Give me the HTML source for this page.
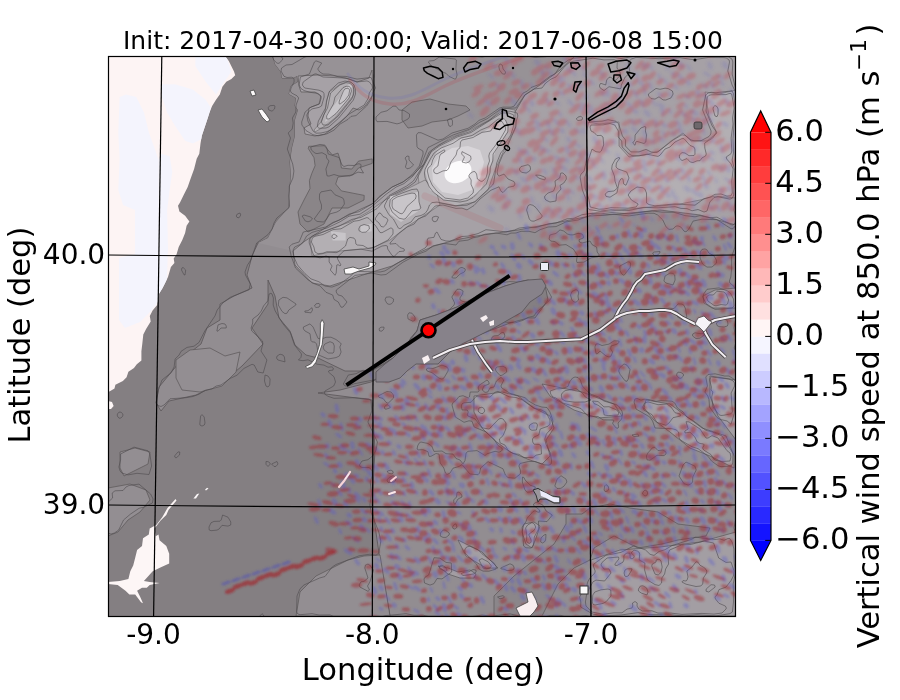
<!DOCTYPE html>
<html><head><meta charset="utf-8"><style>
html,body{margin:0;padding:0;background:#fff;width:900px;height:700px;overflow:hidden}
svg{display:block}
text{font-family:"DejaVu Sans","Liberation Sans",sans-serif;fill:#000}
</style></head><body>
<svg width="900" height="700" viewBox="0 0 900 700">
<rect x="0" y="0" width="900" height="700" fill="#fff"/>
<defs><filter id="blur12" x="-50" y="-50" width="1000" height="800" filterUnits="userSpaceOnUse"><feGaussianBlur stdDeviation="12"/></filter>
<mask id="mSp" maskUnits="userSpaceOnUse" x="0" y="0" width="900" height="700"><rect x="0" y="0" width="900" height="700" fill="#000"/><g filter="url(#blur12)"><polygon points="540,225 736,215 736,530 600,520 540,430" fill="rgb(255,255,255)"/><polygon points="372,380 540,300 600,400 600,616 372,616" fill="rgb(230,230,230)"/><polygon points="320,410 480,400 470,520 380,560 320,520" fill="rgb(255,255,255)"/><polygon points="590,500 736,500 736,545 590,555" fill="rgb(255,255,255)"/><polygon points="590,555 736,545 736,616 590,616" fill="rgb(153,153,153)"/><polygon points="420,256 540,230 560,300 420,330" fill="rgb(153,153,153)"/><polygon points="480,56 736,56 736,220 540,230 470,200" fill="rgb(115,115,115)"/><polygon points="425,150 450,130 490,112 512,106 515,125 500,160 485,195 460,205 430,200 418,180" fill="rgb(0,0,0)"/></g></mask>
<filter id="sb" x="0" y="0" width="900" height="700" filterUnits="userSpaceOnUse"><feGaussianBlur stdDeviation="0.9"/></filter>
<filter id="sb2" x="0" y="0" width="900" height="700" filterUnits="userSpaceOnUse"><feGaussianBlur stdDeviation="1.4"/></filter>
<clipPath id="cpOc"><polygon points="108,56 225,56 228.8,61.1 234,71.4 235.2,75.3 231.4,79.1 226.3,81.7 222.4,86.8 219.8,94.6 216,99.7 212.1,106.1 209.5,112.6 207,120.3 204.4,128 201.8,135.7 200.5,143.4 199.3,153.7 196.7,158.8 194.1,169.1 190.3,179.4 187.7,187.1 183.8,194.8 180,202.5 178,205.7 179.4,211.4 185.1,215.7 189.4,221.4 186.6,225.7 185.1,232.9 182.3,240 178.7,247.1 176.6,254.3 173.7,258.6 174.4,262.9 170.9,267.1 168,277.1 165.1,282.9 162.3,288.6 159,293.7 157.2,304.9 152.6,310.4 149.8,316 150.7,321.6 146.1,329 143.3,334.6 142.3,343.8 141.4,351.3 141.4,360.6 136.8,364.3 134,368 128.4,371.7 126.6,377.3 122.9,381 115.4,384.7 114.5,388.4 109.9,391.2 108,392.1"/></clipPath>
<clipPath id="cpAx"><rect x="108" y="56" width="628" height="560"/></clipPath></defs>
<g id="map" clip-path="url(#cpAx)">
<rect x="108" y="56" width="628" height="560" fill="#847f82"/>
<polygon points="273,56 275,64 281,72 282,78 293,78 297,76 298,82 291,86 289,94 296,98 295,106 298,110 295,120 295,136 292,148 290,162 291,176 289,196 290,206 276,222 268,238 258,243 252,256 247,275 252,288 234,296 220,304 220,320 207,328 201,344 183,358 159,387 156,403 161,411 169,401 196,395 223,382 242,366 263,344 252,328 268,304 268,280 275,296 279,318 290,331 295,345 306,355 318,358 345,371 371,371 393,358 406,345 417,331 420,320 436,315 457,307 478,296 505,286 528,280 545,285 548,300 535,318 528,318 510,323 489,331 468,339 446,350 420,361 398,369 371,382 340,390 318,393 372,400 375,450 372,505 380,560 390,616 736,616 736,56" fill="#928d91" stroke="#5a5658" stroke-width="0.8"/>
<polygon points="273,56 575,56 560,70 540,85 525,95 515,112 501,122 487,126 473,131 459,136 445,147 434,157 424,164 413,175 403,182 392,187 382,195 372,204 361,209 347,216 333,223 319,232 305,241 293,251 258,243 268,238 276,222 290,206 289,196 291,176 290,162 292,148 295,136 295,120 298,110 295,106 296,98 289,94 291,86 298,82 297,76 293,78 282,78 281,72 275,64" fill="#979296"/>
<polygon points="308.8,146.3 324.3,145.7 332.3,154.9 338,153.1 340.2,160 341.4,168 351.7,169.1 358.5,161.1 372.2,158.9 372.2,163.4 358.5,168 352.8,174.9 338,177.1 335.7,184 341.4,190.9 364.2,195.4 364,200 356,204 348,208 332,208 324,224 308,232 300,224 298,212 304,200 310,188.6 309.4,180.6 311.7,173.7 315.1,165.7 314,157.7 308.3,148.6" fill="#8a8588" stroke="#5a5658" stroke-width="0.7"/>
<polygon points="402,110 412,102 430,99 448,104 466,106 470,110 458,116 448,120 432,122 422,126 408,128 402,120" fill="#8c878b" stroke="#5a5658" stroke-width="0.7"/>
<polygon points="298,76 317,75 335,76 349,79 357,82 369,78 372,70 373,95 365,106 359,110 353,108 347,116 341,122 333,128 325,134 315,136 305,134 304,128 311,124 308,116 309,108 319,104 321,96 315,92 301,92 299,86" fill="#a6a1a6" stroke="#5a5658" stroke-width="0.7"/>
<polygon points="293,251 305,241 319,232 333,223 347,216 361,209 372,204 382,195 392,187 403,182 413,175 424,164 434,157 445,147 459,136 473,131 487,126 501,122 515,112 525,95 540,85 560,70 575,56 736,56 736,225 700,215 660,210 620,214 590,216 560,222 539,226 518,230 497,233 476,236 455,240 434,246 413,255 392,266 372,272 351,279 330,286 312,283 295,265" fill="#a6a1a6" stroke="#5a5658" stroke-width="0.7"/>
<polygon points="418,175 432,150 450,138 470,130 490,120 503,108 515,110 515,128 505,148 495,170 488,190 475,202 455,206 435,202 420,192" fill="#b3afb3" stroke="#6a6668" stroke-width="0.6"/>
<polygon points="587,122 599,124 619,122 619,146 629,157 645,155 659,151 671,141 683,133 691,141 707,141 717,133 709,116 705,92 719,94 736,90 736,198 715,196 700,200 680,204 660,206 640,208 620,210 600,212 587,214" fill="#b3afb3" stroke="#6a6668" stroke-width="0.6"/>
<polygon points="329,92 341,84 349,81 354,85 353,96 345,106 335,118 325,126 315,132 314,130 321,122 325,112 327,100" fill="#b3afb3" stroke="#6a6668" stroke-width="0.6"/>
<polygon points="310,238 330,229 350,222 368,212 385,200 405,190 425,180 436,190 440,205 425,215 408,226 390,240 372,248 350,250 330,252 312,256" fill="#b3afb3" stroke="#6a6668" stroke-width="0.6"/>
<polygon points="425,170 438,150 455,140 478,135 495,125 505,118 508,130 496,150 488,172 480,192 465,200 445,200 430,190" fill="#c8c5c9"/>
<polygon points="343,90 349,84 352,86 350,96 341,108 331,118 325,122 327,114 335,104 341,96" fill="#c8c5c9"/>
<polygon points="330.8,231.3 345.7,233.1 345.7,240.6 332.7,240.6" fill="#c8c5c9"/>
<polygon points="360.6,225.7 371.7,223.8 371.7,231.3 360.6,233.1" fill="#c8c5c9"/>
<polygon points="390,196 418,192 420,210 401,222 390,214" fill="#c8c5c9"/>
<polygon points="432,168 440,155 452,148 468,146 480,150 484,162 480,178 472,190 458,195 442,192 433,182" fill="#d9d6da"/>
<ellipse cx="458" cy="172" rx="14" ry="10.5" transform="rotate(-25 458 172)" fill="#fcfbfc"/>
<polygon points="296,616 300,592 316,576 332,568 348,560 364,556 380,555 390,616" fill="#938e92" stroke="#5a5658" stroke-width="0.7"/>
<polygon points="176,360 190,350 210,348 225,356 240,352 236,372 222,386 200,392 182,390 176,378" fill="#938e92" stroke="#5a5658" stroke-width="0.7"/>
<polygon points="108,488 130,484 146,490 150,500 140,512 128,520 118,532 108,536" fill="#938e92" stroke="#5a5658" stroke-width="0.7"/>
<polygon points="120,452 135,448 150,452 148,464 136,470 124,476 120,468" fill="#938e92" stroke="#5a5658" stroke-width="0.7"/>
<polygon points="494,596 514,576 534,560 554,544 566,524 566,514 582,514 590,508 610,504 630,508 658,512 678,524 710,528 706,536 678,540 662,544 638,548 614,536 594,548 590,560 574,568 558,584 550,600 542,616 494,616" fill="#8b868a" stroke="#5a5658" stroke-width="0.7"/>
<polygon points="474,396 502,392 518,396 534,408 550,416 554,428 546,440 550,456 542,464 530,460 510,452 494,440 482,428 474,412" fill="#a39ea3" stroke="#5a5658" stroke-width="0.7"/>
<polygon points="542,384 582,392 614,404 622,416 598,418 574,410 550,396" fill="#a39ea3" stroke="#5a5658" stroke-width="0.7"/>
<polygon points="646,400 670,404 686,416 702,428 726,436 734,456 734,468 710,456 690,448 670,432 654,420 644,408" fill="#a39ea3" stroke="#5a5658" stroke-width="0.7"/>
<polygon points="458,540 482,552 498,568 486,568 466,556" fill="#a39ea3" stroke="#5a5658" stroke-width="0.7"/>
<polygon points="710,376 736,380 736,440 718,416 710,396" fill="#a39ea3" stroke="#5a5658" stroke-width="0.7"/>
<polygon points="703,296 715,290 736,288 736,308 712,308 704,303" fill="#a39ea3" stroke="#5a5658" stroke-width="0.7"/>
<polygon points="591,560 620,550 660,547 700,542 736,532 736,616 591,616" fill="#a39ea3" stroke="#5a5658" stroke-width="0.7"/>
<polygon points="438,566 448,568 458,572 470,570 476,574 474,578 460,578 448,574" fill="#a39ea3" stroke="#5a5658" stroke-width="0.7"/>
<polygon points="524,524 534,522 540,526 536,538 532,548 526,544 522,532" fill="#a39ea3" stroke="#5a5658" stroke-width="0.7"/>
<path d="M132.1,0.0 125.4,4.0 126.0,6.2 130.0,7.3 131.0,9.0 127.2,14.0 126.0,14.8 121.0,14.3 118.4,15.0 114.0,20.2 112.0,19.0 107.4,9.0 107.1,4.0 105.7,0.0M222.9,0.0 218.5,8.0 216.0,9.3 213.0,7.8 210.4,0.0M289.0,0.0 288.6,7.0 293.3,10.0 294.3,13.0 291.7,19.0 289.0,20.2 278.6,15.0 276.0,12.0 275.8,10.0 278.3,5.0 278.7,0.0M418.7,0.0 417.8,2.0 415.0,2.9 411.0,0.8 408.0,1.2 406.7,0.0M468.5,0.0 469.9,6.0 467.2,11.0 465.0,11.9 460.0,9.2 457.9,7.0 457.3,4.0 459.8,0.0M537.2,0.0 534.6,5.0 538.8,9.0 534.0,10.4 530.7,7.0 530.3,0.0M647.0,0.0 645.8,3.0 641.0,4.2 638.0,6.0 628.0,4.7 624.0,5.3 618.0,3.6 610.0,7.2 608.0,6.3 606.0,3.8 604.7,0.0M740.5,0.0 739.5,7.0 737.9,10.0 735.0,11.6 728.0,12.5 726.6,15.0 726.2,19.0 724.0,19.9 720.9,19.0 715.4,11.0 716.2,0.0M823.5,0.0 821.0,3.0 816.0,2.6 811.0,4.4 803.0,1.7 801.8,0.0M572.0,28.2 567.0,28.6 562.0,25.8 557.0,28.0 551.0,27.4 550.1,26.0 550.6,19.0 549.3,13.0 553.0,12.6 556.0,13.6 562.6,18.0 565.0,21.8 567.0,21.6 571.0,19.0 576.9,21.0 578.5,23.0 577.6,25.0 575.0,27.3 572.0,28.2M393.0,39.4 391.0,38.6 390.4,36.0 392.9,34.0 396.0,33.3 396.9,34.0 396.7,36.0 393.0,39.4M368.0,47.2 365.0,47.0 356.7,41.0 356.5,39.0 359.0,35.9 367.0,34.4 369.0,35.8 370.6,39.0 369.2,46.0 368.0,47.2M376.0,636.4 373.0,636.4 367.0,631.6 361.0,632.8 360.0,631.0 360.8,627.0 360.0,624.7 350.8,619.0 336.0,617.6 330.0,614.9 319.1,615.0 312.0,613.7 300.0,614.7 297.9,614.0 296.6,612.0 297.0,596.0 300.0,588.8 303.9,585.0 319.6,578.0 325.0,576.5 332.2,567.0 336.0,564.5 359.0,555.8 370.0,554.2 376.0,555.2 378.9,553.0 380.8,541.0 378.8,532.0 371.3,513.0 369.9,505.0 371.4,494.0 370.3,482.0 372.1,476.0 372.0,471.4 371.0,469.1 369.0,467.5 362.0,467.5 360.0,466.6 359.4,465.0 362.0,461.0 368.0,459.7 373.0,455.7 376.1,450.0 377.4,442.0 367.9,422.0 371.8,411.0 371.0,400.5 369.0,399.0 355.0,397.7 334.0,398.3 328.0,396.3 325.0,394.3 324.4,393.0 325.0,391.0 333.7,386.0 335.5,382.0 334.0,376.8 328.4,372.0 329.0,370.6 333.0,370.1 333.3,368.0 332.0,366.8 328.0,367.2 324.0,365.1 317.0,364.2 308.0,359.8 303.0,360.7 298.4,360.0 301.0,357.3 301.5,354.0 294.5,345.0 290.5,333.0 283.0,323.9 275.2,311.0 273.2,305.0 273.4,298.0 272.0,294.0 271.0,293.2 269.1,294.0 268.0,300.6 263.5,306.0 261.3,311.0 258.1,315.0 252.7,319.0 252.7,323.0 251.1,328.0 251.8,331.0 262.5,341.0 262.8,344.0 261.0,351.0 266.9,360.0 263.2,373.0 257.8,372.0 254.2,365.0 252.0,364.3 244.0,368.4 237.0,375.2 230.0,378.5 221.0,385.0 216.0,386.1 212.0,388.9 205.0,390.3 199.0,394.2 193.0,396.5 186.0,397.7 170.0,398.8 164.0,405.0 161.0,406.5 158.0,405.5 156.1,403.0 158.4,390.0 162.0,380.0 171.0,372.8 174.1,367.0 175.1,359.0 179.1,355.0 181.0,351.4 187.0,347.4 194.0,346.2 199.0,342.4 204.8,331.0 215.0,315.9 217.2,310.0 222.8,303.0 230.0,297.4 249.0,289.8 250.3,284.0 245.5,275.0 245.0,272.0 247.5,265.0 250.8,260.0 256.7,243.0 268.0,234.6 272.1,229.0 274.0,223.0 276.9,218.0 288.9,208.0 289.3,186.0 292.9,178.0 293.9,171.0 292.7,164.0 287.3,149.0 290.5,138.0 288.2,133.0 292.2,129.0 293.2,123.0 292.4,118.0 295.8,112.0 296.1,105.0 298.7,98.0 297.0,95.8 291.6,93.0 290.4,91.0 291.0,88.0 294.1,82.0 294.0,78.5 292.0,77.2 287.0,77.5 284.0,76.3 281.0,71.0 281.6,68.0 286.0,65.0 292.0,64.5 305.0,56.9 315.0,54.5 331.0,56.2 347.0,52.7 357.0,54.0 363.0,51.2 367.0,53.2 378.0,55.6 385.0,54.8 392.0,52.2 408.0,55.8 416.0,53.8 423.0,55.1 426.1,54.0 428.1,52.0 424.9,45.0 419.0,43.0 420.0,39.0 423.0,37.1 427.6,39.0 428.3,43.0 432.0,47.7 441.4,52.0 447.0,53.2 458.0,52.4 464.0,54.8 482.0,57.1 494.0,54.6 504.0,55.5 509.0,54.8 515.0,56.8 530.0,56.6 535.0,57.5 546.0,56.7 551.0,55.0 563.0,53.5 589.0,53.3 601.0,51.5 609.0,53.7 621.0,54.5 636.0,52.4 648.0,52.4 659.0,53.7 673.0,53.0 683.0,51.5 691.0,53.2 710.0,53.0 720.0,51.7 727.0,52.5 734.0,54.6 736.0,56.4 736.9,59.0 736.4,74.0 740.7,106.0 738.4,140.0 738.1,161.0 740.8,175.0 740.9,183.0 738.8,200.0 739.5,210.0 742.4,215.0 743.0,218.0 739.6,231.0 735.2,240.0 734.9,247.0 731.6,257.0 731.6,269.0 730.8,277.0 729.4,281.0 729.8,283.0 734.0,286.4 735.6,289.0 737.7,296.0 739.1,306.0 739.1,311.0 735.2,321.0 734.1,328.0 736.0,342.0 734.2,348.0 737.0,354.0 735.0,370.0 735.9,374.0 743.2,386.0 740.0,391.1 737.8,397.0 738.3,408.0 735.7,442.0 737.9,456.0 735.3,485.0 736.0,488.3 738.5,492.0 739.1,500.0 737.7,507.0 738.3,514.0 735.3,521.0 734.0,528.0 738.2,542.0 738.4,567.0 739.6,575.0 737.8,583.0 738.9,607.0 737.0,614.1 733.0,617.4 724.0,619.4 714.0,620.4 708.0,618.9 696.0,618.0 680.0,621.6 672.0,618.8 663.0,619.0 657.0,620.7 638.0,616.7 617.0,619.4 605.0,619.9 586.0,615.6 567.0,617.6 561.0,615.4 550.0,615.4 545.0,616.9 537.0,616.5 528.0,618.1 510.0,613.9 491.0,616.2 482.0,615.1 460.0,618.4 449.0,617.1 440.0,620.6 435.0,618.1 423.0,615.2 414.0,615.3 406.0,613.7 385.0,615.7 379.0,618.0 372.0,619.3 370.3,622.0 371.0,625.5 373.0,627.2 377.5,628.0 376.0,632.0 376.6,636.0 376.0,636.4M73.0,46.4 68.8,41.0 69.6,39.0 71.0,38.2 73.1,39.0 73.8,45.0 73.0,46.4M9.0,46.3 6.9,46.0 5.4,44.0 5.8,41.0 7.0,40.2 10.4,43.0 10.4,45.0 9.0,46.3M33.0,61.0 30.0,60.6 28.2,58.0 28.4,54.0 30.0,51.8 32.0,52.0 33.7,54.0 34.0,59.0 33.0,61.0M279.0,63.3 277.0,63.2 273.8,60.0 272.5,57.0 273.0,54.0 277.0,54.4 282.8,58.0 282.4,60.0 279.0,63.3M84.0,86.4 79.0,85.3 73.0,80.7 73.0,79.4 76.9,77.0 79.0,73.2 81.7,75.0 85.1,83.0 85.2,85.0 84.0,86.4M843.0,88.2 839.0,89.0 836.0,88.4 832.3,84.0 832.2,83.0 838.0,76.7 843.0,77.9 847.0,77.4 849.0,79.6 849.2,83.0 848.0,86.3 843.0,88.2M25.0,115.1 22.0,115.5 19.6,114.0 19.0,112.0 22.2,107.0 22.0,105.0 15.2,101.0 19.0,95.7 23.5,92.0 25.9,86.0 28.0,85.4 31.3,88.0 29.8,91.0 29.5,95.0 33.4,99.0 33.9,101.0 32.0,104.4 27.0,105.2 25.1,107.0 24.8,109.0 26.6,113.0 25.0,115.1M0.0,90.4 5.0,91.0 9.4,98.0 6.3,105.0 7.0,108.0 5.0,108.9 2.0,108.4 0.0,109.7M272.0,111.2 268.8,110.0 268.0,107.6 270.0,105.7 274.0,105.4 275.0,106.1 274.5,109.0 272.0,111.2M34.0,127.3 32.0,127.6 26.9,126.0 25.5,124.0 26.0,120.8 28.0,119.5 34.0,118.6 35.6,124.0 35.3,126.0 34.0,127.3M879.0,127.2 877.0,127.2 874.0,125.2 870.0,125.1 869.5,124.0 874.0,120.7 877.0,119.9 881.1,124.0 880.5,126.0 879.0,127.2M349.8,176.0 358.0,172.1 363.5,173.0 360.6,168.0 361.1,165.0 360.4,164.0 358.0,163.8 354.0,165.5 348.0,165.3 344.0,166.5 342.0,165.0 339.0,157.5 328.2,154.0 326.8,148.0 325.0,145.2 320.0,144.4 310.7,147.0 311.3,150.0 315.0,153.1 317.0,153.6 322.0,152.7 326.3,155.0 326.6,158.0 329.0,161.0 325.9,169.0 327.0,175.8 329.0,176.1 334.0,174.5 339.0,176.0 349.8,176.0M88.0,155.5 86.7,155.0 86.3,153.0 89.1,147.0 92.0,145.9 96.1,147.0 97.7,150.0 97.0,152.0 91.0,152.3 88.0,155.5M410.1,168.0 413.6,165.0 409.0,160.0 409.0,156.4 407.0,156.0 405.1,158.0 406.9,162.0 405.4,167.0 407.0,168.8 410.1,168.0M30.0,203.2 27.0,202.7 24.2,200.0 21.1,187.0 15.5,180.0 15.7,173.0 18.0,170.2 21.0,169.9 28.0,172.2 29.7,174.0 33.0,182.4 37.8,185.0 35.6,189.0 36.6,191.0 40.0,194.0 40.1,196.0 35.0,198.1 30.0,203.2M834.0,183.1 832.0,182.6 829.9,180.0 830.0,176.0 834.3,181.0 834.0,183.1M895.0,186.7 889.0,186.5 887.9,186.0 887.8,184.0 890.0,182.2 894.2,183.0 895.9,185.0 895.0,186.7M69.0,208.3 62.0,208.9 61.0,208.7 60.3,207.0 61.8,202.0 60.9,192.0 62.8,189.0 65.0,187.7 68.0,188.9 71.6,193.0 71.7,199.0 69.0,208.3M323.3,222.0 325.9,220.0 330.0,213.9 336.9,212.0 340.3,210.0 344.4,204.0 343.9,200.0 342.8,198.0 335.0,194.8 331.0,190.0 321.0,191.9 319.6,194.0 319.4,199.0 321.5,205.0 321.4,209.0 314.2,219.0 317.0,221.4 323.3,222.0M853.0,221.6 851.4,221.0 851.6,213.0 853.0,210.7 855.0,210.0 856.0,212.0 854.5,219.0 853.0,221.6M239.0,217.8 237.0,217.4 236.2,216.0 237.3,214.0 240.0,213.0 240.8,215.0 239.0,217.8M310.3,221.0 312.5,219.0 310.8,217.0 304.0,215.0 302.1,216.0 305.3,221.0 308.0,221.8 310.3,221.0M185.0,275.0 184.0,274.8 181.5,270.0 181.9,268.0 183.0,267.4 185.7,270.0 185.0,275.0M673.0,285.0 675.1,280.0 674.7,275.0 673.0,273.4 670.0,273.0 665.0,276.1 663.9,281.0 665.9,283.0 673.0,285.0M348.8,386.0 354.0,383.8 374.0,379.9 383.0,376.0 391.0,374.7 407.0,363.9 416.1,362.0 429.0,357.5 438.0,349.0 450.0,347.0 461.0,342.3 481.0,331.4 486.8,330.0 495.0,323.1 492.9,315.0 497.0,307.3 504.3,307.0 505.3,316.0 503.8,320.0 504.4,322.0 515.0,322.9 523.0,320.3 528.0,317.4 534.0,316.0 536.6,312.0 545.7,304.0 550.6,299.0 551.5,297.0 546.7,288.0 544.7,286.0 540.4,284.0 526.0,280.3 518.0,282.1 510.0,281.6 503.0,282.4 491.0,292.6 477.0,295.7 470.0,301.0 467.0,302.0 463.0,301.5 460.1,300.0 459.9,298.0 462.5,294.0 463.1,291.0 460.0,289.2 457.0,289.3 451.8,297.0 454.7,303.0 454.0,305.2 447.8,311.0 438.0,318.1 431.0,321.3 423.0,322.5 419.4,328.0 411.0,337.4 408.1,343.0 397.1,357.0 390.0,359.8 383.0,364.8 371.0,371.2 368.0,371.7 363.0,370.2 356.0,373.7 348.3,375.0 343.3,384.0 345.2,386.0 348.8,386.0M0.0,283.3 2.0,283.6 3.5,285.0 6.2,294.0 4.9,297.0 0.0,298.1M806.0,297.4 799.7,297.0 798.0,292.6 794.0,288.3 795.0,285.0 800.0,284.2 800.9,285.0 802.0,289.8 805.0,293.2 806.0,297.4M391.1,304.0 393.2,302.0 393.6,299.0 390.0,296.9 386.0,297.2 385.0,299.9 387.0,303.5 389.0,304.4 391.1,304.0M767.0,308.1 765.0,308.2 762.8,306.0 762.3,303.0 764.0,300.6 769.0,301.6 770.8,303.0 770.2,305.0 767.0,308.1M727.4,326.0 728.0,324.0 727.4,321.0 725.0,318.4 722.0,318.7 716.4,323.0 717.0,325.5 719.0,326.6 724.0,327.0 727.4,326.0M107.0,349.6 104.0,349.5 103.1,348.0 104.1,346.0 107.0,344.6 107.0,349.6M28.0,357.1 26.0,357.6 25.0,356.1 22.4,350.0 22.2,347.0 23.0,346.4 28.0,346.2 30.4,348.0 30.6,352.0 28.0,357.1M102.0,358.2 100.0,358.5 98.6,357.0 101.0,352.2 103.6,356.0 102.0,358.2M285.0,361.9 277.9,360.0 276.5,358.0 277.1,356.0 280.0,354.2 283.0,355.0 284.4,357.0 285.0,361.9M74.0,376.2 69.6,375.0 68.7,374.0 69.0,372.1 72.0,372.1 74.0,376.2M268.0,387.0 266.0,386.1 264.5,381.0 265.0,375.0 268.0,376.0 270.1,379.0 269.7,385.0 268.0,387.0M774.0,399.4 771.0,398.7 769.5,396.0 768.4,387.0 770.0,384.0 775.0,384.4 782.6,388.0 777.0,393.8 775.7,398.0 774.0,399.4M822.0,418.2 819.0,417.6 816.4,415.0 821.3,410.0 824.0,405.2 827.0,403.7 828.9,404.0 830.0,406.9 829.4,409.0 824.7,412.0 824.0,416.0 822.0,418.2M121.0,418.0 119.0,418.2 117.3,416.0 117.4,414.0 119.0,412.1 121.0,412.2 122.9,414.0 122.8,416.0 121.0,418.0M63.0,429.3 61.0,429.4 47.0,424.6 42.3,419.0 42.5,418.0 56.0,413.8 61.0,414.0 60.9,419.0 65.1,425.0 64.7,428.0 63.0,429.3M202.0,426.1 200.0,425.1 199.8,424.0 200.6,416.0 202.0,414.6 204.2,417.0 205.0,423.0 204.3,425.0 202.0,426.1M0.0,439.0 6.0,441.3 7.2,444.0 5.8,446.0 0.0,449.2M149.0,474.5 137.0,473.3 128.0,474.9 121.8,473.0 120.1,471.0 118.9,467.0 120.6,460.0 120.6,454.0 134.0,447.1 148.0,450.8 149.9,454.0 151.6,466.0 149.0,474.5M176.0,458.0 174.7,457.0 175.0,455.4 178.0,451.9 179.8,452.0 179.5,455.0 176.0,458.0M268.0,466.5 266.0,464.3 266.0,461.5 268.0,461.6 270.0,463.0 270.3,464.0 268.0,466.5M276.0,466.4 274.0,466.5 271.6,464.0 277.0,461.5 278.0,464.0 276.0,466.4M688.1,485.0 690.8,484.0 692.6,482.0 692.8,477.0 696.2,470.0 694.8,466.0 686.0,462.1 683.0,465.0 679.0,476.0 684.0,483.7 688.1,485.0M393.2,473.0 392.7,471.0 391.0,470.1 387.5,471.0 387.3,472.0 389.0,473.4 392.0,473.9 393.2,473.0M394.1,482.0 395.4,481.0 395.8,479.0 395.0,477.0 393.0,475.6 389.0,477.6 386.9,480.0 388.0,482.4 394.1,482.0M875.0,486.3 872.0,486.4 868.3,485.0 866.8,479.0 873.0,476.2 877.0,476.5 877.9,478.0 877.3,484.0 875.0,486.3M111.0,534.0 109.0,533.5 108.0,532.1 100.8,515.0 106.0,507.7 108.3,502.0 112.6,498.0 112.2,493.0 115.0,490.8 123.0,490.5 126.0,487.0 129.0,485.5 139.0,484.1 150.6,494.0 153.1,499.0 152.4,503.0 144.0,507.1 139.0,508.3 130.6,514.0 123.5,520.0 118.7,530.0 114.4,533.0 111.0,534.0M78.0,516.5 74.0,516.5 66.0,511.0 60.7,510.0 57.0,503.0 62.0,495.3 74.0,492.9 78.0,495.2 83.6,501.0 84.1,503.0 83.3,507.0 79.6,515.0 78.0,516.5M851.0,516.1 848.0,516.2 847.2,515.0 846.4,508.0 848.0,506.5 852.0,506.6 855.2,510.0 854.5,513.0 851.0,516.1M822.0,519.6 818.0,519.4 816.0,518.3 815.3,515.0 816.0,512.2 819.0,511.8 821.4,513.0 822.7,517.0 822.0,519.6M217.0,530.1 211.0,530.7 209.2,530.0 209.0,527.0 211.0,522.8 214.0,521.4 220.0,521.2 221.2,520.0 222.6,515.0 228.0,517.2 230.8,522.0 230.7,525.0 228.0,526.1 222.0,525.3 219.1,529.0 217.0,530.1M800.0,538.2 798.3,538.0 800.2,530.0 803.0,527.4 805.0,527.5 806.3,530.0 803.0,536.1 800.0,538.2M542.4,543.0 544.4,542.0 545.6,540.0 546.0,534.4 544.0,535.0 541.0,538.0 540.7,542.0 542.4,543.0M0.0,537.3 3.0,537.5 8.0,539.7 10.1,542.0 9.0,544.4 3.0,548.1 0.0,548.7M784.0,616.2 781.0,615.9 778.5,614.0 778.1,610.0 785.0,604.3 792.0,605.1 794.3,609.0 794.0,611.3 792.0,613.4 784.0,616.2M263.0,625.3 261.0,625.9 259.0,625.1 256.8,621.0 257.9,618.0 262.0,613.7 263.5,615.0 264.9,622.0 263.0,625.3M0.0,618.3 2.9,620.0 7.9,627.0 7.4,632.0 0.0,637.3M685.0,635.2 683.0,635.8 679.0,635.3 675.8,633.0 675.5,629.0 679.0,623.1 680.0,622.8 684.0,625.7 686.0,628.6 686.9,632.0 685.0,635.2M294.0,644.3 291.0,644.2 289.2,642.0 290.0,639.4 292.0,637.8 295.0,638.0 296.2,640.0 296.0,642.0 294.0,644.3M590.0,645.5 588.0,645.4 586.5,644.0 586.5,642.0 588.0,640.2 590.0,640.6 591.1,642.0 591.3,644.0 590.0,645.5M388.0,650.4 385.5,650.0 384.5,647.0 385.0,645.6 388.9,648.0 388.0,650.4M301.0,656.3 297.4,652.0 297.3,650.0 299.0,648.4 301.0,648.4 303.3,652.0 303.1,655.0 301.0,656.3M775.0,661.6 770.0,658.4 764.0,659.2 759.0,656.7 755.0,656.5 753.7,655.0 754.0,653.2 755.0,652.0 757.0,652.0 760.0,654.8 774.0,656.8 776.1,660.0 775.0,661.6M430.0,669.1 429.0,669.4 428.0,668.3 426.3,663.0 421.7,660.0 425.0,659.4 427.6,662.0 431.0,663.6 431.8,666.0 430.0,669.1M479.0,687.1 477.2,686.0 474.9,680.0 469.7,677.0 467.5,671.0 468.0,669.4 478.0,668.6 481.0,667.2 488.5,674.0 490.6,679.0 489.8,682.0 479.0,687.1M677.0,686.2 672.0,685.9 669.0,682.0 676.0,675.3 679.0,674.5 682.3,675.0 683.3,676.0 682.9,677.0 679.0,684.9 677.0,686.2M861.0,686.1 856.0,686.0 855.4,680.0 856.6,678.0 858.1,678.0 862.8,682.0 862.7,685.0 861.0,686.1M90.0,693.4 88.0,693.7 83.7,689.0 83.4,682.0 85.0,679.8 87.0,680.1 95.4,685.0 94.0,689.1 90.0,693.4M163.0,684.1 161.6,684.0 154.8,682.0 162.2,680.0 164.4,682.0 163.0,684.1M146.0,690.6 144.0,690.4 143.1,689.0 142.9,686.0 144.0,685.0 149.3,686.0 148.7,688.0 146.0,690.6M180.4,699.0 182.7,694.0 181.9,691.0 183.0,689.9 184.4,691.0 184.6,694.0 186.0,695.4 188.0,695.9 192.0,694.4 192.0,699.0M488.7,699.0 488.4,691.0 491.0,689.3 495.0,690.7 500.0,690.0 503.0,690.7 506.0,694.3 506.9,699.0M175.5,699.0 174.1,695.0 175.0,692.6 176.7,694.0 177.4,699.0M47.3,699.0 48.0,696.6 50.0,694.6 57.0,693.3 59.8,695.0 60.5,699.0M82.8,699.0 84.0,696.2 89.0,694.1 91.8,699.0M343.0,307.1 341.0,307.2 338.3,302.0 334.0,299.4 332.7,295.0 326.0,292.3 320.0,285.9 314.0,283.6 308.0,279.9 295.5,268.0 291.2,256.0 289.2,247.0 292.0,244.2 299.1,242.0 303.3,232.0 325.7,227.0 333.0,222.4 339.0,220.4 349.0,214.1 359.0,211.7 372.0,204.0 376.0,200.7 379.0,196.7 392.4,187.0 403.0,182.0 412.0,174.8 419.3,166.0 423.1,154.0 422.9,151.0 418.0,148.2 417.0,146.7 416.4,135.0 418.0,132.7 421.0,132.7 438.0,140.2 443.0,139.0 452.0,133.0 468.0,128.3 475.0,124.0 479.0,120.4 485.1,118.0 499.6,108.0 503.0,107.1 511.0,107.2 514.0,106.2 523.0,93.1 527.5,91.0 531.0,87.5 539.0,84.6 550.0,76.3 554.9,74.0 559.0,68.1 564.0,63.2 568.5,60.0 574.0,58.1 594.0,56.5 614.0,57.3 621.0,58.6 638.0,55.7 660.0,57.1 681.0,56.2 693.0,57.1 724.0,56.0 728.7,57.0 732.0,59.1 732.8,62.0 732.2,74.0 736.0,91.0 737.8,107.0 735.9,161.0 737.2,170.0 737.3,184.0 735.8,210.0 737.4,220.0 736.0,225.0 733.0,228.7 731.0,228.7 717.0,219.7 702.0,219.2 693.0,221.1 688.9,229.0 686.0,231.8 684.0,231.2 681.0,227.1 678.0,225.9 676.0,226.1 672.9,229.0 669.0,229.4 666.1,227.0 662.8,220.0 657.7,215.0 654.0,213.3 648.0,213.2 629.0,215.9 613.0,214.2 601.0,215.3 592.0,214.7 578.0,220.0 566.0,221.9 556.0,226.6 548.0,227.0 540.0,229.7 535.0,232.7 529.0,231.3 521.0,231.3 516.0,233.0 511.0,233.1 507.0,234.8 496.0,233.0 485.0,234.2 478.0,236.9 473.0,237.7 468.0,240.1 459.0,241.2 456.0,245.0 444.0,243.4 433.0,245.8 426.0,251.2 418.0,254.2 403.3,262.0 386.0,274.5 381.0,275.0 372.0,273.1 355.0,275.4 336.3,290.0 336.2,292.0 338.0,294.9 342.0,296.0 347.0,302.0 343.0,307.1M455.0,79.2 449.0,76.4 446.0,73.3 442.0,71.9 431.0,65.5 428.3,62.0 429.4,61.0 434.0,60.5 439.0,57.2 455.1,59.0 456.4,60.0 455.9,69.0 457.1,75.0 456.0,78.6 455.0,79.2M322.0,135.0 318.0,135.8 313.0,134.7 306.0,130.6 301.9,125.0 301.7,122.0 305.1,112.0 311.1,107.0 319.5,104.0 321.2,98.0 320.8,96.0 318.0,93.4 310.0,92.3 304.0,90.5 301.0,88.5 299.1,85.0 300.4,77.0 309.4,74.0 314.4,62.0 316.0,60.8 321.7,63.0 317.7,69.0 319.8,72.0 323.0,74.0 329.0,74.2 337.0,76.2 346.0,76.4 357.0,79.1 371.0,77.4 375.5,88.0 372.7,93.0 371.3,99.0 366.6,106.0 356.0,115.6 351.0,116.4 348.0,119.4 340.2,124.0 334.0,130.1 327.0,133.8 322.0,135.0M505.0,74.1 502.5,74.0 499.5,70.0 498.8,66.0 500.0,63.9 502.2,65.0 503.1,69.0 505.6,72.0 505.0,74.1M400.0,123.1 397.0,123.9 387.0,121.4 377.0,121.7 376.0,119.9 376.0,117.0 381.0,112.3 387.0,110.8 393.0,106.2 396.0,106.2 399.1,110.0 404.0,110.5 409.5,114.0 409.5,117.0 408.0,119.0 400.0,123.1M451.0,126.4 449.0,126.0 447.4,120.0 450.0,118.7 452.0,119.5 452.5,121.0 452.4,125.0 451.0,126.4M584.0,262.1 577.0,262.5 576.5,261.0 577.3,255.0 573.3,249.0 566.0,244.6 559.0,245.2 555.0,241.6 550.6,241.0 549.1,239.0 549.9,235.0 556.0,233.4 560.0,229.9 563.7,231.0 567.5,234.0 570.0,234.8 573.0,234.9 578.0,233.3 582.0,234.0 583.3,236.0 583.3,238.0 579.0,239.7 579.4,242.0 582.0,243.0 590.0,241.0 592.0,244.6 596.6,247.0 597.2,252.0 599.3,255.0 598.0,256.8 591.0,257.8 584.0,262.1M712.0,267.0 707.0,267.1 702.5,264.0 700.1,258.0 700.3,252.0 702.0,249.4 705.0,248.9 707.0,249.9 708.8,253.0 714.0,255.9 716.4,260.0 716.6,263.0 712.0,267.0M657.0,255.5 654.0,255.5 652.6,253.0 654.0,252.0 660.0,251.5 659.8,253.0 657.0,255.5M624.0,275.3 622.0,274.2 620.1,271.0 619.8,266.0 628.0,261.8 629.8,262.0 630.7,264.0 630.0,267.6 624.0,275.3M456.0,278.0 452.5,278.0 451.8,277.0 459.6,268.0 462.0,267.4 465.0,268.8 465.4,270.0 464.3,272.0 460.1,274.0 456.0,278.0M724.0,309.0 715.0,309.4 706.0,303.5 702.8,297.0 703.6,294.0 707.0,289.3 719.0,287.9 727.7,291.0 730.4,293.0 733.5,299.0 734.0,306.1 732.0,308.0 724.0,309.0M576.0,302.2 574.0,302.0 572.0,300.3 570.5,295.0 572.0,291.4 576.0,289.6 578.0,290.6 578.7,293.0 578.0,296.0 578.6,300.0 576.0,302.2M287.0,313.2 285.0,313.7 282.0,311.4 278.3,305.0 278.9,300.0 283.0,297.3 287.0,297.9 296.0,304.0 295.8,305.0 288.8,310.0 287.0,313.2M319.0,307.1 316.0,307.5 314.4,306.0 316.0,303.8 319.0,303.4 320.2,305.0 319.0,307.1M685.0,319.6 682.0,319.7 677.4,317.0 678.6,313.0 676.0,310.8 671.0,311.9 664.5,310.0 669.0,308.2 674.0,308.6 678.0,303.9 682.0,304.1 684.0,305.4 685.6,309.0 686.8,317.0 685.0,319.6M311.0,312.8 305.0,312.2 304.8,311.0 308.0,310.7 312.0,307.7 312.5,310.0 311.0,312.8M413.0,321.3 408.0,318.9 407.6,315.0 409.0,312.8 412.0,313.2 415.0,317.1 415.0,319.9 413.0,321.3M218.0,331.2 216.9,331.0 218.0,324.9 222.0,323.5 225.0,324.0 226.3,326.0 226.2,328.0 221.0,328.0 218.0,331.2M328.0,359.0 318.7,355.0 316.5,344.0 315.0,342.2 312.0,341.8 311.0,340.7 310.0,333.7 305.0,331.0 303.4,329.0 303.4,327.0 310.0,323.9 313.1,327.0 318.0,338.3 321.0,339.3 326.0,337.3 331.0,337.2 336.0,339.5 340.6,343.0 341.2,344.0 339.8,347.0 341.1,352.0 339.4,356.0 336.0,357.6 328.0,359.0M382.0,331.1 379.6,331.0 379.0,328.7 381.0,327.2 384.0,327.1 383.9,329.0 382.0,331.1M498.0,341.3 492.0,341.7 491.3,340.0 492.0,337.3 494.0,335.9 498.0,335.6 502.0,332.4 504.0,332.8 504.9,336.0 504.0,337.9 498.0,341.3M700.0,338.2 696.0,338.6 692.6,336.0 692.7,334.0 695.0,332.8 701.0,333.8 704.0,333.1 704.0,335.1 700.0,338.2M611.0,356.1 609.0,357.0 606.0,355.9 600.0,351.0 597.1,354.0 596.0,353.5 594.9,347.0 596.0,344.0 598.0,343.8 602.0,345.5 609.0,344.1 614.0,340.8 618.8,341.0 619.2,342.0 617.5,344.0 611.0,346.0 610.7,349.0 612.6,352.0 611.0,356.1M627.0,381.3 625.0,380.8 620.0,374.2 618.7,371.0 619.4,368.0 624.0,363.9 627.0,365.2 630.0,369.6 628.3,379.0 627.0,381.3M442.0,379.2 439.0,378.2 432.0,372.6 427.1,371.0 426.3,369.0 428.0,368.1 433.0,368.5 442.0,365.1 447.0,367.1 448.3,369.0 448.0,371.1 444.0,377.9 442.0,379.2M502.0,375.3 500.0,375.5 495.9,371.0 495.4,369.0 496.8,367.0 503.0,366.3 506.0,367.9 506.7,372.0 502.0,375.3M681.0,378.3 679.0,378.1 676.8,376.0 676.7,374.0 678.0,372.1 681.0,372.5 683.3,374.0 683.4,376.0 681.0,378.3M731.0,424.3 727.1,421.0 720.0,419.4 717.0,417.5 709.5,407.0 709.0,399.5 707.8,396.0 704.9,392.0 707.4,386.0 705.8,377.0 708.0,374.5 715.0,373.8 724.6,376.0 729.0,376.0 734.0,379.2 735.9,382.0 736.3,386.0 734.3,394.0 734.4,413.0 731.0,424.3M618.0,428.2 616.1,428.0 612.9,424.0 612.6,423.0 614.0,421.0 613.5,420.0 603.0,419.9 598.0,416.5 588.0,416.2 581.0,408.5 562.9,403.0 556.0,398.1 552.9,397.0 550.7,394.0 550.1,391.0 556.0,388.9 562.0,388.6 568.0,386.5 569.5,382.0 572.6,378.0 575.0,377.0 578.0,377.5 580.4,380.0 582.3,386.0 590.0,393.9 599.0,397.2 604.0,401.1 616.0,404.5 618.5,406.0 621.9,411.0 622.6,414.0 621.6,419.0 618.0,423.0 618.7,427.0 618.0,428.2M515.0,478.2 508.0,477.6 505.4,475.0 503.0,468.8 488.0,461.7 480.6,468.0 479.6,473.0 478.0,474.7 470.0,474.0 462.0,464.6 459.0,466.5 453.0,468.2 450.0,473.1 447.0,474.5 445.4,473.0 443.8,468.0 440.3,463.0 439.0,454.1 436.0,453.5 431.0,456.3 429.0,456.3 428.0,451.7 423.0,449.7 418.0,449.9 417.1,449.0 417.6,446.0 419.0,443.2 420.9,442.0 428.0,443.5 431.7,446.0 434.0,451.4 442.0,451.0 446.0,453.7 453.0,454.1 456.0,458.5 460.0,460.0 463.0,463.9 465.0,460.5 466.0,453.1 468.0,451.3 477.0,450.6 485.0,455.5 487.0,453.8 495.0,451.3 499.0,452.2 501.0,451.4 502.2,450.0 502.0,448.0 498.0,445.5 494.0,439.0 486.0,431.9 474.2,427.0 472.0,421.2 469.0,420.8 464.0,422.3 455.3,417.0 452.0,405.0 453.0,402.4 456.0,400.3 459.0,396.5 463.0,395.7 468.3,398.0 469.4,397.0 470.2,392.0 478.0,392.0 479.2,391.0 478.2,388.0 479.0,385.4 487.0,380.0 488.9,382.0 489.1,384.0 483.9,386.0 482.2,390.0 485.0,392.4 487.8,392.0 490.0,387.9 494.0,387.0 496.4,381.0 501.0,377.4 503.8,380.0 500.9,386.0 501.8,388.0 510.0,393.3 525.0,397.7 528.6,401.0 535.4,405.0 542.0,407.1 547.0,407.5 550.1,412.0 552.9,421.0 551.8,428.0 546.4,434.0 544.8,439.0 545.8,444.0 550.3,453.0 551.6,461.0 551.1,464.0 549.0,465.1 544.0,464.8 535.0,461.4 528.0,461.6 520.0,463.5 518.9,466.0 520.6,471.0 520.3,474.0 515.0,478.2M388.0,403.4 386.0,402.3 383.0,398.4 379.0,397.4 378.0,396.0 387.0,391.5 391.1,392.0 393.4,395.0 393.6,398.0 388.0,403.4M730.0,466.1 721.0,466.7 718.0,465.7 711.5,461.0 708.0,456.2 698.0,448.6 692.0,446.8 681.0,440.4 679.1,438.0 678.6,432.0 676.0,429.8 672.0,428.7 655.0,428.0 652.6,421.0 649.8,417.0 636.0,409.0 634.1,402.0 634.9,399.0 637.0,398.4 641.0,400.2 644.0,399.2 649.0,399.6 656.0,401.4 661.0,400.6 672.0,401.2 674.8,403.0 677.4,408.0 683.0,411.9 686.9,417.0 693.0,420.5 706.0,430.4 712.0,431.9 722.0,435.9 733.0,453.2 732.7,463.0 732.0,465.1 730.0,466.1M386.0,409.2 384.9,409.0 384.4,407.0 386.0,405.1 388.0,404.7 390.3,407.0 389.8,408.0 386.0,409.2M639.0,436.1 634.0,436.6 632.0,435.0 637.8,434.0 639.0,436.1M650.0,460.2 647.0,459.8 646.4,456.0 648.0,452.8 653.0,447.2 655.0,447.4 658.0,450.6 663.0,450.0 666.0,452.0 666.0,454.0 664.0,455.6 657.0,455.3 650.0,460.2M561.0,488.3 557.0,488.5 554.8,486.0 557.0,479.3 561.0,475.7 566.0,479.1 566.9,482.0 564.0,486.1 561.0,488.3M530.0,492.0 527.0,492.2 525.0,490.0 522.3,482.0 522.5,477.0 524.0,477.5 525.1,480.0 530.0,485.1 535.4,487.0 533.5,491.0 530.0,492.0M607.0,491.3 605.0,491.5 604.1,490.0 604.6,486.0 606.0,484.6 608.0,486.0 608.7,488.0 608.5,490.0 607.0,491.3M645.0,496.0 642.5,494.0 643.0,491.9 645.0,490.0 646.9,491.0 647.7,493.0 647.0,495.1 645.0,496.0M455.0,504.4 453.8,503.0 453.7,500.0 456.5,497.0 457.0,492.4 459.0,492.1 461.7,495.0 462.0,497.0 458.0,499.0 455.0,504.4M531.0,548.0 526.0,547.8 523.6,546.0 522.1,527.0 525.8,522.0 527.3,518.0 533.0,511.6 535.0,510.7 538.0,512.2 539.9,512.0 539.5,510.0 533.2,505.0 534.7,503.0 537.0,502.2 543.0,505.2 546.1,511.0 552.3,515.0 547.0,521.6 538.5,521.0 538.6,529.0 534.3,537.0 533.5,545.0 531.0,548.0M455.0,529.2 453.0,528.4 452.5,527.0 454.0,524.6 456.0,523.8 457.0,527.0 455.0,529.2M446.0,537.4 443.0,537.4 440.2,536.0 440.5,533.0 443.0,530.1 445.1,530.0 449.3,533.0 449.1,535.0 446.0,537.4M684.0,616.0 671.0,614.8 650.0,614.6 638.0,612.6 621.0,615.0 604.0,615.8 593.0,614.2 580.7,607.0 580.8,602.0 579.6,597.0 583.0,591.0 586.3,588.0 587.7,582.0 589.9,578.0 594.8,573.0 595.2,571.0 593.3,566.0 593.8,564.0 606.0,555.3 621.0,552.4 634.0,545.8 645.6,550.0 650.0,554.3 654.0,555.4 659.0,551.5 665.0,549.7 672.0,545.6 692.0,539.2 695.0,537.1 715.0,539.5 720.0,538.9 724.0,540.3 728.0,538.5 730.0,538.7 732.5,543.0 733.9,549.0 734.2,563.0 735.6,572.0 733.2,584.0 733.5,602.0 732.4,612.0 730.0,613.6 716.0,615.9 697.0,614.8 684.0,616.0M489.0,571.2 483.0,571.1 479.0,569.0 476.4,564.0 465.0,553.0 464.7,550.0 466.6,547.0 470.0,546.2 478.0,549.7 482.0,553.8 493.9,563.0 496.4,567.0 496.0,569.0 489.0,571.2M430.0,585.1 424.5,583.0 424.0,579.0 425.0,577.2 428.7,575.0 434.0,557.7 440.0,558.2 446.0,562.4 451.3,563.0 451.7,572.0 442.0,578.9 437.0,578.5 434.0,583.6 430.0,585.1M658.2,575.0 661.0,572.3 662.2,567.0 661.0,561.0 659.0,559.2 656.1,560.0 656.0,562.0 652.3,564.0 651.7,566.0 655.0,574.1 658.2,575.0M512.0,570.2 507.0,570.6 504.0,569.1 501.3,569.0 500.7,568.0 510.0,563.8 512.8,565.0 514.0,567.0 514.0,569.0 512.0,570.2M368.0,591.3 360.0,587.1 359.1,585.0 361.0,581.8 364.0,581.4 368.0,578.0 364.8,568.0 365.5,565.0 368.0,564.1 369.7,565.0 373.5,570.0 369.9,582.0 367.5,586.0 369.5,590.0 368.0,591.3M466.0,575.2 463.0,575.5 461.3,574.0 463.0,572.3 469.0,571.7 473.0,569.5 476.0,570.1 476.1,572.0 474.0,573.9 466.0,575.2M503.0,598.1 500.0,598.8 497.5,597.0 503.0,595.6 504.5,597.0 503.0,598.1M332.0,287.1 325.0,286.1 319.0,281.8 311.0,278.9 305.0,273.7 297.5,265.0 293.9,257.0 293.1,250.0 294.7,247.0 301.1,244.0 303.9,241.0 306.6,236.0 312.0,232.4 327.0,228.0 340.0,221.8 349.0,216.2 360.0,214.2 371.0,207.1 386.0,194.3 396.2,187.0 404.0,183.6 413.0,176.1 420.6,166.0 428.0,147.6 453.0,135.0 469.0,129.4 480.0,122.1 487.0,118.8 501.0,108.9 516.0,107.9 524.8,95.0 534.3,89.0 542.0,88.0 545.7,83.0 551.0,79.1 556.0,76.9 565.1,66.0 569.0,62.8 573.0,61.3 593.0,58.2 604.0,59.9 614.0,59.7 617.3,61.0 617.0,68.0 620.0,72.0 620.3,75.0 616.0,80.2 613.8,80.0 611.0,77.3 609.0,77.3 606.7,80.0 605.7,85.0 601.0,83.4 600.0,83.9 599.4,86.0 600.0,87.8 604.0,90.6 609.0,86.7 620.0,88.8 621.0,88.2 621.3,85.0 625.2,77.0 630.0,73.0 628.2,62.0 631.5,59.0 636.0,57.4 659.0,58.7 680.0,57.7 694.0,59.8 708.0,57.5 724.0,57.6 726.3,58.0 729.1,60.0 729.5,62.0 727.8,71.0 732.1,85.0 735.1,91.0 736.9,107.0 735.0,160.0 736.4,170.0 736.4,185.0 734.1,210.0 735.8,219.0 735.0,223.0 733.0,225.0 731.0,224.7 717.0,217.2 710.0,217.7 700.0,215.6 695.0,216.8 685.0,215.6 674.0,212.3 662.0,212.2 652.0,210.9 629.0,213.9 612.0,212.6 601.0,213.8 592.0,213.4 582.0,214.7 574.0,218.3 567.0,218.8 556.0,223.0 549.0,223.6 536.0,227.5 528.0,227.0 519.0,228.1 514.6,230.0 506.0,231.9 486.0,229.7 478.0,233.6 468.0,236.1 462.0,236.5 450.0,241.1 446.0,241.0 441.0,239.4 437.0,232.0 435.5,233.0 434.0,237.3 428.0,238.2 427.2,240.0 427.5,245.0 425.1,248.0 400.0,261.5 385.0,270.9 380.0,272.0 357.0,271.4 354.0,272.8 349.6,277.0 339.0,284.5 332.0,287.1M321.0,133.0 316.0,133.2 313.0,131.0 307.9,121.0 306.8,115.0 308.3,112.0 312.0,108.9 319.0,107.4 321.5,106.0 324.1,97.0 324.0,93.6 323.0,91.9 319.0,90.2 304.7,88.0 302.3,85.0 303.2,82.0 314.0,74.2 316.0,73.8 323.0,77.0 346.0,78.1 357.0,82.0 367.0,80.9 369.5,82.0 372.0,85.6 372.5,88.0 369.3,93.0 368.4,98.0 364.2,105.0 349.0,114.1 331.0,129.6 327.0,131.6 321.0,133.0M665.8,100.0 671.0,97.9 673.1,94.0 672.4,91.0 668.0,88.5 665.0,88.2 660.0,89.3 656.0,88.4 648.4,94.0 648.6,96.0 651.0,98.6 655.0,99.1 659.0,96.8 663.0,99.9 665.8,100.0M581.9,120.0 582.7,118.0 581.0,116.2 578.0,117.1 576.2,119.0 578.0,120.6 581.9,120.0M526.2,173.0 529.6,171.0 530.6,169.0 530.0,166.1 528.0,164.7 521.0,166.6 519.3,169.0 520.1,171.0 522.0,172.4 526.2,173.0M544.7,180.0 545.5,178.0 544.5,177.0 540.0,175.3 535.6,175.0 538.5,178.0 544.7,180.0M436.8,221.0 438.6,217.0 436.0,216.2 432.8,217.0 432.1,219.0 433.0,221.1 435.0,221.8 436.8,221.0M726.0,305.1 721.0,304.5 716.0,305.8 714.0,305.4 707.9,301.0 706.4,297.0 709.0,294.9 713.3,295.0 717.0,291.2 723.9,292.0 726.2,294.0 728.6,300.0 727.5,304.0 726.0,305.1M333.0,353.1 328.3,353.0 324.0,349.9 323.2,347.0 324.8,344.0 330.0,341.7 333.2,343.0 334.3,346.0 333.9,352.0 333.0,353.1M724.0,415.2 721.0,415.5 719.0,414.7 713.0,407.0 711.7,397.0 712.8,392.0 711.1,390.0 711.4,387.0 709.7,380.0 710.2,378.0 711.6,377.0 729.0,379.1 733.0,380.8 734.6,383.0 734.6,386.0 731.1,393.0 732.4,412.0 731.0,413.8 724.0,415.2M585.0,402.0 575.0,402.2 565.0,400.9 562.0,399.0 561.3,395.0 562.2,393.0 565.0,390.7 576.0,388.6 582.4,393.0 585.3,397.0 591.0,400.0 585.0,402.0M533.0,457.6 524.0,457.5 519.0,454.3 513.0,453.5 508.0,450.2 505.0,445.1 500.0,442.8 499.4,439.0 503.0,435.7 505.8,429.0 506.0,423.0 503.1,419.0 501.0,418.4 498.8,419.0 489.1,429.0 483.0,428.0 481.0,426.7 475.0,418.8 468.0,416.0 467.2,415.0 468.3,412.0 467.2,410.0 462.0,409.9 461.3,406.0 462.0,403.8 464.0,402.8 471.0,402.3 476.0,396.6 490.0,397.1 495.0,392.3 498.0,391.3 509.0,396.8 516.0,397.5 522.0,399.7 534.0,408.3 541.0,409.8 546.0,412.4 550.0,419.9 550.0,424.1 548.0,426.2 540.2,429.0 538.8,435.0 534.0,437.0 532.5,439.0 532.7,442.0 534.0,444.2 539.0,444.4 541.0,445.8 541.5,454.0 536.0,455.2 533.0,457.6M618.0,415.1 608.0,415.6 604.2,415.0 603.0,408.8 598.0,405.2 594.0,403.6 592.6,401.0 598.0,401.5 604.0,406.9 609.0,406.7 616.9,410.0 618.9,413.0 618.0,415.1M666.0,425.3 657.0,422.5 652.0,414.7 644.0,410.1 642.8,407.0 644.6,403.0 648.0,401.9 658.0,404.7 667.0,404.0 671.0,407.0 675.0,412.7 680.1,414.0 680.4,416.0 673.0,417.7 669.0,423.0 666.0,425.3M730.0,461.0 722.0,461.5 716.0,460.4 713.9,459.0 711.0,454.6 703.7,450.0 702.6,448.0 704.2,445.0 703.6,444.0 700.0,443.5 697.2,442.0 694.9,437.0 690.0,432.2 685.0,433.0 684.8,431.0 688.2,429.0 686.0,421.7 689.0,421.9 700.0,429.0 706.0,438.0 708.0,438.1 712.0,435.6 718.0,438.0 727.0,450.7 730.1,453.0 730.9,457.0 730.0,461.0M536.4,430.0 537.5,425.0 536.4,423.0 533.1,423.0 529.8,425.0 529.1,427.0 530.0,429.3 532.0,430.3 536.4,430.0M530.0,543.3 528.0,543.0 526.6,541.0 526.8,535.0 525.6,528.0 527.6,525.0 532.0,522.5 534.4,524.0 535.7,527.0 534.4,530.0 529.1,534.0 528.8,535.0 531.1,540.0 531.1,542.0 530.0,543.3M714.0,614.1 702.0,613.4 682.0,614.4 671.0,613.1 658.0,613.1 652.0,610.8 642.6,611.0 638.8,609.0 637.0,606.0 637.2,603.0 635.0,601.5 632.5,603.0 632.8,606.0 632.0,608.0 627.0,609.1 622.0,612.8 614.0,612.8 603.0,614.3 591.8,612.0 586.0,606.0 585.4,602.0 586.8,593.0 593.0,581.8 596.0,580.1 604.6,581.0 611.0,573.0 609.0,568.9 604.0,569.1 600.9,565.0 602.0,562.5 607.1,558.0 618.6,557.0 618.9,559.0 614.9,564.0 615.0,565.2 617.0,565.5 623.0,562.1 623.9,560.0 623.9,556.0 625.1,554.0 627.1,553.0 630.0,553.2 630.1,558.0 632.0,558.9 633.6,558.0 634.3,556.0 631.3,553.0 631.8,552.0 634.0,550.2 637.3,551.0 638.9,552.0 639.7,554.0 639.2,560.0 644.9,563.0 644.6,570.0 647.5,580.0 655.0,584.6 659.0,585.5 661.6,583.0 661.8,578.0 664.6,574.0 665.6,569.0 668.6,564.0 667.9,554.0 669.6,550.0 681.4,545.0 691.0,544.4 704.0,541.1 713.6,543.0 718.7,558.0 726.0,562.4 731.0,562.0 734.1,571.0 733.4,576.0 731.0,580.6 726.0,587.1 719.0,589.6 717.0,594.8 714.9,597.0 715.5,599.0 719.0,603.3 725.3,606.0 726.4,608.0 726.0,609.0 722.0,613.0 714.0,614.1M490.0,568.0 486.0,568.8 483.0,567.9 479.0,560.0 482.0,558.6 488.4,562.0 491.4,566.0 490.0,568.0M700.8,586.0 702.7,584.0 703.4,578.0 706.6,573.0 706.8,571.0 704.8,568.0 700.0,565.2 697.7,562.0 696.0,561.8 692.0,567.0 686.9,571.0 688.0,577.0 687.0,580.2 686.0,581.0 683.0,580.6 681.9,582.0 686.0,584.2 696.0,586.5 700.8,586.0M446.0,571.4 440.1,569.0 439.2,567.0 439.7,566.0 442.0,565.2 445.3,567.0 447.1,570.0 446.0,571.4M628.2,576.0 631.8,570.0 632.0,568.8 627.0,568.8 625.0,570.0 624.1,573.0 624.8,576.0 626.0,576.7 628.2,576.0M708.8,592.0 715.2,587.0 714.5,585.0 711.0,584.7 706.2,589.0 706.0,591.2 708.8,592.0M326.0,128.0 319.0,128.3 317.6,127.0 317.5,125.0 318.4,121.0 325.6,108.0 326.5,101.0 329.6,91.0 338.3,83.0 345.0,81.0 351.0,82.2 354.0,85.0 355.4,89.0 355.5,94.0 353.4,100.0 338.8,118.0 329.0,126.8 326.0,128.0M707.0,211.0 704.0,212.0 698.0,209.5 692.0,210.8 687.0,208.6 681.0,208.4 675.0,206.7 658.0,207.8 644.0,207.3 629.0,210.5 611.0,209.7 600.0,211.2 589.0,209.6 586.6,206.0 585.9,199.0 582.4,190.0 580.1,177.0 581.0,174.1 584.1,171.0 587.6,155.0 586.6,134.0 588.1,123.0 590.0,121.8 602.0,121.2 608.0,119.7 616.0,121.3 618.7,124.0 622.4,136.0 625.6,140.0 625.4,146.0 631.0,151.9 639.0,151.9 646.0,149.4 651.1,152.0 657.0,152.5 673.2,140.0 682.0,134.8 685.0,135.3 691.0,139.9 694.0,140.8 701.0,140.7 709.0,136.5 710.8,134.0 711.1,131.0 702.6,110.0 705.7,95.0 708.0,93.1 711.0,92.3 716.0,92.7 732.0,90.9 733.6,94.0 735.2,107.0 733.0,139.0 733.5,153.0 732.1,160.0 734.6,170.0 733.7,195.0 732.5,198.0 730.0,199.1 718.0,196.8 714.0,197.5 709.8,202.0 707.0,211.0M335.0,275.3 330.3,270.0 332.1,266.0 329.1,262.0 329.2,257.0 326.0,256.0 320.0,257.9 315.0,256.4 313.5,255.0 309.2,243.0 309.3,240.0 311.1,237.0 314.0,235.1 339.0,226.2 352.0,219.4 361.0,217.4 377.0,208.6 389.0,195.6 406.7,186.0 413.4,181.0 423.4,165.0 429.2,152.0 438.9,145.0 456.8,136.0 470.0,131.6 488.0,121.0 502.0,111.1 510.0,111.2 517.2,113.0 517.8,116.0 516.3,121.0 515.8,127.0 508.3,144.0 507.3,149.0 502.6,155.0 498.9,164.0 497.1,172.0 497.8,175.0 499.0,176.1 504.0,174.1 508.0,179.0 514.0,181.6 515.0,184.0 514.0,186.1 508.0,187.3 503.0,192.6 501.0,191.2 499.0,186.8 491.0,190.2 480.0,199.0 474.0,205.5 467.0,209.9 462.0,208.1 456.0,208.4 443.0,205.0 435.2,206.0 426.0,215.8 418.0,218.9 414.2,224.0 407.0,227.1 398.2,234.0 390.1,243.0 390.0,244.1 396.0,243.5 400.0,247.5 404.0,248.9 404.5,250.0 404.0,251.1 399.0,251.6 394.0,256.6 392.0,255.4 387.7,249.0 387.3,246.0 386.0,245.5 382.0,246.0 372.0,251.2 361.0,249.2 344.0,250.8 337.5,257.0 337.6,259.0 341.0,265.0 340.0,266.0 338.0,264.6 336.8,265.0 336.2,273.0 335.0,275.3M635.0,145.3 632.7,143.0 634.9,140.0 635.1,135.0 640.9,128.0 645.0,126.4 645.8,127.0 645.4,131.0 646.5,135.0 645.8,142.0 644.0,143.5 637.0,141.4 635.8,142.0 635.0,145.3M550.0,202.0 545.8,200.0 544.6,198.0 544.8,196.0 548.0,193.0 553.6,191.0 555.5,186.0 555.0,181.0 559.7,178.0 560.8,173.0 563.0,173.0 566.0,176.0 566.4,179.0 563.8,183.0 560.0,185.4 561.0,189.0 556.6,194.0 556.0,201.0 550.0,202.0M534.0,221.2 531.2,221.0 529.3,219.0 526.6,210.0 528.0,205.7 530.0,204.5 533.0,205.3 536.0,207.7 542.3,216.0 541.0,218.1 534.0,221.2M383.3,227.0 385.7,225.0 388.0,220.0 386.5,218.0 383.0,216.5 381.0,213.5 379.0,212.9 375.5,218.0 375.4,220.0 379.0,223.0 381.0,226.4 383.3,227.0M483.0,413.5 481.0,413.5 478.6,412.0 478.1,410.0 479.0,407.9 482.0,407.2 484.0,408.6 484.8,411.0 483.0,413.5M647.0,595.0 641.2,593.0 638.5,591.0 638.4,589.0 640.5,586.0 643.0,585.8 646.6,588.0 648.0,592.0 647.0,595.0M595.0,605.0 593.0,604.4 592.3,602.0 592.8,595.0 594.8,592.0 601.0,589.8 608.0,589.0 610.8,590.0 611.0,596.0 606.0,601.8 603.0,603.4 595.0,605.0M328.0,125.0 323.0,125.0 321.4,122.0 323.7,115.0 327.5,108.0 330.6,93.0 339.7,85.0 346.0,82.7 350.0,83.2 352.8,86.0 354.0,90.0 353.6,94.0 351.7,99.0 338.0,116.1 328.0,125.0M604.0,209.0 599.0,209.2 590.2,207.0 588.8,199.0 585.1,188.0 584.9,177.0 587.2,170.0 588.0,161.1 592.0,149.1 596.0,151.7 600.0,152.2 601.3,151.0 603.7,145.0 603.0,137.0 601.0,135.4 597.0,135.6 594.0,132.4 591.0,131.0 590.0,127.0 591.0,125.0 603.0,124.9 610.0,123.5 614.8,125.0 618.3,131.0 618.2,137.0 621.7,141.0 622.2,147.0 629.1,154.0 632.0,155.6 639.0,155.8 647.0,154.2 658.0,156.4 660.0,155.2 665.0,149.0 670.0,147.0 675.0,142.0 682.0,138.6 684.0,138.7 690.0,145.4 694.0,147.1 694.9,149.0 695.0,154.2 694.0,155.5 689.0,155.7 685.0,153.0 682.0,152.6 679.3,155.0 679.4,158.0 682.0,160.6 687.0,158.6 690.2,162.0 693.0,162.5 697.0,160.8 700.0,160.7 702.0,157.9 705.6,156.0 706.3,154.0 704.8,148.0 704.7,143.0 712.7,138.0 716.2,133.0 715.8,131.0 712.2,126.0 706.0,111.0 707.3,97.0 709.0,95.3 711.0,94.8 726.0,94.6 730.0,93.3 731.7,94.0 734.2,108.0 732.5,118.0 733.0,124.0 731.1,138.0 731.8,151.0 731.0,153.7 726.2,157.0 726.7,159.0 731.0,163.9 733.2,169.0 731.8,181.0 732.3,193.0 731.0,195.8 727.0,196.1 721.0,194.0 715.0,194.3 710.0,197.1 704.0,198.7 695.0,205.2 675.0,203.9 655.0,205.8 649.0,204.6 646.6,203.0 646.5,193.0 644.8,189.0 643.0,187.8 637.0,187.0 630.9,191.0 628.1,195.0 631.4,200.0 638.2,204.0 636.1,207.0 628.0,208.2 611.0,207.7 604.0,209.0M401.0,228.2 399.0,228.7 398.3,228.0 393.4,219.0 389.0,214.8 384.5,207.0 384.7,205.0 388.3,198.0 390.4,196.0 408.0,187.2 415.2,182.0 431.0,152.0 440.0,145.7 457.2,137.0 471.0,132.5 502.0,112.9 509.0,113.0 513.8,115.0 513.3,127.0 510.7,135.0 505.7,143.0 504.1,149.0 500.7,153.0 496.7,163.0 493.7,183.0 492.6,185.0 475.0,201.5 467.0,205.2 456.0,205.8 437.0,202.1 432.0,202.6 429.5,205.0 427.6,210.0 425.0,213.5 421.0,215.5 415.0,216.8 411.1,222.0 404.0,225.3 401.0,228.2M323.0,253.2 318.0,253.7 315.0,252.0 313.9,247.0 311.4,242.0 312.3,238.0 315.0,236.3 323.0,234.5 333.0,229.6 341.0,228.8 354.0,221.2 359.0,220.5 367.0,217.5 369.0,218.5 375.8,226.0 380.0,232.5 382.0,232.7 391.0,227.8 393.0,229.3 393.0,234.0 388.1,240.0 374.0,247.3 368.0,248.5 363.0,245.5 357.2,245.0 355.9,244.0 355.4,240.0 354.0,238.1 350.0,237.4 347.7,239.0 345.5,246.0 338.0,252.0 336.0,252.7 327.0,251.7 323.0,253.2M329.0,119.0 326.8,119.0 326.6,116.0 333.4,104.0 335.0,97.0 343.0,87.6 346.0,86.3 349.0,86.3 350.8,88.0 351.4,91.0 349.1,98.0 336.0,113.5 329.0,119.0M717.0,116.7 715.0,116.0 713.0,109.0 713.4,107.0 715.0,105.5 717.0,106.6 718.1,109.0 718.0,114.3 717.0,116.7M460.0,202.0 443.5,200.0 433.2,192.0 429.4,187.0 425.1,178.0 424.4,173.0 425.2,169.0 430.9,158.0 434.1,153.0 441.2,148.0 453.0,143.3 461.0,138.0 472.0,135.5 480.8,130.0 489.0,126.6 498.0,119.1 504.0,118.7 505.5,120.0 508.1,126.0 507.8,132.0 493.1,154.0 492.8,161.0 490.4,167.0 489.9,173.0 486.4,184.0 473.0,197.5 467.0,200.7 460.0,202.0M610.0,197.2 606.0,196.4 605.1,194.0 608.0,191.6 614.0,191.0 617.4,188.0 615.0,181.1 614.4,176.0 611.7,169.0 612.2,165.0 615.5,159.0 619.0,157.4 619.9,158.0 616.4,163.0 616.0,167.0 618.0,169.0 626.7,172.0 629.0,178.0 626.0,185.3 623.7,184.0 623.0,179.2 622.0,178.5 620.8,179.0 619.1,182.0 617.0,192.8 610.0,197.2M404.0,219.3 399.0,218.2 392.0,211.8 389.6,206.0 390.2,200.0 393.0,197.0 403.0,192.7 412.0,189.5 417.0,189.0 418.5,192.0 419.0,202.0 420.9,208.0 419.0,209.8 412.0,210.8 406.0,218.1 404.0,219.3M366.0,232.1 362.0,232.4 359.3,231.0 358.7,229.0 360.1,226.0 364.0,224.5 369.0,225.8 369.4,229.0 366.0,232.1M335.0,238.4 333.0,238.4 331.9,237.0 332.4,235.0 334.0,234.0 337.3,236.0 335.0,238.4M340.0,104.1 339.0,103.6 339.3,101.0 343.4,91.0 345.0,88.8 348.0,88.1 349.7,90.0 348.8,95.0 345.0,100.3 340.0,104.1M460.0,200.0 445.0,198.1 436.8,191.0 432.1,185.0 429.0,178.0 427.3,171.0 428.0,168.2 431.4,165.0 432.7,160.0 435.4,155.0 444.0,149.8 445.0,150.5 444.5,152.0 441.0,153.9 439.7,156.0 437.9,166.0 434.1,169.0 433.6,171.0 434.5,173.0 437.0,173.8 443.0,170.9 447.0,170.4 448.9,168.0 450.9,162.0 456.1,155.0 457.3,150.0 460.0,147.8 460.5,142.0 462.0,140.0 473.0,137.5 482.0,132.4 490.7,131.0 495.1,124.0 499.0,121.6 502.0,121.5 505.4,127.0 505.5,130.0 500.3,139.0 489.6,153.0 488.8,156.0 489.5,161.0 487.7,166.0 487.4,173.0 486.0,177.5 483.0,181.0 481.0,181.4 477.4,179.0 476.6,174.0 475.0,171.6 473.0,171.7 470.0,173.6 468.7,176.0 471.2,180.0 471.0,184.2 473.5,190.0 473.1,193.0 467.7,198.0 460.0,200.0M469.0,162.0 471.1,159.0 470.6,156.0 462.0,151.6 461.6,154.0 464.5,157.0 462.1,162.0 466.0,163.0 469.0,162.0M402.0,213.8 400.0,213.4 393.2,209.0 392.0,206.0 392.3,200.0 397.0,197.0 407.0,194.1 412.0,193.1 415.0,193.5 416.2,196.0 415.4,199.0 407.0,206.4 404.0,211.9 402.0,213.8" fill="none" stroke="#4e4a4d" stroke-width="0.8" opacity="0.75"/>
<g filter="url(#sb)"><path fill="#5858cc" opacity="0.36" d="M618.6,217.0a4.0,1.4 42 1,0 6.0,5.4a4.0,1.4 42 1,0 -6.0,-5.4zM640.6,211.4a4.9,2.4 64 1,0 4.3,8.8a4.9,2.4 64 1,0 -4.3,-8.8zM722.1,217.7a4.1,1.6 38 1,0 6.4,5.0a4.1,1.6 38 1,0 -6.4,-5.0zM525.2,224.0a4.2,2.4 71 1,0 2.8,7.9a4.2,2.4 71 1,0 -2.8,-7.9zM564.8,221.4a3.9,2.3 58 1,0 4.1,6.6a3.9,2.3 58 1,0 -4.1,-6.6zM595.8,225.7a4.4,1.5 64 1,0 3.9,7.8a4.4,1.5 64 1,0 -3.9,-7.8zM643.7,227.2a2.9,2.1 72 1,0 1.8,5.4a2.9,2.1 72 1,0 -1.8,-5.4zM706.9,224.2a3.2,1.9 62 1,0 3.0,5.6a3.2,1.9 62 1,0 -3.0,-5.6zM718.7,222.1a3.8,1.9 39 1,0 6.0,4.8a3.8,1.9 39 1,0 -6.0,-4.8zM744.4,225.6a3.9,1.4 52 1,0 4.8,6.2a3.9,1.4 52 1,0 -4.8,-6.2zM517.2,232.3a4.3,1.7 65 1,0 3.7,7.8a4.3,1.7 65 1,0 -3.7,-7.8zM570.0,231.8a4.5,1.5 73 1,0 2.5,8.6a4.5,1.5 73 1,0 -2.5,-8.6zM581.9,232.1a3.8,1.9 72 1,0 2.3,7.2a3.8,1.9 72 1,0 -2.3,-7.2zM599.6,235.0a3.9,1.8 65 1,0 3.2,7.0a3.9,1.8 65 1,0 -3.2,-7.0zM616.9,233.6a2.9,2.0 78 1,0 1.2,5.7a2.9,2.0 78 1,0 -1.2,-5.7zM627.5,229.4a4.8,1.8 66 1,0 3.9,8.9a4.8,1.8 66 1,0 -3.9,-8.9zM639.6,231.1a4.0,2.3 74 1,0 2.2,7.6a4.0,2.3 74 1,0 -2.2,-7.6zM656.5,234.5a3.2,2.2 65 1,0 2.7,5.8a3.2,2.2 65 1,0 -2.7,-5.8zM663.0,233.8a4.7,1.7 48 1,0 6.2,7.0a4.7,1.7 48 1,0 -6.2,-7.0zM676.0,233.8a4.6,1.5 76 1,0 2.2,8.9a4.6,1.5 76 1,0 -2.2,-8.9zM701.2,235.9a2.8,2.3 77 1,0 1.3,5.5a2.8,2.3 77 1,0 -1.3,-5.5zM712.6,235.1a3.6,1.5 56 1,0 4.0,5.9a3.6,1.5 56 1,0 -4.0,-5.9zM729.5,232.8a3.3,2.1 77 1,0 1.5,6.4a3.3,2.1 77 1,0 -1.5,-6.4zM735.2,231.4a4.0,2.0 67 1,0 3.1,7.4a4.0,2.0 67 1,0 -3.1,-7.4zM749.9,236.7a3.1,1.5 42 1,0 4.6,4.1a3.1,1.5 42 1,0 -4.6,-4.1zM443.5,245.0a3.0,1.9 76 1,0 1.5,5.7a3.0,1.9 76 1,0 -1.5,-5.7zM489.7,245.4a3.0,1.9 34 1,0 5.0,3.3a3.0,1.9 34 1,0 -5.0,-3.3zM501.2,245.1a3.1,1.9 36 1,0 5.0,3.6a3.1,1.9 36 1,0 -5.0,-3.6zM511.7,242.1a4.1,2.2 80 1,0 1.4,8.0a4.1,2.2 80 1,0 -1.4,-8.0zM528.3,242.5a3.3,1.8 45 1,0 4.7,4.7a3.3,1.8 45 1,0 -4.7,-4.7zM539.3,243.5a3.1,2.0 52 1,0 3.8,4.9a3.1,2.0 52 1,0 -3.8,-4.9zM573.7,244.3a2.9,1.5 56 1,0 3.2,4.8a2.9,1.5 56 1,0 -3.2,-4.8zM583.1,243.3a2.9,1.9 47 1,0 3.9,4.2a2.9,1.9 47 1,0 -3.9,-4.2zM600.2,242.0a2.9,1.3 44 1,0 4.1,4.0a2.9,1.3 44 1,0 -4.1,-4.0zM623.5,245.0a3.7,1.8 75 1,0 2.0,7.2a3.7,1.8 75 1,0 -2.0,-7.2zM637.2,245.7a3.3,1.6 43 1,0 4.8,4.4a3.3,1.6 43 1,0 -4.8,-4.4zM650.3,240.1a4.2,2.1 60 1,0 4.2,7.3a4.2,2.1 60 1,0 -4.2,-7.3zM653.6,243.8a4.7,2.2 40 1,0 7.2,6.1a4.7,2.2 40 1,0 -7.2,-6.1zM671.9,245.3a4.6,1.7 51 1,0 5.9,7.2a4.6,1.7 51 1,0 -5.9,-7.2zM682.4,246.5a4.1,1.9 56 1,0 4.6,6.9a4.1,1.9 56 1,0 -4.6,-6.9zM692.3,239.9a4.9,2.3 35 1,0 8.1,5.6a4.9,2.3 35 1,0 -8.1,-5.6zM702.0,240.9a3.3,1.4 62 1,0 3.1,5.9a3.3,1.4 62 1,0 -3.1,-5.9zM723.3,243.5a4.2,1.4 68 1,0 3.2,7.7a4.2,1.4 68 1,0 -3.2,-7.7zM727.1,241.9a4.2,1.9 55 1,0 4.9,6.9a4.2,1.9 55 1,0 -4.9,-6.9zM428.6,254.3a2.9,1.5 80 1,0 1.0,5.6a2.9,1.5 80 1,0 -1.0,-5.6zM439.5,251.4a3.4,2.1 40 1,0 5.2,4.4a3.4,2.1 40 1,0 -5.2,-4.4zM445.4,250.0a3.0,2.3 43 1,0 4.4,4.1a3.0,2.3 43 1,0 -4.4,-4.1zM493.9,250.3a3.4,1.5 50 1,0 4.3,5.2a3.4,1.5 50 1,0 -4.3,-5.2zM511.0,253.5a4.6,1.7 59 1,0 4.7,7.8a4.6,1.7 59 1,0 -4.7,-7.8zM521.8,254.5a2.9,1.5 57 1,0 3.1,4.8a2.9,1.5 57 1,0 -3.1,-4.8zM557.1,249.7a4.3,2.3 72 1,0 2.6,8.1a4.3,2.3 72 1,0 -2.6,-8.1zM567.6,253.7a3.5,2.0 33 1,0 5.9,3.8a3.5,2.0 33 1,0 -5.9,-3.8zM580.9,250.1a4.5,1.5 52 1,0 5.6,7.2a4.5,1.5 52 1,0 -5.6,-7.2zM587.7,253.2a3.0,2.1 40 1,0 4.6,3.8a3.0,2.1 40 1,0 -4.6,-3.8zM605.2,253.0a4.1,1.4 30 1,0 7.1,4.1a4.1,1.4 30 1,0 -7.1,-4.1zM618.8,252.1a4.9,1.6 62 1,0 4.7,8.7a4.9,1.6 62 1,0 -4.7,-8.7zM626.7,248.9a4.7,1.4 71 1,0 3.0,8.8a4.7,1.4 71 1,0 -3.0,-8.8zM634.9,252.0a4.9,2.2 32 1,0 8.4,5.2a4.9,2.2 32 1,0 -8.4,-5.2zM656.1,252.9a3.6,2.0 75 1,0 1.9,7.0a3.6,2.0 75 1,0 -1.9,-7.0zM668.6,253.7a4.7,2.3 56 1,0 5.3,7.8a4.7,2.3 56 1,0 -5.3,-7.8zM681.4,254.8a4.1,2.0 75 1,0 2.1,7.9a4.1,2.0 75 1,0 -2.1,-7.9zM688.1,251.5a3.8,1.5 50 1,0 5.0,5.8a3.8,1.5 50 1,0 -5.0,-5.8zM696.5,249.5a4.5,1.7 48 1,0 6.0,6.7a4.5,1.7 48 1,0 -6.0,-6.7zM708.6,251.4a3.5,2.2 45 1,0 5.0,4.9a3.5,2.2 45 1,0 -5.0,-4.9zM722.9,254.9a3.8,2.2 43 1,0 5.6,5.2a3.8,2.2 43 1,0 -5.6,-5.2zM736.1,252.1a4.6,2.3 54 1,0 5.4,7.5a4.6,2.3 54 1,0 -5.4,-7.5zM429.5,263.3a3.7,1.6 43 1,0 5.5,5.0a3.7,1.6 43 1,0 -5.5,-5.0zM442.9,256.5a5.0,1.8 72 1,0 3.1,9.5a5.0,1.8 72 1,0 -3.1,-9.5zM452.3,261.3a3.2,2.4 72 1,0 2.0,6.1a3.2,2.4 72 1,0 -2.0,-6.1zM473.1,265.1a5.0,1.5 37 1,0 8.0,5.9a5.0,1.5 37 1,0 -8.0,-5.9zM500.8,262.5a3.8,1.8 58 1,0 4.1,6.5a3.8,1.8 58 1,0 -4.1,-6.5zM516.9,263.0a3.5,2.4 55 1,0 4.0,5.7a3.5,2.4 55 1,0 -4.0,-5.7zM527.9,259.2a4.0,2.2 46 1,0 5.7,5.8a4.0,2.2 46 1,0 -5.7,-5.8zM539.3,265.4a3.1,1.5 36 1,0 5.0,3.7a3.1,1.5 36 1,0 -5.0,-3.7zM548.5,261.5a3.6,2.3 38 1,0 5.6,4.4a3.6,2.3 38 1,0 -5.6,-4.4zM561.3,262.8a3.6,1.7 44 1,0 5.2,5.0a3.6,1.7 44 1,0 -5.2,-5.0zM572.2,262.8a3.4,1.5 69 1,0 2.4,6.4a3.4,1.5 69 1,0 -2.4,-6.4zM585.2,261.9a3.5,1.7 47 1,0 4.7,5.1a3.5,1.7 47 1,0 -4.7,-5.1zM596.8,262.5a4.8,1.5 65 1,0 4.0,8.7a4.8,1.5 65 1,0 -4.0,-8.7zM614.7,258.8a4.7,1.7 62 1,0 4.4,8.4a4.7,1.7 62 1,0 -4.4,-8.4zM623.8,261.4a4.0,1.3 79 1,0 1.6,7.9a4.0,1.3 79 1,0 -1.6,-7.9zM647.2,262.6a3.2,1.7 70 1,0 2.3,6.1a3.2,1.7 70 1,0 -2.3,-6.1zM659.8,258.3a3.9,1.5 43 1,0 5.6,5.3a3.9,1.5 43 1,0 -5.6,-5.3zM665.6,260.8a2.9,2.1 36 1,0 4.7,3.4a2.9,2.1 36 1,0 -4.7,-3.4zM679.9,260.0a3.2,2.3 34 1,0 5.2,3.6a3.2,2.3 34 1,0 -5.2,-3.6zM695.3,263.3a4.7,2.0 44 1,0 6.7,6.4a4.7,2.0 44 1,0 -6.7,-6.4zM705.1,260.3a3.4,1.6 34 1,0 5.7,3.8a3.4,1.6 34 1,0 -5.7,-3.8zM723.0,258.7a3.2,1.9 70 1,0 2.2,6.0a3.2,1.9 70 1,0 -2.2,-6.0zM741.7,260.8a3.2,1.9 42 1,0 4.8,4.3a3.2,1.9 42 1,0 -4.8,-4.3zM461.2,268.0a4.6,2.1 76 1,0 2.1,8.9a4.6,2.1 76 1,0 -2.1,-8.9zM475.3,267.5a3.2,2.3 74 1,0 1.8,6.1a3.2,2.3 74 1,0 -1.8,-6.1zM482.5,267.3a3.7,2.0 77 1,0 1.7,7.3a3.7,2.0 77 1,0 -1.7,-7.3zM506.9,269.7a3.8,2.0 57 1,0 4.2,6.4a3.8,2.0 57 1,0 -4.2,-6.4zM518.7,273.6a4.3,2.0 78 1,0 1.9,8.4a4.3,2.0 78 1,0 -1.9,-8.4zM552.3,271.0a4.4,1.8 39 1,0 6.9,5.6a4.4,1.8 39 1,0 -6.9,-5.6zM572.3,273.3a3.2,1.8 44 1,0 4.6,4.5a3.2,1.8 44 1,0 -4.6,-4.5zM579.7,270.4a4.2,1.5 44 1,0 6.1,5.9a4.2,1.5 44 1,0 -6.1,-5.9zM596.2,267.9a4.1,2.3 79 1,0 1.6,8.1a4.1,2.3 79 1,0 -1.6,-8.1zM603.3,272.6a4.1,2.1 40 1,0 6.2,5.2a4.1,2.1 40 1,0 -6.2,-5.2zM614.2,271.0a3.0,2.2 46 1,0 4.2,4.3a3.0,2.2 46 1,0 -4.2,-4.3zM627.8,266.1a4.8,2.3 70 1,0 3.3,9.0a4.8,2.3 70 1,0 -3.3,-9.0zM643.7,270.1a4.2,2.3 51 1,0 5.3,6.6a4.2,2.3 51 1,0 -5.3,-6.6zM653.3,270.5a3.8,2.4 50 1,0 4.8,5.8a3.8,2.4 50 1,0 -4.8,-5.8zM660.4,268.1a4.8,2.1 62 1,0 4.5,8.5a4.8,2.1 62 1,0 -4.5,-8.5zM679.4,268.2a3.7,2.2 77 1,0 1.6,7.1a3.7,2.2 77 1,0 -1.6,-7.1zM684.4,272.1a4.6,2.2 45 1,0 6.5,6.6a4.6,2.2 45 1,0 -6.5,-6.6zM717.1,270.1a4.2,2.0 69 1,0 3.1,7.9a4.2,2.0 69 1,0 -3.1,-7.9zM719.5,273.5a3.0,2.1 32 1,0 5.0,3.1a3.0,2.1 32 1,0 -5.0,-3.1zM450.4,278.8a3.1,2.2 56 1,0 3.5,5.2a3.1,2.2 56 1,0 -3.5,-5.2zM469.0,281.0a3.6,1.5 44 1,0 5.2,5.0a3.6,1.5 44 1,0 -5.2,-5.0zM475.6,281.3a4.8,1.7 40 1,0 7.5,6.2a4.8,1.7 40 1,0 -7.5,-6.2zM485.1,284.6a4.7,1.5 37 1,0 7.5,5.6a4.7,1.5 37 1,0 -7.5,-5.6zM502.4,278.1a3.9,2.2 76 1,0 1.9,7.6a3.9,2.2 76 1,0 -1.9,-7.6zM517.4,280.1a3.1,1.4 62 1,0 3.0,5.5a3.1,1.4 62 1,0 -3.0,-5.5zM530.0,281.9a4.3,1.5 78 1,0 1.9,8.5a4.3,1.5 78 1,0 -1.9,-8.5zM532.9,285.4a4.3,2.2 36 1,0 6.9,5.0a4.3,2.2 36 1,0 -6.9,-5.0zM547.2,279.9a3.9,2.2 48 1,0 5.2,5.7a3.9,2.2 48 1,0 -5.2,-5.7zM573.4,282.3a3.6,1.3 61 1,0 3.5,6.4a3.6,1.3 61 1,0 -3.5,-6.4zM586.1,280.9a3.4,1.5 66 1,0 2.8,6.2a3.4,1.5 66 1,0 -2.8,-6.2zM596.2,281.5a4.5,1.7 48 1,0 6.1,6.7a4.5,1.7 48 1,0 -6.1,-6.7zM607.6,280.4a2.8,2.2 68 1,0 2.1,5.3a2.8,2.2 68 1,0 -2.1,-5.3zM618.7,278.8a3.8,2.1 35 1,0 6.3,4.4a3.8,2.1 35 1,0 -6.3,-4.4zM630.8,282.5a3.0,1.6 51 1,0 3.8,4.7a3.0,1.6 51 1,0 -3.8,-4.7zM649.8,277.2a4.0,2.1 79 1,0 1.5,7.9a4.0,2.1 79 1,0 -1.5,-7.9zM660.0,284.7a3.5,2.2 45 1,0 5.0,4.9a3.5,2.2 45 1,0 -5.0,-4.9zM669.5,284.9a3.9,1.8 40 1,0 6.1,5.0a3.9,1.8 40 1,0 -6.1,-5.0zM685.6,280.6a4.7,2.1 63 1,0 4.2,8.3a4.7,2.1 63 1,0 -4.2,-8.3zM693.1,278.6a4.4,2.2 41 1,0 6.6,5.7a4.4,2.2 41 1,0 -6.6,-5.7zM701.7,278.7a4.9,2.4 66 1,0 4.0,8.9a4.9,2.4 66 1,0 -4.0,-8.9zM718.3,282.4a3.0,2.3 40 1,0 4.6,3.8a3.0,2.3 40 1,0 -4.6,-3.8zM729.3,283.3a4.0,1.3 42 1,0 6.0,5.4a4.0,1.3 42 1,0 -6.0,-5.4zM433.9,287.8a4.4,2.2 42 1,0 6.6,5.9a4.4,2.2 42 1,0 -6.6,-5.9zM460.0,291.1a2.9,1.6 56 1,0 3.3,4.8a2.9,1.6 56 1,0 -3.3,-4.8zM495.9,294.4a3.3,2.2 43 1,0 4.8,4.5a3.3,2.2 43 1,0 -4.8,-4.5zM513.0,293.9a3.2,1.5 69 1,0 2.3,5.9a3.2,1.5 69 1,0 -2.3,-5.9zM521.2,286.9a5.0,2.3 72 1,0 3.1,9.5a5.0,2.3 72 1,0 -3.1,-9.5zM566.8,290.2a4.4,1.5 47 1,0 6.0,6.4a4.4,1.5 47 1,0 -6.0,-6.4zM576.0,287.7a4.7,1.7 46 1,0 6.5,6.8a4.7,1.7 46 1,0 -6.5,-6.8zM591.6,292.2a4.6,2.3 35 1,0 7.5,5.2a4.6,2.3 35 1,0 -7.5,-5.2zM604.4,292.4a4.9,1.7 68 1,0 3.6,9.1a4.9,1.7 68 1,0 -3.6,-9.1zM629.0,290.8a3.2,1.4 57 1,0 3.5,5.4a3.2,1.4 57 1,0 -3.5,-5.4zM636.8,288.1a3.3,2.4 47 1,0 4.6,4.9a3.3,2.4 47 1,0 -4.6,-4.9zM650.2,295.0a3.5,1.4 51 1,0 4.4,5.4a3.5,1.4 51 1,0 -4.4,-5.4zM665.9,288.3a4.6,2.3 53 1,0 5.5,7.3a4.6,2.3 53 1,0 -5.5,-7.3zM678.6,285.7a4.9,1.4 74 1,0 2.8,9.5a4.9,1.4 74 1,0 -2.8,-9.5zM682.2,290.0a4.8,2.2 35 1,0 7.9,5.5a4.8,2.2 35 1,0 -7.9,-5.5zM699.2,287.1a3.7,2.1 74 1,0 2.0,7.2a3.7,2.1 74 1,0 -2.0,-7.2zM706.7,293.2a4.8,1.9 46 1,0 6.6,6.8a4.8,1.9 46 1,0 -6.6,-6.8zM724.4,292.3a3.4,2.0 38 1,0 5.3,4.1a3.4,2.0 38 1,0 -5.3,-4.1zM735.1,291.3a2.8,2.1 66 1,0 2.3,5.1a2.8,2.1 66 1,0 -2.3,-5.1zM432.3,303.2a3.2,2.0 70 1,0 2.2,6.0a3.2,2.0 70 1,0 -2.2,-6.0zM454.7,297.9a4.7,2.3 57 1,0 5.2,7.8a4.7,2.3 57 1,0 -5.2,-7.8zM486.8,300.0a3.0,1.8 43 1,0 4.3,4.1a3.0,1.8 43 1,0 -4.3,-4.1zM503.4,300.6a2.9,1.8 40 1,0 4.4,3.7a2.9,1.8 40 1,0 -4.4,-3.7zM538.7,296.5a3.8,2.3 77 1,0 1.7,7.4a3.8,2.3 77 1,0 -1.7,-7.4zM549.6,298.3a4.5,2.1 47 1,0 6.1,6.7a4.5,2.1 47 1,0 -6.1,-6.7zM563.4,297.3a4.2,2.3 52 1,0 5.2,6.6a4.2,2.3 52 1,0 -5.2,-6.6zM572.5,301.5a3.9,1.8 38 1,0 6.1,4.8a3.9,1.8 38 1,0 -6.1,-4.8zM601.1,298.0a3.4,2.1 70 1,0 2.3,6.4a3.4,2.1 70 1,0 -2.3,-6.4zM605.9,299.6a5.0,2.2 65 1,0 4.2,9.0a5.0,2.2 65 1,0 -4.2,-9.0zM621.6,301.6a3.5,1.7 65 1,0 3.0,6.3a3.5,1.7 65 1,0 -3.0,-6.3zM632.8,299.3a4.9,2.3 40 1,0 7.5,6.4a4.9,2.3 40 1,0 -7.5,-6.4zM648.0,300.4a3.3,2.0 41 1,0 5.0,4.4a3.3,2.0 41 1,0 -5.0,-4.4zM660.3,297.6a4.0,1.9 53 1,0 4.9,6.5a4.0,1.9 53 1,0 -4.9,-6.5zM674.0,302.5a3.5,1.7 79 1,0 1.3,6.9a3.5,1.7 79 1,0 -1.3,-6.9zM684.9,301.6a3.0,1.4 42 1,0 4.5,4.1a3.0,1.4 42 1,0 -4.5,-4.1zM691.6,300.6a4.2,1.9 34 1,0 7.0,4.7a4.2,1.9 34 1,0 -7.0,-4.7zM705.4,297.7a3.5,2.3 53 1,0 4.2,5.6a3.5,2.3 53 1,0 -4.2,-5.6zM721.8,296.7a4.7,1.8 66 1,0 3.8,8.5a4.7,1.8 66 1,0 -3.8,-8.5zM729.0,300.5a4.9,2.0 67 1,0 3.8,8.9a4.9,2.0 67 1,0 -3.8,-8.9zM741.6,301.7a2.9,1.9 51 1,0 3.6,4.4a2.9,1.9 51 1,0 -3.6,-4.4zM438.4,308.6a3.4,1.4 79 1,0 1.3,6.8a3.4,1.4 79 1,0 -1.3,-6.8zM459.7,309.0a3.1,2.3 54 1,0 3.6,5.1a3.1,2.3 54 1,0 -3.6,-5.1zM521.7,311.9a3.8,1.9 62 1,0 3.5,6.7a3.8,1.9 62 1,0 -3.5,-6.7zM533.9,307.1a4.9,2.1 61 1,0 4.7,8.6a4.9,2.1 61 1,0 -4.7,-8.6zM551.6,307.4a4.2,2.3 64 1,0 3.6,7.5a4.2,2.3 64 1,0 -3.6,-7.5zM579.8,310.8a3.0,2.3 49 1,0 4.0,4.5a3.0,2.3 49 1,0 -4.0,-4.5zM594.2,310.6a4.5,1.4 69 1,0 3.2,8.4a4.5,1.4 69 1,0 -3.2,-8.4zM602.6,310.4a3.4,1.5 32 1,0 5.9,3.6a3.4,1.5 32 1,0 -5.9,-3.6zM611.7,308.2a3.3,2.0 44 1,0 4.8,4.6a3.3,2.0 44 1,0 -4.8,-4.6zM625.7,309.3a2.9,1.4 41 1,0 4.4,3.9a2.9,1.4 41 1,0 -4.4,-3.9zM640.2,308.0a3.5,1.9 80 1,0 1.2,7.0a3.5,1.9 80 1,0 -1.2,-7.0zM647.8,309.7a4.0,1.6 45 1,0 5.6,5.7a4.0,1.6 45 1,0 -5.6,-5.7zM667.8,312.2a4.8,1.3 53 1,0 5.7,7.6a4.8,1.3 53 1,0 -5.7,-7.6zM674.8,307.3a3.0,1.8 59 1,0 3.1,5.2a3.0,1.8 59 1,0 -3.1,-5.2zM693.5,308.2a3.2,1.4 69 1,0 2.3,6.0a3.2,1.4 69 1,0 -2.3,-6.0zM700.6,311.3a3.9,1.7 41 1,0 6.0,5.1a3.9,1.7 41 1,0 -6.0,-5.1zM708.7,312.1a3.9,2.1 43 1,0 5.7,5.4a3.9,2.1 43 1,0 -5.7,-5.4zM727.6,307.8a3.1,2.1 51 1,0 4.0,4.8a3.1,2.1 51 1,0 -4.0,-4.8zM734.1,313.0a3.5,2.2 31 1,0 6.1,3.7a3.5,2.2 31 1,0 -6.1,-3.7zM433.9,317.3a3.8,1.4 47 1,0 5.2,5.5a3.8,1.4 47 1,0 -5.2,-5.5zM463.8,319.7a4.1,2.1 60 1,0 4.0,7.1a4.1,2.1 60 1,0 -4.0,-7.1zM474.6,319.3a3.1,2.4 46 1,0 4.3,4.5a3.1,2.4 46 1,0 -4.3,-4.5zM492.0,321.3a4.0,2.1 68 1,0 2.9,7.4a4.0,2.1 68 1,0 -2.9,-7.4zM499.0,319.3a4.8,1.6 47 1,0 6.7,7.0a4.8,1.6 47 1,0 -6.7,-7.0zM515.6,321.6a3.2,2.1 39 1,0 5.0,4.1a3.2,2.1 39 1,0 -5.0,-4.1zM526.3,318.0a3.0,1.6 64 1,0 2.7,5.5a3.0,1.6 64 1,0 -2.7,-5.5zM535.1,317.3a4.4,2.3 61 1,0 4.3,7.7a4.4,2.3 61 1,0 -4.3,-7.7zM551.5,320.2a3.0,1.9 51 1,0 3.8,4.7a3.0,1.9 51 1,0 -3.8,-4.7zM557.9,321.4a3.3,2.0 31 1,0 5.7,3.4a3.3,2.0 31 1,0 -5.7,-3.4zM577.7,317.9a3.7,1.6 46 1,0 5.1,5.3a3.7,1.6 46 1,0 -5.1,-5.3zM584.0,320.4a3.6,1.9 62 1,0 3.4,6.3a3.6,1.9 62 1,0 -3.4,-6.3zM615.1,321.3a2.9,1.7 47 1,0 3.9,4.3a2.9,1.7 47 1,0 -3.9,-4.3zM620.1,317.1a3.2,1.5 73 1,0 1.9,6.2a3.2,1.5 73 1,0 -1.9,-6.2zM636.8,325.0a2.9,1.8 35 1,0 4.7,3.3a2.9,1.8 35 1,0 -4.7,-3.3zM650.9,322.7a3.0,1.9 76 1,0 1.5,5.8a3.0,1.9 76 1,0 -1.5,-5.8zM665.3,320.4a3.8,1.5 38 1,0 6.0,4.7a3.8,1.5 38 1,0 -6.0,-4.7zM681.4,321.0a3.3,1.9 30 1,0 5.7,3.3a3.3,1.9 30 1,0 -5.7,-3.3zM695.8,321.0a3.0,1.5 40 1,0 4.6,3.8a3.0,1.5 40 1,0 -4.6,-3.8zM704.1,317.5a4.1,1.5 55 1,0 4.7,6.6a4.1,1.5 55 1,0 -4.7,-6.6zM713.6,317.8a5.0,2.4 36 1,0 8.1,5.8a5.0,2.4 36 1,0 -8.1,-5.8zM469.7,328.3a2.9,2.3 37 1,0 4.6,3.5a2.9,2.3 37 1,0 -4.6,-3.5zM483.2,328.2a3.9,2.2 50 1,0 5.0,6.1a3.9,2.2 50 1,0 -5.0,-6.1zM516.5,330.0a2.9,1.4 38 1,0 4.6,3.6a2.9,1.4 38 1,0 -4.6,-3.6zM530.3,332.7a3.5,2.3 50 1,0 4.6,5.4a3.5,2.3 50 1,0 -4.6,-5.4zM559.6,330.8a4.2,1.8 51 1,0 5.4,6.6a4.2,1.8 51 1,0 -5.4,-6.6zM570.7,326.8a3.0,1.6 54 1,0 3.5,4.9a3.0,1.6 54 1,0 -3.5,-4.9zM595.1,331.4a3.6,1.4 73 1,0 2.1,6.8a3.6,1.4 73 1,0 -2.1,-6.8zM598.4,329.4a4.9,1.6 42 1,0 7.3,6.5a4.9,1.6 42 1,0 -7.3,-6.5zM614.2,325.4a4.9,1.9 34 1,0 8.1,5.4a4.9,1.9 34 1,0 -8.1,-5.4zM624.9,330.0a4.1,1.7 59 1,0 4.2,7.0a4.1,1.7 59 1,0 -4.2,-7.0zM643.9,329.3a4.7,1.4 76 1,0 2.3,9.0a4.7,1.4 76 1,0 -2.3,-9.0zM654.8,326.7a4.8,1.5 78 1,0 2.0,9.3a4.8,1.5 78 1,0 -2.0,-9.3zM664.0,330.2a3.0,1.4 32 1,0 5.1,3.1a3.0,1.4 32 1,0 -5.1,-3.1zM672.1,328.2a3.5,2.3 53 1,0 4.2,5.7a3.5,2.3 53 1,0 -4.2,-5.7zM686.5,328.5a3.6,2.1 79 1,0 1.4,7.1a3.6,2.1 79 1,0 -1.4,-7.1zM702.9,330.5a4.6,2.1 70 1,0 3.2,8.5a4.6,2.1 70 1,0 -3.2,-8.5zM709.0,328.1a4.4,1.8 73 1,0 2.6,8.3a4.4,1.8 73 1,0 -2.6,-8.3zM744.7,332.0a3.8,1.8 76 1,0 1.8,7.5a3.8,1.8 76 1,0 -1.8,-7.5zM455.8,334.3a3.8,1.8 45 1,0 5.4,5.4a3.8,1.8 45 1,0 -5.4,-5.4zM475.8,335.2a4.0,1.3 39 1,0 6.2,5.0a4.0,1.3 39 1,0 -6.2,-5.0zM490.0,338.5a4.5,1.7 32 1,0 7.6,4.7a4.5,1.7 32 1,0 -7.6,-4.7zM500.2,337.0a3.2,1.5 41 1,0 4.8,4.2a3.2,1.5 41 1,0 -4.8,-4.2zM511.1,335.4a4.6,1.6 45 1,0 6.5,6.5a4.6,1.6 45 1,0 -6.5,-6.5zM534.6,342.1a3.0,1.8 40 1,0 4.7,3.9a3.0,1.8 40 1,0 -4.7,-3.9zM559.2,338.9a3.8,1.7 42 1,0 5.6,5.1a3.8,1.7 42 1,0 -5.6,-5.1zM573.6,333.7a4.7,1.9 44 1,0 6.8,6.6a4.7,1.9 44 1,0 -6.8,-6.6zM584.3,338.2a2.9,2.1 47 1,0 4.0,4.3a2.9,2.1 47 1,0 -4.0,-4.3zM597.1,341.0a3.4,1.7 75 1,0 1.7,6.6a3.4,1.7 75 1,0 -1.7,-6.6zM608.7,335.9a3.1,1.6 69 1,0 2.2,5.8a3.1,1.6 69 1,0 -2.2,-5.8zM618.8,337.8a5.0,1.5 73 1,0 2.9,9.5a5.0,1.5 73 1,0 -2.9,-9.5zM633.7,335.6a4.9,1.8 68 1,0 3.7,9.1a4.9,1.8 68 1,0 -3.7,-9.1zM643.5,336.2a3.8,2.3 77 1,0 1.7,7.4a3.8,2.3 77 1,0 -1.7,-7.4zM656.5,341.2a4.7,1.3 40 1,0 7.2,6.1a4.7,1.3 40 1,0 -7.2,-6.1zM683.0,340.2a3.7,2.1 50 1,0 4.8,5.7a3.7,2.1 50 1,0 -4.8,-5.7zM688.4,338.7a4.7,1.6 34 1,0 7.7,5.2a4.7,1.6 34 1,0 -7.7,-5.2zM701.0,340.4a4.0,2.3 30 1,0 6.9,4.0a4.0,2.3 30 1,0 -6.9,-4.0zM719.8,337.0a3.9,1.4 31 1,0 6.7,4.1a3.9,1.4 31 1,0 -6.7,-4.1zM727.2,333.7a4.4,1.8 61 1,0 4.3,7.8a4.4,1.8 61 1,0 -4.3,-7.8zM738.6,337.1a4.9,1.8 33 1,0 8.1,5.3a4.9,1.8 33 1,0 -8.1,-5.3zM435.6,349.4a4.1,2.4 52 1,0 5.0,6.5a4.1,2.4 52 1,0 -5.0,-6.5zM472.5,346.2a4.9,1.9 79 1,0 1.9,9.6a4.9,1.9 79 1,0 -1.9,-9.6zM496.4,343.9a4.9,1.9 58 1,0 5.2,8.2a4.9,1.9 58 1,0 -5.2,-8.2zM519.7,346.1a4.5,1.9 43 1,0 6.5,6.0a4.5,1.9 43 1,0 -6.5,-6.0zM546.4,346.7a4.5,1.4 34 1,0 7.5,5.0a4.5,1.4 34 1,0 -7.5,-5.0zM554.8,350.6a2.9,1.9 56 1,0 3.3,4.8a2.9,1.9 56 1,0 -3.3,-4.8zM569.0,346.8a3.8,2.4 77 1,0 1.7,7.3a3.8,2.4 77 1,0 -1.7,-7.3zM579.9,346.4a3.4,1.7 46 1,0 4.7,4.9a3.4,1.7 46 1,0 -4.7,-4.9zM591.2,350.2a3.5,1.8 71 1,0 2.3,6.5a3.5,1.8 71 1,0 -2.3,-6.5zM602.7,347.9a4.0,1.6 71 1,0 2.6,7.6a4.0,1.6 71 1,0 -2.6,-7.6zM616.5,347.7a2.9,1.9 65 1,0 2.4,5.2a2.9,1.9 65 1,0 -2.4,-5.2zM627.6,348.7a4.7,1.9 67 1,0 3.7,8.7a4.7,1.9 67 1,0 -3.7,-8.7zM640.7,347.4a2.9,2.4 74 1,0 1.6,5.5a2.9,2.4 74 1,0 -1.6,-5.5zM654.0,346.3a4.9,2.0 59 1,0 5.0,8.4a4.9,2.0 59 1,0 -5.0,-8.4zM665.2,348.3a2.9,2.2 31 1,0 5.0,3.0a2.9,2.2 31 1,0 -5.0,-3.0zM677.8,345.2a4.2,1.3 73 1,0 2.4,8.0a4.2,1.3 73 1,0 -2.4,-8.0zM688.9,347.5a3.6,1.4 72 1,0 2.3,6.9a3.6,1.4 72 1,0 -2.3,-6.9zM698.3,343.9a3.4,1.6 49 1,0 4.4,5.2a3.4,1.6 49 1,0 -4.4,-5.2zM706.7,349.2a4.5,1.5 55 1,0 5.1,7.3a4.5,1.5 55 1,0 -5.1,-7.3zM719.7,347.3a4.1,1.6 47 1,0 5.6,6.0a4.1,1.6 47 1,0 -5.6,-6.0zM732.4,348.9a4.9,1.7 67 1,0 3.9,9.1a4.9,1.7 67 1,0 -3.9,-9.1zM421.6,358.5a3.2,2.0 41 1,0 4.8,4.2a3.2,2.0 41 1,0 -4.8,-4.2zM427.1,358.9a4.0,2.4 46 1,0 5.7,5.8a4.0,2.4 46 1,0 -5.7,-5.8zM438.6,359.1a4.7,1.5 37 1,0 7.5,5.6a4.7,1.5 37 1,0 -7.5,-5.6zM451.3,359.8a2.9,2.2 62 1,0 2.7,5.1a2.9,2.2 62 1,0 -2.7,-5.1zM464.8,354.3a4.1,2.2 73 1,0 2.5,7.9a4.1,2.2 73 1,0 -2.5,-7.9zM478.3,354.9a3.3,1.9 64 1,0 2.9,6.0a3.3,1.9 64 1,0 -2.9,-6.0zM489.8,359.8a4.1,2.3 63 1,0 3.7,7.4a4.1,2.3 63 1,0 -3.7,-7.4zM500.3,359.5a4.3,1.4 65 1,0 3.6,7.8a4.3,1.4 65 1,0 -3.6,-7.8zM516.9,357.7a2.8,2.2 57 1,0 3.1,4.8a2.8,2.2 57 1,0 -3.1,-4.8zM528.7,358.6a2.9,1.6 36 1,0 4.7,3.4a2.9,1.6 36 1,0 -4.7,-3.4zM535.3,354.4a3.8,2.4 43 1,0 5.6,5.1a3.8,2.4 43 1,0 -5.6,-5.1zM544.6,357.9a4.4,2.3 46 1,0 6.1,6.3a4.4,2.3 46 1,0 -6.1,-6.3zM576.5,356.9a3.7,2.1 64 1,0 3.2,6.7a3.7,2.1 64 1,0 -3.2,-6.7zM581.9,358.1a3.3,2.2 49 1,0 4.4,5.0a3.3,2.2 49 1,0 -4.4,-5.0zM599.0,358.9a4.4,2.0 33 1,0 7.4,4.8a4.4,2.0 33 1,0 -7.4,-4.8zM612.0,353.1a4.8,2.4 77 1,0 2.2,9.4a4.8,2.4 77 1,0 -2.2,-9.4zM618.8,359.1a4.0,1.8 79 1,0 1.5,7.8a4.0,1.8 79 1,0 -1.5,-7.8zM633.6,356.2a3.6,1.5 71 1,0 2.3,6.8a3.6,1.5 71 1,0 -2.3,-6.8zM648.6,358.9a4.0,2.1 39 1,0 6.2,5.0a4.0,2.1 39 1,0 -6.2,-5.0zM659.8,354.7a4.0,1.7 46 1,0 5.6,5.8a4.0,1.7 46 1,0 -5.6,-5.8zM673.6,353.9a3.6,1.7 56 1,0 4.0,6.0a3.6,1.7 56 1,0 -4.0,-6.0zM676.9,354.1a4.9,1.6 54 1,0 5.8,7.9a4.9,1.6 54 1,0 -5.8,-7.9zM693.6,357.0a4.4,1.5 77 1,0 2.0,8.6a4.4,1.5 77 1,0 -2.0,-8.6zM707.8,357.9a4.2,1.5 66 1,0 3.4,7.8a4.2,1.5 66 1,0 -3.4,-7.8zM717.5,360.2a3.3,2.3 73 1,0 2.0,6.3a3.3,2.3 73 1,0 -2.0,-6.3zM732.6,358.7a4.5,2.2 39 1,0 6.9,5.7a4.5,2.2 39 1,0 -6.9,-5.7zM740.9,361.0a3.0,2.2 57 1,0 3.3,5.1a3.0,2.2 57 1,0 -3.3,-5.1zM389.1,366.9a4.1,1.9 40 1,0 6.3,5.3a4.1,1.9 40 1,0 -6.3,-5.3zM400.1,370.8a3.3,1.3 41 1,0 5.1,4.3a3.3,1.3 41 1,0 -5.1,-4.3zM408.3,364.5a4.0,2.0 32 1,0 6.7,4.2a4.0,2.0 32 1,0 -6.7,-4.2zM425.5,363.1a4.0,2.1 54 1,0 4.7,6.5a4.0,2.1 54 1,0 -4.7,-6.5zM447.7,363.1a4.6,2.4 73 1,0 2.7,8.9a4.6,2.4 73 1,0 -2.7,-8.9zM461.0,367.9a3.0,2.1 51 1,0 3.8,4.6a3.0,2.1 51 1,0 -3.8,-4.6zM489.7,364.7a3.8,2.0 77 1,0 1.7,7.5a3.8,2.0 77 1,0 -1.7,-7.5zM494.3,363.3a4.0,1.3 72 1,0 2.5,7.7a4.0,1.3 72 1,0 -2.5,-7.7zM509.2,364.3a3.6,2.1 62 1,0 3.3,6.3a3.6,2.1 62 1,0 -3.3,-6.3zM516.5,362.5a4.3,1.9 60 1,0 4.3,7.3a4.3,1.9 60 1,0 -4.3,-7.3zM530.8,367.6a3.9,2.4 39 1,0 6.1,4.8a3.9,2.4 39 1,0 -6.1,-4.8zM542.1,368.2a4.9,1.9 61 1,0 4.7,8.6a4.9,1.9 61 1,0 -4.7,-8.6zM557.1,368.5a3.7,1.3 38 1,0 5.9,4.5a3.7,1.3 38 1,0 -5.9,-4.5zM564.7,364.9a4.9,2.4 71 1,0 3.2,9.2a4.9,2.4 71 1,0 -3.2,-9.2zM583.1,367.8a2.9,1.6 61 1,0 2.8,5.1a2.9,1.6 61 1,0 -2.8,-5.1zM588.5,364.1a3.6,1.8 67 1,0 2.8,6.6a3.6,1.8 67 1,0 -2.8,-6.6zM602.6,363.0a4.3,2.0 75 1,0 2.3,8.4a4.3,2.0 75 1,0 -2.3,-8.4zM616.7,365.3a4.1,2.1 67 1,0 3.2,7.6a4.1,2.1 67 1,0 -3.2,-7.6zM624.7,363.1a4.4,1.6 40 1,0 6.8,5.6a4.4,1.6 40 1,0 -6.8,-5.6zM639.0,370.3a4.9,1.3 48 1,0 6.7,7.3a4.9,1.3 48 1,0 -6.7,-7.3zM654.4,369.0a3.7,1.7 67 1,0 2.9,6.8a3.7,1.7 67 1,0 -2.9,-6.8zM664.6,365.7a4.5,1.8 45 1,0 6.5,6.4a4.5,1.8 45 1,0 -6.5,-6.4zM690.6,365.7a2.9,2.0 74 1,0 1.6,5.6a2.9,2.0 74 1,0 -1.6,-5.6zM707.1,368.6a4.5,1.4 50 1,0 5.8,7.0a4.5,1.4 50 1,0 -5.8,-7.0zM726.8,367.6a3.7,1.9 65 1,0 3.1,6.8a3.7,1.9 65 1,0 -3.1,-6.8zM744.3,363.1a3.0,1.8 46 1,0 4.2,4.3a3.0,1.8 46 1,0 -4.2,-4.3zM370.0,371.2a4.3,1.5 72 1,0 2.7,8.1a4.3,1.5 72 1,0 -2.7,-8.1zM400.9,378.8a3.9,1.7 48 1,0 5.3,5.8a3.9,1.7 48 1,0 -5.3,-5.8zM422.2,374.4a3.4,2.4 60 1,0 3.4,5.8a3.4,2.4 60 1,0 -3.4,-5.8zM432.1,374.2a4.9,2.2 51 1,0 6.1,7.5a4.9,2.2 51 1,0 -6.1,-7.5zM445.2,379.3a3.1,1.9 36 1,0 5.0,3.6a3.1,1.9 36 1,0 -5.0,-3.6zM451.5,374.8a3.7,1.3 50 1,0 4.8,5.7a3.7,1.3 50 1,0 -4.8,-5.7zM463.5,375.4a4.2,1.8 57 1,0 4.6,7.0a4.2,1.8 57 1,0 -4.6,-7.0zM478.5,372.7a3.6,2.0 55 1,0 4.1,5.9a3.6,2.0 55 1,0 -4.1,-5.9zM493.4,372.2a2.9,1.6 55 1,0 3.4,4.8a2.9,1.6 55 1,0 -3.4,-4.8zM503.1,376.1a4.7,2.1 38 1,0 7.4,5.7a4.7,2.1 38 1,0 -7.4,-5.7zM514.5,378.0a4.3,2.0 39 1,0 6.7,5.4a4.3,2.0 39 1,0 -6.7,-5.4zM522.9,379.0a4.4,2.0 34 1,0 7.4,4.9a4.4,2.0 34 1,0 -7.4,-4.9zM532.4,377.5a4.2,1.3 32 1,0 7.2,4.5a4.2,1.3 32 1,0 -7.2,-4.5zM559.6,376.3a3.6,2.1 49 1,0 4.8,5.4a3.6,2.1 49 1,0 -4.8,-5.4zM571.5,380.2a3.5,2.1 45 1,0 5.0,4.9a3.5,2.1 45 1,0 -5.0,-4.9zM585.9,376.0a3.8,1.8 48 1,0 5.1,5.6a3.8,1.8 48 1,0 -5.1,-5.6zM596.9,375.1a3.4,1.7 42 1,0 5.0,4.5a3.4,1.7 42 1,0 -5.0,-4.5zM608.4,374.8a3.0,2.2 50 1,0 3.9,4.6a3.0,2.2 50 1,0 -3.9,-4.6zM617.3,375.1a3.0,2.2 59 1,0 3.1,5.1a3.0,2.2 59 1,0 -3.1,-5.1zM635.3,372.9a4.6,1.7 58 1,0 4.8,7.8a4.6,1.7 58 1,0 -4.8,-7.8zM643.0,379.2a3.0,1.3 40 1,0 4.7,3.9a3.0,1.3 40 1,0 -4.7,-3.9zM658.6,373.2a4.2,2.2 31 1,0 7.2,4.3a4.2,2.2 31 1,0 -7.2,-4.3zM672.5,377.1a3.2,2.3 38 1,0 5.1,4.0a3.2,2.3 38 1,0 -5.1,-4.0zM677.9,375.4a3.4,1.9 52 1,0 4.2,5.4a3.4,1.9 52 1,0 -4.2,-5.4zM697.1,377.2a4.8,2.1 76 1,0 2.4,9.3a4.8,2.1 76 1,0 -2.4,-9.3zM703.5,377.7a4.6,2.4 71 1,0 3.0,8.8a4.6,2.4 71 1,0 -3.0,-8.8zM718.5,377.5a3.5,2.3 36 1,0 5.7,4.1a3.5,2.3 36 1,0 -5.7,-4.1zM742.9,377.7a4.4,1.6 60 1,0 4.3,7.6a4.4,1.6 60 1,0 -4.3,-7.6zM354.1,387.1a4.2,2.2 69 1,0 3.1,7.8a4.2,2.2 69 1,0 -3.1,-7.8zM389.4,388.5a3.8,1.5 35 1,0 6.3,4.4a3.8,1.5 35 1,0 -6.3,-4.4zM399.7,382.8a3.1,2.0 50 1,0 4.0,4.8a3.1,2.0 50 1,0 -4.0,-4.8zM413.9,382.9a4.9,2.2 51 1,0 6.2,7.6a4.9,2.2 51 1,0 -6.2,-7.6zM426.9,387.5a4.0,1.4 52 1,0 5.0,6.4a4.0,1.4 52 1,0 -5.0,-6.4zM438.4,383.4a4.0,2.3 74 1,0 2.2,7.6a4.0,2.3 74 1,0 -2.2,-7.6zM450.8,387.7a3.2,1.5 32 1,0 5.5,3.4a3.2,1.5 32 1,0 -5.5,-3.4zM459.4,385.6a4.4,2.0 31 1,0 7.5,4.5a4.4,2.0 31 1,0 -7.5,-4.5zM473.8,381.6a4.0,2.2 36 1,0 6.4,4.6a4.0,2.2 36 1,0 -6.4,-4.6zM483.3,384.3a3.6,1.7 42 1,0 5.4,4.9a3.6,1.7 42 1,0 -5.4,-4.9zM495.2,383.5a4.0,2.1 53 1,0 4.8,6.4a4.0,2.1 53 1,0 -4.8,-6.4zM510.0,386.2a4.9,2.1 72 1,0 3.0,9.3a4.9,2.1 72 1,0 -3.0,-9.3zM515.3,383.5a4.7,1.5 35 1,0 7.8,5.5a4.7,1.5 35 1,0 -7.8,-5.5zM535.1,388.9a3.6,2.1 50 1,0 4.6,5.5a3.6,2.1 50 1,0 -4.6,-5.5zM541.9,386.6a3.9,1.6 36 1,0 6.3,4.6a3.9,1.6 36 1,0 -6.3,-4.6zM555.7,381.9a5.0,2.0 64 1,0 4.4,9.0a5.0,2.0 64 1,0 -4.4,-9.0zM567.2,384.0a4.4,1.7 47 1,0 6.0,6.4a4.4,1.7 47 1,0 -6.0,-6.4zM579.4,384.9a2.8,1.9 44 1,0 4.1,3.9a2.8,1.9 44 1,0 -4.1,-3.9zM589.5,386.2a3.4,1.6 55 1,0 3.9,5.6a3.4,1.6 55 1,0 -3.9,-5.6zM599.6,385.1a4.2,2.3 62 1,0 3.9,7.4a4.2,2.3 62 1,0 -3.9,-7.4zM613.2,384.0a3.2,1.7 47 1,0 4.4,4.7a3.2,1.7 47 1,0 -4.4,-4.7zM625.5,383.2a3.5,1.5 60 1,0 3.5,6.0a3.5,1.5 60 1,0 -3.5,-6.0zM636.4,383.5a4.4,2.3 63 1,0 4.1,7.8a4.4,2.3 63 1,0 -4.1,-7.8zM648.2,382.2a4.5,1.4 65 1,0 3.9,8.2a4.5,1.4 65 1,0 -3.9,-8.2zM662.0,388.4a4.6,2.1 49 1,0 6.1,7.0a4.6,2.1 49 1,0 -6.1,-7.0zM678.8,382.2a4.1,2.2 63 1,0 3.8,7.3a4.1,2.2 63 1,0 -3.8,-7.3zM682.9,383.6a4.3,2.3 43 1,0 6.2,5.8a4.3,2.3 43 1,0 -6.2,-5.8zM693.9,387.4a5.0,1.6 35 1,0 8.2,5.7a5.0,1.6 35 1,0 -8.2,-5.7zM709.9,389.6a3.2,2.2 42 1,0 4.8,4.3a3.2,2.2 42 1,0 -4.8,-4.3zM725.1,382.2a3.8,2.2 59 1,0 3.9,6.6a3.8,2.2 59 1,0 -3.9,-6.6zM737.0,384.1a2.8,1.5 65 1,0 2.4,5.1a2.8,1.5 65 1,0 -2.4,-5.1zM379.1,393.5a3.9,2.0 49 1,0 5.2,5.9a3.9,2.0 49 1,0 -5.2,-5.9zM394.3,388.9a5.0,2.1 74 1,0 2.7,9.6a5.0,2.1 74 1,0 -2.7,-9.6zM405.5,397.7a4.3,2.3 72 1,0 2.6,8.1a4.3,2.3 72 1,0 -2.6,-8.1zM427.9,394.8a3.0,1.5 37 1,0 4.8,3.6a3.0,1.5 37 1,0 -4.8,-3.6zM441.8,396.1a4.6,1.7 52 1,0 5.7,7.3a4.6,1.7 52 1,0 -5.7,-7.3zM454.0,396.7a4.5,1.4 62 1,0 4.2,8.0a4.5,1.4 62 1,0 -4.2,-8.0zM467.0,397.9a4.5,1.6 40 1,0 6.9,5.7a4.5,1.6 40 1,0 -6.9,-5.7zM477.9,396.8a4.0,1.6 33 1,0 6.6,4.3a4.0,1.6 33 1,0 -6.6,-4.3zM487.9,394.9a4.4,2.0 40 1,0 6.7,5.6a4.4,2.0 40 1,0 -6.7,-5.6zM499.2,397.4a5.0,1.5 39 1,0 7.7,6.2a5.0,1.5 39 1,0 -7.7,-6.2zM522.6,398.0a3.2,1.7 31 1,0 5.5,3.3a3.2,1.7 31 1,0 -5.5,-3.3zM537.7,396.1a4.3,1.3 36 1,0 6.9,5.0a4.3,1.3 36 1,0 -6.9,-5.0zM552.5,398.4a3.8,2.1 33 1,0 6.3,4.1a3.8,2.1 33 1,0 -6.3,-4.1zM562.1,397.0a3.2,2.0 50 1,0 4.0,4.8a3.2,2.0 50 1,0 -4.0,-4.8zM569.4,393.9a3.5,1.4 62 1,0 3.3,6.2a3.5,1.4 62 1,0 -3.3,-6.2zM586.6,393.4a4.0,1.6 46 1,0 5.5,5.7a4.0,1.6 46 1,0 -5.5,-5.7zM598.7,395.3a3.4,1.5 32 1,0 5.7,3.6a3.4,1.5 32 1,0 -5.7,-3.6zM606.5,394.0a4.5,1.5 45 1,0 6.3,6.2a4.5,1.5 45 1,0 -6.3,-6.2zM618.5,397.0a3.8,1.5 32 1,0 6.4,4.0a3.8,1.5 32 1,0 -6.4,-4.0zM632.2,395.2a4.2,2.1 50 1,0 5.3,6.4a4.2,2.1 50 1,0 -5.3,-6.4zM645.4,398.0a3.5,2.0 65 1,0 3.0,6.4a3.5,2.0 65 1,0 -3.0,-6.4zM667.6,396.2a3.4,1.9 43 1,0 5.0,4.6a3.4,1.9 43 1,0 -5.0,-4.6zM684.7,398.5a3.0,1.9 48 1,0 4.1,4.5a3.0,1.9 48 1,0 -4.1,-4.5zM692.4,392.8a3.3,2.1 39 1,0 5.1,4.1a3.3,2.1 39 1,0 -5.1,-4.1zM704.2,393.7a4.6,2.2 31 1,0 7.8,4.8a4.6,2.2 31 1,0 -7.8,-4.8zM721.6,395.4a3.7,1.7 66 1,0 3.0,6.7a3.7,1.7 66 1,0 -3.0,-6.7zM729.1,396.6a3.7,1.5 32 1,0 6.2,3.9a3.7,1.5 32 1,0 -6.2,-3.9zM336.0,403.6a4.8,2.1 80 1,0 1.8,9.5a4.8,2.1 80 1,0 -1.8,-9.5zM378.5,403.7a3.7,1.5 58 1,0 3.9,6.2a3.7,1.5 58 1,0 -3.9,-6.2zM389.4,402.8a3.1,1.6 76 1,0 1.5,6.0a3.1,1.6 76 1,0 -1.5,-6.0zM401.9,403.0a4.2,2.4 78 1,0 1.7,8.2a4.2,2.4 78 1,0 -1.7,-8.2zM416.2,402.3a2.8,2.0 62 1,0 2.7,5.0a2.8,2.0 62 1,0 -2.7,-5.0zM424.5,403.3a4.6,1.8 57 1,0 5.0,7.8a4.6,1.8 57 1,0 -5.0,-7.8zM437.3,403.8a3.2,2.4 72 1,0 1.9,6.1a3.2,2.4 72 1,0 -1.9,-6.1zM446.4,407.0a4.1,1.8 79 1,0 1.6,8.1a4.1,1.8 79 1,0 -1.6,-8.1zM464.2,403.6a3.7,1.6 60 1,0 3.7,6.4a3.7,1.6 60 1,0 -3.7,-6.4zM472.3,403.0a4.3,2.0 53 1,0 5.2,6.8a4.3,2.0 53 1,0 -5.2,-6.8zM495.9,403.4a4.7,2.0 55 1,0 5.4,7.7a4.7,2.0 55 1,0 -5.4,-7.7zM509.4,407.3a4.1,1.8 58 1,0 4.4,7.0a4.1,1.8 58 1,0 -4.4,-7.0zM522.0,401.5a4.1,1.3 58 1,0 4.3,7.0a4.1,1.3 58 1,0 -4.3,-7.0zM535.6,404.7a2.9,1.5 75 1,0 1.5,5.6a2.9,1.5 75 1,0 -1.5,-5.6zM542.2,408.5a3.6,2.1 66 1,0 2.9,6.6a3.6,2.1 66 1,0 -2.9,-6.6zM554.0,403.2a4.1,2.1 51 1,0 5.2,6.4a4.1,2.1 51 1,0 -5.2,-6.4zM566.2,401.6a3.6,1.7 63 1,0 3.3,6.5a3.6,1.7 63 1,0 -3.3,-6.5zM581.8,401.2a4.8,1.9 72 1,0 3.0,9.2a4.8,1.9 72 1,0 -3.0,-9.2zM593.7,401.3a4.0,1.8 74 1,0 2.2,7.7a4.0,1.8 74 1,0 -2.2,-7.7zM600.9,408.2a5.0,2.0 44 1,0 7.2,6.9a5.0,2.0 44 1,0 -7.2,-6.9zM617.9,402.5a4.3,2.1 43 1,0 6.4,5.9a4.3,2.1 43 1,0 -6.4,-5.9zM627.6,405.9a3.4,1.7 67 1,0 2.6,6.3a3.4,1.7 67 1,0 -2.6,-6.3zM638.1,403.2a3.6,2.2 54 1,0 4.2,5.8a3.6,2.2 54 1,0 -4.2,-5.8zM648.5,404.4a2.8,1.7 56 1,0 3.2,4.7a2.8,1.7 56 1,0 -3.2,-4.7zM663.2,406.5a4.2,1.7 51 1,0 5.2,6.5a4.2,1.7 51 1,0 -5.2,-6.5zM675.7,399.9a3.9,1.8 60 1,0 3.8,6.8a3.9,1.8 60 1,0 -3.8,-6.8zM686.0,403.1a3.6,2.4 31 1,0 6.2,3.8a3.6,2.4 31 1,0 -6.2,-3.8zM701.5,400.7a3.2,2.2 60 1,0 3.1,5.5a3.2,2.2 60 1,0 -3.1,-5.5zM713.7,406.0a4.7,2.2 55 1,0 5.4,7.6a4.7,2.2 55 1,0 -5.4,-7.6zM719.7,405.5a3.6,1.7 32 1,0 6.0,3.8a3.6,1.7 32 1,0 -6.0,-3.8zM737.7,404.8a4.7,1.7 63 1,0 4.3,8.4a4.7,1.7 63 1,0 -4.3,-8.4zM321.0,412.8a3.0,1.8 45 1,0 4.2,4.2a3.0,1.8 45 1,0 -4.2,-4.2zM358.6,416.8a3.0,2.2 65 1,0 2.6,5.5a3.0,2.2 65 1,0 -2.6,-5.5zM373.7,414.1a4.9,1.5 78 1,0 2.0,9.6a4.9,1.5 78 1,0 -2.0,-9.6zM377.6,417.0a3.1,1.9 32 1,0 5.4,3.3a3.1,1.9 32 1,0 -5.4,-3.3zM394.3,415.1a4.2,1.6 47 1,0 5.7,6.2a4.2,1.6 47 1,0 -5.7,-6.2zM406.0,415.7a3.1,1.9 47 1,0 4.2,4.5a3.1,1.9 47 1,0 -4.2,-4.5zM413.7,413.9a4.4,1.4 61 1,0 4.3,7.8a4.4,1.4 61 1,0 -4.3,-7.8zM442.5,414.9a3.5,2.2 53 1,0 4.2,5.6a3.5,2.2 53 1,0 -4.2,-5.6zM454.1,412.7a3.2,1.3 74 1,0 1.8,6.1a3.2,1.3 74 1,0 -1.8,-6.1zM468.1,412.7a3.6,2.3 53 1,0 4.3,5.7a3.6,2.3 53 1,0 -4.3,-5.7zM477.7,415.8a4.5,2.3 40 1,0 6.8,5.8a4.5,2.3 40 1,0 -6.8,-5.8zM486.3,417.0a3.3,1.7 58 1,0 3.5,5.5a3.3,1.7 58 1,0 -3.5,-5.5zM519.5,415.7a3.7,1.4 64 1,0 3.2,6.6a3.7,1.4 64 1,0 -3.2,-6.6zM526.9,414.6a3.0,1.5 64 1,0 2.6,5.3a3.0,1.5 64 1,0 -2.6,-5.3zM543.0,411.7a3.4,1.5 77 1,0 1.6,6.7a3.4,1.5 77 1,0 -1.6,-6.7zM550.2,414.0a3.9,2.3 65 1,0 3.2,7.1a3.9,2.3 65 1,0 -3.2,-7.1zM576.7,412.1a3.4,1.5 38 1,0 5.3,4.1a3.4,1.5 38 1,0 -5.3,-4.1zM589.9,413.5a2.9,1.4 80 1,0 1.0,5.7a2.9,1.4 80 1,0 -1.0,-5.7zM612.5,414.1a4.5,2.0 36 1,0 7.3,5.2a4.5,2.0 36 1,0 -7.3,-5.2zM621.2,413.4a4.7,2.2 74 1,0 2.6,9.0a4.7,2.2 74 1,0 -2.6,-9.0zM632.1,413.0a2.9,2.2 53 1,0 3.4,4.6a2.9,2.2 53 1,0 -3.4,-4.6zM642.5,414.2a4.1,2.1 54 1,0 4.9,6.7a4.1,2.1 54 1,0 -4.9,-6.7zM659.0,413.7a4.1,1.6 70 1,0 2.8,7.7a4.1,1.6 70 1,0 -2.8,-7.7zM666.7,414.3a3.4,1.9 62 1,0 3.2,6.1a3.4,1.9 62 1,0 -3.2,-6.1zM684.9,410.7a3.1,1.7 74 1,0 1.7,6.0a3.1,1.7 74 1,0 -1.7,-6.0zM694.8,415.3a3.4,2.2 48 1,0 4.6,5.1a3.4,2.2 48 1,0 -4.6,-5.1zM709.7,411.6a3.2,1.5 71 1,0 2.1,6.1a3.2,1.5 71 1,0 -2.1,-6.1zM717.3,417.1a3.2,1.6 73 1,0 1.8,6.1a3.2,1.6 73 1,0 -1.8,-6.1zM328.4,419.0a4.5,2.2 71 1,0 2.9,8.5a4.5,2.2 71 1,0 -2.9,-8.5zM340.4,422.1a4.8,1.7 75 1,0 2.4,9.3a4.8,1.7 75 1,0 -2.4,-9.3zM355.1,421.6a4.4,1.5 53 1,0 5.3,7.0a4.4,1.5 53 1,0 -5.3,-7.0zM378.3,421.6a4.0,2.4 67 1,0 3.1,7.3a4.0,2.4 67 1,0 -3.1,-7.3zM388.4,427.2a4.2,1.9 40 1,0 6.5,5.4a4.2,1.9 40 1,0 -6.5,-5.4zM401.5,422.5a2.9,1.4 39 1,0 4.5,3.6a2.9,1.4 39 1,0 -4.5,-3.6zM415.5,425.9a3.2,1.8 78 1,0 1.3,6.3a3.2,1.8 78 1,0 -1.3,-6.3zM420.4,424.7a4.8,1.9 41 1,0 7.2,6.2a4.8,1.9 41 1,0 -7.2,-6.2zM437.0,424.3a3.6,1.9 35 1,0 5.8,4.1a3.6,1.9 35 1,0 -5.8,-4.1zM444.4,426.1a4.1,1.7 42 1,0 6.1,5.5a4.1,1.7 42 1,0 -6.1,-5.5zM463.5,427.4a3.3,1.6 39 1,0 5.2,4.1a3.3,1.6 39 1,0 -5.2,-4.1zM469.4,426.3a4.2,1.3 39 1,0 6.4,5.3a4.2,1.3 39 1,0 -6.4,-5.3zM481.0,420.5a4.0,1.9 72 1,0 2.5,7.6a4.0,1.9 72 1,0 -2.5,-7.6zM493.0,423.8a4.8,2.1 43 1,0 7.1,6.5a4.8,2.1 43 1,0 -7.1,-6.5zM518.8,426.4a4.9,1.5 34 1,0 8.1,5.5a4.9,1.5 34 1,0 -8.1,-5.5zM530.1,423.8a3.2,2.1 48 1,0 4.3,4.7a3.2,2.1 48 1,0 -4.3,-4.7zM546.4,421.4a4.7,1.3 46 1,0 6.6,6.7a4.7,1.3 46 1,0 -6.6,-6.7zM556.0,422.6a4.9,1.5 77 1,0 2.1,9.6a4.9,1.5 77 1,0 -2.1,-9.6zM571.9,421.8a3.6,2.2 74 1,0 2.0,7.0a3.6,2.2 74 1,0 -2.0,-7.0zM575.5,423.0a4.9,2.1 61 1,0 4.7,8.5a4.9,2.1 61 1,0 -4.7,-8.5zM589.8,426.5a4.4,1.5 34 1,0 7.3,4.9a4.4,1.5 34 1,0 -7.3,-4.9zM614.2,424.9a4.9,1.4 73 1,0 2.9,9.5a4.9,1.4 73 1,0 -2.9,-9.5zM628.4,422.5a3.9,1.5 51 1,0 4.9,6.1a3.9,1.5 51 1,0 -4.9,-6.1zM638.1,420.0a3.6,1.7 68 1,0 2.7,6.7a3.6,1.7 68 1,0 -2.7,-6.7zM652.2,425.9a3.5,2.0 76 1,0 1.7,6.7a3.5,2.0 76 1,0 -1.7,-6.7zM665.3,422.1a4.8,1.5 34 1,0 8.0,5.4a4.8,1.5 34 1,0 -8.0,-5.4zM672.8,427.1a3.2,1.6 47 1,0 4.3,4.7a3.2,1.6 47 1,0 -4.3,-4.7zM686.5,424.6a3.5,2.4 59 1,0 3.6,6.0a3.5,2.4 59 1,0 -3.6,-6.0zM696.9,429.1a2.9,1.4 34 1,0 4.7,3.2a2.9,1.4 34 1,0 -4.7,-3.2zM714.0,421.0a4.3,1.5 54 1,0 5.1,6.9a4.3,1.5 54 1,0 -5.1,-6.9zM721.8,421.7a4.0,1.9 58 1,0 4.3,6.8a4.0,1.9 58 1,0 -4.3,-6.8zM335.4,433.1a4.1,1.6 36 1,0 6.6,4.8a4.1,1.6 36 1,0 -6.6,-4.8zM372.1,431.5a4.2,2.0 42 1,0 6.2,5.7a4.2,2.0 42 1,0 -6.2,-5.7zM377.7,433.6a4.0,2.2 51 1,0 5.0,6.1a4.0,2.2 51 1,0 -5.0,-6.1zM393.0,428.8a4.0,1.9 65 1,0 3.5,7.3a4.0,1.9 65 1,0 -3.5,-7.3zM404.8,432.0a3.8,1.7 38 1,0 6.0,4.8a3.8,1.7 38 1,0 -6.0,-4.8zM421.8,433.0a4.4,2.0 70 1,0 3.0,8.3a4.4,2.0 70 1,0 -3.0,-8.3zM424.9,430.7a4.6,2.2 33 1,0 7.8,5.0a4.6,2.2 33 1,0 -7.8,-5.0zM437.6,429.6a4.7,2.3 63 1,0 4.3,8.3a4.7,2.3 63 1,0 -4.3,-8.3zM457.5,432.3a3.7,1.5 67 1,0 2.9,6.8a3.7,1.5 67 1,0 -2.9,-6.8zM461.9,430.4a3.4,1.9 51 1,0 4.3,5.4a3.4,1.9 51 1,0 -4.3,-5.4zM475.6,433.6a4.8,2.2 38 1,0 7.5,5.9a4.8,2.2 38 1,0 -7.5,-5.9zM490.3,430.6a4.4,2.2 58 1,0 4.6,7.4a4.4,2.2 58 1,0 -4.6,-7.4zM499.4,431.7a2.9,2.1 35 1,0 4.8,3.3a2.9,2.1 35 1,0 -4.8,-3.3zM511.2,436.3a2.9,2.0 45 1,0 4.2,4.1a2.9,2.0 45 1,0 -4.2,-4.1zM523.3,429.0a3.4,1.4 70 1,0 2.4,6.5a3.4,1.4 70 1,0 -2.4,-6.5zM540.7,431.9a4.4,2.0 45 1,0 6.2,6.2a4.4,2.0 45 1,0 -6.2,-6.2zM551.6,435.4a2.9,1.9 51 1,0 3.7,4.6a2.9,1.9 51 1,0 -3.7,-4.6zM560.1,430.3a4.9,1.5 74 1,0 2.7,9.5a4.9,1.5 74 1,0 -2.7,-9.5zM574.1,436.5a3.5,2.4 41 1,0 5.2,4.6a3.5,2.4 41 1,0 -5.2,-4.6zM586.1,433.4a4.5,2.1 35 1,0 7.4,5.2a4.5,2.1 35 1,0 -7.4,-5.2zM593.9,435.1a4.9,1.5 46 1,0 6.9,7.0a4.9,1.5 46 1,0 -6.9,-7.0zM613.4,436.4a3.4,1.9 74 1,0 1.8,6.5a3.4,1.9 74 1,0 -1.8,-6.5zM623.3,436.0a4.7,2.1 41 1,0 7.2,6.2a4.7,2.1 41 1,0 -7.2,-6.2zM632.9,438.2a3.9,1.8 30 1,0 6.7,3.9a3.9,1.8 30 1,0 -6.7,-3.9zM642.9,431.8a4.6,1.5 45 1,0 6.5,6.5a4.6,1.5 45 1,0 -6.5,-6.5zM667.9,435.6a4.1,1.3 46 1,0 5.8,5.9a4.1,1.3 46 1,0 -5.8,-5.9zM683.9,431.1a4.8,1.5 79 1,0 1.8,9.4a4.8,1.5 79 1,0 -1.8,-9.4zM692.1,431.6a4.3,2.3 42 1,0 6.4,5.8a4.3,2.3 42 1,0 -6.4,-5.8zM708.4,430.8a4.5,1.8 34 1,0 7.4,5.0a4.5,1.8 34 1,0 -7.4,-5.0zM720.7,430.5a3.2,1.4 57 1,0 3.5,5.5a3.2,1.4 57 1,0 -3.5,-5.5zM725.3,436.5a4.6,1.5 33 1,0 7.8,5.0a4.6,1.5 33 1,0 -7.8,-5.0zM738.0,432.0a4.8,1.4 52 1,0 5.9,7.6a4.8,1.4 52 1,0 -5.9,-7.6zM326.7,443.3a2.8,2.1 76 1,0 1.4,5.4a2.8,2.1 76 1,0 -1.4,-5.4zM338.7,444.4a4.4,2.3 38 1,0 6.9,5.4a4.4,2.3 38 1,0 -6.9,-5.4zM351.5,441.2a4.2,2.2 78 1,0 1.8,8.2a4.2,2.2 78 1,0 -1.8,-8.2zM365.3,442.8a4.5,1.8 32 1,0 7.6,4.7a4.5,1.8 32 1,0 -7.6,-4.7zM374.7,447.0a3.2,1.7 47 1,0 4.4,4.7a3.2,1.7 47 1,0 -4.4,-4.7zM387.0,440.7a3.1,1.8 39 1,0 4.8,3.9a3.1,1.8 39 1,0 -4.8,-3.9zM396.8,444.6a2.9,2.0 42 1,0 4.3,3.9a2.9,2.0 42 1,0 -4.3,-3.9zM433.7,441.7a4.1,1.7 44 1,0 5.9,5.7a4.1,1.7 44 1,0 -5.9,-5.7zM451.6,445.6a2.8,2.0 66 1,0 2.3,5.2a2.8,2.0 66 1,0 -2.3,-5.2zM456.6,446.9a3.5,1.8 51 1,0 4.4,5.4a3.5,1.8 51 1,0 -4.4,-5.4zM469.0,442.4a4.9,1.8 71 1,0 3.2,9.4a4.9,1.8 71 1,0 -3.2,-9.4zM487.5,442.5a4.0,2.4 59 1,0 4.1,6.9a4.0,2.4 59 1,0 -4.1,-6.9zM495.5,443.1a3.8,2.2 74 1,0 2.1,7.4a3.8,2.2 74 1,0 -2.1,-7.4zM504.5,447.1a3.0,1.9 34 1,0 5.0,3.4a3.0,1.9 34 1,0 -5.0,-3.4zM518.4,436.9a4.8,1.9 59 1,0 5.0,8.2a4.8,1.9 59 1,0 -5.0,-8.2zM531.0,444.1a3.0,2.3 72 1,0 1.9,5.8a3.0,2.3 72 1,0 -1.9,-5.8zM542.4,442.8a3.3,2.1 67 1,0 2.6,6.1a3.3,2.1 67 1,0 -2.6,-6.1zM550.7,441.9a4.8,2.3 33 1,0 8.2,5.2a4.8,2.3 33 1,0 -8.2,-5.2zM569.7,443.5a3.0,2.3 64 1,0 2.6,5.3a3.0,2.3 64 1,0 -2.6,-5.3zM576.7,440.8a3.6,2.3 43 1,0 5.2,4.9a3.6,2.3 43 1,0 -5.2,-4.9zM595.2,442.0a3.0,2.1 45 1,0 4.3,4.3a3.0,2.1 45 1,0 -4.3,-4.3zM602.4,438.6a4.3,1.4 72 1,0 2.7,8.1a4.3,1.4 72 1,0 -2.7,-8.1zM613.8,439.8a3.3,1.7 71 1,0 2.2,6.3a3.3,1.7 71 1,0 -2.2,-6.3zM629.1,440.6a3.1,1.3 60 1,0 3.1,5.5a3.1,1.3 60 1,0 -3.1,-5.5zM640.0,442.7a3.8,1.8 55 1,0 4.3,6.2a3.8,1.8 55 1,0 -4.3,-6.2zM657.0,444.6a3.0,1.5 58 1,0 3.2,5.1a3.0,1.5 58 1,0 -3.2,-5.1zM665.9,441.8a3.0,1.8 65 1,0 2.5,5.4a3.0,1.8 65 1,0 -2.5,-5.4zM678.1,445.4a2.9,1.5 55 1,0 3.3,4.7a2.9,1.5 55 1,0 -3.3,-4.7zM690.8,446.8a3.7,1.7 50 1,0 4.7,5.6a3.7,1.7 50 1,0 -4.7,-5.6zM694.6,440.6a4.8,1.8 50 1,0 6.1,7.4a4.8,1.8 50 1,0 -6.1,-7.4zM709.4,443.9a3.0,2.2 42 1,0 4.4,3.9a3.0,2.2 42 1,0 -4.4,-3.9zM724.7,439.6a4.2,2.3 72 1,0 2.5,7.9a4.2,2.3 72 1,0 -2.5,-7.9zM733.6,438.6a4.9,2.3 76 1,0 2.3,9.6a4.9,2.3 76 1,0 -2.3,-9.6zM324.8,453.1a3.2,1.7 57 1,0 3.5,5.4a3.2,1.7 57 1,0 -3.5,-5.4zM346.0,449.8a3.5,1.4 30 1,0 6.1,3.6a3.5,1.4 30 1,0 -6.1,-3.6zM357.8,447.6a4.9,1.3 58 1,0 5.1,8.4a4.9,1.3 58 1,0 -5.1,-8.4zM381.1,449.9a3.0,1.8 59 1,0 3.1,5.2a3.0,1.8 59 1,0 -3.1,-5.2zM392.4,450.0a3.4,1.4 60 1,0 3.3,5.8a3.4,1.4 60 1,0 -3.3,-5.8zM405.8,453.0a4.4,1.3 70 1,0 3.1,8.3a4.4,1.3 70 1,0 -3.1,-8.3zM416.4,449.8a4.8,1.6 67 1,0 3.8,8.8a4.8,1.6 67 1,0 -3.8,-8.8zM427.2,447.6a4.7,1.5 56 1,0 5.3,7.7a4.7,1.5 56 1,0 -5.3,-7.7zM443.8,455.0a3.8,1.7 31 1,0 6.5,3.9a3.8,1.7 31 1,0 -6.5,-3.9zM457.2,451.7a3.0,2.1 65 1,0 2.5,5.5a3.0,2.1 65 1,0 -2.5,-5.5zM462.9,451.8a3.6,2.4 58 1,0 3.8,6.0a3.6,2.4 58 1,0 -3.8,-6.0zM479.5,451.2a3.9,2.3 65 1,0 3.3,7.1a3.9,2.3 65 1,0 -3.3,-7.1zM492.8,451.5a3.4,2.1 71 1,0 2.2,6.4a3.4,2.1 71 1,0 -2.2,-6.4zM503.0,453.2a4.4,2.2 42 1,0 6.6,5.8a4.4,2.2 42 1,0 -6.6,-5.8zM513.2,450.8a3.7,1.6 68 1,0 2.8,6.9a3.7,1.6 68 1,0 -2.8,-6.9zM529.8,449.5a3.6,2.3 78 1,0 1.5,7.0a3.6,2.3 78 1,0 -1.5,-7.0zM532.6,455.2a3.7,2.1 33 1,0 6.3,4.0a3.7,2.1 33 1,0 -6.3,-4.0zM549.1,454.0a4.6,2.2 32 1,0 7.7,4.9a4.6,2.2 32 1,0 -7.7,-4.9zM558.7,448.7a4.6,2.3 66 1,0 3.7,8.4a4.6,2.3 66 1,0 -3.7,-8.4zM571.8,452.3a3.6,1.6 55 1,0 4.1,5.9a3.6,1.6 55 1,0 -4.1,-5.9zM586.6,450.1a3.0,1.9 65 1,0 2.6,5.5a3.0,1.9 65 1,0 -2.6,-5.5zM600.7,453.4a3.2,1.7 41 1,0 4.9,4.2a3.2,1.7 41 1,0 -4.9,-4.2zM609.4,455.7a3.0,2.1 42 1,0 4.4,4.0a3.0,2.1 42 1,0 -4.4,-4.0zM620.1,449.0a3.7,1.9 75 1,0 1.9,7.2a3.7,1.9 75 1,0 -1.9,-7.2zM637.7,449.2a4.2,1.3 68 1,0 3.1,7.9a4.2,1.3 68 1,0 -3.1,-7.9zM647.3,455.3a3.7,1.8 35 1,0 6.1,4.2a3.7,1.8 35 1,0 -6.1,-4.2zM655.3,454.2a4.4,2.1 66 1,0 3.6,7.9a4.4,2.1 66 1,0 -3.6,-7.9zM663.8,449.6a3.7,2.1 35 1,0 6.1,4.2a3.7,2.1 35 1,0 -6.1,-4.2zM678.9,449.4a3.5,1.5 76 1,0 1.7,6.9a3.5,1.5 76 1,0 -1.7,-6.9zM693.3,453.1a4.4,2.0 74 1,0 2.5,8.4a4.4,2.0 74 1,0 -2.5,-8.4zM701.9,453.5a4.8,1.5 56 1,0 5.4,7.9a4.8,1.5 56 1,0 -5.4,-7.9zM717.5,455.8a4.7,1.7 36 1,0 7.6,5.4a4.7,1.7 36 1,0 -7.6,-5.4zM730.9,447.2a4.7,1.6 60 1,0 4.7,8.2a4.7,1.6 60 1,0 -4.7,-8.2zM323.3,462.1a3.9,1.5 35 1,0 6.5,4.5a3.9,1.5 35 1,0 -6.5,-4.5zM337.9,462.0a3.4,2.3 56 1,0 3.8,5.6a3.4,2.3 56 1,0 -3.8,-5.6zM355.3,459.2a3.8,1.9 54 1,0 4.6,6.2a3.8,1.9 54 1,0 -4.6,-6.2zM361.5,466.3a3.3,2.2 35 1,0 5.4,3.8a3.3,2.2 35 1,0 -5.4,-3.8zM372.4,464.5a4.4,2.1 44 1,0 6.2,6.1a4.4,2.1 44 1,0 -6.2,-6.1zM383.9,462.3a4.9,2.3 57 1,0 5.4,8.2a4.9,2.3 57 1,0 -5.4,-8.2zM403.0,460.2a3.8,1.8 42 1,0 5.7,5.0a3.8,1.8 42 1,0 -5.7,-5.0zM413.8,457.8a4.7,1.3 51 1,0 6.0,7.3a4.7,1.3 51 1,0 -6.0,-7.3zM423.2,459.3a3.8,1.4 63 1,0 3.5,6.7a3.8,1.4 63 1,0 -3.5,-6.7zM447.0,457.6a4.9,1.3 48 1,0 6.6,7.4a4.9,1.3 48 1,0 -6.6,-7.4zM462.8,463.4a3.5,1.7 58 1,0 3.7,5.9a3.5,1.7 58 1,0 -3.7,-5.9zM471.4,463.9a3.8,2.4 47 1,0 5.2,5.6a3.8,2.4 47 1,0 -5.2,-5.6zM482.7,464.6a3.9,2.1 51 1,0 4.9,6.0a3.9,2.1 51 1,0 -4.9,-6.0zM492.4,459.5a3.6,2.2 51 1,0 4.6,5.7a3.6,2.2 51 1,0 -4.6,-5.7zM515.4,459.5a4.1,2.2 43 1,0 6.1,5.7a4.1,2.2 43 1,0 -6.1,-5.7zM545.7,462.6a4.5,1.7 41 1,0 6.9,5.9a4.5,1.7 41 1,0 -6.9,-5.9zM556.4,459.7a3.5,1.8 65 1,0 3.0,6.4a3.5,1.8 65 1,0 -3.0,-6.4zM570.3,462.5a3.8,1.7 79 1,0 1.5,7.4a3.8,1.7 79 1,0 -1.5,-7.4zM590.3,460.0a5.0,1.7 67 1,0 3.9,9.1a5.0,1.7 67 1,0 -3.9,-9.1zM605.0,463.6a4.2,2.4 66 1,0 3.4,7.7a4.2,2.4 66 1,0 -3.4,-7.7zM617.2,457.3a4.9,1.4 57 1,0 5.4,8.3a4.9,1.4 57 1,0 -5.4,-8.3zM631.3,460.6a3.1,1.6 41 1,0 4.7,4.1a3.1,1.6 41 1,0 -4.7,-4.1zM642.4,464.2a4.7,1.9 30 1,0 8.2,4.7a4.7,1.9 30 1,0 -8.2,-4.7zM649.0,466.0a4.1,1.8 34 1,0 6.7,4.6a4.1,1.8 34 1,0 -6.7,-4.6zM661.6,460.6a2.9,1.7 37 1,0 4.5,3.5a2.9,1.7 37 1,0 -4.5,-3.5zM677.9,459.8a3.2,1.6 52 1,0 3.9,5.1a3.2,1.6 52 1,0 -3.9,-5.1zM688.1,461.8a2.9,2.2 78 1,0 1.2,5.7a2.9,2.2 78 1,0 -1.2,-5.7zM699.8,464.9a2.8,1.9 41 1,0 4.2,3.7a2.8,1.9 41 1,0 -4.2,-3.7zM707.6,461.5a3.5,2.3 42 1,0 5.2,4.7a3.5,2.3 42 1,0 -5.2,-4.7zM333.5,468.8a2.8,2.0 55 1,0 3.2,4.6a2.8,2.0 55 1,0 -3.2,-4.6zM345.6,471.9a3.9,2.4 71 1,0 2.5,7.4a3.9,2.4 71 1,0 -2.5,-7.4zM354.2,473.8a3.2,1.8 37 1,0 5.2,3.8a3.2,1.8 37 1,0 -5.2,-3.8zM366.9,469.5a4.7,2.2 53 1,0 5.7,7.6a4.7,2.2 53 1,0 -5.7,-7.6zM382.4,473.0a3.8,1.9 58 1,0 4.0,6.5a3.8,1.9 58 1,0 -4.0,-6.5zM394.6,475.5a3.0,1.3 61 1,0 2.9,5.3a3.0,1.3 61 1,0 -2.9,-5.3zM403.4,472.0a3.3,1.8 32 1,0 5.6,3.5a3.3,1.8 32 1,0 -5.6,-3.5zM421.8,472.9a3.6,1.9 63 1,0 3.2,6.4a3.6,1.9 63 1,0 -3.2,-6.4zM427.6,468.6a4.9,1.6 68 1,0 3.6,9.2a4.9,1.6 68 1,0 -3.6,-9.2zM443.4,473.4a4.0,2.4 61 1,0 4.0,7.0a4.0,2.4 61 1,0 -4.0,-7.0zM451.6,470.3a4.8,1.7 67 1,0 3.8,8.9a4.8,1.7 67 1,0 -3.8,-8.9zM467.9,474.3a4.1,1.5 35 1,0 6.7,4.7a4.1,1.5 35 1,0 -6.7,-4.7zM472.9,468.6a4.9,1.5 48 1,0 6.6,7.2a4.9,1.5 48 1,0 -6.6,-7.2zM488.4,468.4a3.8,1.6 61 1,0 3.8,6.7a3.8,1.6 61 1,0 -3.8,-6.7zM499.2,472.9a4.7,1.7 32 1,0 7.9,5.0a4.7,1.7 32 1,0 -7.9,-5.0zM517.4,473.8a3.6,2.1 65 1,0 3.1,6.5a3.6,2.1 65 1,0 -3.1,-6.5zM528.0,470.1a3.1,1.4 64 1,0 2.7,5.6a3.1,1.4 64 1,0 -2.7,-5.6zM534.6,473.4a3.2,1.5 39 1,0 5.0,4.1a3.2,1.5 39 1,0 -5.0,-4.1zM563.4,468.4a2.9,1.6 66 1,0 2.3,5.2a2.9,1.6 66 1,0 -2.3,-5.2zM586.9,472.3a3.0,2.0 32 1,0 5.1,3.2a3.0,2.0 32 1,0 -5.1,-3.2zM597.1,471.9a4.3,1.4 39 1,0 6.7,5.5a4.3,1.4 39 1,0 -6.7,-5.5zM605.1,473.2a4.6,2.0 32 1,0 7.7,4.9a4.6,2.0 32 1,0 -7.7,-4.9zM621.9,474.4a3.6,1.6 48 1,0 4.9,5.4a3.6,1.6 48 1,0 -4.9,-5.4zM643.0,470.3a4.1,2.1 58 1,0 4.4,7.0a4.1,2.1 58 1,0 -4.4,-7.0zM661.7,473.4a3.0,1.9 76 1,0 1.4,5.8a3.0,1.9 76 1,0 -1.4,-5.8zM670.7,472.6a3.5,1.8 33 1,0 5.9,3.8a3.5,1.8 33 1,0 -5.9,-3.8zM681.9,471.2a3.3,2.0 51 1,0 4.1,5.1a3.3,2.0 51 1,0 -4.1,-5.1zM690.4,472.4a3.9,2.2 42 1,0 5.8,5.3a3.9,2.2 42 1,0 -5.8,-5.3zM705.1,471.1a3.1,1.4 55 1,0 3.6,5.1a3.1,1.4 55 1,0 -3.6,-5.1zM715.4,469.4a3.9,1.7 62 1,0 3.6,7.0a3.9,1.7 62 1,0 -3.6,-7.0zM733.3,467.4a3.3,1.3 58 1,0 3.5,5.6a3.3,1.3 58 1,0 -3.5,-5.6zM746.3,471.4a4.9,1.5 75 1,0 2.5,9.4a4.9,1.5 75 1,0 -2.5,-9.4zM318.8,483.1a3.2,1.4 58 1,0 3.3,5.3a3.2,1.4 58 1,0 -3.3,-5.3zM330.0,482.8a3.2,1.3 30 1,0 5.6,3.3a3.2,1.3 30 1,0 -5.6,-3.3zM342.0,480.6a4.9,2.3 75 1,0 2.4,9.4a4.9,2.3 75 1,0 -2.4,-9.4zM350.2,477.0a4.0,2.2 58 1,0 4.3,6.8a4.0,2.2 58 1,0 -4.3,-6.8zM366.0,476.3a2.9,2.1 77 1,0 1.3,5.7a2.9,2.1 77 1,0 -1.3,-5.7zM375.4,477.5a3.2,1.4 58 1,0 3.4,5.5a3.2,1.4 58 1,0 -3.4,-5.5zM389.7,476.5a4.9,2.2 61 1,0 4.7,8.5a4.9,2.2 61 1,0 -4.7,-8.5zM401.8,476.7a4.0,1.8 54 1,0 4.7,6.5a4.0,1.8 54 1,0 -4.7,-6.5zM410.9,481.6a3.9,2.3 74 1,0 2.1,7.5a3.9,2.3 74 1,0 -2.1,-7.5zM425.2,477.8a2.8,2.2 61 1,0 2.8,4.9a2.8,2.2 61 1,0 -2.8,-4.9zM447.0,479.2a3.4,2.4 78 1,0 1.5,6.6a3.4,2.4 78 1,0 -1.5,-6.6zM459.3,483.0a3.5,2.4 41 1,0 5.2,4.6a3.5,2.4 41 1,0 -5.2,-4.6zM486.3,477.6a4.4,1.4 71 1,0 2.9,8.3a4.4,1.4 71 1,0 -2.9,-8.3zM498.2,481.6a4.2,1.7 37 1,0 6.8,5.1a4.2,1.7 37 1,0 -6.8,-5.1zM509.2,479.0a5.0,2.1 76 1,0 2.3,9.7a5.0,2.1 76 1,0 -2.3,-9.7zM522.7,484.2a2.8,1.9 57 1,0 3.1,4.8a2.8,1.9 57 1,0 -3.1,-4.8zM532.5,482.4a2.9,1.3 72 1,0 1.8,5.5a2.9,1.3 72 1,0 -1.8,-5.5zM555.3,476.9a4.4,2.1 41 1,0 6.6,5.7a4.4,2.1 41 1,0 -6.6,-5.7zM581.2,481.8a4.0,1.6 51 1,0 5.0,6.1a4.0,1.6 51 1,0 -5.0,-6.1zM603.4,482.1a4.1,2.0 48 1,0 5.5,6.1a4.1,2.0 48 1,0 -5.5,-6.1zM618.1,477.1a3.6,1.4 73 1,0 2.2,7.0a3.6,1.4 73 1,0 -2.2,-7.0zM628.5,478.4a4.8,2.4 73 1,0 2.8,9.2a4.8,2.4 73 1,0 -2.8,-9.2zM640.6,482.2a4.1,1.9 55 1,0 4.8,6.8a4.1,1.9 55 1,0 -4.8,-6.8zM650.4,484.0a4.4,2.0 39 1,0 6.8,5.5a4.4,2.0 39 1,0 -6.8,-5.5zM661.2,482.1a3.8,1.7 49 1,0 5.1,5.7a3.8,1.7 49 1,0 -5.1,-5.7zM679.2,480.2a4.0,1.4 38 1,0 6.4,5.0a4.0,1.4 38 1,0 -6.4,-5.0zM688.5,480.0a4.4,2.3 65 1,0 3.6,7.9a4.4,2.3 65 1,0 -3.6,-7.9zM703.9,479.4a4.4,1.7 78 1,0 1.9,8.5a4.4,1.7 78 1,0 -1.9,-8.5zM714.2,476.7a4.9,1.5 53 1,0 5.9,7.9a4.9,1.5 53 1,0 -5.9,-7.9zM721.7,479.7a4.8,1.5 46 1,0 6.7,7.0a4.8,1.5 46 1,0 -6.7,-7.0zM731.1,484.5a3.8,1.4 35 1,0 6.3,4.4a3.8,1.4 35 1,0 -6.3,-4.4zM746.3,476.5a4.8,1.5 64 1,0 4.2,8.7a4.8,1.5 64 1,0 -4.2,-8.7zM337.5,490.2a4.0,1.6 52 1,0 4.9,6.3a4.0,1.6 52 1,0 -4.9,-6.3zM348.9,487.0a3.3,1.5 77 1,0 1.5,6.4a3.3,1.5 77 1,0 -1.5,-6.4zM354.4,492.0a4.8,2.3 49 1,0 6.3,7.3a4.8,2.3 49 1,0 -6.3,-7.3zM373.0,491.4a4.8,1.5 75 1,0 2.5,9.3a4.8,1.5 75 1,0 -2.5,-9.3zM377.8,489.4a3.5,1.5 55 1,0 4.0,5.7a3.5,1.5 55 1,0 -4.0,-5.7zM389.7,492.5a2.8,2.0 43 1,0 4.1,3.8a2.8,2.0 43 1,0 -4.1,-3.8zM403.1,490.6a3.1,1.8 71 1,0 2.0,5.9a3.1,1.8 71 1,0 -2.0,-5.9zM414.4,490.1a2.9,1.8 51 1,0 3.7,4.5a2.9,1.8 51 1,0 -3.7,-4.5zM428.8,489.6a4.0,2.2 49 1,0 5.3,6.1a4.0,2.2 49 1,0 -5.3,-6.1zM445.8,486.8a4.8,2.4 74 1,0 2.6,9.3a4.8,2.4 74 1,0 -2.6,-9.3zM453.0,487.6a4.5,2.2 71 1,0 3.0,8.6a4.5,2.2 71 1,0 -3.0,-8.6zM464.5,490.4a4.5,1.7 62 1,0 4.3,8.0a4.5,1.7 62 1,0 -4.3,-8.0zM479.0,489.6a3.3,1.4 59 1,0 3.4,5.7a3.3,1.4 59 1,0 -3.4,-5.7zM512.0,492.3a3.6,1.4 48 1,0 4.8,5.4a3.6,1.4 48 1,0 -4.8,-5.4zM525.9,486.8a3.1,1.6 31 1,0 5.3,3.2a3.1,1.6 31 1,0 -5.3,-3.2zM534.3,487.9a3.6,2.3 79 1,0 1.4,7.1a3.6,2.3 79 1,0 -1.4,-7.1zM554.2,488.0a4.7,1.7 71 1,0 3.1,8.8a4.7,1.7 71 1,0 -3.1,-8.8zM562.2,488.8a2.9,2.1 67 1,0 2.3,5.4a2.9,2.1 67 1,0 -2.3,-5.4zM570.1,490.7a3.3,1.8 44 1,0 4.8,4.5a3.3,1.8 44 1,0 -4.8,-4.5zM600.5,491.5a4.8,2.1 50 1,0 6.2,7.5a4.8,2.1 50 1,0 -6.2,-7.5zM612.2,486.9a3.1,1.6 55 1,0 3.5,5.1a3.1,1.6 55 1,0 -3.5,-5.1zM622.6,490.4a4.0,1.3 49 1,0 5.2,6.1a4.0,1.3 49 1,0 -5.2,-6.1zM630.3,493.5a4.0,1.8 34 1,0 6.6,4.4a4.0,1.8 34 1,0 -6.6,-4.4zM650.1,489.6a2.9,1.7 68 1,0 2.2,5.4a2.9,1.7 68 1,0 -2.2,-5.4zM659.7,489.2a3.0,2.2 60 1,0 2.9,5.1a3.0,2.2 60 1,0 -2.9,-5.1zM683.3,489.1a4.3,1.3 62 1,0 4.1,7.7a4.3,1.3 62 1,0 -4.1,-7.7zM694.8,488.9a3.6,1.6 53 1,0 4.3,5.7a3.6,1.6 53 1,0 -4.3,-5.7zM705.6,488.9a3.2,1.6 61 1,0 3.1,5.6a3.2,1.6 61 1,0 -3.1,-5.6zM716.0,488.4a3.7,2.4 70 1,0 2.5,7.0a3.7,2.4 70 1,0 -2.5,-7.0zM727.6,492.6a4.5,1.5 55 1,0 5.1,7.5a4.5,1.5 55 1,0 -5.1,-7.5zM742.0,487.7a4.4,2.4 51 1,0 5.5,6.8a4.4,2.4 51 1,0 -5.5,-6.8zM317.9,498.7a5.0,1.4 71 1,0 3.2,9.4a5.0,1.4 71 1,0 -3.2,-9.4zM332.9,498.5a4.0,2.2 61 1,0 3.8,6.9a4.0,2.2 61 1,0 -3.8,-6.9zM343.3,501.4a4.1,1.6 52 1,0 5.0,6.4a4.1,1.6 52 1,0 -5.0,-6.4zM354.2,496.0a4.6,1.6 49 1,0 6.0,6.9a4.6,1.6 49 1,0 -6.0,-6.9zM362.6,497.3a3.0,1.5 60 1,0 2.9,5.1a3.0,1.5 60 1,0 -2.9,-5.1zM375.3,497.6a4.2,1.5 48 1,0 5.6,6.3a4.2,1.5 48 1,0 -5.6,-6.3zM390.2,501.0a4.8,1.8 35 1,0 7.9,5.4a4.8,1.8 35 1,0 -7.9,-5.4zM400.7,500.3a4.9,1.4 47 1,0 6.8,7.2a4.9,1.4 47 1,0 -6.8,-7.2zM408.9,500.8a3.9,1.8 77 1,0 1.8,7.6a3.9,1.8 77 1,0 -1.8,-7.6zM434.8,498.6a3.9,2.3 44 1,0 5.6,5.4a3.9,2.3 44 1,0 -5.6,-5.4zM445.8,500.8a4.2,1.4 34 1,0 6.9,4.7a4.2,1.4 34 1,0 -6.9,-4.7zM456.9,501.3a3.1,1.9 69 1,0 2.2,5.7a3.1,1.9 69 1,0 -2.2,-5.7zM470.4,498.2a3.1,1.5 50 1,0 4.0,4.7a3.1,1.5 50 1,0 -4.0,-4.7zM483.3,499.2a3.5,2.4 47 1,0 4.7,5.1a3.5,2.4 47 1,0 -4.7,-5.1zM509.2,498.3a4.8,1.5 55 1,0 5.5,7.8a4.8,1.5 55 1,0 -5.5,-7.8zM519.1,497.7a4.5,1.3 62 1,0 4.2,7.9a4.5,1.3 62 1,0 -4.2,-7.9zM542.9,497.0a4.6,1.8 52 1,0 5.6,7.3a4.6,1.8 52 1,0 -5.6,-7.3zM560.5,499.8a3.9,2.1 79 1,0 1.4,7.6a3.9,2.1 79 1,0 -1.4,-7.6zM582.9,496.0a4.0,1.3 65 1,0 3.4,7.3a4.0,1.3 65 1,0 -3.4,-7.3zM592.7,498.4a4.9,1.8 64 1,0 4.2,8.8a4.9,1.8 64 1,0 -4.2,-8.8zM607.3,497.7a2.8,1.5 35 1,0 4.6,3.3a2.8,1.5 35 1,0 -4.6,-3.3zM616.0,500.5a4.1,1.9 53 1,0 4.9,6.5a4.1,1.9 53 1,0 -4.9,-6.5zM631.8,496.7a4.0,1.5 74 1,0 2.1,7.6a4.0,1.5 74 1,0 -2.1,-7.6zM637.8,500.2a3.7,2.2 65 1,0 3.2,6.8a3.7,2.2 65 1,0 -3.2,-6.8zM652.3,499.3a4.4,1.9 33 1,0 7.4,4.8a4.4,1.9 33 1,0 -7.4,-4.8zM661.4,498.5a3.5,1.9 35 1,0 5.8,4.0a3.5,1.9 35 1,0 -5.8,-4.0zM686.1,500.2a4.7,1.9 77 1,0 2.1,9.1a4.7,1.9 77 1,0 -2.1,-9.1zM700.3,499.4a3.0,1.5 42 1,0 4.4,4.0a3.0,1.5 42 1,0 -4.4,-4.0zM713.4,500.7a3.6,1.9 31 1,0 6.2,3.7a3.6,1.9 31 1,0 -6.2,-3.7zM720.2,501.8a4.8,1.3 31 1,0 8.2,4.9a4.8,1.3 31 1,0 -8.2,-4.9zM746.0,497.9a4.4,2.2 50 1,0 5.7,6.8a4.4,2.2 50 1,0 -5.7,-6.8zM328.4,508.9a4.7,2.3 33 1,0 7.9,5.1a4.7,2.3 33 1,0 -7.9,-5.1zM347.0,513.4a3.0,2.0 41 1,0 4.5,3.9a3.0,2.0 41 1,0 -4.5,-3.9zM360.3,508.8a4.4,1.7 38 1,0 7.0,5.4a4.4,1.7 38 1,0 -7.0,-5.4zM373.5,507.7a4.3,1.5 49 1,0 5.7,6.5a4.3,1.5 49 1,0 -5.7,-6.5zM378.1,511.6a3.5,2.3 36 1,0 5.7,4.1a3.5,2.3 36 1,0 -5.7,-4.1zM395.6,511.5a4.5,1.9 35 1,0 7.3,5.1a4.5,1.9 35 1,0 -7.3,-5.1zM405.8,513.2a4.3,1.4 39 1,0 6.7,5.4a4.3,1.4 39 1,0 -6.7,-5.4zM420.6,509.0a4.9,2.2 49 1,0 6.4,7.5a4.9,2.2 49 1,0 -6.4,-7.5zM426.9,506.9a3.7,2.3 64 1,0 3.3,6.8a3.7,2.3 64 1,0 -3.3,-6.8zM442.7,509.7a4.6,2.0 77 1,0 2.0,9.0a4.6,2.0 77 1,0 -2.0,-9.0zM456.4,511.2a3.0,1.4 30 1,0 5.2,3.0a3.0,1.4 30 1,0 -5.2,-3.0zM472.1,510.2a3.2,1.4 68 1,0 2.5,6.0a3.2,1.4 68 1,0 -2.5,-6.0zM498.7,505.4a3.9,2.4 68 1,0 2.9,7.2a3.9,2.4 68 1,0 -2.9,-7.2zM512.9,505.2a4.5,2.2 56 1,0 5.1,7.5a4.5,2.2 56 1,0 -5.1,-7.5zM526.0,506.3a3.8,2.1 75 1,0 2.0,7.4a3.8,2.1 75 1,0 -2.0,-7.4zM538.5,508.1a4.5,1.4 70 1,0 3.1,8.5a4.5,1.4 70 1,0 -3.1,-8.5zM548.7,510.8a4.7,1.9 56 1,0 5.3,7.8a4.7,1.9 56 1,0 -5.3,-7.8zM566.8,507.9a3.3,1.8 79 1,0 1.2,6.4a3.3,1.8 79 1,0 -1.2,-6.4zM572.6,505.7a4.3,2.0 72 1,0 2.7,8.2a4.3,2.0 72 1,0 -2.7,-8.2zM587.3,507.0a2.8,1.7 50 1,0 3.6,4.3a2.8,1.7 50 1,0 -3.6,-4.3zM593.7,508.5a4.7,1.3 53 1,0 5.7,7.5a4.7,1.3 53 1,0 -5.7,-7.5zM609.9,510.6a4.8,1.7 74 1,0 2.7,9.1a4.8,1.7 74 1,0 -2.7,-9.1zM618.9,507.8a4.1,1.5 42 1,0 6.0,5.5a4.1,1.5 42 1,0 -6.0,-5.5zM631.8,509.5a3.9,2.4 39 1,0 6.1,4.9a3.9,2.4 39 1,0 -6.1,-4.9zM644.5,512.0a3.2,1.4 63 1,0 2.9,5.6a3.2,1.4 63 1,0 -2.9,-5.6zM657.8,511.4a4.1,2.2 65 1,0 3.5,7.4a4.1,2.2 65 1,0 -3.5,-7.4zM667.6,510.5a2.8,1.9 50 1,0 3.6,4.3a2.8,1.9 50 1,0 -3.6,-4.3zM682.8,507.1a4.9,2.3 40 1,0 7.5,6.4a4.9,2.3 40 1,0 -7.5,-6.4zM698.2,508.2a3.4,1.4 36 1,0 5.5,3.9a3.4,1.4 36 1,0 -5.5,-3.9zM718.0,504.2a3.9,2.2 64 1,0 3.4,7.0a3.9,2.2 64 1,0 -3.4,-7.0zM314.4,516.3a4.4,1.6 63 1,0 3.9,7.8a4.4,1.6 63 1,0 -3.9,-7.8zM345.6,520.5a4.3,2.2 38 1,0 6.8,5.3a4.3,2.2 38 1,0 -6.8,-5.3zM362.2,517.8a2.9,2.1 44 1,0 4.1,4.0a2.9,2.1 44 1,0 -4.1,-4.0zM378.5,515.6a3.8,1.5 77 1,0 1.7,7.4a3.8,1.5 77 1,0 -1.7,-7.4zM384.9,516.8a4.7,1.6 54 1,0 5.5,7.6a4.7,1.6 54 1,0 -5.5,-7.6zM397.7,518.1a3.4,2.3 31 1,0 5.9,3.5a3.4,2.3 31 1,0 -5.9,-3.5zM426.0,522.3a4.6,1.8 32 1,0 7.8,4.9a4.6,1.8 32 1,0 -7.8,-4.9zM433.2,519.8a3.4,2.0 48 1,0 4.6,5.1a3.4,2.0 48 1,0 -4.6,-5.1zM459.2,522.5a4.3,2.1 43 1,0 6.3,5.9a4.3,2.1 43 1,0 -6.3,-5.9zM468.1,523.1a3.0,1.6 63 1,0 2.7,5.4a3.0,1.6 63 1,0 -2.7,-5.4zM484.4,516.8a4.2,1.7 47 1,0 5.7,6.1a4.2,1.7 47 1,0 -5.7,-6.1zM497.5,516.7a4.1,1.7 39 1,0 6.3,5.1a4.1,1.7 39 1,0 -6.3,-5.1zM508.5,516.1a3.7,2.0 64 1,0 3.2,6.6a3.7,2.0 64 1,0 -3.2,-6.6zM518.4,516.9a4.9,2.3 57 1,0 5.3,8.2a4.9,2.3 57 1,0 -5.3,-8.2zM539.0,516.7a3.7,2.0 40 1,0 5.6,4.8a3.7,2.0 40 1,0 -5.6,-4.8zM570.4,521.8a3.5,1.5 78 1,0 1.4,6.7a3.5,1.5 78 1,0 -1.4,-6.7zM575.1,518.7a4.7,2.2 31 1,0 8.1,4.9a4.7,2.2 31 1,0 -8.1,-4.9zM588.3,517.0a3.9,2.4 58 1,0 4.1,6.6a3.9,2.4 58 1,0 -4.1,-6.6zM607.5,520.1a3.4,2.3 75 1,0 1.8,6.6a3.4,2.3 75 1,0 -1.8,-6.6zM620.4,519.7a4.6,1.5 79 1,0 1.7,9.0a4.6,1.5 79 1,0 -1.7,-9.0zM625.6,515.7a4.6,1.4 69 1,0 3.3,8.5a4.6,1.4 69 1,0 -3.3,-8.5zM639.8,522.5a5.0,1.4 44 1,0 7.2,6.9a5.0,1.4 44 1,0 -7.2,-6.9zM650.7,519.0a3.2,2.2 39 1,0 5.0,4.1a3.2,2.2 39 1,0 -5.0,-4.1zM660.6,519.3a3.2,1.8 62 1,0 3.0,5.7a3.2,1.8 62 1,0 -3.0,-5.7zM674.6,515.0a4.7,2.0 59 1,0 4.9,8.0a4.7,2.0 59 1,0 -4.9,-8.0zM685.3,517.1a3.9,2.2 60 1,0 3.9,6.8a3.9,2.2 60 1,0 -3.9,-6.8zM700.6,516.5a4.6,2.2 58 1,0 4.8,7.7a4.6,2.2 58 1,0 -4.8,-7.7zM714.6,518.4a3.2,1.7 42 1,0 4.7,4.3a3.2,1.7 42 1,0 -4.7,-4.3zM726.9,519.6a4.2,1.8 66 1,0 3.4,7.7a4.2,1.8 66 1,0 -3.4,-7.7zM735.4,520.7a3.2,1.4 41 1,0 4.9,4.2a3.2,1.4 41 1,0 -4.9,-4.2zM338.8,528.0a3.4,1.6 67 1,0 2.7,6.3a3.4,1.6 67 1,0 -2.7,-6.3zM359.8,524.0a4.1,2.2 56 1,0 4.6,6.9a4.1,2.2 56 1,0 -4.6,-6.9zM365.9,527.4a3.6,1.4 52 1,0 4.4,5.8a3.6,1.4 52 1,0 -4.4,-5.8zM380.5,526.1a2.9,1.6 72 1,0 1.8,5.5a2.9,1.6 72 1,0 -1.8,-5.5zM391.0,528.0a3.2,2.0 58 1,0 3.4,5.4a3.2,2.0 58 1,0 -3.4,-5.4zM417.1,525.9a3.6,2.3 75 1,0 1.9,7.0a3.6,2.3 75 1,0 -1.9,-7.0zM426.3,533.0a3.0,1.4 36 1,0 4.8,3.5a3.0,1.4 36 1,0 -4.8,-3.5zM439.7,528.8a3.2,2.1 69 1,0 2.2,6.0a3.2,2.1 69 1,0 -2.2,-6.0zM467.1,526.5a3.0,2.3 42 1,0 4.6,4.0a3.0,2.3 42 1,0 -4.6,-4.0zM474.9,530.5a2.9,1.6 75 1,0 1.5,5.5a2.9,1.6 75 1,0 -1.5,-5.5zM489.8,527.4a2.8,2.0 49 1,0 3.7,4.3a2.8,2.0 49 1,0 -3.7,-4.3zM500.5,527.1a3.0,1.9 79 1,0 1.2,6.0a3.0,1.9 79 1,0 -1.2,-6.0zM510.7,530.3a3.1,1.8 38 1,0 5.0,3.8a3.1,1.8 38 1,0 -5.0,-3.8zM524.5,529.3a4.5,2.3 47 1,0 6.1,6.7a4.5,2.3 47 1,0 -6.1,-6.7zM536.4,526.6a4.3,1.8 57 1,0 4.6,7.2a4.3,1.8 57 1,0 -4.6,-7.2zM549.1,525.3a4.8,2.2 58 1,0 5.1,8.2a4.8,2.2 58 1,0 -5.1,-8.2zM565.2,524.9a4.2,2.3 67 1,0 3.3,7.7a4.2,2.3 67 1,0 -3.3,-7.7zM576.1,530.8a2.9,1.9 43 1,0 4.2,4.0a2.9,1.9 43 1,0 -4.2,-4.0zM583.3,524.9a4.8,1.8 67 1,0 3.8,8.9a4.8,1.8 67 1,0 -3.8,-8.9zM597.6,531.5a3.4,1.3 40 1,0 5.2,4.4a3.4,1.3 40 1,0 -5.2,-4.4zM610.1,524.7a4.1,1.4 68 1,0 3.0,7.5a4.1,1.4 68 1,0 -3.0,-7.5zM620.8,527.5a4.4,1.5 42 1,0 6.5,5.9a4.4,1.5 42 1,0 -6.5,-5.9zM629.7,525.4a4.5,1.8 61 1,0 4.3,7.8a4.5,1.8 61 1,0 -4.3,-7.8zM646.7,530.4a4.4,1.9 77 1,0 2.0,8.5a4.4,1.9 77 1,0 -2.0,-8.5zM659.9,529.7a3.6,1.5 47 1,0 4.9,5.3a3.6,1.5 47 1,0 -4.9,-5.3zM672.3,526.5a3.9,1.9 72 1,0 2.5,7.5a3.9,1.9 72 1,0 -2.5,-7.5zM685.7,525.8a5.0,1.4 67 1,0 3.8,9.2a5.0,1.4 67 1,0 -3.8,-9.2zM707.2,525.5a3.5,2.4 73 1,0 2.1,6.6a3.5,2.4 73 1,0 -2.1,-6.6zM718.1,528.0a4.1,1.7 31 1,0 7.0,4.2a4.1,1.7 31 1,0 -7.0,-4.2zM351.8,536.1a4.9,1.6 40 1,0 7.5,6.3a4.9,1.6 40 1,0 -7.5,-6.3zM378.8,536.6a3.9,1.9 63 1,0 3.5,6.9a3.9,1.9 63 1,0 -3.5,-6.9zM385.7,533.5a4.9,1.9 55 1,0 5.5,8.0a4.9,1.9 55 1,0 -5.5,-8.0zM402.6,537.4a3.0,1.5 54 1,0 3.5,4.8a3.0,1.5 54 1,0 -3.5,-4.8zM414.5,534.1a3.4,1.5 45 1,0 4.9,4.8a3.4,1.5 45 1,0 -4.9,-4.8zM423.7,537.0a3.1,2.4 41 1,0 4.6,4.0a3.1,2.4 41 1,0 -4.6,-4.0zM432.6,538.0a4.4,1.8 49 1,0 5.8,6.6a4.4,1.8 49 1,0 -5.8,-6.6zM446.5,539.6a4.2,1.6 31 1,0 7.1,4.3a4.2,1.6 31 1,0 -7.1,-4.3zM458.6,535.2a4.6,2.1 54 1,0 5.3,7.5a4.6,2.1 54 1,0 -5.3,-7.5zM473.0,536.6a4.6,1.6 68 1,0 3.4,8.5a4.6,1.6 68 1,0 -3.4,-8.5zM510.4,539.1a3.5,1.5 53 1,0 4.2,5.5a3.5,1.5 53 1,0 -4.2,-5.5zM530.6,535.2a4.4,1.4 72 1,0 2.7,8.3a4.4,1.4 72 1,0 -2.7,-8.3zM539.9,537.0a3.5,1.8 35 1,0 5.7,4.0a3.5,1.8 35 1,0 -5.7,-4.0zM562.7,534.8a4.2,2.1 80 1,0 1.5,8.2a4.2,2.1 80 1,0 -1.5,-8.2zM569.7,534.5a4.6,1.4 47 1,0 6.3,6.8a4.6,1.4 47 1,0 -6.3,-6.8zM582.7,539.6a4.8,1.8 44 1,0 6.9,6.6a4.8,1.8 44 1,0 -6.9,-6.6zM594.2,534.2a4.2,1.4 56 1,0 4.6,6.9a4.2,1.4 56 1,0 -4.6,-6.9zM601.6,539.9a4.4,1.7 62 1,0 4.2,7.8a4.4,1.7 62 1,0 -4.2,-7.8zM619.4,532.6a3.6,1.4 64 1,0 3.2,6.5a3.6,1.4 64 1,0 -3.2,-6.5zM628.9,540.4a2.9,1.4 57 1,0 3.2,4.8a2.9,1.4 57 1,0 -3.2,-4.8zM639.8,539.4a3.3,1.9 64 1,0 2.9,5.9a3.3,1.9 64 1,0 -2.9,-5.9zM663.7,539.7a4.7,1.6 59 1,0 4.8,8.1a4.7,1.6 59 1,0 -4.8,-8.1zM673.5,535.3a4.6,1.7 68 1,0 3.5,8.6a4.6,1.7 68 1,0 -3.5,-8.6zM689.3,537.4a3.1,2.0 52 1,0 3.8,4.8a3.1,2.0 52 1,0 -3.8,-4.8zM702.1,535.5a4.7,2.3 45 1,0 6.7,6.7a4.7,2.3 45 1,0 -6.7,-6.7zM710.1,535.6a3.3,1.8 65 1,0 2.8,6.1a3.3,1.8 65 1,0 -2.8,-6.1zM343.9,549.2a4.9,2.3 31 1,0 8.5,5.0a4.9,2.3 31 1,0 -8.5,-5.0zM395.4,543.4a3.5,1.9 61 1,0 3.4,6.2a3.5,1.9 61 1,0 -3.4,-6.2zM404.7,545.4a3.6,1.5 41 1,0 5.4,4.7a3.6,1.5 41 1,0 -5.4,-4.7zM432.5,545.7a4.3,1.7 72 1,0 2.7,8.1a4.3,1.7 72 1,0 -2.7,-8.1zM438.7,548.7a4.9,1.7 64 1,0 4.4,8.8a4.9,1.7 64 1,0 -4.4,-8.8zM452.4,543.2a4.7,1.7 78 1,0 1.9,9.3a4.7,1.7 78 1,0 -1.9,-9.3zM468.1,548.6a3.4,2.0 72 1,0 2.1,6.5a3.4,2.0 72 1,0 -2.1,-6.5zM478.2,545.2a4.7,1.7 42 1,0 7.1,6.3a4.7,1.7 42 1,0 -7.1,-6.3zM491.8,546.1a4.6,1.4 73 1,0 2.7,8.8a4.6,1.4 73 1,0 -2.7,-8.8zM502.5,547.0a3.0,1.5 37 1,0 4.8,3.6a3.0,1.5 37 1,0 -4.8,-3.6zM513.7,548.1a4.2,1.8 47 1,0 5.7,6.2a4.2,1.8 47 1,0 -5.7,-6.2zM522.8,548.2a3.8,1.9 32 1,0 6.4,4.0a3.8,1.9 32 1,0 -6.4,-4.0zM541.0,545.3a3.8,2.2 68 1,0 2.8,7.1a3.8,2.2 68 1,0 -2.8,-7.1zM550.3,546.6a5.0,1.8 34 1,0 8.3,5.6a5.0,1.8 34 1,0 -8.3,-5.6zM565.8,547.7a2.8,1.4 72 1,0 1.8,5.4a2.8,1.4 72 1,0 -1.8,-5.4zM575.3,546.9a4.8,1.4 50 1,0 6.1,7.4a4.8,1.4 50 1,0 -6.1,-7.4zM590.5,544.2a3.4,1.5 61 1,0 3.3,5.9a3.4,1.5 61 1,0 -3.3,-5.9zM601.8,549.5a3.1,1.6 73 1,0 1.8,6.0a3.1,1.6 73 1,0 -1.8,-6.0zM611.5,548.6a4.9,1.9 58 1,0 5.2,8.2a4.9,1.9 58 1,0 -5.2,-8.2zM620.2,549.0a4.1,2.0 30 1,0 7.1,4.2a4.1,2.0 30 1,0 -7.1,-4.2zM634.3,550.5a4.4,2.0 37 1,0 7.0,5.4a4.4,2.0 37 1,0 -7.0,-5.4zM649.1,543.3a4.9,1.7 49 1,0 6.4,7.5a4.9,1.7 49 1,0 -6.4,-7.5zM658.7,546.1a3.2,1.8 32 1,0 5.4,3.3a3.2,1.8 32 1,0 -5.4,-3.3zM666.2,548.0a4.9,2.3 66 1,0 3.9,9.0a4.9,2.3 66 1,0 -3.9,-9.0zM685.6,544.6a3.3,2.2 46 1,0 4.5,4.7a3.3,2.2 46 1,0 -4.5,-4.7zM696.2,547.2a3.8,1.8 79 1,0 1.4,7.5a3.8,1.8 79 1,0 -1.4,-7.5zM717.2,544.0a4.9,2.2 79 1,0 1.9,9.6a4.9,2.2 79 1,0 -1.9,-9.6zM354.6,558.8a4.2,1.7 52 1,0 5.1,6.6a4.2,1.7 52 1,0 -5.1,-6.6zM374.9,557.8a4.0,1.4 33 1,0 6.8,4.4a4.0,1.4 33 1,0 -6.8,-4.4zM390.8,552.4a4.2,1.6 75 1,0 2.2,8.0a4.2,1.6 75 1,0 -2.2,-8.0zM394.1,554.4a4.7,2.0 38 1,0 7.4,5.7a4.7,2.0 38 1,0 -7.4,-5.7zM413.8,557.6a4.2,2.2 40 1,0 6.4,5.3a4.2,2.2 40 1,0 -6.4,-5.3zM427.8,555.5a4.9,1.5 63 1,0 4.4,8.8a4.9,1.5 63 1,0 -4.4,-8.8zM438.2,559.4a4.2,2.0 63 1,0 3.8,7.4a4.2,2.0 63 1,0 -3.8,-7.4zM445.0,556.2a3.8,2.2 36 1,0 6.2,4.4a3.8,2.2 36 1,0 -6.2,-4.4zM456.7,555.0a4.8,1.6 46 1,0 6.7,6.9a4.8,1.6 46 1,0 -6.7,-6.9zM473.1,557.2a3.1,2.1 42 1,0 4.5,4.1a3.1,2.1 42 1,0 -4.5,-4.1zM493.3,554.7a3.0,1.7 32 1,0 5.1,3.1a3.0,1.7 32 1,0 -5.1,-3.1zM509.8,555.0a4.0,1.8 35 1,0 6.5,4.6a4.0,1.8 35 1,0 -6.5,-4.6zM521.6,553.6a4.5,2.2 69 1,0 3.2,8.3a4.5,2.2 69 1,0 -3.2,-8.3zM533.3,556.3a3.8,1.5 37 1,0 6.0,4.6a3.8,1.5 37 1,0 -6.0,-4.6zM540.9,559.1a3.4,1.5 41 1,0 5.2,4.5a3.4,1.5 41 1,0 -5.2,-4.5zM554.3,554.8a4.6,2.1 66 1,0 3.8,8.5a4.6,2.1 66 1,0 -3.8,-8.5zM567.2,558.2a3.7,1.3 58 1,0 3.9,6.3a3.7,1.3 58 1,0 -3.9,-6.3zM581.8,557.8a3.9,1.7 52 1,0 4.8,6.1a3.9,1.7 52 1,0 -4.8,-6.1zM595.9,553.4a4.8,1.6 72 1,0 3.0,9.2a4.8,1.6 72 1,0 -3.0,-9.2zM609.4,555.9a3.2,1.7 61 1,0 3.2,5.7a3.2,1.7 61 1,0 -3.2,-5.7zM617.8,561.6a2.8,1.7 52 1,0 3.5,4.4a2.8,1.7 52 1,0 -3.5,-4.4zM629.4,552.4a4.0,2.0 77 1,0 1.8,7.8a4.0,2.0 77 1,0 -1.8,-7.8zM638.6,557.8a4.3,2.3 34 1,0 7.1,4.8a4.3,2.3 34 1,0 -7.1,-4.8zM662.1,554.3a4.8,1.5 59 1,0 5.0,8.2a4.8,1.5 59 1,0 -5.0,-8.2zM672.7,552.6a4.4,2.2 59 1,0 4.5,7.5a4.4,2.2 59 1,0 -4.5,-7.5zM685.3,555.6a4.1,2.1 72 1,0 2.5,7.9a4.1,2.1 72 1,0 -2.5,-7.9zM708.3,558.2a4.8,2.1 51 1,0 6.1,7.4a4.8,2.1 51 1,0 -6.1,-7.4zM722.6,556.4a3.7,2.4 52 1,0 4.5,5.8a3.7,2.4 52 1,0 -4.5,-5.8zM734.7,554.7a4.3,2.1 61 1,0 4.2,7.6a4.3,2.1 61 1,0 -4.2,-7.6zM375.0,562.7a3.6,1.9 61 1,0 3.5,6.2a3.6,1.9 61 1,0 -3.5,-6.2zM383.0,568.2a4.1,2.0 39 1,0 6.4,5.2a4.1,2.0 39 1,0 -6.4,-5.2zM394.5,564.4a3.7,2.4 42 1,0 5.5,4.9a3.7,2.4 42 1,0 -5.5,-4.9zM407.4,566.2a4.4,1.7 56 1,0 5.0,7.3a4.4,1.7 56 1,0 -5.0,-7.3zM413.1,571.2a3.5,2.0 33 1,0 5.8,3.8a3.5,2.0 33 1,0 -5.8,-3.8zM443.2,568.2a2.9,1.5 46 1,0 4.0,4.1a2.9,1.5 46 1,0 -4.0,-4.1zM452.7,563.7a3.9,1.9 68 1,0 2.9,7.2a3.9,1.9 68 1,0 -2.9,-7.2zM465.3,567.5a4.8,1.7 76 1,0 2.3,9.4a4.8,1.7 76 1,0 -2.3,-9.4zM482.1,563.6a3.1,1.5 64 1,0 2.7,5.5a3.1,1.5 64 1,0 -2.7,-5.5zM491.7,561.8a4.8,1.7 71 1,0 3.2,9.1a4.8,1.7 71 1,0 -3.2,-9.1zM503.6,566.0a3.1,2.2 69 1,0 2.2,5.7a3.1,2.2 69 1,0 -2.2,-5.7zM516.8,567.7a4.7,2.3 72 1,0 2.9,8.9a4.7,2.3 72 1,0 -2.9,-8.9zM523.4,570.4a2.9,1.5 56 1,0 3.2,4.8a2.9,1.5 56 1,0 -3.2,-4.8zM553.3,564.8a4.6,2.3 37 1,0 7.4,5.5a4.6,2.3 37 1,0 -7.4,-5.5zM562.1,568.8a2.8,1.4 40 1,0 4.4,3.6a2.8,1.4 40 1,0 -4.4,-3.6zM601.3,563.6a3.5,2.1 69 1,0 2.5,6.5a3.5,2.1 69 1,0 -2.5,-6.5zM608.7,565.9a4.6,1.7 42 1,0 6.7,6.2a4.6,1.7 42 1,0 -6.7,-6.2zM624.0,566.2a4.4,1.6 77 1,0 2.1,8.6a4.4,1.6 77 1,0 -2.1,-8.6zM681.6,566.5a5.0,1.5 35 1,0 8.2,5.7a5.0,1.5 35 1,0 -8.2,-5.7zM730.9,567.5a4.9,2.1 55 1,0 5.7,8.0a4.9,2.1 55 1,0 -5.7,-8.0zM397.6,572.5a4.3,2.3 64 1,0 3.8,7.7a4.3,2.3 64 1,0 -3.8,-7.7zM410.5,572.3a3.0,1.4 47 1,0 4.0,4.4a3.0,1.4 47 1,0 -4.0,-4.4zM433.8,570.8a3.9,2.2 69 1,0 2.8,7.2a3.9,2.2 69 1,0 -2.8,-7.2zM445.5,573.0a4.7,1.9 69 1,0 3.4,8.8a4.7,1.9 69 1,0 -3.4,-8.8zM460.6,575.8a3.9,1.4 59 1,0 4.1,6.7a3.9,1.4 59 1,0 -4.1,-6.7zM472.6,573.7a3.5,2.0 50 1,0 4.5,5.5a3.5,2.0 50 1,0 -4.5,-5.5zM481.3,573.6a4.9,1.7 46 1,0 6.8,7.1a4.9,1.7 46 1,0 -6.8,-7.1zM493.3,578.8a4.7,1.8 48 1,0 6.3,6.9a4.7,1.8 48 1,0 -6.3,-6.9zM509.1,576.5a4.3,2.1 56 1,0 4.8,7.1a4.3,2.1 56 1,0 -4.8,-7.1zM517.3,577.7a4.7,2.2 65 1,0 3.9,8.6a4.7,2.2 65 1,0 -3.9,-8.6zM530.4,577.5a3.9,1.9 42 1,0 5.8,5.2a3.9,1.9 42 1,0 -5.8,-5.2zM542.8,574.4a3.4,1.5 69 1,0 2.5,6.3a3.4,1.5 69 1,0 -2.5,-6.3zM555.6,572.9a4.8,2.2 61 1,0 4.6,8.4a4.8,2.2 61 1,0 -4.6,-8.4zM563.9,575.7a4.6,1.5 38 1,0 7.2,5.6a4.6,1.5 38 1,0 -7.2,-5.6zM582.7,571.3a4.7,2.4 73 1,0 2.7,9.0a4.7,2.4 73 1,0 -2.7,-9.0zM594.5,573.0a3.3,1.7 73 1,0 1.9,6.3a3.3,1.7 73 1,0 -1.9,-6.3zM606.0,572.2a3.6,1.7 68 1,0 2.7,6.6a3.6,1.7 68 1,0 -2.7,-6.6zM619.6,579.2a3.1,1.7 39 1,0 4.8,3.9a3.1,1.7 39 1,0 -4.8,-3.9zM625.0,575.7a3.2,1.3 36 1,0 5.2,3.7a3.2,1.3 36 1,0 -5.2,-3.7zM640.8,573.3a4.0,2.2 76 1,0 1.9,7.7a4.0,2.2 76 1,0 -1.9,-7.7zM647.2,576.6a5.0,1.5 37 1,0 8.0,6.0a5.0,1.5 37 1,0 -8.0,-6.0zM675.0,574.2a3.7,2.0 35 1,0 6.0,4.2a3.7,2.0 35 1,0 -6.0,-4.2zM722.1,574.5a4.2,2.1 67 1,0 3.2,7.7a4.2,2.1 67 1,0 -3.2,-7.7zM739.3,574.5a3.4,2.3 78 1,0 1.4,6.6a3.4,2.3 78 1,0 -1.4,-6.6zM372.6,586.3a4.4,2.2 63 1,0 3.9,7.8a4.4,2.2 63 1,0 -3.9,-7.8zM379.2,585.0a3.6,2.2 57 1,0 3.9,6.0a3.6,2.2 57 1,0 -3.9,-6.0zM393.9,581.6a4.8,1.7 71 1,0 3.2,9.1a4.8,1.7 71 1,0 -3.2,-9.1zM407.0,584.6a4.3,1.3 36 1,0 7.0,5.0a4.3,1.3 36 1,0 -7.0,-5.0zM413.5,585.9a4.3,1.9 36 1,0 6.9,5.1a4.3,1.9 36 1,0 -6.9,-5.1zM430.0,586.6a3.4,1.4 66 1,0 2.8,6.3a3.4,1.4 66 1,0 -2.8,-6.3zM443.1,580.9a4.4,1.4 78 1,0 1.9,8.6a4.4,1.4 78 1,0 -1.9,-8.6zM457.5,586.3a3.5,2.0 43 1,0 5.2,4.8a3.5,2.0 43 1,0 -5.2,-4.8zM468.6,583.3a2.9,2.0 47 1,0 3.9,4.2a2.9,2.0 47 1,0 -3.9,-4.2zM504.4,583.0a4.7,1.8 71 1,0 3.0,8.8a4.7,1.8 71 1,0 -3.0,-8.8zM510.4,585.7a4.4,2.0 53 1,0 5.3,7.0a4.4,2.0 53 1,0 -5.3,-7.0zM524.5,588.6a3.3,2.3 53 1,0 4.0,5.3a3.3,2.3 53 1,0 -4.0,-5.3zM541.9,582.6a4.5,2.1 63 1,0 4.2,8.0a4.5,2.1 63 1,0 -4.2,-8.0zM553.4,583.7a3.4,2.3 64 1,0 2.9,6.1a3.4,2.3 64 1,0 -2.9,-6.1zM564.8,581.7a4.8,1.8 61 1,0 4.7,8.4a4.8,1.8 61 1,0 -4.7,-8.4zM571.5,587.6a3.3,2.2 38 1,0 5.2,4.0a3.3,2.2 38 1,0 -5.2,-4.0zM584.6,585.4a2.9,2.1 37 1,0 4.6,3.5a2.9,2.1 37 1,0 -4.6,-3.5zM595.8,582.5a4.9,2.2 45 1,0 6.9,7.0a4.9,2.2 45 1,0 -6.9,-7.0zM607.3,584.9a3.9,1.6 44 1,0 5.6,5.4a3.9,1.6 44 1,0 -5.6,-5.4zM648.4,585.9a4.6,1.8 36 1,0 7.6,5.4a4.6,1.8 36 1,0 -7.6,-5.4zM672.7,584.1a4.7,1.8 55 1,0 5.3,7.7a4.7,1.8 55 1,0 -5.3,-7.7zM694.3,589.0a2.9,1.4 55 1,0 3.4,4.8a2.9,1.4 55 1,0 -3.4,-4.8zM728.6,583.3a5.0,1.8 39 1,0 7.8,6.3a5.0,1.8 39 1,0 -7.8,-6.3zM741.8,583.0a3.0,1.7 70 1,0 2.1,5.6a3.0,1.7 70 1,0 -2.1,-5.6zM384.4,593.8a4.7,1.5 52 1,0 5.8,7.4a4.7,1.5 52 1,0 -5.8,-7.4zM428.0,596.9a2.8,1.6 79 1,0 1.1,5.5a2.8,1.6 79 1,0 -1.1,-5.5zM435.5,596.7a3.1,1.9 39 1,0 4.9,3.9a3.1,1.9 39 1,0 -4.9,-3.9zM447.5,595.5a4.3,1.3 64 1,0 3.8,7.7a4.3,1.3 64 1,0 -3.8,-7.7zM459.3,593.2a3.7,2.0 53 1,0 4.5,5.8a3.7,2.0 53 1,0 -4.5,-5.8zM480.6,595.7a4.6,2.1 67 1,0 3.6,8.5a4.6,2.1 67 1,0 -3.6,-8.5zM520.1,593.7a4.3,2.3 55 1,0 5.0,7.0a4.3,2.3 55 1,0 -5.0,-7.0zM533.2,596.2a3.3,1.8 77 1,0 1.4,6.4a3.3,1.8 77 1,0 -1.4,-6.4zM545.4,594.6a4.6,1.4 36 1,0 7.4,5.3a4.6,1.4 36 1,0 -7.4,-5.3zM556.6,597.9a3.9,2.1 52 1,0 4.8,6.2a3.9,2.1 52 1,0 -4.8,-6.2zM577.6,597.6a3.0,2.3 38 1,0 4.8,3.7a3.0,2.3 38 1,0 -4.8,-3.7zM593.5,599.0a3.1,2.0 33 1,0 5.2,3.3a3.1,2.0 33 1,0 -5.2,-3.3zM620.8,592.2a3.6,2.0 69 1,0 2.6,6.8a3.6,2.0 69 1,0 -2.6,-6.8zM664.3,591.8a4.2,1.8 46 1,0 5.9,6.1a4.2,1.8 46 1,0 -5.9,-6.1zM714.0,596.0a4.2,2.0 35 1,0 6.9,4.8a4.2,2.0 35 1,0 -6.9,-4.8zM723.1,593.9a3.7,1.6 30 1,0 6.4,3.7a3.7,1.6 30 1,0 -6.4,-3.7zM738.7,592.9a4.4,1.5 47 1,0 6.1,6.5a4.4,1.5 47 1,0 -6.1,-6.5zM378.9,606.9a2.8,1.6 40 1,0 4.3,3.7a2.8,1.6 40 1,0 -4.3,-3.7zM391.9,602.9a3.1,2.3 46 1,0 4.3,4.5a3.1,2.3 46 1,0 -4.3,-4.5zM413.1,609.0a3.8,1.6 32 1,0 6.6,4.0a3.8,1.6 32 1,0 -6.6,-4.0zM432.8,604.1a4.6,1.8 48 1,0 6.2,6.9a4.6,1.8 48 1,0 -6.2,-6.9zM443.3,602.9a5.0,2.2 78 1,0 2.1,9.7a5.0,2.2 78 1,0 -2.1,-9.7zM453.1,605.1a3.7,1.7 36 1,0 6.0,4.4a3.7,1.7 36 1,0 -6.0,-4.4zM503.0,607.3a3.3,2.0 31 1,0 5.7,3.4a3.3,2.0 31 1,0 -5.7,-3.4zM529.6,601.6a4.7,1.8 70 1,0 3.2,8.8a4.7,1.8 70 1,0 -3.2,-8.8zM555.0,600.4a4.1,1.7 75 1,0 2.1,8.0a4.1,1.7 75 1,0 -2.1,-8.0zM559.5,600.6a4.6,1.7 42 1,0 6.9,6.3a4.6,1.7 42 1,0 -6.9,-6.3zM582.8,604.0a4.8,1.7 54 1,0 5.6,7.7a4.8,1.7 54 1,0 -5.6,-7.7zM599.2,602.8a3.8,1.8 70 1,0 2.6,7.2a3.8,1.8 70 1,0 -2.6,-7.2zM610.5,600.9a3.7,1.5 34 1,0 6.1,4.1a3.7,1.5 34 1,0 -6.1,-4.1zM629.7,605.1a4.9,2.2 38 1,0 7.6,6.0a4.9,2.2 38 1,0 -7.6,-6.0zM653.6,601.5a4.9,1.6 34 1,0 8.1,5.4a4.9,1.6 34 1,0 -8.1,-5.4zM669.2,601.4a3.8,1.6 70 1,0 2.6,7.2a3.8,1.6 70 1,0 -2.6,-7.2zM683.9,603.4a3.0,2.3 46 1,0 4.2,4.4a3.0,2.3 46 1,0 -4.2,-4.4zM434.4,610.9a3.8,1.4 39 1,0 5.8,4.8a3.8,1.4 39 1,0 -5.8,-4.8zM445.9,613.8a5.0,2.1 75 1,0 2.6,9.6a5.0,2.1 75 1,0 -2.6,-9.6zM456.3,612.5a3.3,2.1 40 1,0 5.1,4.3a3.3,2.1 40 1,0 -5.1,-4.3zM482.2,615.0a4.2,1.5 32 1,0 7.2,4.5a4.2,1.5 32 1,0 -7.2,-4.5zM521.1,614.6a3.9,1.4 71 1,0 2.5,7.3a3.9,1.4 71 1,0 -2.5,-7.3zM544.0,615.8a4.8,2.3 46 1,0 6.7,6.8a4.8,2.3 46 1,0 -6.7,-6.8zM556.3,613.7a4.8,1.8 79 1,0 1.9,9.5a4.8,1.8 79 1,0 -1.9,-9.5zM602.9,611.9a3.3,1.9 54 1,0 3.8,5.3a3.3,1.9 54 1,0 -3.8,-5.3zM648.1,613.2a3.2,2.1 40 1,0 4.9,4.1a3.2,2.1 40 1,0 -4.9,-4.1zM660.1,613.0a4.7,1.6 60 1,0 4.7,8.1a4.7,1.6 60 1,0 -4.7,-8.1zM750.3,616.4a2.8,1.9 62 1,0 2.6,4.9a2.8,1.9 62 1,0 -2.6,-4.9z"/><path fill="#a02a34" opacity="0.5" d="M744.4,218.8a3.0,2.1 -10 1,0 5.9,-1.0a3.0,2.1 -10 1,0 -5.9,1.0zM564.6,226.6a4.0,2.7 18 1,0 7.6,2.5a4.0,2.7 18 1,0 -7.6,-2.5zM636.1,227.5a4.0,2.1 24 1,0 7.3,3.3a4.0,2.1 24 1,0 -7.3,-3.3zM686.0,226.8a4.1,2.2 25 1,0 7.5,3.5a4.1,2.2 25 1,0 -7.5,-3.5zM698.5,228.7a4.6,2.5 -3 1,0 9.3,-0.5a4.6,2.5 -3 1,0 -9.3,0.5zM713.8,226.0a3.1,2.2 -8 1,0 6.2,-0.9a3.1,2.2 -8 1,0 -6.2,0.9zM735.4,227.6a4.2,2.2 5 1,0 8.3,0.8a4.2,2.2 5 1,0 -8.3,-0.8zM455.6,240.2a3.8,1.5 -37 1,0 6.1,-4.6a3.8,1.5 -37 1,0 -6.1,4.6zM469.6,236.9a2.5,1.9 -17 1,0 4.8,-1.5a2.5,1.9 -17 1,0 -4.8,1.5zM560.8,237.5a3.7,2.1 1 1,0 7.3,0.1a3.7,2.1 1 1,0 -7.3,-0.1zM575.4,234.9a3.3,3.2 12 1,0 6.4,1.4a3.3,3.2 12 1,0 -6.4,-1.4zM594.1,241.1a3.2,3.3 -39 1,0 5.0,-4.0a3.2,3.3 -39 1,0 -5.0,4.0zM609.2,238.6a3.5,2.6 -13 1,0 6.8,-1.5a3.5,2.6 -13 1,0 -6.8,1.5zM621.6,235.9a3.5,3.0 -23 1,0 6.4,-2.7a3.5,3.0 -23 1,0 -6.4,2.7zM633.2,237.2a3.5,2.6 -38 1,0 5.5,-4.4a3.5,2.6 -38 1,0 -5.5,4.4zM648.6,238.0a3.2,2.5 -36 1,0 5.1,-3.7a3.2,2.5 -36 1,0 -5.1,3.7zM655.6,237.5a4.9,3.2 -16 1,0 9.5,-2.7a4.9,3.2 -16 1,0 -9.5,2.7zM667.4,240.1a4.1,2.9 -40 1,0 6.2,-5.2a4.1,2.9 -40 1,0 -6.2,5.2zM684.4,237.6a3.3,2.3 -5 1,0 6.7,-0.6a3.3,2.3 -5 1,0 -6.7,0.6zM691.8,239.7a3.0,3.3 -8 1,0 6.0,-0.8a3.0,3.3 -8 1,0 -6.0,0.8zM720.0,237.8a3.2,2.2 -20 1,0 5.9,-2.2a3.2,2.2 -20 1,0 -5.9,2.2zM727.2,236.4a2.9,2.5 -24 1,0 5.3,-2.4a2.9,2.5 -24 1,0 -5.3,2.4zM425.3,242.8a3.3,2.4 5 1,0 6.5,0.5a3.3,2.4 5 1,0 -6.5,-0.5zM538.5,247.8a4.6,2.7 13 1,0 8.9,2.1a4.6,2.7 13 1,0 -8.9,-2.1zM550.5,244.5a4.9,2.7 3 1,0 9.7,0.6a4.9,2.7 3 1,0 -9.7,-0.6zM577.3,247.0a3.1,2.4 -33 1,0 5.2,-3.4a3.1,2.4 -33 1,0 -5.2,3.4zM594.2,244.5a3.1,2.6 -8 1,0 6.1,-0.9a3.1,2.6 -8 1,0 -6.1,0.9zM600.8,244.0a4.3,2.8 6 1,0 8.5,0.9a4.3,2.8 6 1,0 -8.5,-0.9zM614.7,250.2a4.8,2.7 -37 1,0 7.6,-5.8a4.8,2.7 -37 1,0 -7.6,5.8zM628.9,248.5a4.6,3.2 -10 1,0 9.0,-1.6a4.6,3.2 -10 1,0 -9.0,1.6zM641.4,244.6a4.7,2.9 -20 1,0 8.9,-3.2a4.7,2.9 -20 1,0 -8.9,3.2zM646.7,246.4a3.8,3.4 23 1,0 7.0,3.0a3.8,3.4 23 1,0 -7.0,-3.0zM666.2,247.3a3.2,2.2 12 1,0 6.2,1.4a3.2,2.2 12 1,0 -6.2,-1.4zM676.0,249.2a3.5,2.3 -0 1,0 7.0,-0.0a3.5,2.3 -0 1,0 -7.0,0.0zM684.4,242.7a4.9,3.3 2 1,0 9.8,0.4a4.9,3.3 2 1,0 -9.8,-0.4zM694.1,243.2a4.3,2.4 -1 1,0 8.7,-0.2a4.3,2.4 -1 1,0 -8.7,0.2zM714.9,248.9a3.0,2.2 -2 1,0 5.9,-0.2a3.0,2.2 -2 1,0 -5.9,0.2zM408.4,254.2a2.4,1.9 1 1,0 4.8,0.1a2.4,1.9 1 1,0 -4.8,-0.1zM452.5,251.9a2.6,2.0 19 1,0 4.8,1.7a2.6,2.0 19 1,0 -4.8,-1.7zM475.1,258.9a3.1,2.4 -24 1,0 5.7,-2.5a3.1,2.4 -24 1,0 -5.7,2.5zM513.6,256.2a4.1,2.1 -6 1,0 8.2,-0.9a4.1,2.1 -6 1,0 -8.2,0.9zM533.6,256.4a3.7,3.0 -10 1,0 7.3,-1.2a3.7,3.0 -10 1,0 -7.3,1.2zM560.3,253.3a4.8,2.1 24 1,0 8.8,4.0a4.8,2.1 24 1,0 -8.8,-4.0zM574.8,255.2a4.7,3.0 -28 1,0 8.3,-4.4a4.7,3.0 -28 1,0 -8.3,4.4zM580.9,258.6a4.3,3.2 -28 1,0 7.6,-4.1a4.3,3.2 -28 1,0 -7.6,4.1zM600.0,257.5a3.7,2.2 -40 1,0 5.7,-4.8a3.7,2.2 -40 1,0 -5.7,4.8zM611.2,256.9a4.3,3.0 -26 1,0 7.8,-3.7a4.3,3.0 -26 1,0 -7.8,3.7zM629.1,255.4a5.1,2.5 -18 1,0 9.7,-3.2a5.1,2.5 -18 1,0 -9.7,3.2zM647.0,257.5a3.2,2.9 -2 1,0 6.5,-0.3a3.2,2.9 -2 1,0 -6.5,0.3zM660.5,260.3a4.2,2.6 -35 1,0 6.8,-4.7a4.2,2.6 -35 1,0 -6.8,4.7zM670.4,260.0a5.1,2.4 -16 1,0 9.8,-2.9a5.1,2.4 -16 1,0 -9.8,2.9zM679.1,256.5a5.1,2.9 -8 1,0 10.2,-1.4a5.1,2.9 -8 1,0 -10.2,1.4zM690.8,255.7a3.6,3.0 -33 1,0 5.9,-3.9a3.6,3.0 -33 1,0 -5.9,3.9zM700.7,255.7a4.0,2.8 -34 1,0 6.5,-4.4a4.0,2.8 -34 1,0 -6.5,4.4zM714.9,259.3a5.0,2.2 -23 1,0 9.3,-3.9a5.0,2.2 -23 1,0 -9.3,3.9zM728.3,257.9a3.4,2.4 -23 1,0 6.3,-2.6a3.4,2.4 -23 1,0 -6.3,2.6zM435.1,262.9a3.8,2.5 -5 1,0 7.5,-0.6a3.8,2.5 -5 1,0 -7.5,0.6zM444.3,264.8a3.8,2.4 -19 1,0 7.3,-2.5a3.8,2.4 -19 1,0 -7.3,2.5zM455.6,262.7a3.8,2.3 -13 1,0 7.4,-1.7a3.8,2.3 -13 1,0 -7.4,1.7zM467.3,268.0a3.2,2.8 -27 1,0 5.6,-2.9a3.2,2.8 -27 1,0 -5.6,2.9zM492.9,265.3a2.7,2.0 -21 1,0 5.1,-1.9a2.7,2.0 -21 1,0 -5.1,1.9zM532.3,267.1a3.3,2.5 -11 1,0 6.6,-1.3a3.3,2.5 -11 1,0 -6.6,1.3zM542.7,264.5a3.7,2.8 -22 1,0 6.9,-2.7a3.7,2.8 -22 1,0 -6.9,2.7zM553.4,264.5a3.1,2.6 9 1,0 6.1,0.9a3.1,2.6 9 1,0 -6.1,-0.9zM563.8,263.8a3.1,2.0 19 1,0 5.9,2.0a3.1,2.0 19 1,0 -5.9,-2.0zM576.9,266.8a4.0,2.3 -27 1,0 7.0,-3.7a4.0,2.3 -27 1,0 -7.0,3.7zM589.1,269.3a4.2,2.9 -18 1,0 8.0,-2.6a4.2,2.9 -18 1,0 -8.0,2.6zM606.2,264.8a3.8,3.3 -31 1,0 6.5,-3.9a3.8,3.3 -31 1,0 -6.5,3.9zM613.2,266.1a4.7,2.3 2 1,0 9.3,0.4a4.7,2.3 2 1,0 -9.3,-0.4zM627.1,262.2a4.2,3.1 16 1,0 8.1,2.3a4.2,3.1 16 1,0 -8.1,-2.3zM640.5,264.0a3.1,3.2 23 1,0 5.6,2.4a3.1,3.2 23 1,0 -5.6,-2.4zM653.1,263.2a4.5,2.2 -17 1,0 8.7,-2.7a4.5,2.2 -17 1,0 -8.7,2.7zM660.0,264.9a3.7,2.2 -28 1,0 6.6,-3.6a3.7,2.2 -28 1,0 -6.6,3.6zM688.2,266.6a3.9,2.5 2 1,0 7.8,0.3a3.9,2.5 2 1,0 -7.8,-0.3zM697.5,263.3a3.9,2.6 -1 1,0 7.8,-0.1a3.9,2.6 -1 1,0 -7.8,0.1zM713.0,262.6a5.0,2.8 -4 1,0 9.9,-0.8a5.0,2.8 -4 1,0 -9.9,0.8zM726.1,266.5a3.9,2.0 16 1,0 7.5,2.1a3.9,2.0 16 1,0 -7.5,-2.1zM734.4,264.5a2.7,2.5 -13 1,0 5.2,-1.2a2.7,2.5 -13 1,0 -5.2,1.2zM453.4,274.1a3.1,2.1 -28 1,0 5.5,-3.0a3.1,2.1 -28 1,0 -5.5,3.0zM497.9,271.6a4.4,2.5 -1 1,0 8.7,-0.2a4.4,2.5 -1 1,0 -8.7,0.2zM509.7,278.2a4.4,2.5 -15 1,0 8.6,-2.2a4.4,2.5 -15 1,0 -8.6,2.2zM539.7,276.0a3.2,2.7 11 1,0 6.3,1.2a3.2,2.7 11 1,0 -6.3,-1.2zM564.9,278.3a3.4,2.3 -36 1,0 5.5,-4.0a3.4,2.3 -36 1,0 -5.5,4.0zM573.9,275.5a4.9,3.0 -32 1,0 8.2,-5.2a4.9,3.0 -32 1,0 -8.2,5.2zM586.4,271.0a4.4,2.4 8 1,0 8.8,1.2a4.4,2.4 8 1,0 -8.8,-1.2zM597.4,275.0a3.9,3.0 -8 1,0 7.8,-1.2a3.9,3.0 -8 1,0 -7.8,1.2zM608.5,274.0a3.6,3.3 -33 1,0 6.0,-3.9a3.6,3.3 -33 1,0 -6.0,3.9zM618.7,273.6a4.5,2.7 -22 1,0 8.3,-3.4a4.5,2.7 -22 1,0 -8.3,3.4zM635.2,276.2a5.0,3.0 -33 1,0 8.4,-5.5a5.0,3.0 -33 1,0 -8.4,5.5zM647.0,275.1a3.3,2.3 -2 1,0 6.6,-0.2a3.3,2.3 -2 1,0 -6.6,0.2zM654.5,274.6a3.4,2.7 -16 1,0 6.5,-1.9a3.4,2.7 -16 1,0 -6.5,1.9zM668.4,273.1a4.5,2.6 -7 1,0 8.9,-1.2a4.5,2.6 -7 1,0 -8.9,1.2zM679.8,275.2a3.3,2.3 -18 1,0 6.2,-2.0a3.3,2.3 -18 1,0 -6.2,2.0zM691.0,277.0a3.8,3.0 5 1,0 7.6,0.6a3.8,3.0 5 1,0 -7.6,-0.6zM708.6,276.5a3.4,2.7 -23 1,0 6.3,-2.6a3.4,2.7 -23 1,0 -6.3,2.6zM713.5,275.9a3.7,2.5 -13 1,0 7.3,-1.7a3.7,2.5 -13 1,0 -7.3,1.7zM741.0,275.7a3.0,2.1 -29 1,0 5.2,-2.9a3.0,2.1 -29 1,0 -5.2,2.9zM422.8,285.6a3.1,1.8 4 1,0 6.3,0.4a3.1,1.8 4 1,0 -6.3,-0.4zM435.6,282.9a3.9,2.7 -27 1,0 7.0,-3.5a3.9,2.7 -27 1,0 -7.0,3.5zM442.6,281.1a3.9,2.9 10 1,0 7.7,1.3a3.9,2.9 10 1,0 -7.7,-1.3zM461.3,284.2a2.9,2.6 -7 1,0 5.7,-0.7a2.9,2.6 -7 1,0 -5.7,0.7zM467.7,284.1a4.3,2.2 -1 1,0 8.5,-0.1a4.3,2.2 -1 1,0 -8.5,0.1zM479.4,285.6a4.3,1.8 6 1,0 8.5,0.9a4.3,1.8 6 1,0 -8.5,-0.9zM495.2,281.7a3.3,1.8 -8 1,0 6.4,-0.9a3.3,1.8 -8 1,0 -6.4,0.9zM522.6,286.4a2.8,1.9 13 1,0 5.5,1.3a2.8,1.9 13 1,0 -5.5,-1.3zM526.8,285.5a3.6,2.1 20 1,0 6.8,2.4a3.6,2.1 20 1,0 -6.8,-2.4zM540.0,283.3a4.5,2.1 -15 1,0 8.7,-2.3a4.5,2.1 -15 1,0 -8.7,2.3zM563.1,283.2a4.8,2.4 13 1,0 9.4,2.2a4.8,2.4 13 1,0 -9.4,-2.2zM578.4,282.1a4.2,2.3 8 1,0 8.2,1.1a4.2,2.3 8 1,0 -8.2,-1.1zM589.4,288.2a4.6,3.2 -29 1,0 8.0,-4.5a4.6,3.2 -29 1,0 -8.0,4.5zM599.2,282.1a3.5,2.4 7 1,0 6.9,0.9a3.5,2.4 7 1,0 -6.9,-0.9zM612.9,281.3a3.1,2.9 -2 1,0 6.2,-0.2a3.1,2.9 -2 1,0 -6.2,0.2zM624.7,285.7a3.9,3.4 -26 1,0 6.9,-3.4a3.9,3.4 -26 1,0 -6.9,3.4zM641.6,279.9a4.1,3.0 25 1,0 7.4,3.4a4.1,3.0 25 1,0 -7.4,-3.4zM652.5,288.2a4.9,3.1 -29 1,0 8.6,-4.7a4.9,3.1 -29 1,0 -8.6,4.7zM663.5,285.2a4.3,2.2 15 1,0 8.3,2.3a4.3,2.2 15 1,0 -8.3,-2.3zM678.0,287.5a4.1,2.7 -34 1,0 6.7,-4.5a4.1,2.7 -34 1,0 -6.7,4.5zM687.7,284.4a3.6,2.7 -35 1,0 5.8,-4.1a3.6,2.7 -35 1,0 -5.8,4.1zM693.3,284.1a4.8,2.8 6 1,0 9.5,1.0a4.8,2.8 6 1,0 -9.5,-1.0zM722.2,287.4a4.2,3.0 -27 1,0 7.6,-3.8a4.2,3.0 -27 1,0 -7.6,3.8zM733.5,284.9a3.6,2.1 23 1,0 6.7,2.8a3.6,2.1 23 1,0 -6.7,-2.8zM427.9,292.6a3.4,2.6 -16 1,0 6.5,-1.9a3.4,2.6 -16 1,0 -6.5,1.9zM453.2,292.7a3.7,2.5 15 1,0 7.1,1.9a3.7,2.5 15 1,0 -7.1,-1.9zM504.1,296.9a3.0,2.4 -24 1,0 5.5,-2.5a3.0,2.4 -24 1,0 -5.5,2.5zM513.8,289.7a2.8,2.9 14 1,0 5.5,1.3a2.8,2.9 14 1,0 -5.5,-1.3zM552.3,290.7a2.8,2.3 17 1,0 5.4,1.6a2.8,2.3 17 1,0 -5.4,-1.6zM559.0,293.4a4.9,2.4 3 1,0 9.8,0.5a4.9,2.4 3 1,0 -9.8,-0.5zM570.0,293.2a4.6,2.5 -33 1,0 7.8,-5.0a4.6,2.5 -33 1,0 -7.8,5.0zM586.0,293.7a5.0,2.1 24 1,0 9.2,4.1a5.0,2.1 24 1,0 -9.2,-4.1zM596.9,298.6a4.9,2.2 -34 1,0 8.1,-5.6a4.9,2.2 -34 1,0 -8.1,5.6zM607.1,295.6a3.3,2.6 -38 1,0 5.2,-4.1a3.3,2.6 -38 1,0 -5.2,4.1zM621.7,294.9a4.1,2.8 -37 1,0 6.5,-4.9a4.1,2.8 -37 1,0 -6.5,4.9zM629.8,290.1a3.9,2.4 6 1,0 7.8,0.8a3.9,2.4 6 1,0 -7.8,-0.8zM643.7,295.4a4.0,3.4 14 1,0 7.9,2.0a4.0,3.4 14 1,0 -7.9,-2.0zM657.6,292.8a4.5,3.2 -2 1,0 9.0,-0.3a4.5,3.2 -2 1,0 -9.0,0.3zM669.2,292.9a5.0,2.1 -27 1,0 8.9,-4.6a5.0,2.1 -27 1,0 -8.9,4.6zM676.3,290.9a4.7,2.4 12 1,0 9.2,1.9a4.7,2.4 12 1,0 -9.2,-1.9zM691.4,290.1a4.2,3.2 8 1,0 8.2,1.2a4.2,3.2 8 1,0 -8.2,-1.2zM700.0,294.2a4.4,2.7 22 1,0 8.1,3.3a4.4,2.7 22 1,0 -8.1,-3.3zM718.0,295.8a3.3,2.9 -1 1,0 6.5,-0.1a3.3,2.9 -1 1,0 -6.5,0.1zM727.0,292.5a3.6,3.0 7 1,0 7.2,0.9a3.6,3.0 7 1,0 -7.2,-0.9zM415.7,301.8a2.7,2.1 -36 1,0 4.3,-3.1a2.7,2.1 -36 1,0 -4.3,3.1zM458.3,303.2a4.0,2.4 -3 1,0 7.9,-0.5a4.0,2.4 -3 1,0 -7.9,0.5zM467.2,302.4a3.8,2.1 10 1,0 7.4,1.3a3.8,2.1 10 1,0 -7.4,-1.3zM479.0,301.0a4.1,2.9 -4 1,0 8.2,-0.6a4.1,2.9 -4 1,0 -8.2,0.6zM495.7,300.2a3.6,2.3 15 1,0 7.0,1.9a3.6,2.3 15 1,0 -7.0,-1.9zM504.8,303.1a4.6,2.0 -21 1,0 8.5,-3.2a4.6,2.0 -21 1,0 -8.5,3.2zM544.6,303.6a3.7,2.9 -38 1,0 5.9,-4.6a3.7,2.9 -38 1,0 -5.9,4.6zM556.8,300.0a4.4,2.6 -1 1,0 8.7,-0.1a4.4,2.6 -1 1,0 -8.7,0.1zM566.9,303.6a4.0,3.1 -16 1,0 7.8,-2.2a4.0,3.1 -16 1,0 -7.8,2.2zM578.2,304.2a3.8,2.9 -35 1,0 6.2,-4.4a3.8,2.9 -35 1,0 -6.2,4.4zM593.9,298.7a3.1,3.2 23 1,0 5.7,2.4a3.1,3.2 23 1,0 -5.7,-2.4zM599.5,304.8a3.2,2.9 -38 1,0 5.0,-3.9a3.2,2.9 -38 1,0 -5.0,3.9zM612.6,306.2a5.1,2.9 -30 1,0 8.9,-5.2a5.1,2.9 -30 1,0 -8.9,5.2zM627.7,303.3a3.2,2.6 -6 1,0 6.4,-0.6a3.2,2.6 -6 1,0 -6.4,0.6zM640.8,302.8a4.2,3.3 -12 1,0 8.1,-1.7a4.2,3.3 -12 1,0 -8.1,1.7zM652.1,302.0a3.9,3.4 -33 1,0 6.4,-4.2a3.9,3.4 -33 1,0 -6.4,4.2zM663.7,307.3a4.1,2.2 -33 1,0 6.9,-4.5a4.1,2.2 -33 1,0 -6.9,4.5zM675.9,303.4a4.6,2.5 3 1,0 9.3,0.5a4.6,2.5 3 1,0 -9.3,-0.5zM686.1,304.7a3.4,2.7 -26 1,0 6.2,-3.0a3.4,2.7 -26 1,0 -6.2,3.0zM696.6,299.7a5.0,3.3 8 1,0 9.9,1.3a5.0,3.3 8 1,0 -9.9,-1.3zM713.3,304.1a4.5,2.6 -26 1,0 8.1,-3.9a4.5,2.6 -26 1,0 -8.1,3.9zM734.9,306.1a3.7,1.7 -21 1,0 7.0,-2.7a3.7,1.7 -21 1,0 -7.0,2.7zM440.3,313.4a3.2,2.8 -8 1,0 6.2,-0.9a3.2,2.8 -8 1,0 -6.2,0.9zM465.7,310.3a2.6,2.3 17 1,0 4.9,1.5a2.6,2.3 17 1,0 -4.9,-1.5zM477.1,316.5a3.2,1.7 -34 1,0 5.3,-3.6a3.2,1.7 -34 1,0 -5.3,3.6zM499.4,310.0a3.4,2.6 10 1,0 6.7,1.2a3.4,2.6 10 1,0 -6.7,-1.2zM514.3,316.3a3.1,2.1 -33 1,0 5.2,-3.4a3.1,2.1 -33 1,0 -5.2,3.4zM525.5,312.7a4.0,2.0 -10 1,0 7.9,-1.4a4.0,2.0 -10 1,0 -7.9,1.4zM537.0,312.8a3.8,2.0 -39 1,0 6.0,-4.8a3.8,2.0 -39 1,0 -6.0,4.8zM556.0,313.9a4.7,3.2 15 1,0 9.2,2.4a4.7,3.2 15 1,0 -9.2,-2.4zM570.2,313.2a4.3,3.2 3 1,0 8.6,0.4a4.3,3.2 3 1,0 -8.6,-0.4zM586.8,315.9a3.7,2.7 -14 1,0 7.2,-1.8a3.7,2.7 -14 1,0 -7.2,1.8zM595.7,315.1a5.0,2.9 -17 1,0 9.5,-2.9a5.0,2.9 -17 1,0 -9.5,2.9zM605.2,311.8a3.7,2.1 -30 1,0 6.4,-3.6a3.7,2.1 -30 1,0 -6.4,3.6zM629.2,310.2a4.7,2.5 18 1,0 8.9,3.0a4.7,2.5 18 1,0 -8.9,-3.0zM641.5,314.7a3.3,3.4 -19 1,0 6.2,-2.1a3.3,3.4 -19 1,0 -6.2,2.1zM658.7,314.3a4.5,2.6 10 1,0 8.8,1.5a4.5,2.6 10 1,0 -8.8,-1.5zM665.3,310.3a4.0,2.8 14 1,0 7.8,1.9a4.0,2.8 14 1,0 -7.8,-1.9zM684.6,311.8a3.3,3.0 -5 1,0 6.5,-0.5a3.3,3.0 -5 1,0 -6.5,0.5zM701.6,314.6a4.6,3.0 12 1,0 9.0,1.9a4.6,3.0 12 1,0 -9.0,-1.9zM720.2,311.2a3.3,2.1 -20 1,0 6.1,-2.2a3.3,2.1 -20 1,0 -6.1,2.2zM729.2,313.9a3.3,2.0 18 1,0 6.3,2.0a3.3,2.0 18 1,0 -6.3,-2.0zM410.0,317.8a3.8,2.5 18 1,0 7.3,2.4a3.8,2.5 18 1,0 -7.3,-2.4zM437.7,327.5a3.9,2.4 -37 1,0 6.3,-4.8a3.9,2.4 -37 1,0 -6.3,4.8zM493.8,324.9a3.6,2.4 -28 1,0 6.4,-3.4a3.6,2.4 -28 1,0 -6.4,3.4zM508.4,324.4a3.3,2.1 -31 1,0 5.7,-3.4a3.3,2.1 -31 1,0 -5.7,3.4zM527.6,321.9a3.5,2.3 -5 1,0 6.9,-0.6a3.5,2.3 -5 1,0 -6.9,0.6zM549.7,322.0a4.8,2.5 -4 1,0 9.5,-0.6a4.8,2.5 -4 1,0 -9.5,0.6zM569.6,321.1a4.2,2.3 -28 1,0 7.4,-4.0a4.2,2.3 -28 1,0 -7.4,4.0zM573.9,324.5a5.0,2.7 -1 1,0 10.0,-0.3a5.0,2.7 -1 1,0 -10.0,0.3zM592.1,318.8a3.9,3.4 22 1,0 7.3,3.0a3.9,3.4 22 1,0 -7.3,-3.0zM605.7,326.8a4.8,3.2 -29 1,0 8.3,-4.6a4.8,3.2 -29 1,0 -8.3,4.6zM613.5,318.9a3.1,2.7 21 1,0 5.7,2.2a3.1,2.7 21 1,0 -5.7,-2.2zM630.2,327.2a3.7,2.5 -33 1,0 6.3,-4.1a3.7,2.5 -33 1,0 -6.3,4.1zM640.8,325.8a5.1,2.8 -14 1,0 10.0,-2.5a5.1,2.8 -14 1,0 -10.0,2.5zM646.3,323.5a4.8,2.8 -34 1,0 8.0,-5.5a4.8,2.8 -34 1,0 -8.0,5.5zM659.2,322.8a4.5,2.6 15 1,0 8.6,2.3a4.5,2.6 15 1,0 -8.6,-2.3zM673.9,323.5a3.8,2.4 5 1,0 7.5,0.6a3.8,2.4 5 1,0 -7.5,-0.6zM689.5,325.3a3.8,2.5 -17 1,0 7.3,-2.2a3.8,2.5 -17 1,0 -7.3,2.2zM697.1,319.3a4.2,2.4 6 1,0 8.4,0.9a4.2,2.4 6 1,0 -8.4,-0.9zM706.4,321.6a4.1,2.0 -11 1,0 8.0,-1.6a4.1,2.0 -11 1,0 -8.0,1.6zM725.6,319.1a3.2,2.1 24 1,0 5.9,2.6a3.2,2.1 24 1,0 -5.9,-2.6zM733.4,325.3a4.1,2.7 -18 1,0 7.7,-2.5a4.1,2.7 -18 1,0 -7.7,2.5zM476.9,331.2a2.8,1.8 -24 1,0 5.2,-2.3a2.8,1.8 -24 1,0 -5.2,2.3zM491.5,328.4a3.5,2.4 24 1,0 6.4,2.8a3.5,2.4 24 1,0 -6.4,-2.8zM499.3,332.9a4.8,3.1 -35 1,0 7.8,-5.5a4.8,3.1 -35 1,0 -7.8,5.5zM509.1,330.9a3.7,2.2 -9 1,0 7.2,-1.1a3.7,2.2 -9 1,0 -7.2,1.1zM521.7,337.5a5.0,2.0 -37 1,0 8.0,-6.1a5.0,2.0 -37 1,0 -8.0,6.1zM537.2,334.1a3.6,2.2 -13 1,0 7.1,-1.6a3.6,2.2 -13 1,0 -7.1,1.6zM552.0,334.4a4.0,3.3 -7 1,0 7.9,-1.0a4.0,3.3 -7 1,0 -7.9,1.0zM567.2,335.2a5.1,2.4 -13 1,0 9.9,-2.2a5.1,2.4 -13 1,0 -9.9,2.2zM588.2,333.6a3.0,2.2 -5 1,0 6.1,-0.5a3.0,2.2 -5 1,0 -6.1,0.5zM593.0,331.9a4.8,2.3 23 1,0 8.9,3.7a4.8,2.3 23 1,0 -8.9,-3.7zM606.1,329.0a4.9,3.2 -7 1,0 9.6,-1.1a4.9,3.2 -7 1,0 -9.6,1.1zM618.2,332.3a3.3,3.1 15 1,0 6.4,1.7a3.3,3.1 15 1,0 -6.4,-1.7zM646.6,334.3a4.8,2.8 -37 1,0 7.6,-5.7a4.8,2.8 -37 1,0 -7.6,5.7zM654.5,332.7a4.7,2.3 2 1,0 9.3,0.4a4.7,2.3 2 1,0 -9.3,-0.4zM666.4,332.9a3.1,2.2 -38 1,0 4.9,-3.9a3.1,2.2 -38 1,0 -4.9,3.9zM677.0,334.9a5.0,2.1 -18 1,0 9.6,-3.0a5.0,2.1 -18 1,0 -9.6,3.0zM695.5,336.5a4.3,3.4 -38 1,0 6.8,-5.3a4.3,3.4 -38 1,0 -6.8,5.3zM701.2,331.9a3.1,3.2 18 1,0 5.8,1.9a3.1,3.2 18 1,0 -5.8,-1.9zM719.5,330.3a3.1,2.9 -13 1,0 6.1,-1.4a3.1,2.9 -13 1,0 -6.1,1.4zM732.2,333.9a3.2,1.7 -7 1,0 6.4,-0.8a3.2,1.7 -7 1,0 -6.4,0.8zM437.8,344.3a4.0,2.1 -38 1,0 6.4,-4.9a4.0,2.1 -38 1,0 -6.4,4.9zM460.6,344.0a3.1,2.4 -16 1,0 6.0,-1.7a3.1,2.4 -16 1,0 -6.0,1.7zM469.8,339.8a3.5,2.8 -16 1,0 6.7,-1.9a3.5,2.8 -16 1,0 -6.7,1.9zM491.9,338.3a4.7,2.3 -1 1,0 9.4,-0.2a4.7,2.3 -1 1,0 -9.4,0.2zM504.7,339.6a4.2,2.4 1 1,0 8.3,0.1a4.2,2.4 1 1,0 -8.3,-0.1zM515.3,341.8a3.7,2.8 -6 1,0 7.4,-0.8a3.7,2.8 -6 1,0 -7.4,0.8zM527.9,344.8a4.4,2.0 -20 1,0 8.2,-3.0a4.4,2.0 -20 1,0 -8.2,3.0zM543.6,343.2a4.2,3.2 -13 1,0 8.2,-1.9a4.2,3.2 -13 1,0 -8.2,1.9zM552.4,340.6a3.9,2.9 -2 1,0 7.8,-0.3a3.9,2.9 -2 1,0 -7.8,0.3zM568.1,337.2a4.0,3.1 12 1,0 7.9,1.7a4.0,3.1 12 1,0 -7.9,-1.7zM577.4,339.4a3.9,3.0 12 1,0 7.7,1.7a3.9,3.0 12 1,0 -7.7,-1.7zM588.7,341.8a4.9,2.0 19 1,0 9.3,3.3a4.9,2.0 19 1,0 -9.3,-3.3zM598.8,338.2a4.3,2.1 25 1,0 7.8,3.5a4.3,2.1 25 1,0 -7.8,-3.5zM610.6,344.0a3.9,2.9 -3 1,0 7.7,-0.4a3.9,2.9 -3 1,0 -7.7,0.4zM626.3,341.9a3.9,2.2 -14 1,0 7.6,-2.0a3.9,2.2 -14 1,0 -7.6,2.0zM633.3,338.4a5.1,2.6 17 1,0 9.8,2.9a5.1,2.6 17 1,0 -9.8,-2.9zM650.1,341.7a5.2,2.4 24 1,0 9.4,4.2a5.2,2.4 24 1,0 -9.4,-4.2zM659.4,340.6a3.3,2.9 -31 1,0 5.6,-3.3a3.3,2.9 -31 1,0 -5.6,3.3zM677.1,346.7a4.9,2.4 -39 1,0 7.6,-6.3a4.9,2.4 -39 1,0 -7.6,6.3zM683.7,340.0a3.1,2.6 7 1,0 6.1,0.7a3.1,2.6 7 1,0 -6.1,-0.7zM696.2,343.3a3.7,2.6 -8 1,0 7.4,-1.1a3.7,2.6 -8 1,0 -7.4,1.1zM713.5,341.0a3.0,2.3 -11 1,0 5.8,-1.1a3.0,2.3 -11 1,0 -5.8,1.1zM719.1,340.4a5.0,3.2 -24 1,0 9.1,-4.0a5.0,3.2 -24 1,0 -9.1,4.0zM734.9,341.2a3.3,2.3 -38 1,0 5.2,-4.0a3.3,2.3 -38 1,0 -5.2,4.0zM429.0,353.6a3.5,2.3 -8 1,0 6.9,-0.9a3.5,2.3 -8 1,0 -6.9,0.9zM439.4,348.6a3.6,2.4 -15 1,0 6.9,-1.8a3.6,2.4 -15 1,0 -6.9,1.8zM456.7,350.1a3.2,2.0 -8 1,0 6.3,-0.9a3.2,2.0 -8 1,0 -6.3,0.9zM463.6,350.8a3.6,2.7 12 1,0 7.0,1.5a3.6,2.7 12 1,0 -7.0,-1.5zM479.3,349.3a3.4,2.1 24 1,0 6.3,2.8a3.4,2.1 24 1,0 -6.3,-2.8zM489.3,346.8a4.2,2.2 19 1,0 7.9,2.8a4.2,2.2 19 1,0 -7.9,-2.8zM511.3,351.6a4.6,3.0 -17 1,0 8.8,-2.7a4.6,3.0 -17 1,0 -8.8,2.7zM523.4,349.9a3.1,2.7 -32 1,0 5.3,-3.3a3.1,2.7 -32 1,0 -5.3,3.3zM539.9,347.6a3.2,2.8 22 1,0 5.9,2.4a3.2,2.8 22 1,0 -5.9,-2.4zM545.3,351.9a3.9,3.1 4 1,0 7.7,0.6a3.9,3.1 4 1,0 -7.7,-0.6zM561.6,351.4a3.2,3.2 -9 1,0 6.2,-1.0a3.2,3.2 -9 1,0 -6.2,1.0zM573.1,348.5a4.7,2.9 9 1,0 9.3,1.5a4.7,2.9 9 1,0 -9.3,-1.5zM582.6,352.6a4.2,2.4 3 1,0 8.4,0.4a4.2,2.4 3 1,0 -8.4,-0.4zM593.4,351.1a3.5,2.9 -5 1,0 7.0,-0.6a3.5,2.9 -5 1,0 -7.0,0.6zM608.0,349.1a3.3,3.2 4 1,0 6.6,0.5a3.3,3.2 4 1,0 -6.6,-0.5zM619.1,352.5a3.4,2.9 12 1,0 6.6,1.4a3.4,2.9 12 1,0 -6.6,-1.4zM631.0,349.6a3.6,3.1 5 1,0 7.1,0.6a3.6,3.1 5 1,0 -7.1,-0.6zM645.0,352.1a5.0,2.3 -31 1,0 8.7,-5.2a5.0,2.3 -31 1,0 -8.7,5.2zM657.3,351.2a3.3,3.2 -9 1,0 6.5,-1.0a3.3,3.2 -9 1,0 -6.5,1.0zM667.9,349.4a4.9,3.1 -14 1,0 9.5,-2.4a4.9,3.1 -14 1,0 -9.5,2.4zM689.5,348.1a4.1,3.0 -2 1,0 8.1,-0.2a4.1,3.0 -2 1,0 -8.1,0.2zM701.3,352.9a3.2,2.8 2 1,0 6.4,0.3a3.2,2.8 2 1,0 -6.4,-0.3zM712.8,353.0a4.1,2.6 -34 1,0 6.7,-4.6a4.1,2.6 -34 1,0 -6.7,4.6zM742.2,352.6a3.1,1.6 14 1,0 5.9,1.5a3.1,1.6 14 1,0 -5.9,-1.5zM420.5,362.8a3.1,3.0 -1 1,0 6.2,-0.1a3.1,3.0 -1 1,0 -6.2,0.1zM481.6,363.8a4.8,2.4 -12 1,0 9.3,-2.1a4.8,2.4 -12 1,0 -9.3,2.1zM492.9,364.8a3.7,3.1 -32 1,0 6.3,-3.9a3.7,3.1 -32 1,0 -6.3,3.9zM509.9,358.2a3.6,2.4 11 1,0 7.1,1.4a3.6,2.4 11 1,0 -7.1,-1.4zM527.1,358.0a3.8,2.5 3 1,0 7.5,0.4a3.8,2.5 3 1,0 -7.5,-0.4zM539.4,360.0a3.3,3.1 2 1,0 6.6,0.2a3.3,3.1 2 1,0 -6.6,-0.2zM551.1,364.1a4.3,2.4 -28 1,0 7.6,-4.1a4.3,2.4 -28 1,0 -7.6,4.1zM566.4,359.5a4.7,2.8 21 1,0 8.7,3.3a4.7,2.8 21 1,0 -8.7,-3.3zM575.1,361.8a4.6,3.2 -19 1,0 8.7,-3.0a4.6,3.2 -19 1,0 -8.7,3.0zM592.4,360.4a3.3,2.3 -9 1,0 6.6,-1.1a3.3,2.3 -9 1,0 -6.6,1.1zM602.6,360.3a4.9,2.8 -36 1,0 7.9,-5.8a4.9,2.8 -36 1,0 -7.9,5.8zM611.9,364.1a3.0,3.0 -21 1,0 5.6,-2.1a3.0,3.0 -21 1,0 -5.6,2.1zM624.8,361.4a3.1,3.2 -29 1,0 5.4,-3.0a3.1,3.2 -29 1,0 -5.4,3.0zM641.7,361.6a3.2,3.1 -4 1,0 6.4,-0.5a3.2,3.1 -4 1,0 -6.4,0.5zM651.3,356.9a4.4,2.6 4 1,0 8.8,0.6a4.4,2.6 4 1,0 -8.8,-0.6zM666.4,358.3a3.6,3.1 -14 1,0 7.0,-1.8a3.6,3.1 -14 1,0 -7.0,1.8zM670.6,358.4a3.9,2.4 -20 1,0 7.3,-2.6a3.9,2.4 -20 1,0 -7.3,2.6zM683.7,363.2a4.5,3.1 -36 1,0 7.3,-5.3a4.5,3.1 -36 1,0 -7.3,5.3zM699.4,359.4a3.6,3.3 18 1,0 6.9,2.3a3.6,3.3 18 1,0 -6.9,-2.3zM731.3,362.2a4.0,2.3 5 1,0 8.0,0.7a4.0,2.3 5 1,0 -8.0,-0.7zM385.0,369.8a2.8,2.6 -20 1,0 5.2,-1.9a2.8,2.6 -20 1,0 -5.2,1.9zM393.9,372.5a3.9,2.2 -7 1,0 7.8,-1.0a3.9,2.2 -7 1,0 -7.8,1.0zM403.1,365.9a3.3,2.4 20 1,0 6.2,2.3a3.3,2.4 20 1,0 -6.2,-2.3zM418.3,367.4a3.5,2.3 -7 1,0 6.9,-0.8a3.5,2.3 -7 1,0 -6.9,0.8zM429.8,370.5a4.5,2.4 10 1,0 8.8,1.6a4.5,2.4 10 1,0 -8.8,-1.6zM438.7,366.3a4.7,2.8 5 1,0 9.4,0.8a4.7,2.8 5 1,0 -9.4,-0.8zM452.6,371.1a4.4,3.2 -13 1,0 8.5,-2.0a4.4,3.2 -13 1,0 -8.5,2.0zM480.3,367.0a3.1,2.1 20 1,0 5.8,2.1a3.1,2.1 20 1,0 -5.8,-2.1zM486.4,366.2a4.4,2.4 14 1,0 8.6,2.1a4.4,2.4 14 1,0 -8.6,-2.1zM499.1,367.5a4.8,3.2 15 1,0 9.2,2.5a4.8,3.2 15 1,0 -9.2,-2.5zM524.4,370.6a3.7,2.7 -10 1,0 7.4,-1.3a3.7,2.7 -10 1,0 -7.4,1.3zM536.0,373.9a4.1,2.9 -39 1,0 6.4,-5.1a4.1,2.9 -39 1,0 -6.4,5.1zM549.1,370.4a3.8,3.1 7 1,0 7.5,0.9a3.8,3.1 7 1,0 -7.5,-0.9zM556.4,372.9a5.0,2.7 -33 1,0 8.4,-5.5a5.0,2.7 -33 1,0 -8.4,5.5zM576.2,369.8a3.2,2.8 13 1,0 6.3,1.4a3.2,2.8 13 1,0 -6.3,-1.4zM582.2,367.9a3.0,2.6 -19 1,0 5.7,-2.0a3.0,2.6 -19 1,0 -5.7,2.0zM610.2,368.8a3.6,2.9 10 1,0 7.0,1.3a3.6,2.9 10 1,0 -7.0,-1.3zM617.3,366.1a4.3,2.0 15 1,0 8.3,2.2a4.3,2.0 15 1,0 -8.3,-2.2zM632.0,373.1a3.1,3.1 -8 1,0 6.2,-0.9a3.1,3.1 -8 1,0 -6.2,0.9zM646.2,370.3a5.0,3.3 10 1,0 9.9,1.8a5.0,3.3 10 1,0 -9.9,-1.8zM655.7,369.3a5.1,2.2 -10 1,0 10.1,-1.8a5.1,2.2 -10 1,0 -10.1,1.8zM667.2,373.8a3.1,2.3 -24 1,0 5.7,-2.5a3.1,2.3 -24 1,0 -5.7,2.5zM681.0,370.0a4.7,2.8 -6 1,0 9.3,-0.9a4.7,2.8 -6 1,0 -9.3,0.9zM689.8,370.0a3.5,2.5 -12 1,0 6.8,-1.4a3.5,2.5 -12 1,0 -6.8,1.4zM701.7,374.0a4.3,2.6 -35 1,0 7.1,-4.9a4.3,2.6 -35 1,0 -7.1,4.9zM719.3,372.0a4.1,3.2 -27 1,0 7.4,-3.7a4.1,3.2 -27 1,0 -7.4,3.7zM728.8,372.9a3.4,2.6 -15 1,0 6.6,-1.8a3.4,2.6 -15 1,0 -6.6,1.8zM384.1,381.2a3.4,2.9 -37 1,0 5.4,-4.0a3.4,2.9 -37 1,0 -5.4,4.0zM412.8,376.9a3.7,2.5 0 1,0 7.4,0.1a3.7,2.5 0 1,0 -7.4,-0.1zM425.1,376.0a4.2,2.3 20 1,0 7.9,2.8a4.2,2.3 20 1,0 -7.9,-2.8zM435.5,380.3a4.8,2.5 -4 1,0 9.6,-0.7a4.8,2.5 -4 1,0 -9.6,0.7zM457.0,379.2a3.7,2.0 -3 1,0 7.5,-0.4a3.7,2.0 -3 1,0 -7.5,0.4zM470.7,376.6a4.2,2.5 7 1,0 8.3,0.9a4.2,2.5 7 1,0 -8.3,-0.9zM484.7,377.7a3.8,2.8 -25 1,0 7.0,-3.2a3.8,2.8 -25 1,0 -7.0,3.2zM496.8,378.9a4.4,3.2 12 1,0 8.7,1.8a4.4,3.2 12 1,0 -8.7,-1.8zM516.8,381.9a3.6,3.1 -16 1,0 7.0,-2.0a3.6,3.1 -16 1,0 -7.0,2.0zM544.7,382.2a3.2,2.2 -11 1,0 6.3,-1.2a3.2,2.2 -11 1,0 -6.3,1.2zM553.2,381.1a3.9,2.5 -20 1,0 7.3,-2.7a3.9,2.5 -20 1,0 -7.3,2.7zM563.5,382.2a3.7,1.9 -1 1,0 7.3,-0.2a3.7,1.9 -1 1,0 -7.3,0.2zM578.0,378.4a4.2,3.0 24 1,0 7.6,3.4a4.2,3.0 24 1,0 -7.6,-3.4zM590.5,376.4a3.9,3.2 20 1,0 7.2,2.7a3.9,3.2 20 1,0 -7.2,-2.7zM600.4,376.9a3.5,3.1 -11 1,0 7.0,-1.3a3.5,3.1 -11 1,0 -7.0,1.3zM609.8,378.0a4.5,2.1 7 1,0 9.0,1.1a4.5,2.1 7 1,0 -9.0,-1.1zM628.6,376.4a3.0,2.2 -0 1,0 6.1,-0.0a3.0,2.2 -0 1,0 -6.1,0.0zM635.5,381.9a3.6,2.1 -6 1,0 7.2,-0.7a3.6,2.1 -6 1,0 -7.2,0.7zM650.8,375.2a4.1,3.4 19 1,0 7.8,2.7a4.1,3.4 19 1,0 -7.8,-2.7zM666.7,381.8a3.4,2.9 -30 1,0 5.8,-3.3a3.4,2.9 -30 1,0 -5.8,3.3zM670.1,378.1a4.6,3.3 4 1,0 9.2,0.6a4.6,3.3 4 1,0 -9.2,-0.6zM693.8,381.9a4.6,3.2 -2 1,0 9.3,-0.3a4.6,3.2 -2 1,0 -9.3,0.3zM711.2,379.6a3.2,2.5 11 1,0 6.3,1.2a3.2,2.5 11 1,0 -6.3,-1.2zM356.2,389.7a3.3,2.1 -8 1,0 6.5,-0.9a3.3,2.1 -8 1,0 -6.5,0.9zM393.4,385.4a3.7,2.4 20 1,0 6.9,2.5a3.7,2.4 20 1,0 -6.9,-2.5zM418.7,394.3a4.9,2.5 -35 1,0 7.9,-5.6a4.9,2.5 -35 1,0 -7.9,5.6zM430.3,388.2a3.8,2.9 -39 1,0 6.0,-4.9a3.8,2.9 -39 1,0 -6.0,4.9zM443.9,389.2a3.1,2.0 -11 1,0 6.1,-1.2a3.1,2.0 -11 1,0 -6.1,1.2zM452.4,387.6a3.6,2.3 -7 1,0 7.2,-0.9a3.6,2.3 -7 1,0 -7.2,0.9zM466.1,385.0a3.6,3.0 6 1,0 7.1,0.7a3.6,3.0 6 1,0 -7.1,-0.7zM476.7,388.0a4.5,2.7 -12 1,0 8.8,-1.9a4.5,2.7 -12 1,0 -8.8,1.9zM489.4,389.2a3.0,2.1 -40 1,0 4.6,-3.8a3.0,2.1 -40 1,0 -4.6,3.8zM501.6,390.4a3.1,2.7 14 1,0 6.1,1.5a3.1,2.7 14 1,0 -6.1,-1.5zM509.1,384.9a4.4,2.7 23 1,0 8.1,3.5a4.4,2.7 23 1,0 -8.1,-3.5zM527.9,392.1a3.8,2.3 -10 1,0 7.4,-1.3a3.8,2.3 -10 1,0 -7.4,1.3zM533.2,388.4a5.0,2.4 -4 1,0 10.1,-0.7a5.0,2.4 -4 1,0 -10.1,0.7zM546.4,387.3a4.9,3.1 -5 1,0 9.7,-0.9a4.9,3.1 -5 1,0 -9.7,0.9zM560.4,384.9a3.4,1.9 15 1,0 6.5,1.7a3.4,1.9 15 1,0 -6.5,-1.7zM570.9,386.9a3.6,2.4 12 1,0 7.0,1.5a3.6,2.4 12 1,0 -7.0,-1.5zM581.4,387.8a4.6,3.1 17 1,0 8.8,2.6a4.6,3.1 17 1,0 -8.8,-2.6zM605.6,386.5a4.2,2.6 12 1,0 8.2,1.7a4.2,2.6 12 1,0 -8.2,-1.7zM617.8,384.0a4.2,3.3 21 1,0 7.9,3.0a4.2,3.3 21 1,0 -7.9,-3.0zM631.2,390.2a3.0,2.6 -33 1,0 5.0,-3.3a3.0,2.6 -33 1,0 -5.0,3.3zM640.8,387.5a3.8,3.2 -3 1,0 7.5,-0.4a3.8,3.2 -3 1,0 -7.5,0.4zM654.2,393.3a4.5,2.2 -31 1,0 7.6,-4.7a4.5,2.2 -31 1,0 -7.6,4.7zM670.4,384.9a5.0,2.5 21 1,0 9.4,3.7a5.0,2.5 21 1,0 -9.4,-3.7zM677.8,384.8a3.3,3.1 9 1,0 6.5,1.0a3.3,3.1 9 1,0 -6.5,-1.0zM689.5,389.7a3.9,2.5 4 1,0 7.7,0.5a3.9,2.5 4 1,0 -7.7,-0.5zM702.2,391.5a3.4,3.0 -22 1,0 6.4,-2.6a3.4,3.0 -22 1,0 -6.4,2.6zM717.6,386.2a3.0,2.8 12 1,0 5.8,1.3a3.0,2.8 12 1,0 -5.8,-1.3zM362.3,401.2a4.1,1.6 -2 1,0 8.2,-0.2a4.1,1.6 -2 1,0 -8.2,0.2zM369.8,395.5a4.9,2.6 1 1,0 9.8,0.1a4.9,2.6 1 1,0 -9.8,-0.1zM383.9,393.4a5.5,2.3 18 1,0 10.4,3.4a5.5,2.3 18 1,0 -10.4,-3.4zM394.9,400.7a4.6,2.2 -6 1,0 9.2,-0.9a4.6,2.2 -6 1,0 -9.2,0.9zM405.6,397.0a6.4,2.0 13 1,0 12.5,2.9a6.4,2.0 13 1,0 -12.5,-2.9zM420.8,396.8a3.8,2.0 -25 1,0 6.9,-3.3a3.8,2.0 -25 1,0 -6.9,3.3zM433.5,401.7a5.1,3.0 -6 1,0 10.2,-1.1a5.1,3.0 -6 1,0 -10.2,1.1zM446.3,398.8a4.9,3.0 11 1,0 9.7,1.9a4.9,3.0 11 1,0 -9.7,-1.9zM461.0,403.2a4.2,2.4 -35 1,0 6.8,-4.9a4.2,2.4 -35 1,0 -6.8,4.9zM479.2,396.4a4.8,3.1 -0 1,0 9.7,-0.0a4.8,3.1 -0 1,0 -9.7,0.0zM492.3,403.2a4.5,2.1 -37 1,0 7.2,-5.4a4.5,2.1 -37 1,0 -7.2,5.4zM505.0,396.3a3.3,3.0 19 1,0 6.2,2.1a3.3,3.0 19 1,0 -6.2,-2.1zM516.6,398.4a2.9,2.0 23 1,0 5.4,2.3a2.9,2.0 23 1,0 -5.4,-2.3zM531.1,399.6a2.9,2.5 10 1,0 5.7,1.0a2.9,2.5 10 1,0 -5.7,-1.0zM543.3,401.4a5.0,2.2 -13 1,0 9.8,-2.2a5.0,2.2 -13 1,0 -9.8,2.2zM554.9,401.6a3.9,2.6 -10 1,0 7.7,-1.4a3.9,2.6 -10 1,0 -7.7,1.4zM563.0,397.5a3.6,2.6 -18 1,0 6.9,-2.3a3.6,2.6 -18 1,0 -6.9,2.3zM580.3,394.9a4.2,3.0 2 1,0 8.3,0.3a4.2,3.0 2 1,0 -8.3,-0.3zM589.5,396.9a5.0,2.2 -9 1,0 9.9,-1.5a5.0,2.2 -9 1,0 -9.9,1.5zM598.7,396.3a3.6,3.2 -5 1,0 7.2,-0.6a3.6,3.2 -5 1,0 -7.2,0.6zM611.8,400.1a3.0,2.5 -14 1,0 5.9,-1.5a3.0,2.5 -14 1,0 -5.9,1.5zM623.9,400.2a4.5,3.0 -12 1,0 8.8,-1.9a4.5,3.0 -12 1,0 -8.8,1.9zM634.6,400.5a5.2,2.8 -3 1,0 10.4,-0.5a5.2,2.8 -3 1,0 -10.4,0.5zM650.9,399.1a4.9,2.2 -32 1,0 8.3,-5.2a4.9,2.2 -32 1,0 -8.3,5.2zM658.6,398.5a5.0,2.9 -5 1,0 10.0,-0.9a5.0,2.9 -5 1,0 -10.0,0.9zM675.5,400.8a4.6,2.6 -17 1,0 8.9,-2.7a4.6,2.6 -17 1,0 -8.9,2.7zM683.5,399.5a5.2,2.1 -39 1,0 8.1,-6.5a5.2,2.1 -39 1,0 -8.1,6.5zM696.6,396.9a4.2,2.4 -7 1,0 8.3,-0.9a4.2,2.4 -7 1,0 -8.3,0.9zM713.5,397.6a4.1,2.4 8 1,0 8.1,1.2a4.1,2.4 8 1,0 -8.1,-1.2zM723.3,400.5a3.2,2.4 -38 1,0 5.0,-3.9a3.2,2.4 -38 1,0 -5.0,3.9zM380.6,406.0a4.2,2.3 -7 1,0 8.4,-1.0a4.2,2.3 -7 1,0 -8.4,1.0zM392.6,408.2a5.1,2.3 -5 1,0 10.2,-1.0a5.1,2.3 -5 1,0 -10.2,1.0zM404.8,403.5a5.8,1.8 11 1,0 11.4,2.2a5.8,1.8 11 1,0 -11.4,-2.2zM417.9,410.8a4.9,2.4 -26 1,0 8.8,-4.2a4.9,2.4 -26 1,0 -8.8,4.2zM428.0,410.0a4.7,2.3 -29 1,0 8.3,-4.5a4.7,2.3 -29 1,0 -8.3,4.5zM439.4,408.6a3.5,2.4 25 1,0 6.3,2.9a3.5,2.4 25 1,0 -6.3,-2.9zM456.5,407.3a3.7,2.8 -23 1,0 6.7,-2.9a3.7,2.8 -23 1,0 -6.7,2.9zM463.2,409.4a4.9,2.2 -20 1,0 9.1,-3.3a4.9,2.2 -20 1,0 -9.1,3.3zM473.8,407.7a3.4,2.1 4 1,0 6.7,0.5a3.4,2.1 4 1,0 -6.7,-0.5zM488.5,411.1a4.8,3.0 -38 1,0 7.5,-5.9a4.8,3.0 -38 1,0 -7.5,5.9zM501.2,412.9a4.0,2.3 -40 1,0 6.1,-5.1a4.0,2.3 -40 1,0 -6.1,5.1zM516.1,405.8a3.4,2.5 -3 1,0 6.7,-0.4a3.4,2.5 -3 1,0 -6.7,0.4zM528.4,408.6a3.5,2.9 -8 1,0 7.0,-0.9a3.5,2.9 -8 1,0 -7.0,0.9zM535.4,411.1a3.7,2.1 -6 1,0 7.3,-0.8a3.7,2.1 -6 1,0 -7.3,0.8zM548.4,406.0a3.3,2.8 17 1,0 6.4,1.9a3.3,2.8 17 1,0 -6.4,-1.9zM557.3,405.9a3.9,2.9 7 1,0 7.7,0.9a3.9,2.9 7 1,0 -7.7,-0.9zM571.8,404.4a4.4,2.2 1 1,0 8.8,0.2a4.4,2.2 1 1,0 -8.8,-0.2zM584.6,404.5a4.9,2.0 22 1,0 9.1,3.6a4.9,2.0 22 1,0 -9.1,-3.6zM595.2,412.3a3.0,2.0 -39 1,0 4.7,-3.8a3.0,2.0 -39 1,0 -4.7,3.8zM611.3,409.4a4.1,2.9 -39 1,0 6.4,-5.1a4.1,2.9 -39 1,0 -6.4,5.1zM617.0,408.1a4.7,2.1 2 1,0 9.4,0.3a4.7,2.1 2 1,0 -9.4,-0.3zM630.4,407.4a3.8,2.8 -13 1,0 7.4,-1.7a3.8,2.8 -13 1,0 -7.4,1.7zM641.6,409.8a3.0,2.5 -36 1,0 4.9,-3.5a3.0,2.5 -36 1,0 -4.9,3.5zM657.0,410.1a4.0,2.1 -27 1,0 7.2,-3.7a4.0,2.1 -27 1,0 -7.2,3.7zM667.5,404.2a3.5,2.2 7 1,0 6.9,0.8a3.5,2.2 7 1,0 -6.9,-0.8zM679.7,406.1a3.8,2.3 -13 1,0 7.3,-1.7a3.8,2.3 -13 1,0 -7.3,1.7zM692.5,406.3a3.6,3.1 -30 1,0 6.2,-3.6a3.6,3.1 -30 1,0 -6.2,3.6zM705.8,410.4a4.4,2.8 -15 1,0 8.4,-2.2a4.4,2.8 -15 1,0 -8.4,2.2zM713.2,405.7a3.2,2.3 10 1,0 6.3,1.1a3.2,2.3 10 1,0 -6.3,-1.1zM729.5,408.1a4.4,1.9 13 1,0 8.5,1.9a4.4,1.9 13 1,0 -8.5,-1.9zM327.9,415.9a5.3,2.2 3 1,0 10.6,0.6a5.3,2.2 3 1,0 -10.6,-0.6zM349.8,418.4a4.8,2.2 2 1,0 9.6,0.4a4.8,2.2 2 1,0 -9.6,-0.4zM363.0,418.2a5.0,2.0 -3 1,0 10.0,-0.5a5.0,2.0 -3 1,0 -10.0,0.5zM369.2,417.1a5.7,1.7 7 1,0 11.3,1.3a5.7,1.7 7 1,0 -11.3,-1.3zM387.6,418.9a4.8,2.0 9 1,0 9.4,1.4a4.8,2.0 9 1,0 -9.4,-1.4zM398.5,418.3a5.0,1.8 -2 1,0 10.1,-0.4a5.0,1.8 -2 1,0 -10.1,0.4zM405.2,417.3a5.7,2.6 -1 1,0 11.5,-0.1a5.7,2.6 -1 1,0 -11.5,0.1zM423.5,416.1a4.3,2.6 17 1,0 8.2,2.5a4.3,2.6 17 1,0 -8.2,-2.5zM434.3,418.8a4.7,2.8 -10 1,0 9.2,-1.7a4.7,2.8 -10 1,0 -9.2,1.7zM446.2,418.8a4.8,3.1 -35 1,0 7.9,-5.5a4.8,3.1 -35 1,0 -7.9,5.5zM461.6,416.9a3.7,3.1 -24 1,0 6.7,-3.0a3.7,3.1 -24 1,0 -6.7,3.0zM470.3,417.0a4.1,3.1 7 1,0 8.1,1.0a4.1,3.1 7 1,0 -8.1,-1.0zM478.3,421.7a5.0,3.2 -36 1,0 8.1,-5.9a5.0,3.2 -36 1,0 -8.1,5.9zM492.0,417.6a4.9,2.0 -18 1,0 9.3,-3.1a4.9,2.0 -18 1,0 -9.3,3.1zM509.0,421.0a5.0,2.4 -16 1,0 9.7,-2.8a5.0,2.4 -16 1,0 -9.7,2.8zM519.4,420.3a5.0,2.8 -35 1,0 8.2,-5.8a5.0,2.8 -35 1,0 -8.2,5.8zM532.9,415.4a3.5,2.7 15 1,0 6.8,1.8a3.5,2.7 15 1,0 -6.8,-1.8zM556.6,413.4a3.1,2.6 20 1,0 5.8,2.1a3.1,2.6 20 1,0 -5.8,-2.1zM587.5,415.0a4.5,3.1 -10 1,0 8.9,-1.6a4.5,3.1 -10 1,0 -8.9,1.6zM613.1,419.7a3.2,3.2 -24 1,0 5.8,-2.6a3.2,3.2 -24 1,0 -5.8,2.6zM623.0,417.0a4.5,2.9 -3 1,0 9.0,-0.4a4.5,2.9 -3 1,0 -9.0,0.4zM634.8,416.5a4.7,2.1 -1 1,0 9.4,-0.2a4.7,2.1 -1 1,0 -9.4,0.2zM652.7,417.6a3.2,2.0 -22 1,0 6.0,-2.4a3.2,2.0 -22 1,0 -6.0,2.4zM659.4,416.2a4.6,2.8 23 1,0 8.4,3.5a4.6,2.8 23 1,0 -8.4,-3.5zM677.3,415.2a4.1,2.2 -13 1,0 7.9,-1.8a4.1,2.2 -13 1,0 -7.9,1.8zM687.1,418.8a4.0,3.0 -15 1,0 7.8,-2.1a4.0,3.0 -15 1,0 -7.8,2.1zM700.1,414.2a3.4,2.5 1 1,0 6.9,0.1a3.4,2.5 1 1,0 -6.9,-0.1zM708.0,419.1a4.1,2.8 7 1,0 8.1,1.0a4.1,2.8 7 1,0 -8.1,-1.0zM725.9,413.7a4.0,2.8 8 1,0 7.9,1.2a4.0,2.8 8 1,0 -7.9,-1.2zM320.7,424.4a4.4,1.7 -2 1,0 8.8,-0.3a4.4,1.7 -2 1,0 -8.8,0.3zM331.0,426.6a6.0,2.2 6 1,0 12.0,1.3a6.0,2.2 6 1,0 -12.0,-1.3zM345.9,425.1a5.6,2.2 -1 1,0 11.2,-0.3a5.6,2.2 -1 1,0 -11.2,0.3zM353.1,428.2a4.4,1.7 -8 1,0 8.7,-1.2a4.4,1.7 -8 1,0 -8.7,1.2zM367.5,425.2a6.4,1.8 8 1,0 12.7,1.9a6.4,1.8 8 1,0 -12.7,-1.9zM380.5,428.6a4.6,1.9 8 1,0 9.0,1.2a4.6,1.9 8 1,0 -9.0,-1.2zM392.1,423.8a4.4,2.1 7 1,0 8.8,1.1a4.4,2.1 7 1,0 -8.8,-1.1zM402.7,427.2a6.2,2.4 11 1,0 12.1,2.3a6.2,2.4 11 1,0 -12.1,-2.3zM413.7,428.1a4.3,1.6 9 1,0 8.5,1.3a4.3,1.6 9 1,0 -8.5,-1.3zM430.6,427.2a3.6,2.5 3 1,0 7.3,0.4a3.6,2.5 3 1,0 -7.3,-0.4zM438.6,430.4a3.2,2.7 -30 1,0 5.5,-3.2a3.2,2.7 -30 1,0 -5.5,3.2zM454.4,429.2a4.6,3.2 -6 1,0 9.1,-0.9a4.6,3.2 -6 1,0 -9.1,0.9zM462.5,431.4a4.8,2.6 -21 1,0 9.0,-3.5a4.8,2.6 -21 1,0 -9.0,3.5zM473.8,424.0a3.0,2.8 24 1,0 5.4,2.4a3.0,2.8 24 1,0 -5.4,-2.4zM485.6,426.4a3.5,2.8 -2 1,0 7.0,-0.3a3.5,2.8 -2 1,0 -7.0,0.3zM499.3,429.7a4.9,2.7 -39 1,0 7.6,-6.3a4.9,2.7 -39 1,0 -7.6,6.3zM513.3,430.2a3.9,2.1 -10 1,0 7.7,-1.4a3.9,2.1 -10 1,0 -7.7,1.4zM539.0,425.1a3.4,2.2 -22 1,0 6.4,-2.6a3.4,2.2 -22 1,0 -6.4,2.6zM548.0,427.9a4.3,2.6 4 1,0 8.5,0.6a4.3,2.6 4 1,0 -8.5,-0.6zM570.0,429.5a3.4,3.2 -29 1,0 6.0,-3.3a3.4,3.2 -29 1,0 -6.0,3.3zM597.3,425.5a4.7,3.0 -24 1,0 8.5,-3.9a4.7,3.0 -24 1,0 -8.5,3.9zM606.9,426.9a3.6,2.7 21 1,0 6.7,2.6a3.6,2.7 21 1,0 -6.7,-2.6zM622.8,428.9a3.6,2.3 -39 1,0 5.6,-4.6a3.6,2.3 -39 1,0 -5.6,4.6zM631.0,425.5a3.6,2.5 -21 1,0 6.7,-2.5a3.6,2.5 -21 1,0 -6.7,2.5zM643.4,428.7a3.8,2.2 -2 1,0 7.5,-0.3a3.8,2.2 -2 1,0 -7.5,0.3zM659.2,426.5a4.9,3.1 -36 1,0 7.9,-5.7a4.9,3.1 -36 1,0 -7.9,5.7zM665.3,428.7a3.3,2.3 1 1,0 6.6,0.1a3.3,2.3 1 1,0 -6.6,-0.1zM679.6,427.5a4.1,2.6 -9 1,0 8.0,-1.2a4.1,2.6 -9 1,0 -8.0,1.2zM690.4,428.7a3.0,3.4 17 1,0 5.7,1.8a3.0,3.4 17 1,0 -5.7,-1.8zM706.5,425.2a3.5,3.3 -11 1,0 7.0,-1.3a3.5,3.3 -11 1,0 -7.0,1.3zM714.0,425.6a3.5,2.1 -20 1,0 6.6,-2.4a3.5,2.1 -20 1,0 -6.6,2.4zM727.8,425.9a4.0,1.9 -18 1,0 7.7,-2.5a4.0,1.9 -18 1,0 -7.7,2.5zM740.7,424.6a2.7,2.2 3 1,0 5.3,0.3a2.7,2.2 3 1,0 -5.3,-0.3zM312.3,436.6a4.7,2.0 15 1,0 9.2,2.4a4.7,2.0 15 1,0 -9.2,-2.4zM345.5,432.2a5.1,2.0 16 1,0 9.8,2.8a5.1,2.0 16 1,0 -9.8,-2.8zM363.9,435.7a5.6,1.6 -6 1,0 11.1,-1.2a5.6,1.6 -6 1,0 -11.1,1.2zM370.3,435.6a4.7,1.9 9 1,0 9.2,1.5a4.7,1.9 9 1,0 -9.2,-1.5zM385.0,433.0a4.1,2.6 6 1,0 8.2,0.9a4.1,2.6 6 1,0 -8.2,-0.9zM395.5,433.2a5.5,2.4 1 1,0 11.0,0.3a5.5,2.4 1 1,0 -11.0,-0.3zM411.4,438.9a5.2,2.6 -6 1,0 10.4,-1.1a5.2,2.6 -6 1,0 -10.4,1.1zM419.5,434.6a3.9,3.3 -13 1,0 7.5,-1.7a3.9,3.3 -13 1,0 -7.5,1.7zM431.2,434.0a4.1,2.7 15 1,0 7.9,2.1a4.1,2.7 15 1,0 -7.9,-2.1zM446.9,432.8a5.0,2.9 21 1,0 9.4,3.7a5.0,2.9 21 1,0 -9.4,-3.7zM454.7,431.9a4.7,3.2 19 1,0 8.9,3.1a4.7,3.2 19 1,0 -8.9,-3.1zM468.8,439.4a4.7,2.2 -33 1,0 7.9,-5.2a4.7,2.2 -33 1,0 -7.9,5.2zM483.0,434.9a4.2,3.2 11 1,0 8.3,1.7a4.2,3.2 11 1,0 -8.3,-1.7zM490.7,435.0a3.8,2.2 -19 1,0 7.3,-2.5a3.8,2.2 -19 1,0 -7.3,2.5zM504.2,439.7a4.3,2.4 -11 1,0 8.4,-1.7a4.3,2.4 -11 1,0 -8.4,1.7zM515.2,435.3a4.1,2.5 -35 1,0 6.8,-4.8a4.1,2.5 -35 1,0 -6.8,4.8zM532.8,434.7a3.7,2.9 16 1,0 7.0,2.1a3.7,2.9 16 1,0 -7.0,-2.1zM544.4,441.3a4.8,3.1 -33 1,0 8.2,-5.2a4.8,3.1 -33 1,0 -8.2,5.2zM567.2,439.6a4.2,2.9 -30 1,0 7.4,-4.2a4.2,2.9 -30 1,0 -7.4,4.2zM579.2,436.6a3.6,3.2 10 1,0 7.2,1.2a3.6,3.2 10 1,0 -7.2,-1.2zM587.8,439.8a4.6,2.4 -8 1,0 9.0,-1.2a4.6,2.4 -8 1,0 -9.0,1.2zM605.2,438.8a3.2,3.1 -8 1,0 6.3,-0.9a3.2,3.1 -8 1,0 -6.3,0.9zM616.5,439.2a3.0,2.4 -3 1,0 6.0,-0.3a3.0,2.4 -3 1,0 -6.0,0.3zM625.7,437.9a5.2,3.3 13 1,0 10.1,2.2a5.2,3.3 13 1,0 -10.1,-2.2zM635.4,433.6a3.8,2.1 2 1,0 7.5,0.2a3.8,2.1 2 1,0 -7.5,-0.2zM647.6,439.0a4.0,3.2 2 1,0 8.0,0.3a4.0,3.2 2 1,0 -8.0,-0.3zM660.4,437.8a4.6,2.6 -10 1,0 9.0,-1.6a4.6,2.6 -10 1,0 -9.0,1.6zM674.9,436.1a4.2,2.1 -20 1,0 7.8,-2.9a4.2,2.1 -20 1,0 -7.8,2.9zM685.9,437.6a3.7,3.2 -31 1,0 6.3,-3.8a3.7,3.2 -31 1,0 -6.3,3.8zM701.1,432.9a4.0,3.0 17 1,0 7.7,2.3a4.0,3.0 17 1,0 -7.7,-2.3zM712.6,433.5a4.0,3.2 -9 1,0 7.9,-1.3a4.0,3.2 -9 1,0 -7.9,1.3zM720.4,440.0a4.1,2.4 -33 1,0 6.9,-4.6a4.1,2.4 -33 1,0 -6.9,4.6zM308.8,447.8a4.7,1.8 -5 1,0 9.4,-0.8a4.7,1.8 -5 1,0 -9.4,0.8zM315.7,446.4a6.1,2.2 -0 1,0 12.3,-0.0a6.1,2.2 -0 1,0 -12.3,0.0zM331.2,447.8a4.5,1.9 5 1,0 9.1,0.8a4.5,1.9 5 1,0 -9.1,-0.8zM340.5,445.6a4.4,2.5 -2 1,0 8.8,-0.3a4.4,2.5 -2 1,0 -8.8,0.3zM357.8,444.0a5.3,2.3 11 1,0 10.5,2.0a5.3,2.3 11 1,0 -10.5,-2.0zM365.8,448.9a5.7,2.5 -4 1,0 11.3,-0.9a5.7,2.5 -4 1,0 -11.3,0.9zM377.6,444.0a6.4,2.1 1 1,0 12.8,0.2a6.4,2.1 1 1,0 -12.8,-0.2zM405.1,446.8a4.2,2.4 -0 1,0 8.4,-0.0a4.2,2.4 -0 1,0 -8.4,0.0zM427.7,445.2a3.4,2.9 -33 1,0 5.7,-3.8a3.4,2.9 -33 1,0 -5.7,3.8zM443.3,447.0a3.8,2.0 7 1,0 7.6,0.9a3.8,2.0 7 1,0 -7.6,-0.9zM448.1,450.1a4.8,3.1 -22 1,0 9.0,-3.7a4.8,3.1 -22 1,0 -9.0,3.7zM460.9,448.2a4.5,2.2 -9 1,0 8.9,-1.3a4.5,2.2 -9 1,0 -8.9,1.3zM477.4,447.7a4.8,2.4 -4 1,0 9.5,-0.6a4.8,2.4 -4 1,0 -9.5,0.6zM485.8,449.3a4.7,2.2 -22 1,0 8.7,-3.5a4.7,2.2 -22 1,0 -8.7,3.5zM496.0,446.9a4.4,2.6 17 1,0 8.4,2.6a4.4,2.6 17 1,0 -8.4,-2.6zM512.2,442.6a4.0,3.0 -2 1,0 7.9,-0.3a4.0,3.0 -2 1,0 -7.9,0.3zM522.8,449.7a3.6,2.7 -27 1,0 6.5,-3.3a3.6,2.7 -27 1,0 -6.5,3.3zM534.1,449.2a4.1,3.1 -34 1,0 6.8,-4.5a4.1,3.1 -34 1,0 -6.8,4.5zM545.9,448.6a4.8,3.1 -37 1,0 7.7,-5.9a4.8,3.1 -37 1,0 -7.7,5.9zM561.2,447.0a3.7,2.1 -11 1,0 7.2,-1.5a3.7,2.1 -11 1,0 -7.2,1.5zM570.2,445.6a3.7,3.1 -18 1,0 7.0,-2.3a3.7,3.1 -18 1,0 -7.0,2.3zM586.0,444.3a4.6,2.0 -15 1,0 8.9,-2.3a4.6,2.0 -15 1,0 -8.9,2.3zM594.0,441.7a3.5,2.0 24 1,0 6.4,2.9a3.5,2.0 24 1,0 -6.4,-2.9zM606.0,446.2a4.4,2.7 -28 1,0 7.7,-4.2a4.4,2.7 -28 1,0 -7.7,4.2zM620.2,442.2a4.7,2.8 17 1,0 8.9,2.8a4.7,2.8 17 1,0 -8.9,-2.8zM631.2,446.0a3.7,2.2 -1 1,0 7.4,-0.1a3.7,2.2 -1 1,0 -7.4,0.1zM647.5,445.0a4.3,2.5 22 1,0 7.9,3.2a4.3,2.5 22 1,0 -7.9,-3.2zM658.3,443.6a3.3,2.5 19 1,0 6.3,2.1a3.3,2.5 19 1,0 -6.3,-2.1zM669.9,450.4a3.3,2.9 -39 1,0 5.1,-4.1a3.3,2.9 -39 1,0 -5.1,4.1zM683.7,450.9a4.6,2.5 -36 1,0 7.5,-5.4a4.6,2.5 -36 1,0 -7.5,5.4zM688.5,446.8a4.8,2.2 -20 1,0 9.0,-3.2a4.8,2.2 -20 1,0 -9.0,3.2zM701.5,446.2a3.8,3.0 12 1,0 7.5,1.6a3.8,3.0 12 1,0 -7.5,-1.6zM713.7,442.6a5.0,2.2 9 1,0 10.0,1.5a5.0,2.2 9 1,0 -10.0,-1.5zM724.4,445.7a4.4,2.7 -32 1,0 7.4,-4.6a4.4,2.7 -32 1,0 -7.4,4.6zM313.4,454.0a5.8,1.6 10 1,0 11.4,2.0a5.8,1.6 10 1,0 -11.4,-2.0zM325.7,457.3a5.1,1.8 6 1,0 10.2,1.1a5.1,1.8 6 1,0 -10.2,-1.1zM336.9,452.7a5.3,1.8 -1 1,0 10.6,-0.2a5.3,1.8 -1 1,0 -10.6,0.2zM349.9,453.7a5.0,2.1 -8 1,0 9.8,-1.4a5.0,2.1 -8 1,0 -9.8,1.4zM369.3,451.9a6.1,2.1 9 1,0 12.1,2.0a6.1,2.1 9 1,0 -12.1,-2.0zM383.4,454.6a4.6,1.7 -3 1,0 9.2,-0.5a4.6,1.7 -3 1,0 -9.2,0.5zM397.7,455.4a4.8,1.7 15 1,0 9.3,2.5a4.8,1.7 15 1,0 -9.3,-2.5zM408.1,453.2a5.2,2.5 -3 1,0 10.4,-0.5a5.2,2.5 -3 1,0 -10.4,0.5zM420.6,452.6a3.1,2.8 -9 1,0 6.1,-1.0a3.1,2.8 -9 1,0 -6.1,1.0zM438.2,458.7a3.4,3.3 -30 1,0 5.9,-3.4a3.4,3.3 -30 1,0 -5.9,3.4zM448.8,457.8a3.7,2.2 -32 1,0 6.2,-3.9a3.7,2.2 -32 1,0 -6.2,3.9zM455.0,452.8a4.0,2.9 19 1,0 7.6,2.7a4.0,2.9 19 1,0 -7.6,-2.7zM483.4,455.7a3.9,2.8 -37 1,0 6.2,-4.7a3.9,2.8 -37 1,0 -6.2,4.7zM496.6,454.4a3.9,2.5 7 1,0 7.7,1.0a3.9,2.5 7 1,0 -7.7,-1.0zM506.3,456.1a3.4,3.2 -25 1,0 6.2,-2.9a3.4,3.2 -25 1,0 -6.2,2.9zM527.6,457.3a3.2,2.0 0 1,0 6.5,0.0a3.2,2.0 0 1,0 -6.5,-0.0zM543.9,456.7a3.4,3.2 12 1,0 6.7,1.4a3.4,3.2 12 1,0 -6.7,-1.4zM551.0,453.3a3.3,3.0 12 1,0 6.4,1.4a3.3,3.0 12 1,0 -6.4,-1.4zM593.3,456.0a3.4,2.2 -27 1,0 6.1,-3.2a3.4,2.2 -27 1,0 -6.1,3.2zM602.2,457.2a4.6,2.2 2 1,0 9.2,0.4a4.6,2.2 2 1,0 -9.2,-0.4zM610.9,452.8a4.6,2.1 -8 1,0 9.1,-1.3a4.6,2.1 -8 1,0 -9.1,1.3zM628.0,455.3a5.0,3.1 -12 1,0 9.7,-2.1a5.0,3.1 -12 1,0 -9.7,2.1zM638.8,456.2a4.9,3.1 -2 1,0 9.8,-0.3a4.9,3.1 -2 1,0 -9.8,0.3zM647.0,455.6a4.9,3.3 18 1,0 9.3,3.0a4.9,3.3 18 1,0 -9.3,-3.0zM658.5,455.0a4.5,2.3 -35 1,0 7.4,-5.2a4.5,2.3 -35 1,0 -7.4,5.2zM670.9,455.9a5.0,2.0 -33 1,0 8.5,-5.4a5.0,2.0 -33 1,0 -8.5,5.4zM712.2,460.2a4.4,2.3 -38 1,0 6.9,-5.4a4.4,2.3 -38 1,0 -6.9,5.4zM737.4,454.7a3.2,2.6 -29 1,0 5.6,-3.2a3.2,2.6 -29 1,0 -5.6,3.2zM328.2,466.4a5.4,2.0 -3 1,0 10.8,-0.5a5.4,2.0 -3 1,0 -10.8,0.5zM346.3,462.6a5.2,2.1 6 1,0 10.4,1.1a5.2,2.1 6 1,0 -10.4,-1.1zM354.6,465.4a4.2,2.4 18 1,0 8.1,2.6a4.2,2.4 18 1,0 -8.1,-2.6zM365.2,467.2a4.5,2.4 -0 1,0 9.1,-0.0a4.5,2.4 -0 1,0 -9.1,0.0zM376.6,464.9a4.5,2.4 3 1,0 9.0,0.5a4.5,2.4 3 1,0 -9.0,-0.5zM394.2,461.0a4.5,2.0 9 1,0 8.9,1.4a4.5,2.0 9 1,0 -8.9,-1.4zM405.4,462.2a4.3,2.0 9 1,0 8.6,1.4a4.3,2.0 9 1,0 -8.6,-1.4zM414.3,463.7a5.4,1.9 1 1,0 10.8,0.1a5.4,1.9 1 1,0 -10.8,-0.1zM428.3,462.5a3.2,2.1 16 1,0 6.2,1.8a3.2,2.1 16 1,0 -6.2,-1.8zM439.1,460.8a4.2,3.2 22 1,0 7.7,3.1a4.2,3.2 22 1,0 -7.7,-3.1zM454.6,464.0a4.9,2.5 16 1,0 9.4,2.7a4.9,2.5 16 1,0 -9.4,-2.7zM464.3,466.5a4.4,3.0 4 1,0 8.8,0.6a4.4,3.0 4 1,0 -8.8,-0.6zM473.9,466.8a4.6,2.1 -1 1,0 9.2,-0.2a4.6,2.1 -1 1,0 -9.2,0.2zM486.9,465.3a3.4,2.4 -26 1,0 6.1,-3.0a3.4,2.4 -26 1,0 -6.1,3.0zM508.6,462.6a4.2,3.1 10 1,0 8.2,1.5a4.2,3.1 10 1,0 -8.2,-1.5zM521.2,467.2a3.7,2.3 -19 1,0 7.1,-2.4a3.7,2.3 -19 1,0 -7.1,2.4zM538.4,466.6a3.5,2.3 -3 1,0 6.9,-0.3a3.5,2.3 -3 1,0 -6.9,0.3zM548.3,462.0a4.6,3.0 10 1,0 9.0,1.6a4.6,3.0 10 1,0 -9.0,-1.6zM561.8,467.3a4.6,3.1 -14 1,0 8.9,-2.3a4.6,3.1 -14 1,0 -8.9,2.3zM575.6,467.1a3.3,2.4 -0 1,0 6.6,-0.0a3.3,2.4 -0 1,0 -6.6,0.0zM584.4,467.7a3.4,2.9 -30 1,0 6.0,-3.4a3.4,2.9 -30 1,0 -6.0,3.4zM609.0,465.6a5.1,3.1 -34 1,0 8.4,-5.8a5.1,3.1 -34 1,0 -8.4,5.8zM624.1,463.7a3.3,3.2 6 1,0 6.6,0.7a3.3,3.2 6 1,0 -6.6,-0.7zM635.5,466.6a3.7,2.1 3 1,0 7.5,0.4a3.7,2.1 3 1,0 -7.5,-0.4zM642.6,469.6a4.5,2.4 -30 1,0 7.9,-4.6a4.5,2.4 -30 1,0 -7.9,4.6zM653.8,464.3a3.3,2.6 -24 1,0 6.1,-2.7a3.3,2.6 -24 1,0 -6.1,2.7zM667.7,461.6a4.7,2.9 5 1,0 9.4,0.9a4.7,2.9 5 1,0 -9.4,-0.9zM678.3,465.9a3.3,2.6 -7 1,0 6.6,-0.8a3.3,2.6 -7 1,0 -6.6,0.8zM691.7,467.9a3.6,2.8 -32 1,0 6.1,-3.8a3.6,2.8 -32 1,0 -6.1,3.8zM701.5,463.1a3.9,2.8 23 1,0 7.1,3.0a3.9,2.8 23 1,0 -7.1,-3.0zM717.2,463.3a4.3,3.1 16 1,0 8.2,2.3a4.3,3.1 16 1,0 -8.2,-2.3zM727.2,467.9a3.0,2.4 -24 1,0 5.5,-2.4a3.0,2.4 -24 1,0 -5.5,2.4zM335.6,476.8a5.5,2.2 3 1,0 10.9,0.5a5.5,2.2 3 1,0 -10.9,-0.5zM345.6,476.0a5.6,2.2 7 1,0 11.1,1.4a5.6,2.2 7 1,0 -11.1,-1.4zM374.2,474.1a4.1,2.6 12 1,0 8.0,1.8a4.1,2.6 12 1,0 -8.0,-1.8zM386.3,475.3a4.9,2.5 17 1,0 9.3,2.9a4.9,2.5 17 1,0 -9.3,-2.9zM397.0,473.3a4.7,2.0 3 1,0 9.3,0.5a4.7,2.0 3 1,0 -9.3,-0.5zM410.6,477.0a5.6,1.8 -0 1,0 11.1,-0.0a5.6,1.8 -0 1,0 -11.1,0.0zM419.3,474.8a4.8,2.3 -6 1,0 9.6,-1.0a4.8,2.3 -6 1,0 -9.6,1.0zM435.1,476.8a3.3,2.5 -12 1,0 6.4,-1.4a3.3,2.5 -12 1,0 -6.4,1.4zM443.8,474.8a3.8,2.4 12 1,0 7.5,1.6a3.8,2.4 12 1,0 -7.5,-1.6zM461.1,476.0a4.7,2.5 7 1,0 9.3,1.2a4.7,2.5 7 1,0 -9.3,-1.2zM466.0,474.5a4.3,3.3 -19 1,0 8.1,-2.8a4.3,3.3 -19 1,0 -8.1,2.8zM481.0,473.4a3.8,3.1 -21 1,0 7.1,-2.7a3.8,3.1 -21 1,0 -7.1,2.7zM495.4,476.8a3.0,2.0 -21 1,0 5.6,-2.2a3.0,2.0 -21 1,0 -5.6,2.2zM507.3,476.1a4.4,3.2 1 1,0 8.8,0.2a4.4,3.2 1 1,0 -8.8,-0.2zM520.4,472.1a3.7,2.8 -1 1,0 7.4,-0.2a3.7,2.8 -1 1,0 -7.4,0.2zM526.9,475.8a4.3,2.1 -25 1,0 7.9,-3.6a4.3,2.1 -25 1,0 -7.9,3.6zM545.7,470.8a3.1,3.2 16 1,0 5.9,1.8a3.1,3.2 16 1,0 -5.9,-1.8zM554.3,470.3a4.2,2.7 15 1,0 8.1,2.1a4.2,2.7 15 1,0 -8.1,-2.1zM590.8,476.5a3.3,2.2 -23 1,0 6.1,-2.6a3.3,2.2 -23 1,0 -6.1,2.6zM601.3,477.7a3.1,2.8 -30 1,0 5.4,-3.2a3.1,2.8 -30 1,0 -5.4,3.2zM615.4,476.1a3.6,2.7 -2 1,0 7.2,-0.2a3.6,2.7 -2 1,0 -7.2,0.2zM628.2,473.0a4.6,2.3 -5 1,0 9.1,-0.7a4.6,2.3 -5 1,0 -9.1,0.7zM635.6,475.4a4.6,2.2 -34 1,0 7.6,-5.2a4.6,2.2 -34 1,0 -7.6,5.2zM652.2,477.8a4.0,2.8 -33 1,0 6.8,-4.3a4.0,2.8 -33 1,0 -6.8,4.3zM661.9,475.0a4.4,2.3 3 1,0 8.7,0.5a4.4,2.3 3 1,0 -8.7,-0.5zM683.3,476.0a4.8,3.2 -0 1,0 9.7,-0.1a4.8,3.2 -0 1,0 -9.7,0.1zM696.3,476.4a4.2,2.9 -36 1,0 6.8,-4.9a4.2,2.9 -36 1,0 -6.8,4.9zM706.7,472.5a4.3,3.1 -11 1,0 8.5,-1.6a4.3,3.1 -11 1,0 -8.5,1.6zM725.9,472.3a3.1,3.1 -22 1,0 5.7,-2.3a3.1,3.1 -22 1,0 -5.7,2.3zM323.6,483.6a4.4,1.6 -7 1,0 8.7,-1.0a4.4,1.6 -7 1,0 -8.7,1.0zM331.2,485.1a4.6,2.3 3 1,0 9.2,0.5a4.6,2.3 3 1,0 -9.2,-0.5zM354.6,480.2a4.6,1.6 4 1,0 9.3,0.6a4.6,1.6 4 1,0 -9.3,-0.6zM366.7,479.9a4.7,1.8 16 1,0 9.1,2.6a4.7,1.8 16 1,0 -9.1,-2.6zM380.1,480.7a6.4,2.5 -2 1,0 12.7,-0.5a6.4,2.5 -2 1,0 -12.7,0.5zM393.8,481.0a5.1,2.6 0 1,0 10.3,0.1a5.1,2.6 0 1,0 -10.3,-0.1zM400.8,485.8a5.5,1.6 -4 1,0 11.0,-0.7a5.5,1.6 -4 1,0 -11.0,0.7zM415.5,479.7a4.4,2.4 12 1,0 8.5,1.8a4.4,2.4 12 1,0 -8.5,-1.8zM431.4,481.5a3.9,2.9 10 1,0 7.8,1.3a3.9,2.9 10 1,0 -7.8,-1.3zM437.3,482.1a4.8,3.2 -8 1,0 9.5,-1.3a4.8,3.2 -8 1,0 -9.5,1.3zM467.4,485.6a3.3,2.7 -24 1,0 6.0,-2.7a3.3,2.7 -24 1,0 -6.0,2.7zM479.3,482.4a3.0,2.6 -3 1,0 6.1,-0.3a3.0,2.6 -3 1,0 -6.1,0.3zM491.4,482.4a3.4,2.3 16 1,0 6.5,1.8a3.4,2.3 16 1,0 -6.5,-1.8zM501.2,484.2a4.4,1.9 11 1,0 8.6,1.6a4.4,1.9 11 1,0 -8.6,-1.6zM514.7,485.3a4.8,3.0 7 1,0 9.6,1.1a4.8,3.0 7 1,0 -9.6,-1.1zM523.6,484.6a4.8,3.0 -2 1,0 9.7,-0.4a4.8,3.0 -2 1,0 -9.7,0.4zM532.9,482.4a3.8,2.7 -8 1,0 7.5,-1.0a3.8,2.7 -8 1,0 -7.5,1.0zM550.3,481.9a3.2,2.5 -25 1,0 5.8,-2.7a3.2,2.5 -25 1,0 -5.8,2.7zM572.7,487.3a4.9,2.1 -33 1,0 8.3,-5.3a4.9,2.1 -33 1,0 -8.3,5.3zM586.1,482.9a3.7,3.3 13 1,0 7.2,1.7a3.7,3.3 13 1,0 -7.2,-1.7zM595.9,485.5a3.8,2.1 -2 1,0 7.7,-0.3a3.8,2.1 -2 1,0 -7.7,0.3zM609.0,481.4a5.1,2.7 -6 1,0 10.1,-1.0a5.1,2.7 -6 1,0 -10.1,1.0zM620.0,483.7a4.2,3.0 -8 1,0 8.3,-1.2a4.2,3.0 -8 1,0 -8.3,1.2zM632.5,483.3a4.6,2.2 25 1,0 8.4,3.8a4.6,2.2 25 1,0 -8.4,-3.8zM641.7,486.1a4.8,2.9 -2 1,0 9.5,-0.3a4.8,2.9 -2 1,0 -9.5,0.3zM653.7,483.8a4.1,2.9 1 1,0 8.3,0.2a4.1,2.9 1 1,0 -8.3,-0.2zM671.0,483.7a4.6,2.2 1 1,0 9.2,0.1a4.6,2.2 1 1,0 -9.2,-0.1zM681.0,483.4a4.8,2.4 9 1,0 9.5,1.4a4.8,2.4 9 1,0 -9.5,-1.4zM693.9,483.2a4.8,2.7 -3 1,0 9.7,-0.6a4.8,2.7 -3 1,0 -9.7,0.6zM707.5,482.9a3.7,3.2 -22 1,0 6.8,-2.8a3.7,3.2 -22 1,0 -6.8,2.8zM714.7,483.9a4.7,3.2 -9 1,0 9.3,-1.4a4.7,3.2 -9 1,0 -9.3,1.4zM725.3,486.3a4.6,2.7 -14 1,0 8.9,-2.1a4.6,2.7 -14 1,0 -8.9,2.1zM327.0,494.5a6.0,2.5 -7 1,0 11.8,-1.4a6.0,2.5 -7 1,0 -11.8,1.4zM338.8,490.5a5.8,2.2 -6 1,0 11.6,-1.2a5.8,2.2 -6 1,0 -11.6,1.2zM347.0,494.4a4.9,1.6 17 1,0 9.4,2.9a4.9,1.6 17 1,0 -9.4,-2.9zM362.5,494.7a6.1,1.7 4 1,0 12.1,0.9a6.1,1.7 4 1,0 -12.1,-0.9zM368.8,491.5a6.2,2.4 -7 1,0 12.4,-1.5a6.2,2.4 -7 1,0 -12.4,1.5zM381.8,492.6a4.7,2.1 8 1,0 9.4,1.3a4.7,2.1 8 1,0 -9.4,-1.3zM393.4,491.0a5.7,2.3 15 1,0 11.0,3.0a5.7,2.3 15 1,0 -11.0,-3.0zM405.8,489.7a5.4,2.2 15 1,0 10.4,2.8a5.4,2.2 15 1,0 -10.4,-2.8zM422.0,492.0a3.0,3.4 12 1,0 5.9,1.3a3.0,3.4 12 1,0 -5.9,-1.3zM437.2,493.3a3.6,2.2 -15 1,0 6.9,-1.9a3.6,2.2 -15 1,0 -6.9,1.9zM445.2,490.6a4.7,2.8 17 1,0 9.1,2.7a4.7,2.8 17 1,0 -9.1,-2.7zM456.3,494.1a3.1,2.2 -8 1,0 6.2,-0.9a3.1,2.2 -8 1,0 -6.2,0.9zM470.7,491.8a4.7,2.8 -0 1,0 9.3,-0.0a4.7,2.8 -0 1,0 -9.3,0.0zM486.5,496.5a3.0,2.5 -11 1,0 5.9,-1.1a3.0,2.5 -11 1,0 -5.9,1.1zM490.3,494.4a5.0,2.4 8 1,0 9.9,1.4a5.0,2.4 8 1,0 -9.9,-1.4zM505.0,497.0a3.7,2.6 -14 1,0 7.2,-1.8a3.7,2.6 -14 1,0 -7.2,1.8zM525.7,492.7a4.4,2.5 -9 1,0 8.6,-1.3a4.4,2.5 -9 1,0 -8.6,1.3zM545.4,493.7a3.1,2.3 -19 1,0 5.9,-2.1a3.1,2.3 -19 1,0 -5.9,2.1zM553.6,492.7a4.2,3.1 1 1,0 8.3,0.1a4.2,3.1 1 1,0 -8.3,-0.1zM562.6,492.9a4.3,2.8 -16 1,0 8.3,-2.4a4.3,2.8 -16 1,0 -8.3,2.4zM578.7,494.1a3.9,2.0 -1 1,0 7.9,-0.1a3.9,2.0 -1 1,0 -7.9,0.1zM592.2,495.5a4.6,3.1 3 1,0 9.2,0.5a4.6,3.1 3 1,0 -9.2,-0.5zM605.1,489.7a3.3,2.1 21 1,0 6.1,2.3a3.3,2.1 21 1,0 -6.1,-2.3zM616.5,492.3a3.7,2.2 3 1,0 7.3,0.4a3.7,2.2 3 1,0 -7.3,-0.4zM624.4,497.2a3.3,2.2 -36 1,0 5.3,-3.9a3.3,2.2 -36 1,0 -5.3,3.9zM640.8,494.0a4.4,3.4 -3 1,0 8.7,-0.4a4.4,3.4 -3 1,0 -8.7,0.4zM651.3,492.0a4.7,2.9 -15 1,0 9.2,-2.5a4.7,2.9 -15 1,0 -9.2,2.5zM664.8,495.2a4.2,2.2 -38 1,0 6.6,-5.2a4.2,2.2 -38 1,0 -6.6,5.2zM675.8,491.3a3.3,2.5 19 1,0 6.2,2.1a3.3,2.5 19 1,0 -6.2,-2.1zM697.9,491.8a3.2,3.3 -14 1,0 6.1,-1.5a3.2,3.3 -14 1,0 -6.1,1.5zM707.1,493.7a4.8,3.4 -24 1,0 8.7,-3.9a4.8,3.4 -24 1,0 -8.7,3.9zM721.0,496.7a3.4,3.0 -21 1,0 6.4,-2.4a3.4,3.0 -21 1,0 -6.4,2.4zM734.5,490.7a4.3,2.6 -8 1,0 8.6,-1.2a4.3,2.6 -8 1,0 -8.6,1.2zM307.4,503.5a6.3,1.7 7 1,0 12.5,1.6a6.3,1.7 7 1,0 -12.5,-1.6zM321.9,501.1a5.9,2.3 15 1,0 11.5,3.0a5.9,2.3 15 1,0 -11.5,-3.0zM334.5,504.8a5.0,1.8 8 1,0 10.0,1.3a5.0,1.8 8 1,0 -10.0,-1.3zM343.8,501.3a6.4,2.4 -4 1,0 12.7,-0.9a6.4,2.4 -4 1,0 -12.7,0.9zM367.8,501.0a5.2,2.0 4 1,0 10.4,0.7a5.2,2.0 4 1,0 -10.4,-0.7zM383.3,504.4a4.6,2.0 7 1,0 9.0,1.2a4.6,2.0 7 1,0 -9.0,-1.2zM391.9,503.0a4.9,2.3 7 1,0 9.8,1.2a4.9,2.3 7 1,0 -9.8,-1.2zM399.0,503.7a6.4,2.4 16 1,0 12.4,3.5a6.4,2.4 16 1,0 -12.4,-3.5zM418.9,503.3a4.9,2.4 -14 1,0 9.5,-2.4a4.9,2.4 -14 1,0 -9.5,2.4zM425.7,501.9a4.8,2.4 -20 1,0 9.1,-3.3a4.8,2.4 -20 1,0 -9.1,3.3zM448.5,503.5a4.3,2.4 15 1,0 8.3,2.2a4.3,2.4 15 1,0 -8.3,-2.2zM462.1,503.9a5.1,3.0 -33 1,0 8.7,-5.5a5.1,3.0 -33 1,0 -8.7,5.5zM477.5,505.5a4.4,2.1 -37 1,0 7.1,-5.3a4.4,2.1 -37 1,0 -7.1,5.3zM499.8,502.0a4.9,2.2 4 1,0 9.8,0.7a4.9,2.2 4 1,0 -9.8,-0.7zM511.1,504.6a4.6,2.9 -21 1,0 8.6,-3.2a4.6,2.9 -21 1,0 -8.6,3.2zM521.4,504.7a4.3,2.4 -17 1,0 8.2,-2.4a4.3,2.4 -17 1,0 -8.2,2.4zM536.3,504.2a4.0,2.8 -39 1,0 6.2,-5.1a4.0,2.8 -39 1,0 -6.2,5.1zM559.2,501.2a4.4,2.7 -18 1,0 8.4,-2.8a4.4,2.7 -18 1,0 -8.4,2.8zM576.4,499.4a3.8,3.2 20 1,0 7.1,2.6a3.8,3.2 20 1,0 -7.1,-2.6zM586.7,505.1a3.2,2.9 -33 1,0 5.4,-3.6a3.2,2.9 -33 1,0 -5.4,3.6zM597.9,502.3a5.0,3.3 -23 1,0 9.3,-3.9a5.0,3.3 -23 1,0 -9.3,3.9zM607.1,506.7a5.0,2.5 -30 1,0 8.7,-5.0a5.0,2.5 -30 1,0 -8.7,5.0zM623.8,500.9a3.7,2.4 -3 1,0 7.4,-0.4a3.7,2.4 -3 1,0 -7.4,0.4zM629.6,502.9a4.6,2.3 -1 1,0 9.2,-0.1a4.6,2.3 -1 1,0 -9.2,0.1zM647.2,504.6a3.9,2.3 -39 1,0 6.0,-4.9a3.9,2.3 -39 1,0 -6.0,4.9zM652.6,500.2a4.5,3.0 -10 1,0 8.9,-1.5a4.5,3.0 -10 1,0 -8.9,1.5zM667.3,500.5a4.2,2.9 -12 1,0 8.3,-1.8a4.2,2.9 -12 1,0 -8.3,1.8zM676.6,508.0a5.0,2.2 -36 1,0 8.2,-5.9a5.0,2.2 -36 1,0 -8.2,5.9zM691.6,499.6a3.9,3.1 17 1,0 7.5,2.3a3.9,3.1 17 1,0 -7.5,-2.3zM707.3,501.7a3.6,3.1 -5 1,0 7.1,-0.7a3.6,3.1 -5 1,0 -7.1,0.7zM715.6,501.5a3.3,2.4 25 1,0 5.9,2.7a3.3,2.4 25 1,0 -5.9,-2.7zM724.4,504.0a3.9,2.8 13 1,0 7.7,1.8a3.9,2.8 13 1,0 -7.7,-1.8zM308.9,509.7a6.1,2.4 -6 1,0 12.2,-1.3a6.1,2.4 -6 1,0 -12.2,1.3zM321.7,510.0a4.6,1.9 -0 1,0 9.2,-0.0a4.6,1.9 -0 1,0 -9.2,0.0zM352.0,511.8a4.4,2.0 -3 1,0 8.8,-0.5a4.4,2.0 -3 1,0 -8.8,0.5zM364.0,511.5a4.9,1.7 1 1,0 9.9,0.1a4.9,1.7 1 1,0 -9.9,-0.1zM370.9,513.2a4.6,2.3 -2 1,0 9.2,-0.3a4.6,2.3 -2 1,0 -9.2,0.3zM387.6,512.0a6.3,2.5 15 1,0 12.1,3.3a6.3,2.5 15 1,0 -12.1,-3.3zM398.5,514.5a5.0,1.9 8 1,0 9.9,1.3a5.0,1.9 8 1,0 -9.9,-1.3zM411.4,512.3a6.0,2.2 4 1,0 12.0,0.9a6.0,2.2 4 1,0 -12.0,-0.9zM420.3,511.3a3.5,2.6 -5 1,0 6.9,-0.6a3.5,2.6 -5 1,0 -6.9,0.6zM434.4,514.4a3.3,2.2 6 1,0 6.5,0.7a3.3,2.2 6 1,0 -6.5,-0.7zM447.6,511.1a5.0,3.3 23 1,0 9.1,3.9a5.0,3.3 23 1,0 -9.1,-3.9zM471.2,517.3a4.2,2.2 -38 1,0 6.6,-5.2a4.2,2.2 -38 1,0 -6.6,5.2zM481.4,509.7a4.5,2.6 19 1,0 8.5,3.0a4.5,2.6 19 1,0 -8.5,-3.0zM490.2,510.3a3.8,2.7 3 1,0 7.6,0.3a3.8,2.7 3 1,0 -7.6,-0.3zM506.6,511.5a3.9,2.7 -18 1,0 7.5,-2.4a3.9,2.7 -18 1,0 -7.5,2.4zM530.3,513.7a3.5,2.6 -26 1,0 6.3,-3.0a3.5,2.6 -26 1,0 -6.3,3.0zM541.2,517.5a4.2,3.2 -37 1,0 6.7,-5.1a4.2,3.2 -37 1,0 -6.7,5.1zM556.8,509.0a4.8,3.2 15 1,0 9.2,2.5a4.8,3.2 15 1,0 -9.2,-2.5zM563.4,508.8a3.9,3.1 23 1,0 7.1,3.1a3.9,3.1 23 1,0 -7.1,-3.1zM579.8,511.0a3.6,2.3 -18 1,0 6.8,-2.2a3.6,2.3 -18 1,0 -6.8,2.2zM586.1,512.8a4.3,2.9 -7 1,0 8.5,-1.0a4.3,2.9 -7 1,0 -8.5,1.0zM600.2,514.3a5.1,3.1 -5 1,0 10.1,-1.0a5.1,3.1 -5 1,0 -10.1,1.0zM612.2,510.4a4.5,2.8 15 1,0 8.7,2.3a4.5,2.8 15 1,0 -8.7,-2.3zM636.9,516.6a4.2,2.1 -39 1,0 6.5,-5.2a4.2,2.1 -39 1,0 -6.5,5.2zM648.8,514.6a3.3,3.2 -7 1,0 6.6,-0.8a3.3,3.2 -7 1,0 -6.6,0.8zM660.3,512.5a3.8,2.3 12 1,0 7.4,1.5a3.8,2.3 12 1,0 -7.4,-1.5zM676.1,510.1a5.2,2.2 16 1,0 10.0,2.8a5.2,2.2 16 1,0 -10.0,-2.8zM688.8,509.3a4.9,2.8 1 1,0 9.8,0.2a4.9,2.8 1 1,0 -9.8,-0.2zM698.1,509.1a4.5,2.7 17 1,0 8.6,2.6a4.5,2.7 17 1,0 -8.6,-2.6zM710.0,509.5a4.1,3.2 -8 1,0 8.1,-1.1a4.1,3.2 -8 1,0 -8.1,1.1zM718.7,515.5a4.7,2.3 -35 1,0 7.6,-5.4a4.7,2.3 -35 1,0 -7.6,5.4zM734.4,511.3a3.0,2.6 5 1,0 6.0,0.5a3.0,2.6 5 1,0 -6.0,-0.5zM328.8,522.1a5.3,2.1 17 1,0 10.0,3.1a5.3,2.1 17 1,0 -10.0,-3.1zM338.5,524.0a5.9,2.0 -3 1,0 11.8,-0.7a5.9,2.0 -3 1,0 -11.8,0.7zM352.6,520.2a5.1,2.2 -2 1,0 10.2,-0.4a5.1,2.2 -2 1,0 -10.2,0.4zM366.8,521.0a6.3,2.2 -4 1,0 12.6,-0.8a6.3,2.2 -4 1,0 -12.6,0.8zM377.0,521.2a5.2,1.6 -1 1,0 10.3,-0.2a5.2,1.6 -1 1,0 -10.3,0.2zM390.3,519.5a5.1,2.0 11 1,0 10.0,1.9a5.1,2.0 11 1,0 -10.0,-1.9zM405.1,519.6a5.7,2.1 6 1,0 11.4,1.1a5.7,2.1 6 1,0 -11.4,-1.1zM418.7,523.8a5.0,2.6 5 1,0 9.9,0.8a5.0,2.6 5 1,0 -9.9,-0.8zM425.7,523.7a4.0,2.4 -1 1,0 8.0,-0.2a4.0,2.4 -1 1,0 -8.0,0.2zM442.6,521.2a3.3,3.3 -15 1,0 6.4,-1.8a3.3,3.3 -15 1,0 -6.4,1.8zM450.3,524.3a4.7,3.0 4 1,0 9.5,0.7a4.7,3.0 4 1,0 -9.5,-0.7zM460.8,527.2a4.9,2.9 -35 1,0 8.0,-5.5a4.9,2.9 -35 1,0 -8.0,5.5zM476.5,520.2a4.2,2.0 -9 1,0 8.4,-1.3a4.2,2.0 -9 1,0 -8.4,1.3zM489.3,520.4a4.9,2.1 -1 1,0 9.8,-0.2a4.9,2.1 -1 1,0 -9.8,0.2zM502.4,520.9a3.2,3.1 -4 1,0 6.3,-0.4a3.2,3.1 -4 1,0 -6.3,0.4zM510.6,522.7a4.8,3.1 -20 1,0 9.0,-3.2a4.8,3.1 -20 1,0 -9.0,3.2zM525.8,516.5a4.9,3.0 22 1,0 9.1,3.7a4.9,3.0 22 1,0 -9.1,-3.7zM570.8,521.5a3.3,2.6 -13 1,0 6.3,-1.4a3.3,2.6 -13 1,0 -6.3,1.4zM582.0,522.7a3.9,2.4 -28 1,0 6.9,-3.6a3.9,2.4 -28 1,0 -6.9,3.6zM599.5,521.2a4.5,3.3 14 1,0 8.7,2.2a4.5,3.3 14 1,0 -8.7,-2.2zM610.4,521.9a5.0,3.4 12 1,0 9.8,2.1a5.0,3.4 12 1,0 -9.8,-2.1zM617.3,519.9a3.3,3.1 21 1,0 6.1,2.4a3.3,3.1 21 1,0 -6.1,-2.4zM634.2,524.9a3.4,2.4 -8 1,0 6.7,-0.9a3.4,2.4 -8 1,0 -6.7,0.9zM643.3,520.5a3.7,3.2 12 1,0 7.2,1.5a3.7,3.2 12 1,0 -7.2,-1.5zM653.4,521.3a3.4,2.9 15 1,0 6.6,1.8a3.4,2.9 15 1,0 -6.6,-1.8zM667.4,519.6a3.6,3.4 0 1,0 7.1,0.0a3.6,3.4 0 1,0 -7.1,-0.0zM677.6,517.9a3.7,2.4 19 1,0 7.0,2.5a3.7,2.4 19 1,0 -7.0,-2.5zM692.2,521.2a4.2,2.6 -7 1,0 8.3,-1.1a4.2,2.6 -7 1,0 -8.3,1.1zM707.5,520.0a4.4,3.3 7 1,0 8.8,1.0a4.4,3.3 7 1,0 -8.8,-1.0zM717.4,523.9a4.5,2.8 5 1,0 9.0,0.8a4.5,2.8 5 1,0 -9.0,-0.8zM727.6,522.9a3.3,2.4 15 1,0 6.3,1.8a3.3,2.4 15 1,0 -6.3,-1.8zM350.5,528.1a4.6,1.6 -3 1,0 9.1,-0.5a4.6,1.6 -3 1,0 -9.1,0.5zM358.0,528.5a4.5,2.4 14 1,0 8.7,2.2a4.5,2.4 14 1,0 -8.7,-2.2zM370.9,529.5a5.4,1.6 7 1,0 10.7,1.3a5.4,1.6 7 1,0 -10.7,-1.3zM382.1,531.5a5.5,2.1 -2 1,0 11.0,-0.3a5.5,2.1 -2 1,0 -11.0,0.3zM400.3,529.3a4.1,2.4 6 1,0 8.2,0.9a4.1,2.4 6 1,0 -8.2,-0.9zM407.1,531.1a5.4,2.6 -7 1,0 10.7,-1.3a5.4,2.6 -7 1,0 -10.7,1.3zM419.0,533.2a4.3,3.4 2 1,0 8.6,0.4a4.3,3.4 2 1,0 -8.6,-0.4zM431.1,529.8a4.6,2.6 23 1,0 8.4,3.6a4.6,2.6 23 1,0 -8.4,-3.6zM442.6,529.9a3.5,2.2 -4 1,0 7.1,-0.5a3.5,2.2 -4 1,0 -7.1,0.5zM460.8,527.6a3.6,3.2 3 1,0 7.2,0.4a3.6,3.2 3 1,0 -7.2,-0.4zM465.9,534.6a4.7,3.3 -11 1,0 9.3,-1.8a4.7,3.3 -11 1,0 -9.3,1.8zM517.3,533.1a4.9,3.1 -2 1,0 9.7,-0.4a4.9,3.1 -2 1,0 -9.7,0.4zM529.3,530.8a3.5,2.3 5 1,0 6.9,0.5a3.5,2.3 5 1,0 -6.9,-0.5zM540.5,529.2a4.4,2.7 -8 1,0 8.7,-1.2a4.4,2.7 -8 1,0 -8.7,1.2zM569.0,533.7a3.9,3.1 -5 1,0 7.8,-0.7a3.9,3.1 -5 1,0 -7.8,0.7zM575.4,532.1a3.6,2.2 -22 1,0 6.8,-2.7a3.6,2.2 -22 1,0 -6.8,2.7zM589.9,533.8a3.6,2.1 -7 1,0 7.2,-0.9a3.6,2.1 -7 1,0 -7.2,0.9zM601.3,526.2a4.7,2.3 21 1,0 8.8,3.3a4.7,2.3 21 1,0 -8.8,-3.3zM623.7,528.0a3.8,2.4 22 1,0 7.0,2.8a3.8,2.4 22 1,0 -7.0,-2.8zM638.9,535.6a3.4,2.8 -39 1,0 5.3,-4.3a3.4,2.8 -39 1,0 -5.3,4.3zM652.0,531.6a3.8,2.4 2 1,0 7.6,0.3a3.8,2.4 2 1,0 -7.6,-0.3zM662.9,533.2a4.1,3.3 -30 1,0 7.1,-4.1a4.1,3.3 -30 1,0 -7.1,4.1zM678.0,531.5a3.3,2.5 -0 1,0 6.6,-0.0a3.3,2.5 -0 1,0 -6.6,0.0zM682.9,534.4a3.8,2.7 -19 1,0 7.2,-2.4a3.8,2.7 -19 1,0 -7.2,2.4zM699.4,528.3a4.0,3.3 -3 1,0 8.0,-0.4a4.0,3.3 -3 1,0 -8.0,0.4zM712.3,528.1a4.5,2.4 11 1,0 8.8,1.7a4.5,2.4 11 1,0 -8.8,-1.7zM721.4,531.8a3.1,2.9 -40 1,0 4.8,-4.0a3.1,2.9 -40 1,0 -4.8,4.0zM733.7,531.2a3.9,2.7 17 1,0 7.4,2.3a3.9,2.7 17 1,0 -7.4,-2.3zM343.8,538.2a4.4,1.7 -5 1,0 8.8,-0.7a4.4,1.7 -5 1,0 -8.8,0.7zM352.5,538.3a4.7,2.4 5 1,0 9.3,0.8a4.7,2.4 5 1,0 -9.3,-0.8zM379.1,537.0a4.0,2.3 12 1,0 7.9,1.6a4.0,2.3 12 1,0 -7.9,-1.6zM394.6,537.8a5.4,1.8 17 1,0 10.2,3.1a5.4,1.8 17 1,0 -10.2,-3.1zM406.8,536.8a4.3,2.0 13 1,0 8.4,2.0a4.3,2.0 13 1,0 -8.4,-2.0zM414.8,538.7a4.2,2.3 -3 1,0 8.4,-0.5a4.2,2.3 -3 1,0 -8.4,0.5zM425.1,542.0a3.6,3.2 -21 1,0 6.8,-2.6a3.6,3.2 -21 1,0 -6.8,2.6zM442.4,542.6a3.0,2.1 -17 1,0 5.8,-1.7a3.0,2.1 -17 1,0 -5.8,1.7zM451.7,539.3a3.2,2.6 -24 1,0 5.9,-2.6a3.2,2.6 -24 1,0 -5.9,2.6zM465.5,542.5a4.7,2.8 -5 1,0 9.4,-0.9a4.7,2.8 -5 1,0 -9.4,0.9zM472.4,541.7a4.4,3.2 21 1,0 8.3,3.1a4.4,3.2 21 1,0 -8.3,-3.1zM487.7,542.7a4.5,2.4 -7 1,0 9.0,-1.1a4.5,2.4 -7 1,0 -9.0,1.1zM503.0,538.8a4.6,3.1 22 1,0 8.6,3.4a4.6,3.1 22 1,0 -8.6,-3.4zM510.4,540.5a3.5,2.9 0 1,0 7.0,0.0a3.5,2.9 0 1,0 -7.0,-0.0zM522.4,540.8a4.6,3.0 -6 1,0 9.1,-1.0a4.6,3.0 -6 1,0 -9.1,1.0zM534.7,538.7a3.0,2.5 20 1,0 5.6,2.0a3.0,2.5 20 1,0 -5.6,-2.0zM551.6,538.2a4.4,2.9 -11 1,0 8.6,-1.7a4.4,2.9 -11 1,0 -8.6,1.7zM560.9,537.9a4.9,2.1 -7 1,0 9.8,-1.2a4.9,2.1 -7 1,0 -9.8,1.2zM577.5,544.5a3.0,2.5 -36 1,0 4.8,-3.5a3.0,2.5 -36 1,0 -4.8,3.5zM586.5,539.5a3.4,2.8 -10 1,0 6.8,-1.2a3.4,2.8 -10 1,0 -6.8,1.2zM592.5,542.7a4.3,3.1 -0 1,0 8.6,-0.0a4.3,3.1 -0 1,0 -8.6,0.0zM608.5,537.0a5.1,2.3 4 1,0 10.3,0.6a5.1,2.3 4 1,0 -10.3,-0.6zM620.2,542.6a3.9,2.0 -12 1,0 7.6,-1.7a3.9,2.0 -12 1,0 -7.6,1.7zM629.1,542.1a5.0,2.0 1 1,0 9.9,0.3a5.0,2.0 1 1,0 -9.9,-0.3zM646.4,537.4a3.7,2.7 25 1,0 6.6,3.1a3.7,2.7 25 1,0 -6.6,-3.1zM657.7,541.3a3.6,2.8 23 1,0 6.6,2.8a3.6,2.8 23 1,0 -6.6,-2.8zM664.9,540.4a4.3,2.8 -7 1,0 8.6,-1.1a4.3,2.8 -7 1,0 -8.6,1.1zM681.1,539.2a4.2,2.5 -7 1,0 8.3,-1.0a4.2,2.5 -7 1,0 -8.3,1.0zM700.5,536.6a4.8,2.5 22 1,0 9.0,3.6a4.8,2.5 22 1,0 -9.0,-3.6zM719.0,543.1a4.1,2.9 -36 1,0 6.7,-4.9a4.1,2.9 -36 1,0 -6.7,4.9zM727.3,544.0a3.4,2.9 -31 1,0 5.8,-3.5a3.4,2.9 -31 1,0 -5.8,3.5zM744.0,537.0a3.3,2.2 10 1,0 6.5,1.2a3.3,2.2 10 1,0 -6.5,-1.2zM325.4,549.0a6.2,2.4 13 1,0 12.0,2.9a6.2,2.4 13 1,0 -12.0,-2.9zM347.5,549.0a4.2,2.0 8 1,0 8.3,1.1a4.2,2.0 8 1,0 -8.3,-1.1zM357.2,550.8a6.1,2.5 -2 1,0 12.2,-0.5a6.1,2.5 -2 1,0 -12.2,0.5zM370.5,551.5a4.4,1.8 1 1,0 8.8,0.1a4.4,1.8 1 1,0 -8.8,-0.1zM386.1,547.5a6.1,1.7 -3 1,0 12.1,-0.7a6.1,1.7 -3 1,0 -12.1,0.7zM425.7,551.4a3.1,2.1 -10 1,0 6.1,-1.0a3.1,2.1 -10 1,0 -6.1,1.0zM431.9,551.2a4.3,2.3 8 1,0 8.4,1.2a4.3,2.3 8 1,0 -8.4,-1.2zM444.7,547.6a3.5,3.0 23 1,0 6.5,2.7a3.5,3.0 23 1,0 -6.5,-2.7zM461.7,550.5a3.0,2.2 23 1,0 5.5,2.3a3.0,2.2 23 1,0 -5.5,-2.3zM474.3,548.7a3.0,2.8 -25 1,0 5.4,-2.5a3.0,2.8 -25 1,0 -5.4,2.5zM485.6,551.5a3.0,2.4 -16 1,0 5.8,-1.6a3.0,2.4 -16 1,0 -5.8,1.6zM516.5,549.6a3.0,3.1 21 1,0 5.6,2.1a3.0,3.1 21 1,0 -5.6,-2.1zM533.9,546.8a3.9,2.0 21 1,0 7.3,2.9a3.9,2.0 21 1,0 -7.3,-2.9zM545.3,549.8a3.8,2.1 -18 1,0 7.2,-2.4a3.8,2.1 -18 1,0 -7.2,2.4zM557.1,551.0a3.8,2.0 -9 1,0 7.5,-1.2a3.8,2.0 -9 1,0 -7.5,1.2zM567.8,549.4a4.2,3.2 6 1,0 8.4,0.9a4.2,3.2 6 1,0 -8.4,-0.9zM579.8,548.0a5.0,3.1 -7 1,0 10.0,-1.3a5.0,3.1 -7 1,0 -10.0,1.3zM591.4,549.7a6.2,2.3 28 1,0 10.9,5.9a6.2,2.3 28 1,0 -10.9,-5.9zM605.5,549.1a4.6,1.6 34 1,0 7.6,5.1a4.6,1.6 34 1,0 -7.6,-5.1zM626.8,550.6a5.0,2.2 29 1,0 8.7,4.8a5.0,2.2 29 1,0 -8.7,-4.8zM651.4,547.0a4.7,3.0 21 1,0 8.7,3.3a4.7,3.0 21 1,0 -8.7,-3.3zM657.6,549.6a6.7,2.2 30 1,0 11.6,6.8a6.7,2.2 30 1,0 -11.6,-6.8zM676.7,550.2a4.8,3.0 -36 1,0 7.8,-5.7a4.8,3.0 -36 1,0 -7.8,5.7zM685.4,548.5a4.9,2.2 22 1,0 9.0,3.7a4.9,2.2 22 1,0 -9.0,-3.7zM696.1,550.7a3.6,2.2 -33 1,0 6.0,-3.9a3.6,2.2 -33 1,0 -6.0,3.9zM708.9,548.7a4.2,2.8 -20 1,0 7.9,-2.8a4.2,2.8 -20 1,0 -7.9,2.8zM386.6,556.0a6.0,1.8 9 1,0 11.9,1.9a6.0,1.8 9 1,0 -11.9,-1.9zM405.8,559.5a5.4,1.6 10 1,0 10.6,1.9a5.4,1.6 10 1,0 -10.6,-1.9zM419.4,560.2a4.6,2.6 -20 1,0 8.7,-3.1a4.6,2.6 -20 1,0 -8.7,3.1zM431.1,564.0a4.8,2.0 -23 1,0 8.7,-3.8a4.8,2.0 -23 1,0 -8.7,3.8zM440.1,557.5a3.1,2.3 14 1,0 6.0,1.5a3.1,2.3 14 1,0 -6.0,-1.5zM449.1,558.2a4.1,3.1 19 1,0 7.8,2.6a4.1,3.1 19 1,0 -7.8,-2.6zM463.9,561.5a4.7,2.6 -15 1,0 9.0,-2.4a4.7,2.6 -15 1,0 -9.0,2.4zM487.1,556.3a3.4,2.6 9 1,0 6.7,1.0a3.4,2.6 9 1,0 -6.7,-1.0zM502.5,560.0a4.5,2.4 -25 1,0 8.2,-3.9a4.5,2.4 -25 1,0 -8.2,3.9zM513.2,556.6a3.8,2.9 2 1,0 7.7,0.2a3.8,2.9 2 1,0 -7.7,-0.2zM525.2,557.7a4.7,2.5 -6 1,0 9.3,-1.0a4.7,2.5 -6 1,0 -9.3,1.0zM534.6,559.1a4.3,2.6 11 1,0 8.4,1.7a4.3,2.6 11 1,0 -8.4,-1.7zM546.1,560.7a3.0,2.4 -23 1,0 5.5,-2.3a3.0,2.4 -23 1,0 -5.5,2.3zM572.6,564.3a4.8,3.0 -29 1,0 8.5,-4.7a4.8,3.0 -29 1,0 -8.5,4.7zM621.1,555.4a4.7,2.0 17 1,0 9.0,2.7a4.7,2.0 17 1,0 -9.0,-2.7zM632.8,559.0a5.0,2.0 17 1,0 9.6,2.9a5.0,2.0 17 1,0 -9.6,-2.9zM643.4,559.3a6.2,2.3 16 1,0 11.9,3.3a6.2,2.3 16 1,0 -11.9,-3.3zM651.8,556.7a6.0,1.7 21 1,0 11.2,4.3a6.0,1.7 21 1,0 -11.2,-4.3zM662.4,555.1a7.0,1.9 18 1,0 13.2,4.3a7.0,1.9 18 1,0 -13.2,-4.3zM690.7,558.8a4.6,1.7 23 1,0 8.4,3.6a4.6,1.7 23 1,0 -8.4,-3.6zM736.7,554.0a5.3,2.3 27 1,0 9.4,4.9a5.3,2.3 27 1,0 -9.4,-4.9zM365.4,567.0a4.1,2.4 -2 1,0 8.3,-0.3a4.1,2.4 -2 1,0 -8.3,0.3zM375.0,570.7a4.0,1.9 4 1,0 8.1,0.5a4.0,1.9 4 1,0 -8.1,-0.5zM385.5,568.3a5.0,1.8 -2 1,0 10.0,-0.4a5.0,1.8 -2 1,0 -10.0,0.4zM397.5,569.1a5.9,1.7 14 1,0 11.5,2.8a5.9,1.7 14 1,0 -11.5,-2.8zM405.7,571.3a4.8,1.7 11 1,0 9.4,1.8a4.8,1.7 11 1,0 -9.4,-1.8zM422.7,571.2a4.7,2.8 -20 1,0 8.8,-3.1a4.7,2.8 -20 1,0 -8.8,3.1zM437.4,572.2a3.3,3.2 -15 1,0 6.3,-1.7a3.3,3.2 -15 1,0 -6.3,1.7zM443.4,568.5a3.8,2.6 -4 1,0 7.5,-0.5a3.8,2.6 -4 1,0 -7.5,0.5zM457.3,570.5a4.6,3.2 5 1,0 9.1,0.8a4.6,3.2 5 1,0 -9.1,-0.8zM474.8,567.1a3.0,2.1 8 1,0 5.9,0.9a3.0,2.1 8 1,0 -5.9,-0.9zM482.9,567.7a4.0,2.4 -5 1,0 7.9,-0.6a4.0,2.4 -5 1,0 -7.9,0.6zM507.9,571.9a3.8,2.8 -16 1,0 7.3,-2.1a3.8,2.8 -16 1,0 -7.3,2.1zM516.1,572.6a3.4,2.6 -14 1,0 6.6,-1.7a3.4,2.6 -14 1,0 -6.6,1.7zM528.9,570.5a5.0,2.9 -17 1,0 9.5,-2.8a5.0,2.9 -17 1,0 -9.5,2.8zM545.8,570.7a5.0,2.6 -39 1,0 7.7,-6.3a5.0,2.6 -39 1,0 -7.7,6.3zM554.7,572.3a4.9,2.3 -13 1,0 9.6,-2.2a4.9,2.3 -13 1,0 -9.6,2.2zM568.5,571.8a4.5,2.8 5 1,0 8.9,0.7a4.5,2.8 5 1,0 -8.9,-0.7zM578.2,573.2a3.5,3.1 -28 1,0 6.2,-3.3a3.5,3.1 -28 1,0 -6.2,3.3zM591.3,563.2a4.9,2.1 32 1,0 8.4,5.1a4.9,2.1 32 1,0 -8.4,-5.1zM600.8,568.3a5.6,2.2 16 1,0 10.8,3.2a5.6,2.2 16 1,0 -10.8,-3.2zM627.3,568.0a6.2,2.1 29 1,0 10.9,6.0a6.2,2.1 29 1,0 -10.9,-6.0zM638.8,564.6a6.4,1.6 20 1,0 11.9,4.5a6.4,1.6 20 1,0 -11.9,-4.5zM652.1,566.7a5.6,1.6 33 1,0 9.3,6.2a5.6,1.6 33 1,0 -9.3,-6.2zM674.9,566.7a4.9,1.7 26 1,0 8.9,4.4a4.9,1.7 26 1,0 -8.9,-4.4zM683.8,564.9a5.2,1.7 24 1,0 9.5,4.2a5.2,1.7 24 1,0 -9.5,-4.2zM697.2,567.8a6.3,2.2 17 1,0 12.0,3.7a6.3,2.2 17 1,0 -12.0,-3.7zM723.3,568.6a5.3,1.8 23 1,0 9.8,4.1a5.3,1.8 23 1,0 -9.8,-4.1zM356.4,578.9a5.9,2.0 14 1,0 11.5,2.8a5.9,2.0 14 1,0 -11.5,-2.8zM377.0,581.2a4.1,2.3 -7 1,0 8.1,-1.0a4.1,2.3 -7 1,0 -8.1,1.0zM389.8,575.5a4.7,2.5 -3 1,0 9.3,-0.5a4.7,2.5 -3 1,0 -9.3,0.5zM402.2,576.4a5.4,1.6 -7 1,0 10.7,-1.2a5.4,1.6 -7 1,0 -10.7,1.2zM412.0,581.9a5.3,1.8 -5 1,0 10.6,-1.0a5.3,1.8 -5 1,0 -10.6,1.0zM424.6,577.0a4.0,2.1 -22 1,0 7.3,-2.9a4.0,2.1 -22 1,0 -7.3,2.9zM465.5,575.6a3.2,2.7 15 1,0 6.2,1.7a3.2,2.7 15 1,0 -6.2,-1.7zM473.3,576.5a4.6,2.2 22 1,0 8.5,3.4a4.6,2.2 22 1,0 -8.5,-3.4zM486.3,579.6a4.4,2.9 19 1,0 8.3,2.9a4.4,2.9 19 1,0 -8.3,-2.9zM500.9,578.7a3.6,2.2 7 1,0 7.2,0.9a3.6,2.2 7 1,0 -7.2,-0.9zM523.6,581.2a4.0,2.1 0 1,0 8.0,0.0a4.0,2.1 0 1,0 -8.0,-0.0zM534.2,577.2a3.1,2.7 12 1,0 6.0,1.3a3.1,2.7 12 1,0 -6.0,-1.3zM547.0,576.0a3.6,2.7 2 1,0 7.3,0.2a3.6,2.7 2 1,0 -7.3,-0.2zM557.4,578.6a4.5,2.9 -3 1,0 9.0,-0.5a4.5,2.9 -3 1,0 -9.0,0.5zM575.3,577.1a4.4,2.5 -18 1,0 8.3,-2.7a4.4,2.5 -18 1,0 -8.3,2.7zM615.2,575.6a6.1,2.0 26 1,0 10.9,5.4a6.1,2.0 26 1,0 -10.9,-5.4zM628.7,574.2a6.4,1.6 15 1,0 12.3,3.3a6.4,1.6 15 1,0 -12.3,-3.3zM638.6,575.0a6.5,1.8 30 1,0 11.3,6.6a6.5,1.8 30 1,0 -11.3,-6.6zM655.3,576.7a5.4,1.7 19 1,0 10.2,3.6a5.4,1.7 19 1,0 -10.2,-3.6zM689.2,574.8a4.5,1.6 16 1,0 8.7,2.4a4.5,1.6 16 1,0 -8.7,-2.4zM701.8,578.3a4.5,1.7 33 1,0 7.6,4.9a4.5,1.7 33 1,0 -7.6,-4.9zM712.4,575.1a6.9,1.8 20 1,0 13.1,4.7a6.9,1.8 20 1,0 -13.1,-4.7zM743.4,573.9a4.7,1.9 22 1,0 8.7,3.5a4.7,1.9 22 1,0 -8.7,-3.5zM351.0,585.4a5.7,2.5 -3 1,0 11.5,-0.7a5.7,2.5 -3 1,0 -11.5,0.7zM384.8,586.8a4.0,1.6 9 1,0 8.0,1.3a4.0,1.6 9 1,0 -8.0,-1.3zM399.8,585.9a4.7,1.9 9 1,0 9.2,1.5a4.7,1.9 9 1,0 -9.2,-1.5zM420.7,591.3a3.3,2.3 -10 1,0 6.5,-1.2a3.3,2.3 -10 1,0 -6.5,1.2zM460.8,587.1a4.5,3.1 -26 1,0 8.0,-4.0a4.5,3.1 -26 1,0 -8.0,4.0zM496.3,589.3a3.7,3.0 -39 1,0 5.8,-4.7a3.7,3.0 -39 1,0 -5.8,4.7zM517.3,588.5a4.9,2.8 21 1,0 9.2,3.6a4.9,2.8 21 1,0 -9.2,-3.6zM532.0,586.9a4.8,2.3 -10 1,0 9.4,-1.6a4.8,2.3 -10 1,0 -9.4,1.6zM545.4,586.6a3.3,3.1 -2 1,0 6.5,-0.2a3.3,3.1 -2 1,0 -6.5,0.2zM559.1,588.7a3.6,3.2 -40 1,0 5.6,-4.6a3.6,3.2 -40 1,0 -5.6,4.6zM563.1,591.9a4.1,2.4 -24 1,0 7.5,-3.3a4.1,2.4 -24 1,0 -7.5,3.3zM576.1,586.0a4.4,2.8 -5 1,0 8.7,-0.8a4.4,2.8 -5 1,0 -8.7,0.8zM610.2,587.8a6.5,2.1 24 1,0 11.8,5.3a6.5,2.1 24 1,0 -11.8,-5.3zM622.3,585.8a5.7,1.8 23 1,0 10.5,4.4a5.7,1.8 23 1,0 -10.5,-4.4zM640.3,587.0a5.9,2.2 25 1,0 10.7,5.0a5.9,2.2 25 1,0 -10.7,-5.0zM649.1,587.4a5.7,2.2 17 1,0 10.9,3.4a5.7,2.2 17 1,0 -10.9,-3.4zM669.3,588.0a5.4,2.3 17 1,0 10.3,3.1a5.4,2.3 17 1,0 -10.3,-3.1zM684.8,588.8a6.3,1.6 22 1,0 11.7,4.7a6.3,1.6 22 1,0 -11.7,-4.7zM721.1,585.2a5.4,2.3 21 1,0 10.2,3.8a5.4,2.3 21 1,0 -10.2,-3.8zM366.1,594.5a4.3,2.4 9 1,0 8.5,1.3a4.3,2.4 9 1,0 -8.5,-1.3zM377.1,596.7a4.5,2.0 -3 1,0 8.9,-0.5a4.5,2.0 -3 1,0 -8.9,0.5zM393.4,596.1a4.9,2.6 2 1,0 9.8,0.3a4.9,2.6 2 1,0 -9.8,-0.3zM420.3,599.2a3.3,2.6 18 1,0 6.2,2.0a3.3,2.6 18 1,0 -6.2,-2.0zM441.2,597.6a3.4,2.4 6 1,0 6.8,0.7a3.4,2.4 6 1,0 -6.8,-0.7zM451.1,596.6a3.1,3.1 -7 1,0 6.1,-0.8a3.1,3.1 -7 1,0 -6.1,0.8zM463.0,599.7a4.2,2.1 -6 1,0 8.4,-0.8a4.2,2.1 -6 1,0 -8.4,0.8zM473.8,600.6a2.9,2.8 -1 1,0 5.7,-0.1a2.9,2.8 -1 1,0 -5.7,0.1zM500.1,602.6a3.7,2.8 -31 1,0 6.4,-3.8a3.7,2.8 -31 1,0 -6.4,3.8zM548.1,599.5a3.9,2.9 6 1,0 7.8,0.8a3.9,2.9 6 1,0 -7.8,-0.8zM569.8,600.0a4.7,2.2 -15 1,0 9.2,-2.4a4.7,2.2 -15 1,0 -9.2,2.4zM594.9,598.3a5.3,1.9 23 1,0 9.7,4.2a5.3,1.9 23 1,0 -9.7,-4.2zM609.2,595.1a5.9,2.0 18 1,0 11.2,3.6a5.9,2.0 18 1,0 -11.2,-3.6zM615.4,593.8a4.9,1.7 20 1,0 9.3,3.3a4.9,1.7 20 1,0 -9.3,-3.3zM642.5,594.9a6.2,2.0 28 1,0 11.0,5.9a6.2,2.0 28 1,0 -11.0,-5.9zM657.7,593.9a4.6,1.7 29 1,0 8.1,4.5a4.6,1.7 29 1,0 -8.1,-4.5zM681.8,595.2a4.6,1.7 31 1,0 7.9,4.8a4.6,1.7 31 1,0 -7.9,-4.8zM694.0,596.3a5.5,2.4 19 1,0 10.3,3.6a5.5,2.4 19 1,0 -10.3,-3.6zM714.2,593.6a5.1,1.7 18 1,0 9.7,3.2a5.1,1.7 18 1,0 -9.7,-3.2zM730.4,591.8a6.2,2.2 31 1,0 10.7,6.4a6.2,2.2 31 1,0 -10.7,-6.4zM359.4,604.9a6.4,1.6 -7 1,0 12.7,-1.5a6.4,1.6 -7 1,0 -12.7,1.5zM383.7,605.0a4.5,1.7 8 1,0 8.9,1.2a4.5,1.7 8 1,0 -8.9,-1.2zM401.7,608.9a4.2,2.2 7 1,0 8.4,1.1a4.2,2.2 7 1,0 -8.4,-1.1zM425.9,608.8a3.0,2.8 -0 1,0 6.0,-0.0a3.0,2.8 -0 1,0 -6.0,0.0zM436.0,611.0a3.9,2.2 -33 1,0 6.6,-4.3a3.9,2.2 -33 1,0 -6.6,4.3zM446.5,608.8a4.2,2.7 -32 1,0 7.2,-4.5a4.2,2.7 -32 1,0 -7.2,4.5zM468.0,607.0a3.0,2.1 -36 1,0 4.8,-3.5a3.0,2.1 -36 1,0 -4.8,3.5zM498.0,610.6a3.2,2.0 -31 1,0 5.6,-3.4a3.2,2.0 -31 1,0 -5.6,3.4zM505.4,606.0a4.4,2.8 -4 1,0 8.8,-0.5a4.4,2.8 -4 1,0 -8.8,0.5zM521.4,604.7a4.3,2.6 15 1,0 8.3,2.2a4.3,2.6 15 1,0 -8.3,-2.2zM533.8,610.3a4.6,2.8 -35 1,0 7.5,-5.3a4.6,2.8 -35 1,0 -7.5,5.3zM545.6,604.2a4.6,2.9 21 1,0 8.6,3.3a4.6,2.9 21 1,0 -8.6,-3.3zM552.4,603.1a4.5,2.8 10 1,0 9.0,1.5a4.5,2.8 10 1,0 -9.0,-1.5zM569.1,608.8a3.9,2.5 4 1,0 7.7,0.6a3.9,2.5 4 1,0 -7.7,-0.6zM575.4,609.8a4.0,3.0 -34 1,0 6.7,-4.5a4.0,3.0 -34 1,0 -6.7,4.5zM591.2,605.0a5.0,1.6 30 1,0 8.6,5.0a5.0,1.6 30 1,0 -8.6,-5.0zM602.6,602.0a6.6,1.8 19 1,0 12.5,4.2a6.6,1.8 19 1,0 -12.5,-4.2zM639.3,606.6a6.5,2.0 29 1,0 11.4,6.2a6.5,2.0 29 1,0 -11.4,-6.2zM646.5,602.2a4.6,1.8 32 1,0 7.9,4.9a4.6,1.8 32 1,0 -7.9,-4.9zM659.5,604.3a5.6,2.0 18 1,0 10.6,3.5a5.6,2.0 18 1,0 -10.6,-3.5zM367.9,618.2a4.9,2.3 -4 1,0 9.9,-0.6a4.9,2.3 -4 1,0 -9.9,0.6zM405.6,617.1a4.1,2.4 18 1,0 7.8,2.5a4.1,2.4 18 1,0 -7.8,-2.5zM418.7,616.3a2.5,2.1 13 1,0 4.9,1.1a2.5,2.1 13 1,0 -4.9,-1.1zM438.8,618.7a2.8,1.7 -18 1,0 5.3,-1.7a2.8,1.7 -18 1,0 -5.3,1.7zM450.5,613.8a3.9,2.5 21 1,0 7.3,2.8a3.9,2.5 21 1,0 -7.3,-2.8zM460.2,617.5a3.9,2.3 -9 1,0 7.8,-1.2a3.9,2.3 -9 1,0 -7.8,1.2zM477.3,617.7a2.8,1.9 -3 1,0 5.6,-0.3a2.8,1.9 -3 1,0 -5.6,0.3zM487.3,615.9a4.1,1.8 -3 1,0 8.1,-0.4a4.1,1.8 -3 1,0 -8.1,0.4zM502.9,613.9a3.3,1.8 24 1,0 6.0,2.7a3.3,1.8 24 1,0 -6.0,-2.7zM513.5,616.6a4.3,2.2 16 1,0 8.2,2.3a4.3,2.2 16 1,0 -8.2,-2.3zM536.3,617.4a4.3,2.4 7 1,0 8.5,1.0a4.3,2.4 7 1,0 -8.5,-1.0zM573.1,617.1a2.6,1.9 1 1,0 5.2,0.1a2.6,1.9 1 1,0 -5.2,-0.1zM593.7,613.0a6.9,2.2 25 1,0 12.5,5.7a6.9,2.2 25 1,0 -12.5,-5.7zM639.4,612.6a5.3,1.7 25 1,0 9.6,4.5a5.3,1.7 25 1,0 -9.6,-4.5zM663.9,612.0a5.1,2.4 33 1,0 8.5,5.6a5.1,2.4 33 1,0 -8.5,-5.6zM739.6,616.8a6.4,2.3 22 1,0 11.8,4.7a6.4,2.3 22 1,0 -11.8,-4.7z"/></g><g filter="url(#sb2)"><path fill="#5050d0" opacity="0.16" d="M494.1,43.9a3.4,2.4 70 1,0 2.3,6.4a3.4,2.4 70 1,0 -2.3,-6.4zM581.8,48.1a3.3,2.1 43 1,0 4.9,4.5a3.3,2.1 43 1,0 -4.9,-4.5zM604.4,44.2a3.8,1.4 39 1,0 5.9,4.7a3.8,1.4 39 1,0 -5.9,-4.7zM631.5,41.4a4.8,2.1 78 1,0 2.0,9.4a4.8,2.1 78 1,0 -2.0,-9.4zM736.6,44.6a3.2,1.5 75 1,0 1.6,6.3a3.2,1.5 75 1,0 -1.6,-6.3zM503.8,57.1a4.2,2.1 41 1,0 6.4,5.5a4.2,2.1 41 1,0 -6.4,-5.5zM563.1,55.9a3.4,2.1 62 1,0 3.2,6.1a3.4,2.1 62 1,0 -3.2,-6.1zM574.2,57.1a4.0,1.9 40 1,0 6.1,5.1a4.0,1.9 40 1,0 -6.1,-5.1zM629.3,52.6a3.0,2.1 36 1,0 4.9,3.6a3.0,2.1 36 1,0 -4.9,-3.6zM673.4,54.8a3.3,2.4 74 1,0 1.8,6.3a3.3,2.4 74 1,0 -1.8,-6.3zM715.5,47.8a4.6,2.4 76 1,0 2.2,9.0a4.6,2.4 76 1,0 -2.2,-9.0zM492.8,64.2a2.9,2.3 51 1,0 3.7,4.6a2.9,2.3 51 1,0 -3.7,-4.6zM534.4,59.8a3.9,2.4 42 1,0 5.7,5.2a3.9,2.4 42 1,0 -5.7,-5.2zM544.8,65.5a3.2,1.4 56 1,0 3.6,5.4a3.2,1.4 56 1,0 -3.6,-5.4zM566.1,66.5a4.5,2.0 48 1,0 6.1,6.7a4.5,2.0 48 1,0 -6.1,-6.7zM577.6,65.4a4.7,1.3 33 1,0 7.9,5.2a4.7,1.3 33 1,0 -7.9,-5.2zM626.8,63.2a3.5,1.9 67 1,0 2.7,6.5a3.5,1.9 67 1,0 -2.7,-6.5zM642.4,63.7a3.5,2.2 34 1,0 5.7,3.8a3.5,2.2 34 1,0 -5.7,-3.8zM649.8,63.9a3.6,1.4 65 1,0 3.0,6.6a3.6,1.4 65 1,0 -3.0,-6.6zM666.7,64.2a3.5,1.7 77 1,0 1.6,6.8a3.5,1.7 77 1,0 -1.6,-6.8zM679.2,61.4a4.0,2.2 58 1,0 4.2,6.8a4.0,2.2 58 1,0 -4.2,-6.8zM686.3,63.8a4.6,1.4 57 1,0 4.9,7.7a4.6,1.4 57 1,0 -4.9,-7.7zM708.3,61.4a4.5,1.9 68 1,0 3.3,8.3a4.5,1.9 68 1,0 -3.3,-8.3zM722.5,61.8a4.4,2.3 51 1,0 5.5,6.7a4.4,2.3 51 1,0 -5.5,-6.7zM487.8,73.1a4.6,1.4 43 1,0 6.7,6.3a4.6,1.4 43 1,0 -6.7,-6.3zM505.1,67.6a4.8,1.4 71 1,0 3.1,9.1a4.8,1.4 71 1,0 -3.1,-9.1zM511.2,71.2a4.4,1.7 64 1,0 3.8,7.9a4.4,1.7 64 1,0 -3.8,-7.9zM540.4,70.5a3.3,2.0 45 1,0 4.6,4.6a3.3,2.0 45 1,0 -4.6,-4.6zM549.7,70.3a4.9,1.9 66 1,0 3.9,8.9a4.9,1.9 66 1,0 -3.9,-8.9zM559.3,75.4a4.1,1.4 41 1,0 6.2,5.4a4.1,1.4 41 1,0 -6.2,-5.4zM571.7,70.7a3.6,1.7 51 1,0 4.6,5.6a3.6,1.7 51 1,0 -4.6,-5.6zM582.7,72.6a2.8,1.7 47 1,0 3.9,4.2a2.8,1.7 47 1,0 -3.9,-4.2zM599.7,70.4a4.0,1.7 55 1,0 4.6,6.6a4.0,1.7 55 1,0 -4.6,-6.6zM633.2,72.1a4.0,1.9 43 1,0 5.9,5.5a4.0,1.9 43 1,0 -5.9,-5.5zM657.5,73.0a4.2,1.6 64 1,0 3.8,7.6a4.2,1.6 64 1,0 -3.8,-7.6zM671.4,71.5a3.1,1.7 58 1,0 3.3,5.3a3.1,1.7 58 1,0 -3.3,-5.3zM677.7,73.3a4.1,1.8 51 1,0 5.2,6.4a4.1,1.8 51 1,0 -5.2,-6.4zM703.3,71.8a4.8,1.7 33 1,0 8.1,5.2a4.8,1.7 33 1,0 -8.1,-5.2zM717.4,75.3a3.9,1.7 33 1,0 6.6,4.2a3.9,1.7 33 1,0 -6.6,-4.2zM495.8,82.6a3.3,1.6 57 1,0 3.6,5.6a3.3,1.6 57 1,0 -3.6,-5.6zM521.1,79.3a4.3,1.9 78 1,0 1.9,8.4a4.3,1.9 78 1,0 -1.9,-8.4zM530.3,82.2a3.9,1.5 59 1,0 4.0,6.6a3.9,1.5 59 1,0 -4.0,-6.6zM541.8,78.9a3.8,1.8 43 1,0 5.5,5.1a3.8,1.8 43 1,0 -5.5,-5.1zM557.9,77.5a3.5,2.0 56 1,0 3.9,5.8a3.5,2.0 56 1,0 -3.9,-5.8zM567.2,83.7a2.9,1.8 48 1,0 3.9,4.4a2.9,1.8 48 1,0 -3.9,-4.4zM577.8,84.1a3.3,2.3 37 1,0 5.3,4.0a3.3,2.3 37 1,0 -5.3,-4.0zM589.9,79.3a4.0,1.6 53 1,0 4.8,6.4a4.0,1.6 53 1,0 -4.8,-6.4zM605.2,80.2a4.2,1.4 47 1,0 5.8,6.2a4.2,1.4 47 1,0 -5.8,-6.2zM616.5,85.5a3.6,2.2 41 1,0 5.5,4.8a3.6,2.2 41 1,0 -5.5,-4.8zM625.3,81.2a4.3,2.2 40 1,0 6.6,5.5a4.3,2.2 40 1,0 -6.6,-5.5zM637.8,79.8a4.4,1.6 48 1,0 5.8,6.5a4.4,1.6 48 1,0 -5.8,-6.5zM649.1,81.6a4.7,1.7 69 1,0 3.5,8.8a4.7,1.7 69 1,0 -3.5,-8.8zM663.9,77.8a4.0,1.4 65 1,0 3.3,7.3a4.0,1.4 65 1,0 -3.3,-7.3zM673.5,84.6a3.3,1.6 47 1,0 4.5,4.8a3.3,1.6 47 1,0 -4.5,-4.8zM686.8,79.9a3.3,2.1 63 1,0 2.9,5.9a3.3,2.1 63 1,0 -2.9,-5.9zM702.2,83.9a3.9,1.6 38 1,0 6.1,4.8a3.9,1.6 38 1,0 -6.1,-4.8zM710.3,80.7a4.3,1.9 65 1,0 3.7,7.9a4.3,1.9 65 1,0 -3.7,-7.9zM719.8,80.8a3.4,1.3 47 1,0 4.5,4.9a3.4,1.3 47 1,0 -4.5,-4.9zM738.5,81.1a4.9,1.7 59 1,0 5.1,8.4a4.9,1.7 59 1,0 -5.1,-8.4zM521.2,90.9a4.0,1.8 49 1,0 5.3,6.0a4.0,1.8 49 1,0 -5.3,-6.0zM558.5,90.5a3.9,1.7 43 1,0 5.6,5.3a3.9,1.7 43 1,0 -5.6,-5.3zM585.1,93.5a3.4,2.3 73 1,0 2.0,6.5a3.4,2.3 73 1,0 -2.0,-6.5zM600.2,89.5a4.5,1.6 56 1,0 5.0,7.4a4.5,1.6 56 1,0 -5.0,-7.4zM606.9,88.5a4.6,2.1 79 1,0 1.7,9.1a4.6,2.1 79 1,0 -1.7,-9.1zM618.8,93.1a3.6,2.0 71 1,0 2.4,6.8a3.6,2.0 71 1,0 -2.4,-6.8zM633.7,90.0a4.4,1.9 64 1,0 3.9,8.0a4.4,1.9 64 1,0 -3.9,-8.0zM643.5,86.9a4.9,1.5 74 1,0 2.7,9.4a4.9,1.5 74 1,0 -2.7,-9.4zM657.1,92.5a3.7,2.1 39 1,0 5.8,4.6a3.7,2.1 39 1,0 -5.8,-4.6zM668.5,91.1a4.2,1.5 61 1,0 4.1,7.4a4.2,1.5 61 1,0 -4.1,-7.4zM684.2,94.3a3.7,1.7 42 1,0 5.6,4.9a3.7,1.7 42 1,0 -5.6,-4.9zM696.6,89.9a3.8,2.4 67 1,0 3.0,7.0a3.8,2.4 67 1,0 -3.0,-7.0zM704.4,92.5a4.2,2.3 71 1,0 2.7,8.0a4.2,2.3 71 1,0 -2.7,-8.0zM718.9,90.9a4.7,1.5 44 1,0 6.8,6.5a4.7,1.5 44 1,0 -6.8,-6.5zM729.9,88.2a4.7,2.1 57 1,0 5.0,7.9a4.7,2.1 57 1,0 -5.0,-7.9zM742.0,92.7a4.7,2.2 36 1,0 7.6,5.5a4.7,2.2 36 1,0 -7.6,-5.5zM485.0,100.6a4.1,1.9 35 1,0 6.7,4.7a4.1,1.9 35 1,0 -6.7,-4.7zM510.7,98.1a4.9,2.4 50 1,0 6.4,7.6a4.9,2.4 50 1,0 -6.4,-7.6zM523.7,100.0a4.2,1.5 79 1,0 1.5,8.3a4.2,1.5 79 1,0 -1.5,-8.3zM530.7,100.3a3.4,2.2 67 1,0 2.7,6.2a3.4,2.2 67 1,0 -2.7,-6.2zM546.4,97.5a4.0,1.4 69 1,0 2.8,7.4a4.0,1.4 69 1,0 -2.8,-7.4zM554.4,100.4a3.7,1.4 41 1,0 5.6,4.9a3.7,1.4 41 1,0 -5.6,-4.9zM567.5,99.0a4.9,1.9 50 1,0 6.3,7.6a4.9,1.9 50 1,0 -6.3,-7.6zM580.3,102.5a4.0,1.3 36 1,0 6.5,4.6a4.0,1.3 36 1,0 -6.5,-4.6zM589.6,104.6a3.5,1.8 63 1,0 3.2,6.3a3.5,1.8 63 1,0 -3.2,-6.3zM605.9,103.2a3.7,1.8 48 1,0 5.0,5.6a3.7,1.8 48 1,0 -5.0,-5.6zM614.5,99.0a3.6,1.6 54 1,0 4.2,5.9a3.6,1.6 54 1,0 -4.2,-5.9zM626.3,101.8a4.1,1.7 45 1,0 5.8,5.8a4.1,1.7 45 1,0 -5.8,-5.8zM640.8,99.0a4.6,1.8 73 1,0 2.7,8.7a4.6,1.8 73 1,0 -2.7,-8.7zM652.6,99.1a4.2,1.4 68 1,0 3.1,7.8a4.2,1.4 68 1,0 -3.1,-7.8zM657.1,103.4a4.5,1.9 30 1,0 7.7,4.5a4.5,1.9 30 1,0 -7.7,-4.5zM685.1,103.2a3.0,1.4 72 1,0 1.9,5.6a3.0,1.4 72 1,0 -1.9,-5.6zM709.0,99.1a4.3,2.3 55 1,0 5.0,7.0a4.3,2.3 55 1,0 -5.0,-7.0zM725.1,98.8a3.6,2.0 56 1,0 4.0,5.9a3.6,2.0 56 1,0 -4.0,-5.9zM735.9,100.3a3.4,2.1 59 1,0 3.5,5.8a3.4,2.1 59 1,0 -3.5,-5.8zM467.8,111.7a4.5,1.6 53 1,0 5.5,7.2a4.5,1.6 53 1,0 -5.5,-7.2zM498.3,109.9a4.3,1.4 31 1,0 7.3,4.5a4.3,1.4 31 1,0 -7.3,-4.5zM526.5,106.9a3.9,1.4 54 1,0 4.5,6.3a3.9,1.4 54 1,0 -4.5,-6.3zM559.4,111.6a2.9,1.4 73 1,0 1.6,5.5a2.9,1.4 73 1,0 -1.6,-5.5zM580.0,105.6a2.9,2.2 79 1,0 1.1,5.8a2.9,2.2 79 1,0 -1.1,-5.8zM587.5,109.1a4.3,1.8 42 1,0 6.4,5.7a4.3,1.8 42 1,0 -6.4,-5.7zM602.4,106.4a4.0,1.6 74 1,0 2.2,7.6a4.0,1.6 74 1,0 -2.2,-7.6zM606.1,109.5a3.3,1.5 51 1,0 4.2,5.2a3.3,1.5 51 1,0 -4.2,-5.2zM632.1,109.4a3.8,2.2 31 1,0 6.6,3.9a3.8,2.2 31 1,0 -6.6,-3.9zM643.8,109.8a4.9,2.3 47 1,0 6.7,7.2a4.9,2.3 47 1,0 -6.7,-7.2zM661.3,106.6a4.7,2.1 77 1,0 2.1,9.3a4.7,2.1 77 1,0 -2.1,-9.3zM668.5,108.9a3.2,1.4 56 1,0 3.5,5.3a3.2,1.4 56 1,0 -3.5,-5.3zM679.9,111.2a4.8,1.9 38 1,0 7.6,6.0a4.8,1.9 38 1,0 -7.6,-6.0zM690.4,110.0a4.9,2.4 31 1,0 8.3,5.1a4.9,2.4 31 1,0 -8.3,-5.1zM706.9,110.1a3.9,2.0 53 1,0 4.7,6.2a3.9,2.0 53 1,0 -4.7,-6.2zM716.0,106.3a3.6,2.3 59 1,0 3.7,6.1a3.6,2.3 59 1,0 -3.7,-6.1zM743.5,109.5a3.3,1.9 38 1,0 5.2,4.1a3.3,1.9 38 1,0 -5.2,-4.1zM534.1,119.8a4.8,2.3 45 1,0 6.9,6.8a4.8,2.3 45 1,0 -6.9,-6.8zM546.7,120.7a4.0,1.8 67 1,0 3.1,7.3a4.0,1.8 67 1,0 -3.1,-7.3zM553.4,118.7a4.2,1.8 50 1,0 5.4,6.5a4.2,1.8 50 1,0 -5.4,-6.5zM565.7,119.6a4.8,1.6 57 1,0 5.2,8.0a4.8,1.6 57 1,0 -5.2,-8.0zM585.0,120.3a3.5,2.1 62 1,0 3.2,6.2a3.5,2.1 62 1,0 -3.2,-6.2zM590.9,119.0a4.3,1.8 36 1,0 7.0,5.1a4.3,1.8 36 1,0 -7.0,-5.1zM603.5,120.4a2.9,1.8 31 1,0 5.0,3.0a2.9,1.8 31 1,0 -5.0,-3.0zM611.7,121.2a3.1,1.6 41 1,0 4.6,4.0a3.1,1.6 41 1,0 -4.6,-4.0zM630.1,119.5a3.8,1.8 46 1,0 5.2,5.4a3.8,1.8 46 1,0 -5.2,-5.4zM639.4,119.3a4.9,2.2 50 1,0 6.4,7.6a4.9,2.2 50 1,0 -6.4,-7.6zM655.0,118.8a4.5,1.9 79 1,0 1.7,8.8a4.5,1.9 79 1,0 -1.7,-8.8zM661.7,123.6a3.2,2.3 33 1,0 5.4,3.5a3.2,2.3 33 1,0 -5.4,-3.5zM676.5,120.2a4.4,1.9 57 1,0 4.7,7.3a4.4,1.9 57 1,0 -4.7,-7.3zM693.1,117.1a3.2,2.0 75 1,0 1.7,6.1a3.2,2.0 75 1,0 -1.7,-6.1zM702.9,116.8a4.9,1.7 68 1,0 3.7,9.1a4.9,1.7 68 1,0 -3.7,-9.1zM707.8,117.6a3.6,2.0 37 1,0 5.8,4.4a3.6,2.0 37 1,0 -5.8,-4.4zM721.9,122.2a3.9,2.1 31 1,0 6.6,4.0a3.9,2.1 31 1,0 -6.6,-4.0zM516.2,127.1a4.6,2.1 65 1,0 4.0,8.4a4.6,2.1 65 1,0 -4.0,-8.4zM534.1,126.1a5.0,1.3 37 1,0 7.9,6.1a5.0,1.3 37 1,0 -7.9,-6.1zM549.7,128.5a3.8,2.3 64 1,0 3.4,6.9a3.8,2.3 64 1,0 -3.4,-6.9zM560.2,128.6a3.0,2.1 47 1,0 4.1,4.3a3.0,2.1 47 1,0 -4.1,-4.3zM574.8,128.0a4.6,1.5 40 1,0 7.0,5.9a4.6,1.5 40 1,0 -7.0,-5.9zM582.0,128.0a3.2,2.0 61 1,0 3.1,5.6a3.2,2.0 61 1,0 -3.1,-5.6zM602.7,127.3a3.3,1.6 76 1,0 1.6,6.5a3.3,1.6 76 1,0 -1.6,-6.5zM623.6,129.3a2.9,2.4 49 1,0 3.8,4.3a2.9,2.4 49 1,0 -3.8,-4.3zM631.3,126.8a4.5,1.9 42 1,0 6.7,6.0a4.5,1.9 42 1,0 -6.7,-6.0zM642.8,129.0a4.7,2.0 67 1,0 3.6,8.6a4.7,2.0 67 1,0 -3.6,-8.6zM662.3,130.2a3.0,1.4 72 1,0 1.8,5.7a3.0,1.4 72 1,0 -1.8,-5.7zM671.1,131.3a3.2,1.9 49 1,0 4.2,4.8a3.2,1.9 49 1,0 -4.2,-4.8zM677.6,127.3a4.8,1.9 50 1,0 6.2,7.2a4.8,1.9 50 1,0 -6.2,-7.2zM703.2,127.3a4.5,1.4 79 1,0 1.7,8.8a4.5,1.4 79 1,0 -1.7,-8.8zM733.1,132.7a3.1,2.2 33 1,0 5.2,3.4a3.1,2.2 33 1,0 -5.2,-3.4zM741.6,128.0a5.0,1.6 48 1,0 6.6,7.4a5.0,1.6 48 1,0 -6.6,-7.4zM544.8,137.1a3.1,1.8 60 1,0 3.1,5.4a3.1,1.8 60 1,0 -3.1,-5.4zM566.9,136.8a3.3,1.8 60 1,0 3.2,5.7a3.3,1.8 60 1,0 -3.2,-5.7zM574.5,143.1a4.5,1.5 32 1,0 7.7,4.8a4.5,1.5 32 1,0 -7.7,-4.8zM592.9,135.8a4.8,2.3 61 1,0 4.7,8.4a4.8,2.3 61 1,0 -4.7,-8.4zM603.6,141.6a3.3,1.9 46 1,0 4.7,4.8a3.3,1.9 46 1,0 -4.7,-4.8zM612.4,139.3a3.2,2.2 55 1,0 3.7,5.2a3.2,2.2 55 1,0 -3.7,-5.2zM630.2,136.7a4.5,2.0 74 1,0 2.5,8.6a4.5,2.0 74 1,0 -2.5,-8.6zM643.9,137.6a4.6,2.0 72 1,0 2.8,8.7a4.6,2.0 72 1,0 -2.8,-8.7zM651.9,138.3a3.1,2.0 75 1,0 1.7,6.0a3.1,2.0 75 1,0 -1.7,-6.0zM659.1,137.9a3.4,2.1 32 1,0 5.8,3.6a3.4,2.1 32 1,0 -5.8,-3.6zM674.2,141.1a4.1,1.7 32 1,0 7.0,4.3a4.1,1.7 32 1,0 -7.0,-4.3zM687.0,137.0a4.0,1.4 35 1,0 6.6,4.6a4.0,1.4 35 1,0 -6.6,-4.6zM698.8,136.6a4.3,1.5 57 1,0 4.7,7.1a4.3,1.5 57 1,0 -4.7,-7.1zM710.0,138.0a3.2,2.4 45 1,0 4.4,4.5a3.2,2.4 45 1,0 -4.4,-4.5zM730.7,139.4a4.1,2.0 51 1,0 5.2,6.3a4.1,2.0 51 1,0 -5.2,-6.3zM517.6,147.5a4.6,1.4 45 1,0 6.4,6.5a4.6,1.4 45 1,0 -6.4,-6.5zM525.0,149.3a3.7,2.3 60 1,0 3.7,6.4a3.7,2.3 60 1,0 -3.7,-6.4zM539.7,145.8a3.7,1.9 45 1,0 5.2,5.2a3.7,1.9 45 1,0 -5.2,-5.2zM545.1,149.5a2.9,1.8 31 1,0 4.9,2.9a2.9,1.8 31 1,0 -4.9,-2.9zM565.5,145.5a4.5,1.9 70 1,0 3.1,8.3a4.5,1.9 70 1,0 -3.1,-8.3zM578.2,152.1a2.9,2.1 61 1,0 2.8,5.1a2.9,2.1 61 1,0 -2.8,-5.1zM585.0,151.6a3.9,2.1 45 1,0 5.4,5.5a3.9,2.1 45 1,0 -5.4,-5.5zM602.1,146.1a2.9,2.3 56 1,0 3.2,4.9a2.9,2.3 56 1,0 -3.2,-4.9zM605.7,149.0a3.0,1.7 51 1,0 3.9,4.7a3.0,1.7 51 1,0 -3.9,-4.7zM638.6,150.7a2.8,1.4 40 1,0 4.3,3.7a2.8,1.4 40 1,0 -4.3,-3.7zM645.7,150.6a4.9,2.1 54 1,0 5.9,8.0a4.9,2.1 54 1,0 -5.9,-8.0zM660.2,150.9a3.3,1.5 78 1,0 1.4,6.4a3.3,1.5 78 1,0 -1.4,-6.4zM675.5,152.1a2.9,1.4 67 1,0 2.3,5.3a2.9,1.4 67 1,0 -2.3,-5.3zM682.7,147.7a4.8,2.1 70 1,0 3.2,9.0a4.8,2.1 70 1,0 -3.2,-9.0zM693.5,145.3a3.3,1.8 65 1,0 2.8,5.9a3.3,1.8 65 1,0 -2.8,-5.9zM709.0,150.5a3.6,1.7 34 1,0 6.0,4.0a3.6,1.7 34 1,0 -6.0,-4.0zM720.7,144.2a4.9,2.2 80 1,0 1.8,9.7a4.9,2.2 80 1,0 -1.8,-9.7zM731.2,143.5a5.0,2.0 73 1,0 3.0,9.5a5.0,2.0 73 1,0 -3.0,-9.5zM519.2,156.8a4.3,1.7 69 1,0 3.2,8.1a4.3,1.7 69 1,0 -3.2,-8.1zM533.2,156.4a2.8,2.4 68 1,0 2.1,5.2a2.8,2.4 68 1,0 -2.1,-5.2zM553.9,155.6a4.6,1.9 35 1,0 7.6,5.3a4.6,1.9 35 1,0 -7.6,-5.3zM566.1,157.4a3.1,2.4 76 1,0 1.5,6.1a3.1,2.4 76 1,0 -1.5,-6.1zM584.3,158.4a3.0,1.7 40 1,0 4.6,3.8a3.0,1.7 40 1,0 -4.6,-3.8zM591.6,159.1a3.3,1.7 70 1,0 2.3,6.3a3.3,1.7 70 1,0 -2.3,-6.3zM600.3,156.6a4.0,1.4 65 1,0 3.4,7.3a4.0,1.4 65 1,0 -3.4,-7.3zM616.5,152.7a5.0,1.5 66 1,0 4.0,9.1a5.0,1.5 66 1,0 -4.0,-9.1zM630.8,156.4a3.1,1.4 60 1,0 3.1,5.4a3.1,1.4 60 1,0 -3.1,-5.4zM643.1,158.5a4.6,1.8 76 1,0 2.3,8.9a4.6,1.8 76 1,0 -2.3,-8.9zM657.4,158.3a3.7,2.3 78 1,0 1.5,7.3a3.7,2.3 78 1,0 -1.5,-7.3zM675.6,157.2a3.8,1.8 33 1,0 6.4,4.1a3.8,1.8 33 1,0 -6.4,-4.1zM690.8,155.4a4.6,2.0 73 1,0 2.6,8.9a4.6,2.0 73 1,0 -2.6,-8.9zM699.2,154.1a4.7,2.3 60 1,0 4.7,8.0a4.7,2.3 60 1,0 -4.7,-8.0zM706.6,156.1a4.7,1.5 31 1,0 8.1,4.8a4.7,1.5 31 1,0 -8.1,-4.8zM723.4,156.9a3.4,2.1 43 1,0 5.0,4.7a3.4,2.1 43 1,0 -5.0,-4.7zM745.0,156.7a3.1,2.1 44 1,0 4.5,4.3a3.1,2.1 44 1,0 -4.5,-4.3zM513.8,169.1a3.7,2.4 54 1,0 4.4,6.1a3.7,2.4 54 1,0 -4.4,-6.1zM522.8,170.1a3.0,2.2 30 1,0 5.2,3.0a3.0,2.2 30 1,0 -5.2,-3.0zM542.8,168.1a4.0,1.8 58 1,0 4.3,6.7a4.0,1.8 58 1,0 -4.3,-6.7zM551.5,166.6a4.7,1.4 62 1,0 4.4,8.3a4.7,1.4 62 1,0 -4.4,-8.3zM560.9,165.5a4.6,2.2 42 1,0 6.8,6.1a4.6,2.2 42 1,0 -6.8,-6.1zM577.9,166.0a4.7,1.8 50 1,0 6.1,7.2a4.7,1.8 50 1,0 -6.1,-7.2zM592.7,164.1a2.8,1.4 46 1,0 3.9,4.1a2.8,1.4 46 1,0 -3.9,-4.1zM611.2,170.8a3.3,1.7 54 1,0 3.9,5.4a3.3,1.7 54 1,0 -3.9,-5.4zM618.3,169.0a3.2,1.9 64 1,0 2.8,5.8a3.2,1.9 64 1,0 -2.8,-5.8zM631.4,168.5a3.0,2.0 35 1,0 4.9,3.4a3.0,2.0 35 1,0 -4.9,-3.4zM642.5,165.3a4.2,1.8 57 1,0 4.6,7.0a4.2,1.8 57 1,0 -4.6,-7.0zM658.6,169.7a3.4,2.3 52 1,0 4.2,5.4a3.4,2.3 52 1,0 -4.2,-5.4zM673.4,170.8a3.5,1.9 48 1,0 4.7,5.2a3.5,1.9 48 1,0 -4.7,-5.2zM681.0,167.3a4.1,1.8 64 1,0 3.6,7.4a4.1,1.8 64 1,0 -3.6,-7.4zM707.6,169.6a3.6,1.3 67 1,0 2.9,6.6a3.6,1.3 67 1,0 -2.9,-6.6zM718.1,165.4a4.1,1.9 39 1,0 6.4,5.2a4.1,1.9 39 1,0 -6.4,-5.2zM727.5,165.1a4.0,2.3 79 1,0 1.5,7.8a4.0,2.3 79 1,0 -1.5,-7.8zM743.6,169.4a3.3,2.0 57 1,0 3.6,5.6a3.3,2.0 57 1,0 -3.6,-5.6zM520.1,176.7a4.9,2.1 39 1,0 7.6,6.1a4.9,2.1 39 1,0 -7.6,-6.1zM532.4,175.4a3.6,2.1 51 1,0 4.5,5.6a3.6,2.1 51 1,0 -4.5,-5.6zM545.5,179.7a3.5,2.0 30 1,0 6.1,3.6a3.5,2.0 30 1,0 -6.1,-3.6zM557.0,174.2a3.7,2.4 52 1,0 4.5,5.9a3.7,2.4 52 1,0 -4.5,-5.9zM575.1,176.0a3.2,1.6 36 1,0 5.2,3.7a3.2,1.6 36 1,0 -5.2,-3.7zM587.7,175.3a4.5,1.9 56 1,0 5.0,7.5a4.5,1.9 56 1,0 -5.0,-7.5zM603.1,170.4a4.9,2.3 80 1,0 1.7,9.6a4.9,2.3 80 1,0 -1.7,-9.6zM615.2,177.9a3.0,2.1 54 1,0 3.6,4.9a3.0,2.1 54 1,0 -3.6,-4.9zM627.5,179.1a4.0,2.3 57 1,0 4.4,6.7a4.0,2.3 57 1,0 -4.4,-6.7zM639.4,174.9a3.7,1.9 33 1,0 6.3,4.0a3.7,1.9 33 1,0 -6.3,-4.0zM650.2,178.6a3.7,2.1 31 1,0 6.3,3.8a3.7,2.1 31 1,0 -6.3,-3.8zM663.9,175.9a4.2,1.8 56 1,0 4.7,6.9a4.2,1.8 56 1,0 -4.7,-6.9zM675.0,172.5a4.9,1.5 55 1,0 5.6,8.1a4.9,1.5 55 1,0 -5.6,-8.1zM688.1,175.1a3.7,1.8 76 1,0 1.8,7.3a3.7,1.8 76 1,0 -1.8,-7.3zM702.0,174.0a4.4,1.5 70 1,0 3.1,8.3a4.4,1.5 70 1,0 -3.1,-8.3zM715.0,177.6a3.3,1.4 72 1,0 2.1,6.3a3.3,1.4 72 1,0 -2.1,-6.3zM723.9,177.2a4.9,1.3 38 1,0 7.7,6.0a4.9,1.3 38 1,0 -7.7,-6.0zM492.4,182.8a4.2,1.7 76 1,0 2.0,8.2a4.2,1.7 76 1,0 -2.0,-8.2zM502.8,187.8a3.6,2.2 53 1,0 4.4,5.8a3.6,2.2 53 1,0 -4.4,-5.8zM517.8,182.1a3.0,2.2 77 1,0 1.3,5.8a3.0,2.2 77 1,0 -1.3,-5.8zM528.2,186.0a3.0,1.8 44 1,0 4.3,4.2a3.0,1.8 44 1,0 -4.3,-4.2zM542.4,182.6a3.6,1.5 65 1,0 3.0,6.5a3.6,1.5 65 1,0 -3.0,-6.5zM547.7,188.0a2.8,1.9 33 1,0 4.7,3.1a2.8,1.9 33 1,0 -4.7,-3.1zM560.6,186.1a3.2,1.6 61 1,0 3.0,5.6a3.2,1.6 61 1,0 -3.0,-5.6zM568.6,189.0a4.2,1.5 41 1,0 6.4,5.5a4.2,1.5 41 1,0 -6.4,-5.5zM586.0,184.1a4.2,2.0 58 1,0 4.4,7.0a4.2,2.0 58 1,0 -4.4,-7.0zM605.6,188.0a3.8,1.8 42 1,0 5.7,5.0a3.8,1.8 42 1,0 -5.7,-5.0zM625.5,189.2a3.2,1.8 36 1,0 5.2,3.7a3.2,1.8 36 1,0 -5.2,-3.7zM636.3,183.7a4.8,2.0 63 1,0 4.4,8.6a4.8,2.0 63 1,0 -4.4,-8.6zM646.7,185.2a3.3,2.0 50 1,0 4.2,5.0a3.3,2.0 50 1,0 -4.2,-5.0zM660.7,185.1a3.9,2.4 74 1,0 2.2,7.5a3.9,2.4 74 1,0 -2.2,-7.5zM671.6,189.1a3.3,1.8 74 1,0 1.8,6.4a3.3,1.8 74 1,0 -1.8,-6.4zM684.2,186.0a4.2,2.1 45 1,0 5.9,5.8a4.2,2.1 45 1,0 -5.9,-5.8zM691.3,188.9a4.9,2.1 44 1,0 7.1,6.8a4.9,2.1 44 1,0 -7.1,-6.8zM703.1,182.9a3.9,2.4 48 1,0 5.3,5.8a3.9,2.4 48 1,0 -5.3,-5.8zM717.7,188.4a3.9,2.3 33 1,0 6.5,4.2a3.9,2.3 33 1,0 -6.5,-4.2zM727.8,185.6a3.2,1.9 66 1,0 2.6,5.9a3.2,1.9 66 1,0 -2.6,-5.9zM500.9,191.2a3.5,1.5 72 1,0 2.1,6.7a3.5,1.5 72 1,0 -2.1,-6.7zM504.8,197.3a4.2,1.5 32 1,0 7.1,4.5a4.2,1.5 32 1,0 -7.1,-4.5zM530.6,195.6a4.9,1.6 69 1,0 3.6,9.1a4.9,1.6 69 1,0 -3.6,-9.1zM543.8,197.2a3.2,1.7 46 1,0 4.4,4.6a3.2,1.7 46 1,0 -4.4,-4.6zM551.9,194.2a3.4,2.1 45 1,0 4.8,4.8a3.4,2.1 45 1,0 -4.8,-4.8zM567.1,193.0a4.5,1.4 76 1,0 2.2,8.6a4.5,1.4 76 1,0 -2.2,-8.6zM582.1,194.5a3.6,2.2 66 1,0 2.9,6.5a3.6,2.2 66 1,0 -2.9,-6.5zM594.1,194.3a2.8,2.3 69 1,0 2.0,5.3a2.8,2.3 69 1,0 -2.0,-5.3zM606.0,194.2a4.7,1.5 50 1,0 6.0,7.3a4.7,1.5 50 1,0 -6.0,-7.3zM632.2,198.4a3.3,1.4 57 1,0 3.6,5.6a3.3,1.4 57 1,0 -3.6,-5.6zM637.6,199.4a3.7,2.3 33 1,0 6.2,4.0a3.7,2.3 33 1,0 -6.2,-4.0zM649.6,198.4a3.6,2.1 48 1,0 4.8,5.3a3.6,2.1 48 1,0 -4.8,-5.3zM665.6,193.1a3.3,2.0 42 1,0 4.9,4.3a3.3,2.0 42 1,0 -4.9,-4.3zM672.0,193.4a4.7,1.6 49 1,0 6.1,7.0a4.7,1.6 49 1,0 -6.1,-7.0zM690.6,199.7a4.2,2.3 30 1,0 7.2,4.2a4.2,2.3 30 1,0 -7.2,-4.2zM698.0,192.5a3.6,2.2 45 1,0 5.1,5.0a3.6,2.2 45 1,0 -5.1,-5.0zM715.3,195.6a4.3,1.8 61 1,0 4.2,7.6a4.3,1.8 61 1,0 -4.2,-7.6zM723.3,195.1a4.3,2.1 40 1,0 6.5,5.5a4.3,2.1 40 1,0 -6.5,-5.5zM736.7,191.1a3.1,2.3 79 1,0 1.1,6.0a3.1,2.3 79 1,0 -1.1,-6.0zM750.8,191.9a4.9,2.3 72 1,0 3.0,9.4a4.9,2.3 72 1,0 -3.0,-9.4zM488.0,205.6a4.4,2.3 46 1,0 6.1,6.3a4.4,2.3 46 1,0 -6.1,-6.3zM504.6,203.1a3.2,1.6 71 1,0 2.1,6.0a3.2,1.6 71 1,0 -2.1,-6.0zM525.7,205.9a3.9,2.2 64 1,0 3.5,7.1a3.9,2.2 64 1,0 -3.5,-7.1zM537.0,203.1a4.3,1.7 67 1,0 3.4,8.0a4.3,1.7 67 1,0 -3.4,-8.0zM548.8,208.1a4.5,1.5 48 1,0 6.0,6.7a4.5,1.5 48 1,0 -6.0,-6.7zM559.1,208.2a3.0,1.7 53 1,0 3.6,4.7a3.0,1.7 53 1,0 -3.6,-4.7zM572.2,208.5a4.3,2.0 32 1,0 7.2,4.6a4.3,2.0 32 1,0 -7.2,-4.6zM585.1,201.9a4.4,1.5 49 1,0 5.8,6.6a4.4,1.5 49 1,0 -5.8,-6.6zM598.4,203.7a4.1,2.3 52 1,0 5.0,6.5a4.1,2.3 52 1,0 -5.0,-6.5zM609.6,206.9a4.6,2.0 56 1,0 5.2,7.6a4.6,2.0 56 1,0 -5.2,-7.6zM618.9,202.6a4.8,2.2 39 1,0 7.5,6.0a4.8,2.2 39 1,0 -7.5,-6.0zM638.9,206.8a3.9,1.7 66 1,0 3.2,7.0a3.9,1.7 66 1,0 -3.2,-7.0zM646.5,201.4a4.7,2.0 62 1,0 4.4,8.3a4.7,2.0 62 1,0 -4.4,-8.3zM659.2,205.7a3.3,1.4 61 1,0 3.2,5.8a3.3,1.4 61 1,0 -3.2,-5.8zM669.3,202.5a4.6,1.8 62 1,0 4.3,8.2a4.6,1.8 62 1,0 -4.3,-8.2zM679.3,204.0a3.1,1.6 62 1,0 3.0,5.5a3.1,1.6 62 1,0 -3.0,-5.5zM691.7,205.5a2.9,1.9 46 1,0 4.1,4.3a2.9,1.9 46 1,0 -4.1,-4.3zM708.1,204.4a4.0,1.7 45 1,0 5.6,5.6a4.0,1.7 45 1,0 -5.6,-5.6zM717.0,206.8a3.1,1.6 51 1,0 3.9,4.7a3.1,1.6 51 1,0 -3.9,-4.7zM729.2,202.0a4.4,2.2 77 1,0 2.0,8.6a4.4,2.2 77 1,0 -2.0,-8.6zM739.2,203.9a4.6,1.8 73 1,0 2.7,8.9a4.6,1.8 73 1,0 -2.7,-8.9zM519.4,212.0a4.1,1.6 75 1,0 2.1,8.0a4.1,1.6 75 1,0 -2.1,-8.0zM543.7,214.8a3.0,1.7 31 1,0 5.1,3.1a3.0,1.7 31 1,0 -5.1,-3.1zM557.9,213.4a2.9,1.4 74 1,0 1.6,5.6a2.9,1.4 74 1,0 -1.6,-5.6zM571.4,211.4a4.1,1.9 74 1,0 2.3,7.8a4.1,1.9 74 1,0 -2.3,-7.8zM579.8,217.5a3.9,2.0 43 1,0 5.8,5.4a3.9,2.0 43 1,0 -5.8,-5.4zM591.4,212.8a3.0,2.3 70 1,0 2.1,5.7a3.0,2.3 70 1,0 -2.1,-5.7zM602.4,210.6a3.7,1.3 75 1,0 1.9,7.1a3.7,1.3 75 1,0 -1.9,-7.1zM629.1,211.8a4.6,2.2 39 1,0 7.2,5.8a4.6,2.2 39 1,0 -7.2,-5.8zM649.2,216.6a3.7,1.9 45 1,0 5.2,5.2a3.7,1.9 45 1,0 -5.2,-5.2zM662.7,214.9a3.6,2.3 32 1,0 6.2,3.9a3.6,2.3 32 1,0 -6.2,-3.9zM677.5,212.5a4.4,2.4 43 1,0 6.4,5.9a4.4,2.4 43 1,0 -6.4,-5.9zM690.3,213.0a4.6,1.9 47 1,0 6.2,6.8a4.6,1.9 47 1,0 -6.2,-6.8zM703.1,215.1a4.4,1.8 67 1,0 3.3,8.1a4.4,1.8 67 1,0 -3.3,-8.1zM707.2,215.0a4.0,2.1 38 1,0 6.2,4.9a4.0,2.1 38 1,0 -6.2,-4.9zM734.5,218.8a2.8,1.9 50 1,0 3.6,4.4a2.8,1.9 50 1,0 -3.6,-4.4zM504.8,227.4a3.0,1.7 48 1,0 4.0,4.5a3.0,1.7 48 1,0 -4.0,-4.5zM536.7,226.3a2.9,1.9 39 1,0 4.5,3.6a2.9,1.9 39 1,0 -4.5,-3.6zM546.6,222.2a3.2,1.6 38 1,0 5.1,3.9a3.2,1.6 38 1,0 -5.1,-3.9zM589.5,226.7a3.1,1.6 76 1,0 1.5,6.0a3.1,1.6 76 1,0 -1.5,-6.0zM605.7,224.8a3.8,1.9 32 1,0 6.4,4.0a3.8,1.9 32 1,0 -6.4,-4.0zM619.7,221.0a3.4,1.9 58 1,0 3.6,5.8a3.4,1.9 58 1,0 -3.6,-5.8zM632.8,222.4a2.8,1.7 62 1,0 2.7,5.0a2.8,1.7 62 1,0 -2.7,-5.0zM667.1,227.9a2.9,2.4 41 1,0 4.4,3.8a2.9,2.4 41 1,0 -4.4,-3.8zM683.7,222.8a4.2,1.8 79 1,0 1.5,8.2a4.2,1.8 79 1,0 -1.5,-8.2zM729.2,225.6a3.4,1.6 34 1,0 5.6,3.8a3.4,1.6 34 1,0 -5.6,-3.8zM549.9,229.4a4.4,2.0 79 1,0 1.7,8.5a4.4,2.0 79 1,0 -1.7,-8.5zM556.0,231.5a4.2,2.4 50 1,0 5.5,6.5a4.2,2.4 50 1,0 -5.5,-6.5zM593.3,232.3a3.4,1.6 36 1,0 5.5,3.9a3.4,1.6 36 1,0 -5.5,-3.9z"/><path fill="#c04048" opacity="0.33" d="M527.1,48.3a4.2,2.9 -43 1,0 6.2,-5.7a4.2,2.9 -43 1,0 -6.2,5.7zM586.4,51.1a5.8,2.3 -43 1,0 8.5,-7.9a5.8,2.3 -43 1,0 -8.5,7.9zM718.7,47.6a5.5,2.8 -43 1,0 8.0,-7.5a5.5,2.8 -43 1,0 -8.0,7.5zM468.8,62.4a6.3,3.1 -46 1,0 8.8,-9.1a6.3,3.1 -46 1,0 -8.8,9.1zM517.1,60.9a4.2,2.7 -33 1,0 7.0,-4.6a4.2,2.7 -33 1,0 -7.0,4.6zM529.3,56.8a6.0,2.4 -40 1,0 9.2,-7.7a6.0,2.4 -40 1,0 -9.2,7.7zM565.6,60.1a5.0,3.2 -23 1,0 9.1,-3.9a5.0,3.2 -23 1,0 -9.1,3.9zM577.2,60.0a6.4,2.8 -38 1,0 10.1,-7.9a6.4,2.8 -38 1,0 -10.1,7.9zM589.5,57.9a5.3,2.7 -21 1,0 10.0,-3.9a5.3,2.7 -21 1,0 -10.0,3.9zM617.4,59.8a5.5,3.3 -46 1,0 7.7,-8.0a5.5,3.3 -46 1,0 -7.7,8.0zM649.1,57.8a4.5,3.0 -31 1,0 7.7,-4.6a4.5,3.0 -31 1,0 -7.7,4.6zM663.4,59.0a5.9,3.2 -23 1,0 10.8,-4.6a5.9,3.2 -23 1,0 -10.8,4.6zM671.7,56.9a4.2,3.2 -37 1,0 6.7,-5.1a4.2,3.2 -37 1,0 -6.7,5.1zM682.9,57.1a4.5,3.0 -23 1,0 8.3,-3.5a4.5,3.0 -23 1,0 -8.3,3.5zM707.0,56.2a5.4,2.8 -33 1,0 9.0,-5.8a5.4,2.8 -33 1,0 -9.0,5.8zM483.5,69.8a6.3,2.4 -36 1,0 10.3,-7.4a6.3,2.4 -36 1,0 -10.3,7.4zM500.0,69.9a5.6,2.9 -41 1,0 8.4,-7.5a5.6,2.9 -41 1,0 -8.4,7.5zM510.9,65.1a4.4,3.1 -38 1,0 6.9,-5.4a4.4,3.1 -38 1,0 -6.9,5.4zM534.7,71.7a6.4,3.2 -32 1,0 10.9,-6.8a6.4,3.2 -32 1,0 -10.9,6.8zM545.3,68.0a4.7,2.9 -37 1,0 7.4,-5.7a4.7,2.9 -37 1,0 -7.4,5.7zM570.2,70.6a5.6,3.1 -44 1,0 8.0,-7.8a5.6,3.1 -44 1,0 -8.0,7.8zM582.5,69.0a5.4,2.3 -47 1,0 7.2,-7.9a5.4,2.3 -47 1,0 -7.2,7.9zM596.4,68.4a4.5,2.6 -28 1,0 8.0,-4.2a4.5,2.6 -28 1,0 -8.0,4.2zM635.2,69.6a6.2,2.3 -48 1,0 8.4,-9.1a6.2,2.3 -48 1,0 -8.4,9.1zM641.4,70.4a5.8,3.0 -42 1,0 8.7,-7.7a5.8,3.0 -42 1,0 -8.7,7.7zM671.3,66.9a4.9,2.7 -38 1,0 7.7,-6.1a4.9,2.7 -38 1,0 -7.7,6.1zM678.0,69.4a4.1,2.8 -34 1,0 6.8,-4.5a4.1,2.8 -34 1,0 -6.8,4.5zM493.9,75.0a6.4,2.9 -24 1,0 11.6,-5.3a6.4,2.9 -24 1,0 -11.6,5.3zM503.1,79.2a6.1,2.6 -41 1,0 9.2,-7.9a6.1,2.6 -41 1,0 -9.2,7.9zM531.5,74.6a4.6,2.9 -36 1,0 7.4,-5.4a4.6,2.9 -36 1,0 -7.4,5.4zM541.3,78.6a5.0,3.0 -42 1,0 7.4,-6.7a5.0,3.0 -42 1,0 -7.4,6.7zM552.9,79.1a4.2,3.0 -29 1,0 7.4,-4.1a4.2,3.0 -29 1,0 -7.4,4.1zM562.1,76.2a6.3,2.7 -35 1,0 10.4,-7.2a6.3,2.7 -35 1,0 -10.4,7.2zM590.1,75.6a6.0,3.2 -32 1,0 10.2,-6.3a6.0,3.2 -32 1,0 -10.2,6.3zM599.0,80.4a5.8,3.2 -44 1,0 8.3,-8.1a5.8,3.2 -44 1,0 -8.3,8.1zM614.9,76.6a5.4,3.0 -40 1,0 8.3,-7.0a5.4,3.0 -40 1,0 -8.3,7.0zM642.0,81.0a4.3,3.2 -41 1,0 6.5,-5.7a4.3,3.2 -41 1,0 -6.5,5.7zM648.4,79.5a5.4,2.3 -49 1,0 7.0,-8.1a5.4,2.3 -49 1,0 -7.0,8.1zM672.2,78.8a4.8,3.0 -49 1,0 6.4,-7.3a4.8,3.0 -49 1,0 -6.4,7.3zM686.3,78.4a5.2,3.4 -25 1,0 9.5,-4.4a5.2,3.4 -25 1,0 -9.5,4.4zM710.8,80.7a5.9,2.6 -32 1,0 10.0,-6.3a5.9,2.6 -32 1,0 -10.0,6.3zM724.2,78.9a5.0,2.5 -48 1,0 6.7,-7.4a5.0,2.5 -48 1,0 -6.7,7.4zM473.2,89.2a5.6,2.3 -21 1,0 10.5,-3.9a5.6,2.3 -21 1,0 -10.5,3.9zM488.0,86.8a4.7,2.5 -26 1,0 8.5,-4.1a4.7,2.5 -26 1,0 -8.5,4.1zM497.5,90.2a5.2,3.1 -38 1,0 8.1,-6.4a5.2,3.1 -38 1,0 -8.1,6.4zM511.6,84.6a4.9,3.0 -27 1,0 8.8,-4.4a4.9,3.0 -27 1,0 -8.8,4.4zM521.3,88.4a4.6,2.7 -27 1,0 8.2,-4.1a4.6,2.7 -27 1,0 -8.2,4.1zM536.1,85.3a5.4,3.2 -45 1,0 7.7,-7.6a5.4,3.2 -45 1,0 -7.7,7.6zM550.5,85.4a5.4,3.1 -43 1,0 7.9,-7.3a5.4,3.1 -43 1,0 -7.9,7.3zM559.0,88.2a4.4,2.5 -45 1,0 6.2,-6.3a4.4,2.5 -45 1,0 -6.2,6.3zM569.6,91.7a5.9,3.4 -46 1,0 8.3,-8.4a5.9,3.4 -46 1,0 -8.3,8.4zM583.5,85.1a4.1,3.4 -27 1,0 7.3,-3.7a4.1,3.4 -27 1,0 -7.3,3.7zM619.1,85.1a4.5,2.5 -36 1,0 7.3,-5.3a4.5,2.5 -36 1,0 -7.3,5.3zM631.7,85.1a4.7,2.2 -45 1,0 6.7,-6.6a4.7,2.2 -45 1,0 -6.7,6.6zM641.4,91.7a5.8,3.3 -49 1,0 7.6,-8.8a5.8,3.3 -49 1,0 -7.6,8.8zM656.7,83.8a4.1,2.4 -32 1,0 6.9,-4.4a4.1,2.4 -32 1,0 -6.9,4.4zM666.1,88.1a4.5,2.5 -29 1,0 7.9,-4.3a4.5,2.5 -29 1,0 -7.9,4.3zM676.7,83.5a5.4,3.2 -21 1,0 10.1,-3.8a5.4,3.2 -21 1,0 -10.1,3.8zM696.3,89.5a4.2,2.7 -38 1,0 6.6,-5.2a4.2,2.7 -38 1,0 -6.6,5.2zM703.7,87.3a4.6,2.3 -40 1,0 7.1,-5.9a4.6,2.3 -40 1,0 -7.1,5.9zM712.1,86.7a5.0,2.3 -35 1,0 8.2,-5.8a5.0,2.3 -35 1,0 -8.2,5.8zM471.9,97.0a5.8,2.6 -40 1,0 8.9,-7.4a5.8,2.6 -40 1,0 -8.9,7.4zM483.5,98.5a5.8,2.9 -25 1,0 10.4,-4.9a5.8,2.9 -25 1,0 -10.4,4.9zM491.2,95.6a4.5,2.2 -32 1,0 7.5,-4.8a4.5,2.2 -32 1,0 -7.5,4.8zM508.6,93.7a5.6,2.7 -22 1,0 10.3,-4.2a5.6,2.7 -22 1,0 -10.3,4.2zM514.0,97.0a4.7,3.1 -20 1,0 8.9,-3.3a4.7,3.1 -20 1,0 -8.9,3.3zM528.0,98.2a5.0,2.9 -27 1,0 8.9,-4.5a5.0,2.9 -27 1,0 -8.9,4.5zM542.1,98.4a4.4,2.4 -47 1,0 6.0,-6.4a4.4,2.4 -47 1,0 -6.0,6.4zM553.2,96.8a4.0,2.9 -46 1,0 5.7,-5.8a4.0,2.9 -46 1,0 -5.7,5.8zM563.0,93.6a4.2,2.4 -35 1,0 6.8,-4.9a4.2,2.4 -35 1,0 -6.8,4.9zM575.6,100.8a6.0,2.7 -48 1,0 8.0,-9.0a6.0,2.7 -48 1,0 -8.0,9.0zM594.8,96.8a4.4,2.2 -45 1,0 6.3,-6.3a4.4,2.2 -45 1,0 -6.3,6.3zM597.3,94.5a5.3,3.2 -26 1,0 9.5,-4.7a5.3,3.2 -26 1,0 -9.5,4.7zM611.8,100.4a4.6,3.3 -49 1,0 6.0,-7.0a4.6,3.3 -49 1,0 -6.0,7.0zM624.7,99.5a6.3,2.6 -47 1,0 8.5,-9.2a6.3,2.6 -47 1,0 -8.5,9.2zM635.3,94.4a5.1,2.2 -35 1,0 8.3,-5.8a5.1,2.2 -35 1,0 -8.3,5.8zM660.0,96.7a4.5,2.6 -20 1,0 8.4,-3.1a4.5,2.6 -20 1,0 -8.4,3.1zM676.2,98.6a5.4,2.3 -25 1,0 9.8,-4.6a5.4,2.3 -25 1,0 -9.8,4.6zM686.1,97.4a5.6,2.7 -32 1,0 9.4,-5.9a5.6,2.7 -32 1,0 -9.4,5.9zM694.7,97.7a6.2,2.4 -20 1,0 11.6,-4.3a6.2,2.4 -20 1,0 -11.6,4.3zM711.8,98.2a6.2,3.1 -42 1,0 9.1,-8.3a6.2,3.1 -42 1,0 -9.1,8.3zM476.4,105.7a6.2,2.5 -37 1,0 9.9,-7.6a6.2,2.5 -37 1,0 -9.9,7.6zM490.7,104.6a5.8,3.0 -40 1,0 8.9,-7.4a5.8,3.0 -40 1,0 -8.9,7.4zM503.9,103.6a4.9,2.8 -41 1,0 7.5,-6.4a4.9,2.8 -41 1,0 -7.5,6.4zM521.5,106.8a5.9,2.3 -45 1,0 8.3,-8.3a5.9,2.3 -45 1,0 -8.3,8.3zM536.6,103.5a6.1,3.3 -23 1,0 11.3,-4.8a6.1,3.3 -23 1,0 -11.3,4.8zM546.9,106.0a4.3,2.3 -35 1,0 7.1,-4.9a4.3,2.3 -35 1,0 -7.1,4.9zM573.3,107.6a4.0,2.4 -25 1,0 7.3,-3.5a4.0,2.4 -25 1,0 -7.3,3.5zM583.6,109.5a4.1,2.7 -48 1,0 5.5,-6.1a4.1,2.7 -48 1,0 -5.5,6.1zM598.4,110.5a6.3,2.7 -41 1,0 9.4,-8.2a6.3,2.7 -41 1,0 -9.4,8.2zM608.0,105.5a4.2,2.8 -34 1,0 6.9,-4.6a4.2,2.8 -34 1,0 -6.9,4.6zM618.6,108.9a5.0,3.4 -50 1,0 6.5,-7.7a5.0,3.4 -50 1,0 -6.5,7.7zM633.4,108.0a5.3,3.1 -48 1,0 7.0,-7.9a5.3,3.1 -48 1,0 -7.0,7.9zM642.3,106.3a6.5,3.2 -40 1,0 9.9,-8.3a6.5,3.2 -40 1,0 -9.9,8.3zM676.6,108.3a4.9,2.7 -37 1,0 7.9,-5.9a4.9,2.7 -37 1,0 -7.9,5.9zM693.3,106.4a4.8,3.3 -33 1,0 8.0,-5.2a4.8,3.3 -33 1,0 -8.0,5.2zM702.2,105.5a4.3,3.2 -36 1,0 7.0,-5.0a4.3,3.2 -36 1,0 -7.0,5.0zM716.6,105.9a5.9,2.4 -32 1,0 9.9,-6.3a5.9,2.4 -32 1,0 -9.9,6.3zM726.0,105.9a5.5,2.8 -21 1,0 10.2,-3.8a5.5,2.8 -21 1,0 -10.2,3.8zM480.5,116.0a6.4,3.0 -48 1,0 8.5,-9.4a6.4,3.0 -48 1,0 -8.5,9.4zM517.8,113.3a5.3,2.6 -35 1,0 8.7,-6.1a5.3,2.6 -35 1,0 -8.7,6.1zM530.3,118.3a4.8,2.6 -29 1,0 8.3,-4.6a4.8,2.6 -29 1,0 -8.3,4.6zM549.0,115.0a5.5,2.9 -22 1,0 10.3,-4.1a5.5,2.9 -22 1,0 -10.3,4.1zM568.8,113.0a5.7,2.8 -33 1,0 9.6,-6.2a5.7,2.8 -33 1,0 -9.6,6.2zM581.7,115.1a4.0,3.1 -42 1,0 6.0,-5.4a4.0,3.1 -42 1,0 -6.0,5.4zM593.1,114.3a5.2,3.1 -40 1,0 8.0,-6.7a5.2,3.1 -40 1,0 -8.0,6.7zM598.3,113.9a5.8,3.0 -26 1,0 10.4,-5.2a5.8,3.0 -26 1,0 -10.4,5.2zM625.3,113.7a4.8,3.1 -39 1,0 7.6,-6.0a4.8,3.1 -39 1,0 -7.6,6.0zM661.1,116.6a6.3,2.3 -44 1,0 9.1,-8.9a6.3,2.3 -44 1,0 -9.1,8.9zM673.7,117.8a6.4,2.3 -43 1,0 9.3,-8.7a6.4,2.3 -43 1,0 -9.3,8.7zM683.2,116.8a6.4,2.8 -32 1,0 10.9,-6.8a6.4,2.8 -32 1,0 -10.9,6.8zM700.9,115.4a4.4,3.1 -44 1,0 6.4,-6.1a4.4,3.1 -44 1,0 -6.4,6.1zM707.8,112.8a4.7,2.9 -39 1,0 7.2,-5.8a4.7,2.9 -39 1,0 -7.2,5.8zM719.5,115.6a6.3,2.5 -22 1,0 11.7,-4.7a6.3,2.5 -22 1,0 -11.7,4.7zM488.7,128.0a5.8,2.3 -24 1,0 10.6,-4.7a5.8,2.3 -24 1,0 -10.6,4.7zM512.7,124.8a4.4,3.2 -43 1,0 6.4,-6.0a4.4,3.2 -43 1,0 -6.4,6.0zM526.2,126.1a4.7,2.4 -31 1,0 8.1,-4.8a4.7,2.4 -31 1,0 -8.1,4.8zM539.6,126.0a4.8,2.5 -34 1,0 8.0,-5.5a4.8,2.5 -34 1,0 -8.0,5.5zM546.8,124.2a4.8,2.3 -48 1,0 6.4,-7.2a4.8,2.3 -48 1,0 -6.4,7.2zM557.4,124.7a5.1,3.0 -27 1,0 9.0,-4.6a5.1,3.0 -27 1,0 -9.0,4.6zM576.5,125.0a4.1,2.4 -33 1,0 6.9,-4.6a4.1,2.4 -33 1,0 -6.9,4.6zM584.9,124.3a5.2,3.3 -23 1,0 9.5,-4.1a5.2,3.3 -23 1,0 -9.5,4.1zM594.6,125.9a5.6,3.0 -32 1,0 9.6,-5.9a5.6,3.0 -32 1,0 -9.6,5.9zM603.4,125.5a6.4,3.2 -35 1,0 10.4,-7.4a6.4,3.2 -35 1,0 -10.4,7.4zM621.3,125.3a6.2,2.5 -26 1,0 11.2,-5.5a6.2,2.5 -26 1,0 -11.2,5.5zM632.3,124.0a5.1,2.8 -24 1,0 9.4,-4.1a5.1,2.8 -24 1,0 -9.4,4.1zM643.8,127.2a6.4,3.0 -30 1,0 11.0,-6.4a6.4,3.0 -30 1,0 -11.0,6.4zM653.7,127.0a5.9,2.5 -32 1,0 10.1,-6.2a5.9,2.5 -32 1,0 -10.1,6.2zM667.8,127.1a5.5,3.1 -27 1,0 9.7,-5.0a5.5,3.1 -27 1,0 -9.7,5.0zM683.6,124.0a5.8,3.3 -42 1,0 8.7,-7.7a5.8,3.3 -42 1,0 -8.7,7.7zM693.8,123.7a4.4,2.9 -36 1,0 7.0,-5.2a4.4,2.9 -36 1,0 -7.0,5.2zM700.1,125.3a6.1,2.7 -42 1,0 9.1,-8.1a6.1,2.7 -42 1,0 -9.1,8.1zM715.5,128.2a4.4,2.3 -47 1,0 6.0,-6.5a4.4,2.3 -47 1,0 -6.0,6.5zM509.7,132.4a4.1,3.2 -31 1,0 7.0,-4.2a4.1,3.2 -31 1,0 -7.0,4.2zM518.2,134.1a6.2,3.4 -22 1,0 11.5,-4.7a6.2,3.4 -22 1,0 -11.5,4.7zM525.8,132.5a5.3,2.6 -24 1,0 9.6,-4.3a5.3,2.6 -24 1,0 -9.6,4.3zM539.5,135.8a6.3,2.7 -27 1,0 11.3,-5.8a6.3,2.7 -27 1,0 -11.3,5.8zM552.2,135.8a5.4,3.0 -49 1,0 7.1,-8.3a5.4,3.0 -49 1,0 -7.1,8.3zM569.6,134.6a4.7,3.2 -28 1,0 8.2,-4.4a4.7,3.2 -28 1,0 -8.2,4.4zM592.2,132.0a6.1,2.5 -29 1,0 10.6,-5.8a6.1,2.5 -29 1,0 -10.6,5.8zM603.3,131.5a4.7,3.2 -29 1,0 8.3,-4.6a4.7,3.2 -29 1,0 -8.3,4.6zM615.1,135.8a5.2,2.3 -35 1,0 8.5,-6.0a5.2,2.3 -35 1,0 -8.5,6.0zM653.2,136.7a4.4,2.4 -49 1,0 5.7,-6.6a4.4,2.4 -49 1,0 -5.7,6.6zM663.6,138.1a4.7,2.4 -47 1,0 6.5,-6.9a4.7,2.4 -47 1,0 -6.5,6.9zM670.8,135.1a5.2,2.2 -32 1,0 8.8,-5.4a5.2,2.2 -32 1,0 -8.8,5.4zM685.3,137.6a5.8,2.6 -29 1,0 10.1,-5.6a5.8,2.6 -29 1,0 -10.1,5.6zM692.8,132.9a6.0,3.0 -22 1,0 11.0,-4.5a6.0,3.0 -22 1,0 -11.0,4.5zM710.5,137.8a6.4,3.3 -33 1,0 10.8,-6.9a6.4,3.3 -33 1,0 -10.8,6.9zM501.8,145.1a5.2,2.5 -32 1,0 8.8,-5.5a5.2,2.5 -32 1,0 -8.8,5.5zM527.8,146.6a5.3,3.2 -38 1,0 8.3,-6.5a5.3,3.2 -38 1,0 -8.3,6.5zM534.8,144.8a6.5,2.3 -38 1,0 10.2,-8.0a6.5,2.3 -38 1,0 -10.2,8.0zM550.1,145.9a6.2,2.5 -50 1,0 8.1,-9.5a6.2,2.5 -50 1,0 -8.1,9.5zM568.5,148.8a6.0,2.3 -49 1,0 7.8,-9.0a6.0,2.3 -49 1,0 -7.8,9.0zM595.7,145.9a4.1,2.8 -46 1,0 5.7,-5.9a4.1,2.8 -46 1,0 -5.7,5.9zM604.9,145.4a5.1,3.0 -28 1,0 8.9,-4.8a5.1,3.0 -28 1,0 -8.9,4.8zM620.7,145.3a6.4,2.9 -46 1,0 8.9,-9.3a6.4,2.9 -46 1,0 -8.9,9.3zM635.4,143.5a5.0,2.6 -31 1,0 8.7,-5.1a5.0,2.6 -31 1,0 -8.7,5.1zM643.2,144.0a4.3,3.2 -22 1,0 7.9,-3.2a4.3,3.2 -22 1,0 -7.9,3.2zM651.6,143.6a6.2,2.6 -36 1,0 10.0,-7.2a6.2,2.6 -36 1,0 -10.0,7.2zM669.3,145.3a4.3,2.3 -26 1,0 7.7,-3.8a4.3,2.3 -26 1,0 -7.7,3.8zM678.1,144.0a6.3,3.2 -33 1,0 10.6,-6.8a6.3,3.2 -33 1,0 -10.6,6.8zM689.7,142.2a6.2,3.3 -27 1,0 11.1,-5.7a6.2,3.3 -27 1,0 -11.1,5.7zM702.4,143.9a5.4,3.1 -25 1,0 9.8,-4.6a5.4,3.1 -25 1,0 -9.8,4.6zM714.1,143.8a5.9,2.6 -25 1,0 10.8,-5.0a5.9,2.6 -25 1,0 -10.8,5.0zM516.4,156.7a6.2,3.2 -35 1,0 10.3,-7.1a6.2,3.2 -35 1,0 -10.3,7.1zM533.3,151.9a4.9,2.5 -48 1,0 6.5,-7.2a4.9,2.5 -48 1,0 -6.5,7.2zM538.9,155.8a4.9,2.5 -48 1,0 6.6,-7.4a4.9,2.5 -48 1,0 -6.6,7.4zM557.4,151.9a4.1,2.3 -26 1,0 7.3,-3.6a4.1,2.3 -26 1,0 -7.3,3.6zM568.3,156.3a5.2,2.8 -33 1,0 8.7,-5.6a5.2,2.8 -33 1,0 -8.7,5.6zM579.3,157.1a4.9,3.3 -45 1,0 7.0,-7.0a4.9,3.3 -45 1,0 -7.0,7.0zM592.4,152.0a6.2,3.1 -42 1,0 9.2,-8.3a6.2,3.1 -42 1,0 -9.2,8.3zM598.0,155.4a6.2,3.3 -46 1,0 8.6,-9.0a6.2,3.3 -46 1,0 -8.6,9.0zM628.9,155.8a5.1,3.0 -32 1,0 8.8,-5.4a5.1,3.0 -32 1,0 -8.8,5.4zM639.6,155.0a4.6,3.1 -23 1,0 8.5,-3.6a4.6,3.1 -23 1,0 -8.5,3.6zM651.9,156.1a5.3,3.0 -40 1,0 8.1,-6.9a5.3,3.0 -40 1,0 -8.1,6.9zM665.5,158.2a6.1,2.9 -48 1,0 8.1,-9.0a6.1,2.9 -48 1,0 -8.1,9.0zM672.9,156.3a5.7,3.0 -29 1,0 9.9,-5.5a5.7,3.0 -29 1,0 -9.9,5.5zM686.2,153.2a5.4,2.3 -50 1,0 6.9,-8.2a5.4,2.3 -50 1,0 -6.9,8.2zM720.9,151.8a6.2,2.9 -39 1,0 9.6,-7.8a6.2,2.9 -39 1,0 -9.6,7.8zM512.2,161.7a4.1,2.8 -22 1,0 7.6,-3.1a4.1,2.8 -22 1,0 -7.6,3.1zM525.0,162.9a4.7,3.3 -40 1,0 7.3,-6.0a4.7,3.3 -40 1,0 -7.3,6.0zM540.3,163.2a4.1,2.9 -31 1,0 7.0,-4.3a4.1,2.9 -31 1,0 -7.0,4.3zM547.1,161.3a4.1,2.8 -37 1,0 6.5,-4.9a4.1,2.8 -37 1,0 -6.5,4.9zM555.2,164.0a5.8,2.5 -29 1,0 10.0,-5.6a5.8,2.5 -29 1,0 -10.0,5.6zM574.7,164.9a6.3,2.3 -41 1,0 9.5,-8.3a6.3,2.3 -41 1,0 -9.5,8.3zM583.2,164.4a5.3,2.3 -37 1,0 8.6,-6.4a5.3,2.3 -37 1,0 -8.6,6.4zM591.4,165.2a6.4,3.0 -43 1,0 9.3,-8.7a6.4,3.0 -43 1,0 -9.3,8.7zM624.0,160.9a4.2,3.2 -32 1,0 7.2,-4.4a4.2,3.2 -32 1,0 -7.2,4.4zM633.3,165.2a4.8,2.4 -35 1,0 7.8,-5.5a4.8,2.4 -35 1,0 -7.8,5.5zM646.3,164.8a4.9,2.3 -27 1,0 8.7,-4.4a4.9,2.3 -27 1,0 -8.7,4.4zM657.2,165.7a5.5,2.3 -30 1,0 9.6,-5.5a5.5,2.3 -30 1,0 -9.6,5.5zM668.0,161.4a5.2,2.3 -37 1,0 8.2,-6.3a5.2,2.3 -37 1,0 -8.2,6.3zM682.8,164.7a5.1,2.3 -46 1,0 7.1,-7.5a5.1,2.3 -46 1,0 -7.1,7.5zM691.7,161.1a5.5,3.0 -31 1,0 9.4,-5.6a5.5,3.0 -31 1,0 -9.4,5.6zM701.5,162.0a6.3,2.4 -44 1,0 9.1,-8.8a6.3,2.4 -44 1,0 -9.1,8.8zM730.2,165.9a6.4,2.9 -42 1,0 9.4,-8.6a6.4,2.9 -42 1,0 -9.4,8.6zM480.2,175.2a6.4,3.4 -35 1,0 10.4,-7.3a6.4,3.4 -35 1,0 -10.4,7.3zM494.3,172.1a5.5,3.1 -32 1,0 9.3,-5.7a5.5,3.1 -32 1,0 -9.3,5.7zM505.0,174.5a5.4,3.0 -33 1,0 9.0,-5.9a5.4,3.0 -33 1,0 -9.0,5.9zM513.9,173.1a6.2,2.4 -29 1,0 10.9,-6.0a6.2,2.4 -29 1,0 -10.9,6.0zM533.8,175.9a5.1,2.4 -39 1,0 8.0,-6.5a5.1,2.4 -39 1,0 -8.0,6.5zM553.6,171.3a5.1,2.7 -32 1,0 8.6,-5.4a5.1,2.7 -32 1,0 -8.6,5.4zM568.8,173.1a5.8,2.7 -29 1,0 10.1,-5.7a5.8,2.7 -29 1,0 -10.1,5.7zM578.3,174.8a6.4,3.1 -47 1,0 8.7,-9.4a6.4,3.1 -47 1,0 -8.7,9.4zM586.8,169.5a4.1,2.4 -35 1,0 6.7,-4.7a4.1,2.4 -35 1,0 -6.7,4.7zM611.0,176.2a5.2,3.2 -42 1,0 7.8,-7.0a5.2,3.2 -42 1,0 -7.8,7.0zM621.7,173.4a6.5,2.6 -20 1,0 12.2,-4.5a6.5,2.6 -20 1,0 -12.2,4.5zM634.5,170.1a4.7,3.1 -37 1,0 7.5,-5.6a4.7,3.1 -37 1,0 -7.5,5.6zM651.5,176.5a6.0,2.3 -46 1,0 8.2,-8.6a6.0,2.3 -46 1,0 -8.2,8.6zM664.9,176.6a5.2,2.7 -46 1,0 7.2,-7.6a5.2,2.7 -46 1,0 -7.2,7.6zM672.5,174.2a5.3,2.4 -28 1,0 9.3,-5.0a5.3,2.4 -28 1,0 -9.3,5.0zM685.5,175.3a5.2,2.5 -41 1,0 7.9,-6.9a5.2,2.5 -41 1,0 -7.9,6.9zM698.9,174.6a4.3,2.5 -46 1,0 5.9,-6.2a4.3,2.5 -46 1,0 -5.9,6.2zM711.2,169.2a4.6,3.1 -27 1,0 8.2,-4.2a4.6,3.1 -27 1,0 -8.2,4.2zM718.2,170.8a5.2,3.0 -33 1,0 8.6,-5.6a5.2,3.0 -33 1,0 -8.6,5.6zM476.2,186.8a6.4,2.8 -44 1,0 9.2,-8.8a6.4,2.8 -44 1,0 -9.2,8.8zM489.0,185.1a5.2,2.8 -39 1,0 8.0,-6.6a5.2,2.8 -39 1,0 -8.0,6.6zM497.0,181.2a5.3,3.1 -38 1,0 8.4,-6.5a5.3,3.1 -38 1,0 -8.4,6.5zM526.4,180.7a4.8,2.6 -45 1,0 6.8,-6.9a4.8,2.6 -45 1,0 -6.8,6.9zM538.8,185.8a6.3,3.3 -38 1,0 10.0,-7.7a6.3,3.3 -38 1,0 -10.0,7.7zM549.8,181.1a6.1,3.0 -46 1,0 8.5,-8.7a6.1,3.0 -46 1,0 -8.5,8.7zM558.2,180.6a4.6,2.8 -30 1,0 8.0,-4.6a4.6,2.8 -30 1,0 -8.0,4.6zM568.7,182.6a5.7,3.0 -47 1,0 7.8,-8.4a5.7,3.0 -47 1,0 -7.8,8.4zM581.4,182.8a4.2,3.1 -48 1,0 5.7,-6.3a4.2,3.1 -48 1,0 -5.7,6.3zM594.1,180.1a6.1,2.3 -37 1,0 9.7,-7.3a6.1,2.3 -37 1,0 -9.7,7.3zM608.8,183.6a4.4,3.0 -37 1,0 7.1,-5.3a4.4,3.0 -37 1,0 -7.1,5.3zM619.0,185.0a5.0,2.2 -48 1,0 6.6,-7.4a5.0,2.2 -48 1,0 -6.6,7.4zM633.6,180.2a5.0,3.0 -40 1,0 7.7,-6.4a5.0,3.0 -40 1,0 -7.7,6.4zM640.2,183.9a6.5,2.9 -28 1,0 11.5,-6.1a6.5,2.9 -28 1,0 -11.5,6.1zM654.4,181.0a6.2,2.8 -29 1,0 10.7,-6.0a6.2,2.8 -29 1,0 -10.7,6.0zM666.8,180.2a5.3,2.2 -32 1,0 9.0,-5.5a5.3,2.2 -32 1,0 -9.0,5.5zM679.9,179.6a4.4,2.2 -31 1,0 7.6,-4.5a4.4,2.2 -31 1,0 -7.6,4.5zM693.0,181.5a4.8,2.3 -28 1,0 8.4,-4.5a4.8,2.3 -28 1,0 -8.4,4.5zM705.1,184.8a5.8,2.3 -49 1,0 7.7,-8.8a5.8,2.3 -49 1,0 -7.7,8.8zM728.2,183.6a6.1,3.4 -23 1,0 11.3,-4.7a6.1,3.4 -23 1,0 -11.3,4.7zM496.7,190.9a4.1,2.3 -24 1,0 7.6,-3.3a4.1,2.3 -24 1,0 -7.6,3.3zM510.6,188.9a4.1,3.3 -40 1,0 6.2,-5.2a4.1,3.3 -40 1,0 -6.2,5.2zM520.8,191.9a5.3,3.1 -31 1,0 9.0,-5.4a5.3,3.1 -31 1,0 -9.0,5.4zM534.5,189.0a4.3,3.3 -43 1,0 6.2,-5.9a4.3,3.3 -43 1,0 -6.2,5.9zM540.3,191.5a5.1,2.6 -22 1,0 9.4,-3.8a5.1,2.6 -22 1,0 -9.4,3.8zM550.3,191.7a5.5,2.6 -29 1,0 9.6,-5.3a5.5,2.6 -29 1,0 -9.6,5.3zM562.9,193.1a4.2,2.7 -21 1,0 7.8,-3.0a4.2,2.7 -21 1,0 -7.8,3.0zM577.2,189.9a6.2,3.2 -24 1,0 11.2,-5.1a6.2,3.2 -24 1,0 -11.2,5.1zM586.9,189.5a5.5,2.3 -24 1,0 10.0,-4.4a5.5,2.3 -24 1,0 -10.0,4.4zM599.4,195.2a5.0,2.6 -41 1,0 7.5,-6.5a5.0,2.6 -41 1,0 -7.5,6.5zM617.0,193.7a4.9,3.1 -27 1,0 8.7,-4.4a4.9,3.1 -27 1,0 -8.7,4.4zM626.9,190.0a5.5,3.3 -28 1,0 9.7,-5.2a5.5,3.3 -28 1,0 -9.7,5.2zM639.0,192.1a4.5,2.8 -41 1,0 6.8,-5.8a4.5,2.8 -41 1,0 -6.8,5.8zM650.0,192.2a6.4,2.3 -32 1,0 11.0,-6.7a6.4,2.3 -32 1,0 -11.0,6.7zM660.8,195.5a6.5,2.3 -44 1,0 9.4,-9.0a6.5,2.3 -44 1,0 -9.4,9.0zM695.6,190.4a4.8,2.4 -47 1,0 6.5,-7.1a4.8,2.4 -47 1,0 -6.5,7.1zM718.7,191.9a4.5,2.8 -26 1,0 8.0,-4.0a4.5,2.8 -26 1,0 -8.0,4.0zM731.5,190.0a4.8,2.4 -48 1,0 6.5,-7.2a4.8,2.4 -48 1,0 -6.5,7.2zM491.0,198.6a5.1,2.2 -39 1,0 7.8,-6.5a5.1,2.2 -39 1,0 -7.8,6.5zM495.2,201.1a6.5,3.1 -28 1,0 11.5,-6.1a6.5,3.1 -28 1,0 -11.5,6.1zM521.9,203.6a4.5,3.4 -26 1,0 8.1,-4.0a4.5,3.4 -26 1,0 -8.1,4.0zM556.4,200.3a4.9,2.9 -28 1,0 8.8,-4.6a4.9,2.9 -28 1,0 -8.8,4.6zM584.5,202.2a6.0,3.3 -48 1,0 8.0,-8.8a6.0,3.3 -48 1,0 -8.0,8.8zM598.0,199.5a4.2,3.1 -29 1,0 7.4,-4.1a4.2,3.1 -29 1,0 -7.4,4.1zM623.4,204.0a4.2,2.7 -35 1,0 6.9,-4.9a4.2,2.7 -35 1,0 -6.9,4.9zM630.9,203.5a4.4,2.3 -29 1,0 7.7,-4.3a4.4,2.3 -29 1,0 -7.7,4.3zM641.3,202.7a5.1,2.6 -27 1,0 9.0,-4.6a5.1,2.6 -27 1,0 -9.0,4.6zM657.3,200.1a5.5,2.8 -49 1,0 7.3,-8.3a5.5,2.8 -49 1,0 -7.3,8.3zM684.1,204.5a4.9,2.3 -40 1,0 7.4,-6.3a4.9,2.3 -40 1,0 -7.4,6.3zM706.0,202.2a4.9,3.4 -39 1,0 7.6,-6.1a4.9,3.4 -39 1,0 -7.6,6.1zM715.2,201.2a5.7,2.3 -46 1,0 7.9,-8.3a5.7,2.3 -46 1,0 -7.9,8.3zM728.8,198.1a4.3,2.3 -40 1,0 6.6,-5.5a4.3,2.3 -40 1,0 -6.6,5.5zM501.7,209.1a6.1,3.2 -43 1,0 9.0,-8.3a6.1,3.2 -43 1,0 -9.0,8.3zM516.7,212.8a5.2,2.7 -36 1,0 8.3,-6.1a5.2,2.7 -36 1,0 -8.3,6.1zM542.0,214.9a5.7,3.0 -45 1,0 8.1,-8.0a5.7,3.0 -45 1,0 -8.1,8.0zM550.2,213.6a6.4,3.1 -24 1,0 11.7,-5.3a6.4,3.1 -24 1,0 -11.7,5.3zM566.2,213.6a4.4,3.0 -35 1,0 7.3,-5.0a4.4,3.0 -35 1,0 -7.3,5.0zM576.7,209.1a5.9,3.4 -28 1,0 10.4,-5.5a5.9,3.4 -28 1,0 -10.4,5.5zM589.5,210.3a6.4,2.2 -36 1,0 10.4,-7.6a6.4,2.2 -36 1,0 -10.4,7.6zM600.7,214.3a6.3,2.5 -48 1,0 8.5,-9.3a6.3,2.5 -48 1,0 -8.5,9.3zM611.5,208.2a5.4,3.4 -26 1,0 9.7,-4.7a5.4,3.4 -26 1,0 -9.7,4.7zM629.1,212.0a5.1,3.0 -35 1,0 8.3,-5.8a5.1,3.0 -35 1,0 -8.3,5.8zM639.1,209.1a5.6,2.4 -41 1,0 8.5,-7.4a5.6,2.4 -41 1,0 -8.5,7.4zM651.9,209.0a4.5,3.1 -22 1,0 8.4,-3.4a4.5,3.1 -22 1,0 -8.4,3.4zM660.2,208.7a5.3,2.8 -31 1,0 9.1,-5.6a5.3,2.8 -31 1,0 -9.1,5.6zM671.5,208.4a4.6,3.4 -41 1,0 6.9,-6.1a4.6,3.4 -41 1,0 -6.9,6.1zM685.1,210.5a5.1,2.9 -43 1,0 7.5,-6.9a5.1,2.9 -43 1,0 -7.5,6.9zM702.0,210.5a4.6,3.4 -39 1,0 7.1,-5.8a4.6,3.4 -39 1,0 -7.1,5.8zM709.0,210.3a5.4,2.9 -28 1,0 9.6,-5.1a5.4,2.9 -28 1,0 -9.6,5.1zM721.6,210.0a5.4,2.9 -46 1,0 7.4,-7.7a5.4,2.9 -46 1,0 -7.4,7.7zM729.1,210.3a6.4,2.8 -24 1,0 11.6,-5.2a6.4,2.8 -24 1,0 -11.6,5.2zM536.1,220.2a5.3,2.6 -36 1,0 8.6,-6.3a5.3,2.6 -36 1,0 -8.6,6.3zM549.8,218.0a4.7,2.9 -41 1,0 7.0,-6.2a4.7,2.9 -41 1,0 -7.0,6.2zM561.1,218.9a5.3,2.5 -34 1,0 8.8,-5.9a5.3,2.5 -34 1,0 -8.8,5.9zM571.6,222.5a5.0,3.4 -33 1,0 8.4,-5.4a5.0,3.4 -33 1,0 -8.4,5.4zM581.8,217.0a5.8,3.4 -27 1,0 10.4,-5.4a5.8,3.4 -27 1,0 -10.4,5.4zM594.3,218.5a4.1,2.8 -44 1,0 5.8,-5.7a4.1,2.8 -44 1,0 -5.8,5.7zM621.5,217.6a5.0,2.4 -30 1,0 8.7,-5.1a5.0,2.4 -30 1,0 -8.7,5.1zM640.9,220.4a4.5,2.4 -25 1,0 8.3,-3.8a4.5,2.4 -25 1,0 -8.3,3.8zM658.0,220.8a5.0,2.3 -49 1,0 6.5,-7.5a5.0,2.3 -49 1,0 -6.5,7.5zM672.3,217.8a4.6,2.9 -39 1,0 7.1,-5.8a4.6,2.9 -39 1,0 -7.1,5.8zM682.4,219.9a5.0,3.3 -42 1,0 7.4,-6.8a5.0,3.3 -42 1,0 -7.4,6.8zM699.6,221.9a5.9,3.0 -35 1,0 9.6,-6.7a5.9,3.0 -35 1,0 -9.6,6.7zM726.1,222.2a5.7,3.0 -23 1,0 10.6,-4.4a5.7,3.0 -23 1,0 -10.6,4.4zM530.5,228.9a4.2,2.7 -25 1,0 7.6,-3.6a4.2,2.7 -25 1,0 -7.6,3.6zM540.3,229.9a6.2,2.8 -48 1,0 8.3,-9.3a6.2,2.8 -48 1,0 -8.3,9.3zM581.6,230.9a4.5,2.4 -25 1,0 8.1,-3.8a4.5,2.4 -25 1,0 -8.1,3.8zM599.1,228.1a5.0,2.3 -33 1,0 8.5,-5.4a5.0,2.3 -33 1,0 -8.5,5.4zM612.2,226.5a4.4,2.4 -28 1,0 7.9,-4.1a4.4,2.4 -28 1,0 -7.9,4.1zM623.2,228.9a5.7,2.4 -47 1,0 7.7,-8.3a5.7,2.4 -47 1,0 -7.7,8.3zM659.4,233.8a6.2,2.2 -40 1,0 9.5,-8.0a6.2,2.2 -40 1,0 -9.5,8.0zM675.1,228.9a5.2,3.1 -33 1,0 8.8,-5.7a5.2,3.1 -33 1,0 -8.8,5.7zM478.4,243.1a5.7,2.4 -36 1,0 9.3,-6.8a5.7,2.4 -36 1,0 -9.3,6.8zM540.6,237.8a4.4,3.0 -48 1,0 6.0,-6.6a4.4,3.0 -48 1,0 -6.0,6.6zM547.0,239.5a6.3,2.6 -38 1,0 9.9,-7.7a6.3,2.6 -38 1,0 -9.9,7.7zM586.9,237.7a5.2,2.4 -43 1,0 7.6,-7.0a5.2,2.4 -43 1,0 -7.6,7.0z"/></g>
<g filter="url(#sb)"><path fill="#4848c0" opacity="0.45" d="M221.3,584.7a5.0,1.6 -20 1,0 9.4,-3.4a5.0,1.6 -20 1,0 -9.4,3.4zM231.3,581.4a5.0,1.6 -20 1,0 9.4,-3.4a5.0,1.6 -20 1,0 -9.4,3.4zM241.3,578.0a5.0,1.6 -20 1,0 9.4,-3.4a5.0,1.6 -20 1,0 -9.4,3.4zM251.3,574.7a5.0,1.6 -20 1,0 9.4,-3.4a5.0,1.6 -20 1,0 -9.4,3.4zM261.3,571.4a5.0,1.6 -20 1,0 9.4,-3.4a5.0,1.6 -20 1,0 -9.4,3.4zM271.3,568.0a5.0,1.6 -20 1,0 9.4,-3.4a5.0,1.6 -20 1,0 -9.4,3.4zM281.3,564.7a5.0,1.6 -20 1,0 9.4,-3.4a5.0,1.6 -20 1,0 -9.4,3.4z"/><path fill="#a02830" opacity="0.7" d="M225.1,592.8a5.2,2.4 -20 1,0 9.8,-3.6a5.2,2.4 -20 1,0 -9.8,3.6zM232.8,588.0a5.2,2.4 -20 1,0 9.8,-3.6a5.2,2.4 -20 1,0 -9.8,3.6zM240.5,585.2a5.2,2.4 -20 1,0 9.8,-3.6a5.2,2.4 -20 1,0 -9.8,3.6zM248.2,584.5a5.2,2.4 -20 1,0 9.8,-3.6a5.2,2.4 -20 1,0 -9.8,3.6zM255.9,579.7a5.2,2.4 -20 1,0 9.8,-3.6a5.2,2.4 -20 1,0 -9.8,3.6zM263.6,576.9a5.2,2.4 -20 1,0 9.8,-3.6a5.2,2.4 -20 1,0 -9.8,3.6zM271.3,576.2a5.2,2.4 -20 1,0 9.8,-3.6a5.2,2.4 -20 1,0 -9.8,3.6zM279.0,571.4a5.2,2.4 -20 1,0 9.8,-3.6a5.2,2.4 -20 1,0 -9.8,3.6zM286.7,568.6a5.2,2.4 -20 1,0 9.8,-3.6a5.2,2.4 -20 1,0 -9.8,3.6zM294.3,567.9a5.2,2.4 -20 1,0 9.8,-3.6a5.2,2.4 -20 1,0 -9.8,3.6zM302.0,563.1a5.2,2.4 -20 1,0 9.8,-3.6a5.2,2.4 -20 1,0 -9.8,3.6zM309.7,560.3a5.2,2.4 -20 1,0 9.8,-3.6a5.2,2.4 -20 1,0 -9.8,3.6zM317.4,559.5a5.2,2.4 -20 1,0 9.8,-3.6a5.2,2.4 -20 1,0 -9.8,3.6zM325.1,554.8a5.2,2.4 -20 1,0 9.8,-3.6a5.2,2.4 -20 1,0 -9.8,3.6z"/></g>
<g fill="none" stroke-linecap="round" stroke-linejoin="round"><path d="M350,78 C360,92 370,100 390,102 C410,104 425,94 445,84 C465,74 490,66 520,56" stroke="#5a5ad0" stroke-width="3" opacity="0.14" transform="translate(-2,-4)"/><path d="M350,80 C360,94 370,102 390,104 C410,106 425,96 445,86 C465,76 490,68 520,58" stroke="#c0404a" stroke-width="3.5" opacity="0.2"/><path d="M425,196 C445,205 470,215 500,228" stroke="#c0404a" stroke-width="7" opacity="0.12"/></g>
<polygon points="376,372 385,364 393,358 406,345 417,331 420,320 436,315 457,307 470,300 478,296 492,291 505,286 518,282 528,280 542,279 546,286 542,294 530,302 522,312 508,320 494,328 478,336 462,344 450,352 438,364 416,364 407,371 400,378 389,382 376,382" fill="#87828a" stroke="#555155" stroke-width="0.8"/>
<path d="M528,341.9 L555,340.5 L581.4,339.2 L600,330 L616.2,317.8" fill="none" stroke="#4a4648" stroke-width="3.8" stroke-linejoin="round"/>
<path d="M528,341.9 L555,340.5 L581.4,339.2 L600,330 L616.2,317.8" fill="none" stroke="#f3eef2" stroke-width="2.0" stroke-linejoin="round"/>
<path d="M615,318 L619,310 L623,304 L627,299 L631,292 L634,286 L637,282 L641,279 L645,274 L650,273 L655,272 L665,270 L670,267 L675,264 L681,262 L687,261 L699,262" fill="none" stroke="#4a4648" stroke-width="3.8" stroke-linejoin="round"/>
<path d="M615,318 L619,310 L623,304 L627,299 L631,292 L634,286 L637,282 L641,279 L645,274 L650,273 L655,272 L665,270 L670,267 L675,264 L681,262 L687,261 L699,262" fill="none" stroke="#f3eef2" stroke-width="2.0" stroke-linejoin="round"/>
<path d="M615,318 L621,315 L627,313 L633,312 L639,311 L649,311 L659,310 L665,310 L671,311 L677,314 L683,318 L689,321 L695,324 L703,326 L709,323 L715,320 L725,318 L736,316" fill="none" stroke="#4a4648" stroke-width="3.8" stroke-linejoin="round"/>
<path d="M615,318 L621,315 L627,313 L633,312 L639,311 L649,311 L659,310 L665,310 L671,311 L677,314 L683,318 L689,321 L695,324 L703,326 L709,323 L715,320 L725,318 L736,316" fill="none" stroke="#f3eef2" stroke-width="2.0" stroke-linejoin="round"/>
<path d="M701.7,324.5 L706,334 L712.3,344.5 L725.7,357.3" fill="none" stroke="#4a4648" stroke-width="3.8" stroke-linejoin="round"/>
<path d="M701.7,324.5 L706,334 L712.3,344.5 L725.7,357.3" fill="none" stroke="#f3eef2" stroke-width="2.0" stroke-linejoin="round"/>
<path d="M472,340 L478,352 L486,364 L492,372" fill="none" stroke="#4a4648" stroke-width="3.8" stroke-linejoin="round"/>
<path d="M472,340 L478,352 L486,364 L492,372" fill="none" stroke="#f3eef2" stroke-width="2.0" stroke-linejoin="round"/>
<path d="M433,358 L450,350 L470,344 L485,342 L500,341 L515,342 L528,342" fill="none" stroke="#4a4648" stroke-width="3.8" stroke-linejoin="round"/>
<path d="M433,358 L450,350 L470,344 L485,342 L500,341 L515,342 L528,342" fill="none" stroke="#f3eef2" stroke-width="2.0" stroke-linejoin="round"/>
<polygon points="698,318 704,316 708,320 712,322 708,327 704,332 700,328 695,324" fill="#f6f3f8" stroke="#4a4648" stroke-width="0.8"/>
<polygon points="533,490 538,488.4 544,492 552,496 560,497 560,503 554,503 546,499 540,499 538,502 536,495" fill="#9a969c" stroke="#333" stroke-width="1"/>
<polygon points="540,490.5 546,493 553,497 559,498 559,502 554,502 546,498 541,496" fill="#ececfa"/>
<polygon points="526,593 532,592 536,600 538,606 534,612 530,616 520,616 516,608 522,605 528,602" fill="#f8eef0" stroke="#444" stroke-width="0.8"/>
<rect x="580" y="586" width="8" height="8" fill="#f8f8f8" stroke="#333" stroke-width="1"/>
<rect x="540.5" y="262.5" width="8" height="8" rx="1" fill="#eeeef8" stroke="#333" stroke-width="1"/>
<g fill="#f8f0f2"><polygon points="480,318 486,315 488,318 483,322"/><polygon points="489,322 494,320 494,325 490,326"/><polygon points="422,358 428,355 430,360 424,364"/></g>
<g stroke-linecap="round" fill="none"><path d="M339,487 L344,481 L350,472" stroke="#f6d4d8" stroke-width="2.2"/><path d="M345,479 L349,474" stroke="#f4f4ff" stroke-width="1"/><path d="M391,481 L396,477" stroke="#f8d0d4" stroke-width="2"/><path d="M389,494 L395,492" stroke="#fbe8ea" stroke-width="2"/></g>
<polygon points="423.5,68 430.2,66.2 438.2,68 442.2,72 443,77.4 438.2,78.7 432.9,76 427.5,73.4 424.3,70.7" fill="none" stroke="#000" stroke-width="1.5" stroke-linejoin="round"/>
<polygon points="463.6,68 467.6,62.7 475.6,61.3 481,64 478.3,68 470.3,69.4 465,72" fill="none" stroke="#000" stroke-width="1.5" stroke-linejoin="round"/>
<polygon points="502.3,109.4 506.4,110.8 507.7,116.1 514.4,118.8 513,124.1 505,125.5 499.7,129.5 494.3,128.2 497,122.8 502.3,118.8" fill="none" stroke="#000" stroke-width="1.5" stroke-linejoin="round"/>
<polygon points="588.1,118.8 597.5,112.1 608.1,106.8 616.2,101.4 621.5,96.1 624.2,88.1 628.2,82.7 629,85.4 626.9,93.4 622.8,100.1 616.2,106.8 608.1,110.8 597.5,116.1 589.4,120.7" fill="none" stroke="#000" stroke-width="1.5" stroke-linejoin="round"/>
<polygon points="608.1,64 616.2,61.3 626.9,60 630.9,62.7 626.9,68 618.8,70.7 610.8,72" fill="none" stroke="#000" stroke-width="1.5" stroke-linejoin="round"/>
<polygon points="614,75 620,75 621.5,80 617,83 613.5,80" fill="none" stroke="#000" stroke-width="1.5" stroke-linejoin="round"/>
<polygon points="627,72 634.9,74 631,78.7" fill="none" stroke="#000" stroke-width="1.5" stroke-linejoin="round"/>
<polygon points="657.6,62.7 666.9,61.3 673.6,60 679,61.3 676.3,65.4 669.6,66.7" fill="none" stroke="#000" stroke-width="1.5" stroke-linejoin="round"/>
<polygon points="552,62 558,61.3 562.7,63 560,66.7 554,65.5" fill="none" stroke="#000" stroke-width="1.5" stroke-linejoin="round"/>
<polygon points="570.7,63 578,62.7 580.1,66 576,69.4 571.5,67.5" fill="none" stroke="#000" stroke-width="1.5" stroke-linejoin="round"/>
<polygon points="575,82 581.4,81.4 578,86 576,92.1 573.4,90" fill="none" stroke="#000" stroke-width="1.5" stroke-linejoin="round"/>
<g fill="none" stroke="#000" stroke-width="1.3"><ellipse cx="501" cy="143" rx="4" ry="2.2" transform="rotate(-15 501 143)"/><ellipse cx="507" cy="148" rx="2.8" ry="2" transform="rotate(40 507 148)"/></g>
<g fill="#000"><circle cx="555" cy="99" r="1.6"/><circle cx="453" cy="69" r="1.2"/><circle cx="513" cy="68" r="1.2"/><circle cx="695" cy="60" r="1.5"/><circle cx="446" cy="109" r="1.3"/></g>
<rect x="694" y="122" width="8" height="7" rx="2" fill="#6d686c" stroke="#333" stroke-width="0.8"/>
<polygon points="250,91 254,90 256,95 252,96" fill="#fbf8f9" stroke="#444" stroke-width="0.8"/>
<polygon points="258,110 262,109 266,114 270,120 267,122 262,117" fill="#fbf8f9" stroke="#444" stroke-width="0.8"/>
<polygon points="344,269 353,267 359,269 369,266 369,262 376,263 375,265 370,268 359,271 351,274 345,274" fill="#fbf8f9" stroke="#444" stroke-width="0.8"/>
<polygon points="322.2,319.6 324,323.1 323.1,335.6 322.2,344.4 319.6,351.6 317.8,356.9 316,362.2 312.4,366.7 307.1,368.4 305.3,366.7 310.7,364 314.2,359.6 316.9,353.3 319.6,344.4 320.4,332 320.4,323.1" fill="#fbf8f9" stroke="#444" stroke-width="0.8"/>
<polygon points="108,56 225,56 228.8,61.1 234,71.4 235.2,75.3 231.4,79.1 226.3,81.7 222.4,86.8 219.8,94.6 216,99.7 212.1,106.1 209.5,112.6 207,120.3 204.4,128 201.8,135.7 200.5,143.4 199.3,153.7 196.7,158.8 194.1,169.1 190.3,179.4 187.7,187.1 183.8,194.8 180,202.5 178,205.7 179.4,211.4 185.1,215.7 189.4,221.4 186.6,225.7 185.1,232.9 182.3,240 178.7,247.1 176.6,254.3 173.7,258.6 174.4,262.9 170.9,267.1 168,277.1 165.1,282.9 162.3,288.6 159,293.7 157.2,304.9 152.6,310.4 149.8,316 150.7,321.6 146.1,329 143.3,334.6 142.3,343.8 141.4,351.3 141.4,360.6 136.8,364.3 134,368 128.4,371.7 126.6,377.3 122.9,381 115.4,384.7 114.5,388.4 109.9,391.2 108,392.1" fill="#fdf4f4"/>
<g clip-path="url(#cpOc)"><polygon points="119.6,97 126,94.6 136.3,97 144,112.6 149,133 155.6,151 158.5,160 158.5,300 156,305 150,312 140,322 125,328 119,320 119,258 135,254 135,210 123,205 118.3,190 119.6,159 118.3,133" fill="#f4f4fd"/><polygon points="162,84.3 174.8,84.3 192.8,89.4 205.7,99.7 210.8,107.4 208.3,122.8 203.1,138.3 192.8,143.4 185.1,140.8 174.8,125.4 167.1,112.6 162,97.1" fill="#f4f4fd"/><polygon points="195.4,56 226.3,56 231.4,71.4 221.1,86.8 216,94.6 205.7,81.7 195.4,66.3" fill="#f4f4fd"/><polygon points="161,153.7 169.7,156.3 172.3,171.7 169.7,189.7 167.1,210.2 168,250 166,300 158.5,300 158.5,160" fill="#f4f4fd"/></g>
<polygon points="108,401 112,402 113.6,406 111,409 108,409" fill="#fdf6f6"/>
<polygon points="175.5,499 176.5,500.5 168.5,510 166.3,515 160.4,520.8 154.6,528.5 155.6,536.3 158.5,534.4 159.5,540.2 166.3,546 169.2,553.8 169.2,563.5 160.4,567.4 152.7,571.3 143.9,581 149.7,581.9 159.5,582.9 149.7,584.9 146.8,587.8 142,587.8 137.1,590.7 140,596.5 143,603.3 141,602.3 135.2,594.6 129.4,594.6 125.5,590.7 117.7,584.9 108,583.9 108,581.9 119.7,581 128.4,579 130.3,571.3 133.2,565.4 135.2,557.7 137.1,549.9 142,546 143,538.3 148.8,534.4 149.7,528.5 156.5,524.7 162.4,516.9 167.5,508" fill="#fdf6f6"/>
<g fill="#fbf7f8"><polygon points="193.4,498.4 197,494 199.3,493.6 196,498.4"/><polygon points="205,489.7 207,487.8 208.5,488.5 206,490.5"/></g>
<line x1="346.4" y1="385.2" x2="509.6" y2="275.7" stroke="#000" stroke-width="3.9"/>
<circle cx="428.5" cy="330.3" r="7" fill="#ff0000" stroke="#000" stroke-width="2.6"/>
</g>
<!-- grid -->
<g stroke="#000" stroke-width="1.2" fill="none">
<line x1="161.8" y1="56" x2="153.6" y2="616"/>
<line x1="374" y1="56" x2="372.3" y2="616"/>
<line x1="586" y1="56" x2="591" y2="616"/>
<path d="M108,255 Q421.5,259 735,255"/>
<path d="M108,505 Q421.5,509 735,505"/>
</g>
<rect x="108.5" y="56.5" width="627" height="560" fill="none" stroke="#000" stroke-width="1.2"/>
<!-- title -->
<text id="title" x="123" y="49.3" font-size="25">Init: 2017-04-30 00:00; Valid: 2017-06-08 15:00</text>
<!-- x ticks -->
<g font-size="28" text-anchor="middle">
<text id="xt1" x="153.5" y="644">-9.0</text>
<text x="372.3" y="644">-8.0</text>
<text x="591" y="644">-7.0</text>
</g>
<text id="xl" x="423.4" y="680" font-size="30.56" text-anchor="middle">Longitude (deg)</text>
<g font-size="28" text-anchor="end">
<text id="yt1" x="105.2" y="263.5">40.0</text>
<text x="105.2" y="513.5">39.0</text>
</g>
<text id="yl" transform="translate(30,335) rotate(-90)" font-size="30.56" text-anchor="middle">Latitude (deg)</text>
<!-- colorbar -->
<g id="cbar">
<rect x="750.5" y="523.40" width="20.5" height="17.30" fill="#1414ff"/>
<rect x="750.5" y="506.39" width="20.5" height="17.30" fill="#2929ff"/>
<rect x="750.5" y="489.39" width="20.5" height="17.30" fill="#3d3dff"/>
<rect x="750.5" y="472.38" width="20.5" height="17.30" fill="#5252ff"/>
<rect x="750.5" y="455.38" width="20.5" height="17.30" fill="#6666ff"/>
<rect x="750.5" y="438.38" width="20.5" height="17.30" fill="#7a7aff"/>
<rect x="750.5" y="421.37" width="20.5" height="17.30" fill="#8f8fff"/>
<rect x="750.5" y="404.37" width="20.5" height="17.30" fill="#a3a3ff"/>
<rect x="750.5" y="387.36" width="20.5" height="17.30" fill="#b8b8ff"/>
<rect x="750.5" y="370.36" width="20.5" height="17.30" fill="#ccccff"/>
<rect x="750.5" y="353.35" width="20.5" height="17.30" fill="#e0e0ff"/>
<rect x="750.5" y="336.35" width="20.5" height="17.30" fill="#f5f5ff"/>
<rect x="750.5" y="319.35" width="20.5" height="17.30" fill="#fff5f5"/>
<rect x="750.5" y="302.34" width="20.5" height="17.30" fill="#ffe0e0"/>
<rect x="750.5" y="285.34" width="20.5" height="17.30" fill="#ffcccc"/>
<rect x="750.5" y="268.33" width="20.5" height="17.30" fill="#ffb8b8"/>
<rect x="750.5" y="251.33" width="20.5" height="17.30" fill="#ffa3a3"/>
<rect x="750.5" y="234.32" width="20.5" height="17.30" fill="#ff8f8f"/>
<rect x="750.5" y="217.32" width="20.5" height="17.30" fill="#ff7a7a"/>
<rect x="750.5" y="200.32" width="20.5" height="17.30" fill="#ff6666"/>
<rect x="750.5" y="183.31" width="20.5" height="17.30" fill="#ff5252"/>
<rect x="750.5" y="166.31" width="20.5" height="17.30" fill="#ff3d3d"/>
<rect x="750.5" y="149.30" width="20.5" height="17.30" fill="#ff2929"/>
<rect x="750.5" y="132.30" width="20.5" height="17.30" fill="#ff1414"/>
<polygon points="750.5,132.3 760.7,111 771.0,132.3" fill="#ff0000"/>
<polygon points="750.5,540.4 760.7,560.4 771.0,540.4" fill="#0000ff"/>
<path d="M750.5,132.3 L760.7,111 L771.0,132.3 L771.0,540.4 L760.7,560.4 L750.5,540.4 Z" fill="none" stroke="#000" stroke-width="1.2" stroke-linejoin="miter"/>
<path d="M765.2,132.3H771.0 M765.2,183.3H771.0 M765.2,234.3H771.0 M765.2,285.3H771.0 M765.2,336.4H771.0 M765.2,387.4H771.0 M765.2,438.4H771.0 M765.2,489.4H771.0 M765.2,540.4H771.0" stroke="#000" stroke-width="1"/>
</g>
<g font-size="30.56">
<text id="c1" x="775.3" y="140.6">6.0</text>
<text x="775.3" y="191.6">4.5</text>
<text x="775.3" y="242.6">3.0</text>
<text x="775.3" y="293.6">1.5</text>
<text x="775.3" y="344.7">0.0</text>
<text x="775.3" y="395.7">−1.5</text>
<text x="775.3" y="446.7">−3.0</text>
<text x="775.3" y="497.7">−4.5</text>
<text x="775.3" y="548.7">−6.0</text>
</g>
<text id="cl" transform="translate(879,336) rotate(-90)" font-size="30.56" text-anchor="middle">Vertical wind speed at 850.0 hPa (m s<tspan dy="-13.5" font-size="21.4">−1</tspan><tspan dy="13.5" dx="3.5">)</tspan></text>
</svg>
</body></html>
